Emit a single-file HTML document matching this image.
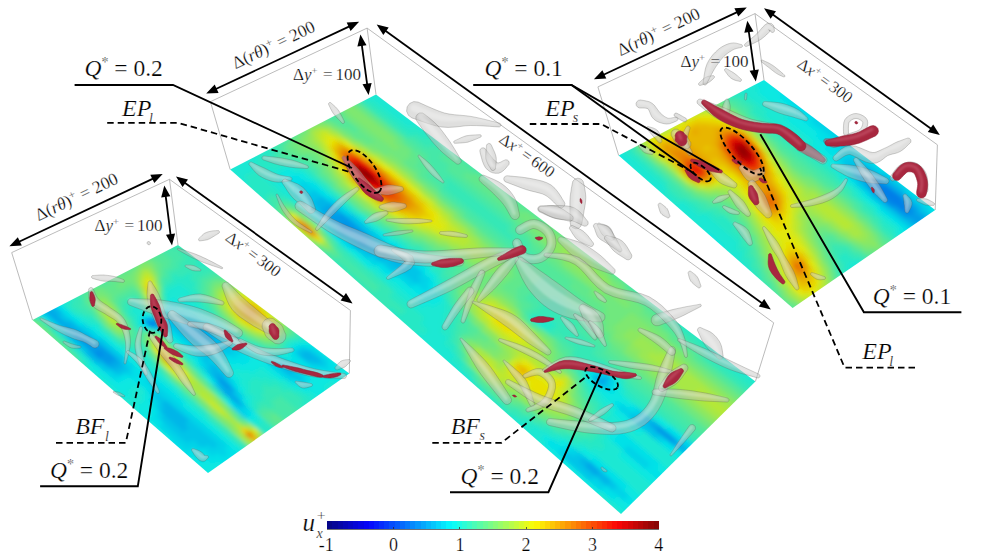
<!DOCTYPE html>
<html lang="en"><head><meta charset="utf-8"><title>Figure</title>
<style>html,body{margin:0;padding:0;background:#fff}svg{display:block}text{font-family:"Liberation Serif","DejaVu Serif",serif;fill:#000;stroke:#fff;stroke-width:0.24px}.it{font-style:italic}</style></head><body>
<svg width="983" height="553" viewBox="0 0 983 553">
<defs><filter id="bl" x="-5%" y="-5%" width="110%" height="110%"><feGaussianBlur stdDeviation="2.2"/></filter><filter id="b1" x="-20%" y="-20%" width="140%" height="140%"><feGaussianBlur stdDeviation="0.8"/></filter><filter id="b2" x="-20%" y="-20%" width="140%" height="140%"><feGaussianBlur stdDeviation="1.6"/></filter><marker id="ah" viewBox="0 0 12 10" refX="11.5" refY="5" markerWidth="12" markerHeight="10" markerUnits="userSpaceOnUse" orient="auto-start-reverse"><path d="M0 0L12 5L0 10z" fill="#000"/></marker></defs>
<rect width="983" height="553" fill="#fff"/>
<!-- plane mid -->
<clipPath id="cp_mid"><polygon points="376,94.5 755.4,381.5 621,514 230.2,169.5"/></clipPath>
<g clip-path="url(#cp_mid)"><g filter="url(#bl)">
<path fill="#1ae8d3" d="M365.4 76.1L440 132L434.4 135.2L359.7 78.9z"/>
<path fill="#28e8c5" d="M438.7 131.1L467.3 152.5L461.7 155.8L433.1 134.3z"/>
<path fill="#36e8b6" d="M465.9 151.5L567.9 228L562.4 231.8L460.3 154.8z"/>
<path fill="#45e8a8" d="M566.4 226.8L604.1 255.1L598.7 259.2L560.9 230.7z"/>
<path fill="#36e8b6" d="M602.5 253.9L641.8 283.4L636.4 287.7L597.1 258z"/>
<path fill="#28e8c5" d="M640.1 282.1L686 316.6L680.7 321.1L634.7 286.4z"/>
<path fill="#1ae8d3" d="M684.3 315.3L792.2 396.2L787.1 401.4L679 319.8z"/>
<path fill="#1ae8d3" d="M360.5 78.6L427.5 129L421.8 132.2L354.8 81.4z"/>
<path fill="#28e8c5" d="M426.2 128.1L442.9 140.6L437.2 143.9L420.5 131.2z"/>
<path fill="#36e8b6" d="M441.5 139.6L458.5 152.4L452.8 155.7L435.9 142.9z"/>
<path fill="#45e8a8" d="M457.1 151.4L494.8 179.7L489.1 183.3L451.5 154.7z"/>
<path fill="#53e89a" d="M493.3 178.7L549.9 221.3L544.4 225.2L487.7 182.2z"/>
<path fill="#61e88c" d="M548.4 220.2L613.4 269.2L607.9 273.3L542.9 224z"/>
<path fill="#53e89a" d="M611.8 267.9L632.3 283.4L626.9 287.7L606.3 272.1z"/>
<path fill="#45e8a8" d="M630.7 282.2L651.7 298L646.3 302.4L625.3 286.5z"/>
<path fill="#36e8b6" d="M650 296.8L681.5 320.5L676.1 325.1L644.6 301.2z"/>
<path fill="#28e8c5" d="M679.7 319.2L717.4 347.6L712.2 352.4L674.4 323.8z"/>
<path fill="#1ae8d3" d="M715.6 346.2L787.8 400.7L782.8 405.9L710.4 351z"/>
<path fill="#1ae8d3" d="M355.6 81L415 126L409.3 129.2L349.8 83.9z"/>
<path fill="#28e8c5" d="M413.7 125.1L430.3 137.6L424.5 140.8L408 128.2z"/>
<path fill="#36e8b6" d="M428.9 136.6L441.9 146.4L436.2 149.7L423.2 139.8z"/>
<path fill="#45e8a8" d="M440.5 145.4L453.6 155.3L447.9 158.6L434.8 148.7z"/>
<path fill="#53e89a" d="M452.3 154.3L477.6 173.5L472 177L446.6 157.6z"/>
<path fill="#61e88c" d="M476.3 172.4L527.8 211.5L522.2 215.2L470.6 175.9z"/>
<path fill="#6fe87e" d="M526.3 210.3L545.1 224.6L539.6 228.5L520.7 214.1z"/>
<path fill="#7ee86f" d="M543.6 223.5L567.3 241.4L561.8 245.4L538.1 227.3z"/>
<path fill="#8ce861" d="M565.8 240.3L594.7 262.2L589.2 266.3L560.2 244.2z"/>
<path fill="#7ee86f" d="M593.1 261L613.4 276.3L607.9 280.6L587.6 265.1z"/>
<path fill="#6fe87e" d="M611.8 275.1L627.7 287.1L622.2 291.5L606.3 279.3z"/>
<path fill="#61e88c" d="M626 285.9L642.2 298.1L636.7 302.6L620.6 290.2z"/>
<path fill="#53e89a" d="M640.5 296.9L661.9 313L656.5 317.6L635.1 301.3z"/>
<path fill="#45e8a8" d="M660.2 311.8L681.9 328.3L676.6 332.9L654.8 316.3z"/>
<path fill="#36e8b6" d="M680.2 327L707.7 347.8L702.4 352.6L674.9 331.6z"/>
<path fill="#28e8c5" d="M705.9 346.4L783.5 405.2L778.4 410.5L700.6 351.2z"/>
<path fill="#1ae8d3" d="M350.6 83.5L373.2 100.7L367.4 103.7L344.8 86.4z"/>
<path fill="#28e8c5" d="M372 99.7L417.7 134.5L411.9 137.8L366.2 102.7z"/>
<path fill="#36e8b6" d="M416.4 133.5L433.1 146.2L427.3 149.6L410.6 136.8z"/>
<path fill="#45e8a8" d="M431.7 145.2L444.8 155.2L439 158.5L426 148.5z"/>
<path fill="#53e89a" d="M443.4 154.1L468.7 173.4L463 176.9L437.7 157.5z"/>
<path fill="#61e88c" d="M467.3 172.3L518.7 211.4L513 215.2L461.6 175.8z"/>
<path fill="#6fe87e" d="M517.2 210.3L536 224.6L530.3 228.5L511.5 214.1z"/>
<path fill="#7ee86f" d="M534.5 223.5L549.2 234.7L543.5 238.6L528.8 227.3z"/>
<path fill="#8ce861" d="M547.6 233.5L567.1 248.3L561.5 252.3L542 237.4z"/>
<path fill="#9ae853" d="M565.5 247.1L599.3 272.8L593.7 277.1L559.9 251.2z"/>
<path fill="#8ce861" d="M597.7 271.6L613.4 283.6L607.9 287.9L592.1 275.8z"/>
<path fill="#7ee86f" d="M611.8 282.4L627.8 294.5L622.3 298.9L606.3 286.7z"/>
<path fill="#6fe87e" d="M626.1 293.3L647.3 309.4L641.8 313.9L620.6 297.7z"/>
<path fill="#61e88c" d="M645.6 308.1L667.2 324.6L661.8 329.2L640.2 312.6z"/>
<path fill="#53e89a" d="M665.5 323.3L687.6 340.1L682.2 344.8L660.1 327.9z"/>
<path fill="#45e8a8" d="M685.8 338.7L708.3 355.9L703 360.8L680.4 343.5z"/>
<path fill="#36e8b6" d="M706.5 354.5L779.1 409.8L773.9 415.1L701.2 359.4z"/>
<path fill="#36e8b6" d="M345.6 86L412.7 137.3L406.9 140.6L339.8 88.9z"/>
<path fill="#45e8a8" d="M411.4 136.3L451.7 167.2L445.9 170.6L405.6 139.6z"/>
<path fill="#53e89a" d="M450.4 166.1L513.8 214.7L508.1 218.5L444.6 169.6z"/>
<path fill="#61e88c" d="M512.3 213.6L531.1 227.9L525.4 231.8L506.6 217.3z"/>
<path fill="#6fe87e" d="M529.6 226.8L544.3 238.1L538.6 242L523.9 230.7z"/>
<path fill="#7ee86f" d="M542.8 236.9L557.7 248.3L552.1 252.4L537.1 240.9z"/>
<path fill="#8ce861" d="M556.2 247.1L608.7 287.3L603.1 291.7L550.5 251.2z"/>
<path fill="#7ee86f" d="M607 286.1L632.8 305.8L627.3 310.3L601.5 290.4z"/>
<path fill="#6fe87e" d="M631.1 304.5L672.7 336.3L667.3 341.1L625.6 309z"/>
<path fill="#61e88c" d="M670.9 335L698.5 356.1L693.1 361L665.5 339.7z"/>
<path fill="#53e89a" d="M696.7 354.7L774.6 414.4L769.4 419.8L691.3 359.6z"/>
<path fill="#53e89a" d="M340.6 88.5L359.6 103.1L353.7 106.1L334.7 91.4z"/>
<path fill="#61e88c" d="M358.3 102.1L407.7 140.1L401.9 143.4L352.5 105.2z"/>
<path fill="#53e89a" d="M406.4 139.1L430.9 158L425.1 161.4L400.6 142.4z"/>
<path fill="#45e8a8" d="M429.6 156.9L517.5 224.6L511.7 228.5L423.7 160.3z"/>
<path fill="#53e89a" d="M516 223.4L535 238.1L529.3 242L510.3 227.3z"/>
<path fill="#61e88c" d="M533.5 236.9L548.4 248.3L542.7 252.4L527.8 240.9z"/>
<path fill="#6fe87e" d="M546.8 247.2L566.5 262.3L560.8 266.5L541.1 251.2z"/>
<path fill="#7ee86f" d="M564.9 261.1L608.7 294.7L603.1 299.2L559.2 265.2z"/>
<path fill="#6fe87e" d="M607 293.5L632.9 313.4L627.4 318L601.4 297.9z"/>
<path fill="#7ee86f" d="M631.2 312.1L688.6 356.3L683.2 361.2L625.7 316.7z"/>
<path fill="#6fe87e" d="M686.9 354.9L770.1 419L764.9 424.5L681.4 359.8z"/>
<path fill="#61e88c" d="M335.5 91L340.3 94.7L334.3 97.6L329.6 93.9z"/>
<path fill="#6fe87e" d="M339 93.7L350.9 102.9L345 105.9L333.1 96.7z"/>
<path fill="#7ee86f" d="M349.7 102L398.9 140L393 143.3L343.8 105z"/>
<path fill="#6fe87e" d="M397.6 139L414.2 151.9L408.3 155.2L391.7 142.3z"/>
<path fill="#61e88c" d="M412.9 150.8L422 157.9L416.1 161.3L407 154.2z"/>
<path fill="#53e89a" d="M420.6 156.8L433.8 167L427.9 170.5L414.8 160.2z"/>
<path fill="#45e8a8" d="M432.4 165.9L449.8 179.4L443.9 182.9L426.5 169.4z"/>
<path fill="#36e8b6" d="M448.4 178.3L512.5 227.9L506.8 231.8L442.5 181.8z"/>
<path fill="#45e8a8" d="M511.1 226.8L534.5 244.9L528.8 249L505.3 230.7z"/>
<path fill="#53e89a" d="M533 243.7L548 255.3L542.2 259.4L527.2 247.8z"/>
<path fill="#61e88c" d="M546.4 254.1L594.3 291.2L588.6 295.5L540.7 258.2z"/>
<path fill="#6fe87e" d="M592.7 289.9L628.1 317.4L622.5 322L587 294.3z"/>
<path fill="#7ee86f" d="M626.5 316L643 328.9L637.5 333.6L620.8 320.6z"/>
<path fill="#8ce861" d="M641.3 327.6L765.6 423.7L760.3 429.2L635.7 332.2z"/>
<path fill="#61e88c" d="M330.4 93.5L335.1 97.2L329.2 100.2L324.4 96.5z"/>
<path fill="#6fe87e" d="M333.9 96.3L342.2 102.7L336.3 105.8L328 99.3z"/>
<path fill="#7ee86f" d="M341 101.8L401.4 148.8L395.5 152.1L335.1 104.8z"/>
<path fill="#6fe87e" d="M400.1 147.7L413 157.8L407.1 161.2L394.2 151.1z"/>
<path fill="#61e88c" d="M411.7 156.7L420.8 163.8L414.9 167.3L405.7 160.1z"/>
<path fill="#53e89a" d="M419.5 162.8L432.7 173.1L426.8 176.6L413.6 166.2z"/>
<path fill="#45e8a8" d="M431.3 172L448.8 185.6L442.9 189.2L425.4 175.5z"/>
<path fill="#36e8b6" d="M447.4 184.5L516.3 238.1L510.5 242.1L441.5 188.1z"/>
<path fill="#45e8a8" d="M514.8 236.9L538.5 255.4L532.7 259.5L509 240.9z"/>
<path fill="#53e89a" d="M537 254.2L575.2 283.9L569.5 288.3L531.2 258.3z"/>
<path fill="#61e88c" d="M573.6 282.7L608.6 309.9L603 314.4L567.9 287z"/>
<path fill="#6fe87e" d="M607 308.6L623.3 321.3L617.7 326L601.3 313.1z"/>
<path fill="#7ee86f" d="M621.6 320L633.2 329L627.6 333.7L616 324.6z"/>
<path fill="#8ce861" d="M631.5 327.7L643.3 336.8L637.7 341.6L625.9 332.4z"/>
<path fill="#9ae853" d="M641.5 335.5L663.6 352.7L658.1 357.6L635.9 340.2z"/>
<path fill="#a8e845" d="M661.9 351.3L761.1 428.4L755.7 434L656.3 356.2z"/>
<path fill="#53e89a" d="M325.3 96.1L337.1 105.4L331.1 108.4L319.3 99.1z"/>
<path fill="#61e88c" d="M335.9 104.4L347.9 113.8L341.9 116.9L329.9 107.4z"/>
<path fill="#6fe87e" d="M346.6 112.8L407.9 160.7L401.9 164.1L340.6 115.9z"/>
<path fill="#61e88c" d="M406.6 159.7L423.6 173L417.7 176.5L400.6 163.1z"/>
<path fill="#53e89a" d="M422.3 171.9L443.7 188.7L437.8 192.3L416.3 175.4z"/>
<path fill="#45e8a8" d="M442.3 187.6L538 262.4L532.2 266.6L436.4 191.2z"/>
<path fill="#53e89a" d="M536.5 261.2L589.3 302.5L583.5 307L530.7 265.4z"/>
<path fill="#61e88c" d="M587.6 301.2L608.6 317.6L602.9 322.2L581.9 305.7z"/>
<path fill="#6fe87e" d="M606.9 316.3L618.5 325.3L612.8 330L601.2 320.9z"/>
<path fill="#7ee86f" d="M616.8 324L628.4 333.1L622.7 337.8L611.1 328.7z"/>
<path fill="#8ce861" d="M626.7 331.7L638.4 340.9L632.8 345.7L621 336.5z"/>
<path fill="#9ae853" d="M636.7 339.6L653.7 352.9L648.1 357.8L631 344.4z"/>
<path fill="#a8e845" d="M651.9 351.5L701 389.9L695.5 395.1L646.3 356.4z"/>
<path fill="#b6e836" d="M699.2 388.4L756.5 433.2L751.1 438.8L693.7 393.6z"/>
<path fill="#36e8b6" d="M320.1 98.7L328.4 105.2L322.3 108.2L314 101.7z"/>
<path fill="#45e8a8" d="M327.2 104.2L339.1 113.6L333 116.7L321.1 107.3z"/>
<path fill="#53e89a" d="M337.9 112.6L361 130.8L355 134.1L331.8 115.8z"/>
<path fill="#61e88c" d="M359.7 129.8L375.9 142.6L369.9 145.9L353.7 133.1z"/>
<path fill="#6fe87e" d="M374.6 141.6L391.2 154.5L385.1 157.9L368.6 144.9z"/>
<path fill="#7ee86f" d="M389.8 153.5L418.5 176L412.5 179.6L383.8 156.9z"/>
<path fill="#6fe87e" d="M417.1 175L442.7 195L436.7 198.7L411.1 178.5z"/>
<path fill="#61e88c" d="M441.3 193.9L467.5 214.6L461.6 218.4L435.3 197.6z"/>
<path fill="#53e89a" d="M466.1 213.4L546.7 276.8L540.9 281.1L460.1 217.2z"/>
<path fill="#45e8a8" d="M545.1 275.6L570 295.1L564.2 299.6L539.3 279.9z"/>
<path fill="#53e89a" d="M568.4 293.9L593.9 313.9L588.2 318.5L562.6 298.3z"/>
<path fill="#61e88c" d="M592.3 312.6L608.6 325.5L602.8 330.1L586.5 317.2z"/>
<path fill="#6fe87e" d="M606.9 324.1L618.5 333.2L612.8 338L601.2 328.8z"/>
<path fill="#7ee86f" d="M616.8 331.9L633.6 345.1L627.8 349.9L611.1 336.6z"/>
<path fill="#8ce861" d="M631.8 343.7L643.7 353.1L638 358L626.1 348.6z"/>
<path fill="#9ae853" d="M642 351.7L680.2 381.7L674.6 386.9L636.3 356.6z"/>
<path fill="#a8e845" d="M678.4 380.3L751.8 438L746.4 443.7L672.8 385.5z"/>
<path fill="#28e8c5" d="M314.9 101.3L319.6 105L313.5 108.1L308.8 104.3z"/>
<path fill="#36e8b6" d="M318.4 104.1L330.3 113.5L324.2 116.6L312.3 107.1z"/>
<path fill="#45e8a8" d="M329.1 112.5L337.5 119.2L331.4 122.3L323 115.6z"/>
<path fill="#53e89a" d="M336.3 118.2L348.4 127.8L342.3 131L330.2 121.3z"/>
<path fill="#61e88c" d="M347.2 126.8L363.2 139.5L357.1 142.8L341.1 130z"/>
<path fill="#6fe87e" d="M362 138.5L370.7 145.4L364.7 148.8L355.9 141.8z"/>
<path fill="#7ee86f" d="M369.5 144.4L378.3 151.4L372.2 154.8L363.4 147.7z"/>
<path fill="#8ce861" d="M377 150.4L382.1 154.4L376.1 157.8L370.9 153.8z"/>
<path fill="#9ae853" d="M380.8 153.4L393.7 163.6L387.6 167L374.8 156.8z"/>
<path fill="#a8e845" d="M392.4 162.5L425.3 188.6L419.3 192.2L386.3 166z"/>
<path fill="#9ae853" d="M423.9 187.5L441.6 201.4L435.6 205.2L417.9 191.1z"/>
<path fill="#8ce861" d="M440.2 200.3L458.2 214.5L452.2 218.4L434.2 204z"/>
<path fill="#7ee86f" d="M456.8 213.4L479.4 231.3L473.4 235.3L450.7 217.2z"/>
<path fill="#6fe87e" d="M477.9 230.1L505.5 252L499.6 256.1L471.9 234.1z"/>
<path fill="#61e88c" d="M504 250.8L523.4 266.1L517.5 270.3L498.1 254.9z"/>
<path fill="#53e89a" d="M521.9 264.9L541.7 280.5L535.8 284.8L515.9 269.1z"/>
<path fill="#45e8a8" d="M540.1 279.3L584.1 314.1L578.3 318.7L534.2 283.6z"/>
<path fill="#53e89a" d="M582.5 312.8L603.6 329.5L597.8 334.2L576.6 317.4z"/>
<path fill="#61e88c" d="M602 328.2L613.6 337.3L607.8 342.1L596.1 332.9z"/>
<path fill="#6fe87e" d="M611.9 336L628.6 349.2L622.9 354.1L606.1 340.8z"/>
<path fill="#7ee86f" d="M626.9 347.9L654.3 369.5L648.6 374.6L621.1 352.8z"/>
<path fill="#8ce861" d="M652.5 368.1L747.1 442.9L741.6 448.6L646.8 373.2z"/>
<path fill="#36e8b6" d="M309.6 103.9L317.9 110.5L311.8 113.6L303.5 106.9z"/>
<path fill="#45e8a8" d="M316.7 109.5L325 116.1L318.9 119.3L310.5 112.6z"/>
<path fill="#53e89a" d="M323.8 115.2L328.6 119L322.5 122.2L317.7 118.3z"/>
<path fill="#61e88c" d="M327.4 118L332.2 121.9L326.1 125.1L321.3 121.2z"/>
<path fill="#6fe87e" d="M331 120.9L339.5 127.6L333.4 130.9L324.9 124.1z"/>
<path fill="#7ee86f" d="M338.3 126.7L350.6 136.4L344.4 139.7L332.1 129.9z"/>
<path fill="#8ce861" d="M349.3 135.4L358 142.3L351.9 145.7L343.1 138.7z"/>
<path fill="#9ae853" d="M356.7 141.3L361.7 145.3L355.6 148.7L350.6 144.6z"/>
<path fill="#a8e845" d="M360.5 144.3L365.5 148.3L359.4 151.7L354.3 147.6z"/>
<path fill="#b6e836" d="M364.2 147.3L373.1 154.3L367 157.7L358.1 150.6z"/>
<path fill="#c5e828" d="M371.8 153.3L376.9 157.4L370.8 160.8L365.7 156.7z"/>
<path fill="#d3e81a" d="M375.6 156.3L384.6 163.5L378.5 166.9L369.5 159.7z"/>
<path fill="#e1e80c" d="M383.3 162.4L392.4 169.6L386.2 173.2L377.2 165.9z"/>
<path fill="#e8e105" d="M391 168.6L412.1 185.3L406 188.9L384.9 172.1z"/>
<path fill="#e1e80c" d="M410.7 184.2L424.2 194.9L418.1 198.6L404.6 187.8z"/>
<path fill="#d3e81a" d="M422.8 193.8L436.4 204.6L430.3 208.4L416.7 197.5z"/>
<path fill="#c5e828" d="M435 203.5L444.7 211.2L438.6 215L428.9 207.3z"/>
<path fill="#b6e836" d="M443.2 210.1L453 217.8L447 221.7L437.2 213.9z"/>
<path fill="#a8e845" d="M451.6 216.7L470 231.3L463.9 235.3L445.5 220.6z"/>
<path fill="#9ae853" d="M468.5 230.1L482.9 241.6L476.9 245.6L462.4 234.1z"/>
<path fill="#8ce861" d="M481.4 240.4L500.4 255.5L494.4 259.7L475.4 244.4z"/>
<path fill="#7ee86f" d="M498.9 254.3L509.3 262.6L503.3 266.8L492.9 258.4z"/>
<path fill="#6fe87e" d="M507.8 261.4L518.3 269.7L512.3 274L501.8 265.6z"/>
<path fill="#61e88c" d="M516.8 268.5L527.4 277L521.4 281.3L510.8 272.7z"/>
<path fill="#53e89a" d="M525.8 275.7L536.6 284.2L530.6 288.6L519.9 280z"/>
<path fill="#45e8a8" d="M535 283L555.2 299.1L549.3 303.6L529 287.4z"/>
<path fill="#36e8b6" d="M553.6 297.8L569.5 310.4L563.6 315L547.7 302.3z"/>
<path fill="#45e8a8" d="M567.8 309.1L593.7 329.7L587.9 334.4L561.9 313.7z"/>
<path fill="#53e89a" d="M592 328.3L613.6 345.4L607.8 350.3L586.2 333z"/>
<path fill="#61e88c" d="M611.9 344.1L639 365.7L633.3 370.7L606 348.9z"/>
<path fill="#6fe87e" d="M637.3 364.3L742.4 447.8L736.8 453.5L631.5 369.3z"/>
<path fill="#36e8b6" d="M304.3 106.5L309.1 110.3L302.9 113.4L298.1 109.6z"/>
<path fill="#45e8a8" d="M307.8 109.3L316.2 116L310 119.1L301.7 112.4z"/>
<path fill="#53e89a" d="M314.9 115L319.7 118.8L313.6 122L308.8 118.1z"/>
<path fill="#6fe87e" d="M318.5 117.9L323.3 121.7L317.2 124.9L312.3 121z"/>
<path fill="#7ee86f" d="M322.1 120.7L327 124.6L320.8 127.8L315.9 123.9z"/>
<path fill="#8ce861" d="M325.7 123.6L330.6 127.5L324.4 130.7L319.5 126.8z"/>
<path fill="#a8e845" d="M329.3 126.5L337.9 133.3L331.7 136.6L323.2 129.7z"/>
<path fill="#b6e836" d="M336.6 132.3L341.6 136.3L335.4 139.6L330.5 135.6z"/>
<path fill="#c5e828" d="M340.3 135.3L345.3 139.2L339.1 142.5L334.1 138.6z"/>
<path fill="#d3e81a" d="M344 138.2L349 142.2L342.8 145.5L337.8 141.5z"/>
<path fill="#e1e80c" d="M347.7 141.2L352.7 145.2L346.5 148.5L341.5 144.5z"/>
<path fill="#e8e105" d="M351.4 144.2L356.5 148.2L350.3 151.6L345.3 147.5z"/>
<path fill="#e8d305" d="M355.2 147.2L360.2 151.2L354.1 154.6L349 150.5z"/>
<path fill="#e8c505" d="M358.9 150.2L364 154.2L357.8 157.6L352.8 153.5z"/>
<path fill="#e8b605" d="M362.7 153.2L367.8 157.3L361.6 160.7L356.5 156.6z"/>
<path fill="#e8a805" d="M366.5 156.2L371.6 160.3L365.5 163.8L360.3 159.6z"/>
<path fill="#e89a05" d="M370.3 159.3L379.3 166.5L373.2 170L364.2 162.7z"/>
<path fill="#e88c05" d="M378 165.4L391 175.8L384.9 179.3L371.8 168.9z"/>
<path fill="#e89a05" d="M389.7 174.7L402.9 185.3L396.7 188.9L383.5 178.3z"/>
<path fill="#e8a805" d="M401.5 184.2L410.8 191.6L404.7 195.3L395.3 187.8z"/>
<path fill="#e8b605" d="M409.5 190.5L418.9 198.1L412.8 201.8L403.3 194.2z"/>
<path fill="#e8c505" d="M417.5 197L427.1 204.6L420.9 208.4L411.4 200.7z"/>
<path fill="#e8d305" d="M425.7 203.5L431.2 207.9L425.1 211.7L419.5 207.2z"/>
<path fill="#e8e105" d="M429.8 206.8L439.4 214.5L433.3 218.3L423.6 210.5z"/>
<path fill="#e1e80c" d="M438 213.4L443.6 217.8L437.5 221.7L431.9 217.2z"/>
<path fill="#d3e81a" d="M442.2 216.7L452 224.5L445.9 228.4L436.1 220.5z"/>
<path fill="#c5e828" d="M450.6 223.4L460.5 231.3L454.4 235.3L444.5 227.3z"/>
<path fill="#b6e836" d="M459 230.1L473.4 241.6L467.3 245.6L452.9 234.1z"/>
<path fill="#a8e845" d="M471.9 240.4L486.4 252L480.4 256.2L465.8 244.4z"/>
<path fill="#9ae853" d="M484.9 250.8L495.2 259.1L489.2 263.3L478.9 254.9z"/>
<path fill="#8ce861" d="M493.7 257.9L504.2 266.2L498.1 270.4L487.7 262z"/>
<path fill="#7ee86f" d="M502.6 265L513.2 273.4L507.1 277.7L496.6 269.2z"/>
<path fill="#6fe87e" d="M511.6 272.2L517.7 277L511.7 281.3L505.6 276.4z"/>
<path fill="#61e88c" d="M516.1 275.8L526.8 284.3L520.8 288.7L510.1 280.1z"/>
<path fill="#53e89a" d="M525.3 283.1L536.1 291.7L530.1 296.1L519.3 287.4z"/>
<path fill="#45e8a8" d="M534.5 290.4L545.4 299.2L539.4 303.7L528.5 294.9z"/>
<path fill="#36e8b6" d="M543.8 297.9L578.9 325.9L573 330.6L537.8 302.4z"/>
<path fill="#45e8a8" d="M577.2 324.6L608.6 349.6L602.7 354.5L571.3 329.3z"/>
<path fill="#53e89a" d="M606.8 348.3L737.6 452.7L732 458.6L601 353.2z"/>
<path fill="#36e8b6" d="M299 109.2L303.7 113L297.5 116.1L292.7 112.3z"/>
<path fill="#45e8a8" d="M302.5 112L307.3 115.8L301 119L296.3 115.1z"/>
<path fill="#53e89a" d="M306.1 114.9L310.8 118.7L304.6 121.9L299.8 118z"/>
<path fill="#61e88c" d="M309.6 117.7L314.4 121.6L308.2 124.8L303.4 120.9z"/>
<path fill="#6fe87e" d="M313.2 120.6L318 124.5L311.8 127.7L307 123.8z"/>
<path fill="#8ce861" d="M316.8 123.5L321.6 127.4L315.4 130.6L310.5 126.7z"/>
<path fill="#a8e845" d="M320.4 126.4L325.3 130.3L319 133.5L314.2 129.6z"/>
<path fill="#c5e828" d="M324 129.3L328.9 133.2L322.7 136.5L317.8 132.5z"/>
<path fill="#d3e81a" d="M327.7 132.2L332.6 136.2L326.3 139.4L321.4 135.5z"/>
<path fill="#e1e80c" d="M331.3 135.1L336.3 139.1L330 142.4L325.1 138.4z"/>
<path fill="#e8e105" d="M335 138.1L339.9 142.1L333.7 145.4L328.8 141.4z"/>
<path fill="#e8c505" d="M338.7 141.1L343.7 145.1L337.4 148.4L332.5 144.4z"/>
<path fill="#e8a805" d="M342.4 144L347.4 148.1L341.2 151.4L336.2 147.4z"/>
<path fill="#e88c05" d="M346.1 147L351.1 151.1L344.9 154.5L339.9 150.4z"/>
<path fill="#e86f05" d="M349.9 150L354.9 154.1L348.7 157.5L343.6 153.4z"/>
<path fill="#e85305" d="M353.6 153.1L358.7 157.2L352.5 160.6L347.4 156.5z"/>
<path fill="#e82805" d="M357.4 156.1L362.5 160.2L356.3 163.7L351.2 159.5z"/>
<path fill="#e81a05" d="M361.2 159.2L366.3 163.3L360.1 166.8L355 162.6z"/>
<path fill="#e80c05" d="M365 162.2L370.2 166.4L364 169.9L358.8 165.7z"/>
<path fill="#e10505" d="M368.8 165.3L374 169.5L367.8 173L362.6 168.8z"/>
<path fill="#e80c05" d="M372.7 168.4L381.8 175.7L375.6 179.3L366.5 171.9z"/>
<path fill="#e82805" d="M380.5 174.6L385.7 178.9L379.5 182.4L374.3 178.2z"/>
<path fill="#e83605" d="M384.4 177.8L389.6 182L383.4 185.6L378.2 181.4z"/>
<path fill="#e84505" d="M388.3 180.9L393.6 185.2L387.4 188.8L382.1 184.5z"/>
<path fill="#e85305" d="M392.2 184.1L397.6 188.4L391.4 192L386 187.7z"/>
<path fill="#e86105" d="M396.2 187.3L401.6 191.6L395.4 195.3L390 190.9z"/>
<path fill="#e86f05" d="M400.2 190.5L405.6 194.8L399.4 198.5L394 194.2z"/>
<path fill="#e87e05" d="M404.2 193.7L409.6 198L403.4 201.8L398 197.4z"/>
<path fill="#e88c05" d="M408.2 196.9L413.6 201.3L407.5 205L402 200.7z"/>
<path fill="#e89a05" d="M412.2 200.2L417.7 204.6L411.5 208.3L406.1 203.9z"/>
<path fill="#e8a805" d="M416.3 203.4L421.8 207.8L415.6 211.6L410.1 207.2z"/>
<path fill="#e8b605" d="M420.4 206.7L425.9 211.1L419.7 215L414.2 210.5z"/>
<path fill="#e8c505" d="M424.5 210L430 214.5L423.9 218.3L418.3 213.8z"/>
<path fill="#e8d305" d="M428.6 213.3L434.2 217.8L428 221.7L422.4 217.2z"/>
<path fill="#e8e105" d="M432.8 216.7L438.3 221.1L432.2 225L426.6 220.5z"/>
<path fill="#e1e80c" d="M436.9 220L446.7 227.9L440.6 231.8L430.8 223.9z"/>
<path fill="#d3e81a" d="M445.3 226.7L451 231.3L444.8 235.3L439.1 230.7z"/>
<path fill="#c5e828" d="M449.5 230.1L459.5 238.1L453.4 242.2L443.4 234.1z"/>
<path fill="#b6e836" d="M458 237L468.1 245.1L462 249.1L451.9 241z"/>
<path fill="#a8e845" d="M466.6 243.9L481.2 255.6L475.1 259.7L460.5 247.9z"/>
<path fill="#9ae853" d="M479.7 254.4L490 262.7L483.9 266.9L473.6 258.5z"/>
<path fill="#8ce861" d="M488.5 261.5L499 269.8L492.9 274.1L482.4 265.7z"/>
<path fill="#7ee86f" d="M497.4 268.6L508 277.1L501.9 281.4L491.3 272.9z"/>
<path fill="#6fe87e" d="M506.4 275.8L512.5 280.7L506.4 285.1L500.3 280.2z"/>
<path fill="#61e88c" d="M511 279.5L521.7 288.1L515.6 292.5L504.9 283.8z"/>
<path fill="#53e89a" d="M520.1 286.8L530.9 295.5L524.9 300L514 291.2z"/>
<path fill="#45e8a8" d="M529.3 294.3L545 306.8L539 311.4L523.3 298.7z"/>
<path fill="#36e8b6" d="M543.4 305.5L598.5 349.8L592.5 354.7L537.3 310.1z"/>
<path fill="#45e8a8" d="M596.8 348.4L732.8 457.7L727.2 463.6L590.8 353.3z"/>
<path fill="#36e8b6" d="M293.6 111.8L301.9 118.5L295.6 121.7L287.3 115z"/>
<path fill="#45e8a8" d="M300.7 117.6L305.5 121.4L299.2 124.6L294.4 120.7z"/>
<path fill="#53e89a" d="M304.2 120.4L309.1 124.3L302.8 127.5L298 123.6z"/>
<path fill="#6fe87e" d="M307.8 123.3L312.6 127.2L306.4 130.5L301.5 126.5z"/>
<path fill="#8ce861" d="M311.4 126.2L316.3 130.1L310 133.4L305.1 129.4z"/>
<path fill="#a8e845" d="M315 129.1L319.9 133.1L313.6 136.3L308.7 132.4z"/>
<path fill="#b6e836" d="M318.6 132.1L323.5 136L317.3 139.3L312.4 135.3z"/>
<path fill="#c5e828" d="M322.3 135L327.2 139L320.9 142.3L316 138.3z"/>
<path fill="#d3e81a" d="M325.9 138L330.9 142L324.6 145.3L319.7 141.3z"/>
<path fill="#e1e80c" d="M329.6 140.9L334.6 145L328.3 148.3L323.4 144.3z"/>
<path fill="#e8d305" d="M333.3 143.9L338.3 148L332 151.3L327 147.3z"/>
<path fill="#e8b605" d="M337 146.9L342 151L335.8 154.4L330.8 150.3z"/>
<path fill="#e89a05" d="M340.8 149.9L345.8 154L339.5 157.4L334.5 153.3z"/>
<path fill="#e86f05" d="M344.5 153L349.6 157.1L343.3 160.5L338.2 156.4z"/>
<path fill="#e83605" d="M348.3 156L353.3 160.1L347.1 163.6L342 159.4z"/>
<path fill="#e80c05" d="M352 159.1L357.2 163.2L350.9 166.7L345.8 162.5z"/>
<path fill="#c50505" d="M355.8 162.1L361 166.3L354.7 169.8L349.6 165.6z"/>
<path fill="#9a0505" d="M359.7 165.2L364.8 169.4L358.6 172.9L353.4 168.7z"/>
<path fill="#8c0505" d="M363.5 168.3L368.7 172.5L362.4 176L357.2 171.8z"/>
<path fill="#7e0505" d="M367.4 171.4L372.6 175.6L366.3 179.2L361.1 175z"/>
<path fill="#8c0505" d="M371.2 174.6L376.5 178.8L370.2 182.4L365 178.1z"/>
<path fill="#a80505" d="M375.1 177.7L380.4 181.9L374.1 185.6L368.9 181.3z"/>
<path fill="#c50505" d="M379 180.9L384.3 185.1L378.1 188.8L372.8 184.5z"/>
<path fill="#e10505" d="M383 184L388.3 188.3L382 192L376.7 187.7z"/>
<path fill="#e81a05" d="M386.9 187.2L392.2 191.5L386 195.2L380.7 190.9z"/>
<path fill="#e83605" d="M390.9 190.4L396.2 194.8L390 198.5L384.6 194.1z"/>
<path fill="#e85305" d="M394.9 193.6L400.2 198L394 201.7L388.6 197.3z"/>
<path fill="#e86105" d="M398.9 196.9L404.3 201.3L398 205L392.6 200.6z"/>
<path fill="#e87e05" d="M402.9 200.1L408.3 204.5L402.1 208.3L396.6 203.9z"/>
<path fill="#e88c05" d="M406.9 203.4L412.4 207.8L406.2 211.6L400.7 207.2z"/>
<path fill="#e8a805" d="M411 206.7L416.5 211.1L410.3 214.9L404.8 210.5z"/>
<path fill="#e8b605" d="M415.1 210L420.6 214.4L414.4 218.3L408.8 213.8z"/>
<path fill="#e8c505" d="M419.2 213.3L424.7 217.8L418.5 221.7L413 217.1z"/>
<path fill="#e8e105" d="M423.3 216.6L428.9 221.1L422.7 225L417.1 220.5z"/>
<path fill="#e1e80c" d="M427.4 220L433 224.5L426.8 228.4L421.2 223.9z"/>
<path fill="#d3e81a" d="M431.6 223.3L441.5 231.3L435.2 235.3L425.4 227.3z"/>
<path fill="#c5e828" d="M440 230.1L445.7 234.7L439.5 238.7L433.8 234.1z"/>
<path fill="#b6e836" d="M444.2 233.5L449.9 238.2L443.7 242.2L438 237.5z"/>
<path fill="#a8e845" d="M448.5 237L458.5 245.1L452.3 249.2L442.3 241z"/>
<path fill="#9ae853" d="M457 243.9L467.2 252.1L461 256.2L450.9 248z"/>
<path fill="#8ce861" d="M465.7 250.9L480.3 262.7L474.2 266.9L459.5 255z"/>
<path fill="#7ee86f" d="M478.8 261.5L493.7 273.5L487.6 277.8L472.7 265.7z"/>
<path fill="#6fe87e" d="M492.2 272.3L507.3 284.5L501.2 288.9L486 276.6z"/>
<path fill="#61e88c" d="M505.7 283.2L521.1 295.6L515 300.1L499.6 287.6z"/>
<path fill="#53e89a" d="M519.5 294.3L535.1 306.9L529 311.5L513.4 298.8z"/>
<path fill="#45e8a8" d="M533.5 305.6L539.8 310.8L533.7 315.4L527.4 310.2z"/>
<path fill="#36e8b6" d="M538.2 309.4L549.3 318.4L543.2 323.1L532.1 314z"/>
<path fill="#28e8c5" d="M547.7 317.1L558.9 326.2L552.9 330.9L541.6 321.8z"/>
<path fill="#36e8b6" d="M557.3 324.9L603.5 362.2L597.5 367.2L551.2 329.6z"/>
<path fill="#28e8c5" d="M601.7 360.8L613.7 370.4L607.7 375.5L595.7 365.8z"/>
<path fill="#1ae8d3" d="M611.9 369L624 378.8L618 384L605.9 374.1z"/>
<path fill="#28e8c5" d="M622.2 377.3L629.2 383L623.2 388.2L616.3 382.5z"/>
<path fill="#36e8b6" d="M627.4 381.5L699.5 439.8L693.7 445.5L621.5 386.7z"/>
<path fill="#28e8c5" d="M697.6 438.2L722.2 458.1L716.5 464L691.8 443.9z"/>
<path fill="#36e8b6" d="M720.2 456.5L727.9 462.8L722.2 468.7L714.5 462.4z"/>
<path fill="#28e8c5" d="M288.2 114.5L292.9 118.4L286.6 121.6L281.9 117.7z"/>
<path fill="#36e8b6" d="M291.7 117.4L300.1 124.2L293.7 127.4L285.4 120.6z"/>
<path fill="#45e8a8" d="M298.8 123.2L303.6 127.1L297.3 130.3L292.5 126.4z"/>
<path fill="#61e88c" d="M302.4 126.1L307.2 130L300.9 133.3L296.1 129.3z"/>
<path fill="#6fe87e" d="M306 129L310.9 132.9L304.5 136.2L299.7 132.2z"/>
<path fill="#8ce861" d="M309.6 131.9L314.5 135.9L308.2 139.2L303.3 135.2z"/>
<path fill="#9ae853" d="M313.2 134.9L318.1 138.9L311.8 142.2L306.9 138.2z"/>
<path fill="#a8e845" d="M316.9 137.8L325.5 144.8L319.2 148.2L310.6 141.2z"/>
<path fill="#b6e836" d="M324.2 143.8L329.2 147.8L322.9 151.2L317.9 147.2z"/>
<path fill="#c5e828" d="M327.9 146.8L332.9 150.9L326.6 154.3L321.6 150.2z"/>
<path fill="#d3e81a" d="M331.6 149.8L336.6 153.9L330.3 157.3L325.3 153.2z"/>
<path fill="#e8e105" d="M335.4 152.9L340.4 156.9L334.1 160.4L329 156.3z"/>
<path fill="#e8c505" d="M339.1 155.9L344.2 160L337.9 163.5L332.8 159.3z"/>
<path fill="#e8a805" d="M342.9 159L348 163.1L341.6 166.6L336.6 162.4z"/>
<path fill="#e87e05" d="M346.7 162L351.8 166.2L345.5 169.7L340.3 165.5z"/>
<path fill="#e86105" d="M350.5 165.1L355.6 169.3L349.3 172.8L344.1 168.6z"/>
<path fill="#e83605" d="M354.3 168.2L359.4 172.4L353.1 176L348 171.7z"/>
<path fill="#e81a05" d="M358.1 171.3L363.3 175.6L357 179.1L351.8 174.9z"/>
<path fill="#e10505" d="M362 174.5L375 185.1L368.7 188.7L355.7 178z"/>
<path fill="#e80c05" d="M373.6 184L378.9 188.3L372.6 191.9L367.3 187.6z"/>
<path fill="#e81a05" d="M377.6 187.2L382.9 191.5L376.6 195.2L371.3 190.8z"/>
<path fill="#e83605" d="M381.5 190.4L386.9 194.7L380.6 198.4L375.2 194z"/>
<path fill="#e85305" d="M385.5 193.6L390.9 197.9L384.6 201.7L379.2 197.3z"/>
<path fill="#e86105" d="M389.5 196.8L394.9 201.2L388.6 205L383.2 200.6z"/>
<path fill="#e87e05" d="M393.5 200.1L398.9 204.5L392.6 208.3L387.2 203.8z"/>
<path fill="#e89a05" d="M397.5 203.4L403 207.8L396.7 211.6L391.2 207.1z"/>
<path fill="#e8a805" d="M401.6 206.6L407 211.1L400.7 214.9L395.3 210.5z"/>
<path fill="#e8c505" d="M405.6 210L411.1 214.4L404.8 218.3L399.3 213.8z"/>
<path fill="#e8d305" d="M409.7 213.3L415.2 217.8L409 221.6L403.4 217.1z"/>
<path fill="#e8e105" d="M413.8 216.6L419.4 221.1L413.1 225L407.5 220.5z"/>
<path fill="#d3e81a" d="M417.9 220L423.5 224.5L417.3 228.4L411.7 223.9z"/>
<path fill="#c5e828" d="M422.1 223.3L427.7 227.9L421.4 231.9L415.8 227.3z"/>
<path fill="#b6e836" d="M426.3 226.7L431.9 231.3L425.6 235.3L420 230.7z"/>
<path fill="#a8e845" d="M430.5 230.1L436.1 234.7L429.9 238.7L424.2 234.1z"/>
<path fill="#9ae853" d="M434.7 233.5L444.6 241.6L438.4 245.7L428.4 237.6z"/>
<path fill="#8ce861" d="M443.1 240.4L448.9 245.1L442.7 249.2L436.9 244.5z"/>
<path fill="#7ee86f" d="M447.4 243.9L461.9 255.7L455.6 259.8L441.2 248z"/>
<path fill="#6fe87e" d="M460.4 254.4L520.5 303.3L514.3 307.8L454.1 258.6z"/>
<path fill="#61e88c" d="M518.9 302L525.1 307.1L519 311.6L512.7 306.5z"/>
<path fill="#53e89a" d="M523.5 305.8L529.8 310.9L523.7 315.5L517.4 310.3z"/>
<path fill="#45e8a8" d="M528.2 309.6L534.6 314.7L528.4 319.4L522.1 314.2z"/>
<path fill="#28e8c5" d="M532.9 313.4L539.3 318.6L533.2 323.3L526.8 318z"/>
<path fill="#1ae8d3" d="M537.7 317.3L548.9 326.4L542.8 331.1L531.5 321.9z"/>
<path fill="#28e8c5" d="M547.2 325L553.7 330.3L547.6 335.1L541.1 329.7z"/>
<path fill="#36e8b6" d="M552 328.9L558.6 334.2L552.5 339L545.9 333.7z"/>
<path fill="#45e8a8" d="M556.9 332.9L578.2 350.2L572.2 355.1L550.8 337.7z"/>
<path fill="#36e8b6" d="M576.5 348.8L593.3 362.4L587.2 367.5L570.4 353.7z"/>
<path fill="#28e8c5" d="M591.5 361L598.3 366.5L592.3 371.6L585.5 366z"/>
<path fill="#0ce8e1" d="M596.6 365.1L603.4 370.7L597.4 375.8L590.5 370.2z"/>
<path fill="#05d3e8" d="M601.7 369.3L608.5 374.8L602.5 380L595.6 374.4z"/>
<path fill="#05b6e8" d="M606.8 373.4L613.7 379L607.7 384.2L600.8 378.5z"/>
<path fill="#05d3e8" d="M611.9 377.6L618.9 383.2L612.9 388.4L605.9 382.8z"/>
<path fill="#0ce8e1" d="M617.1 381.8L624.1 387.5L618.1 392.7L611.1 387z"/>
<path fill="#1ae8d3" d="M622.3 386L629.3 391.7L623.3 397L616.3 391.3z"/>
<path fill="#28e8c5" d="M627.5 390.3L650.6 409L644.6 414.4L621.5 395.5z"/>
<path fill="#1ae8d3" d="M648.7 407.5L661.4 417.8L655.5 423.3L642.8 412.9z"/>
<path fill="#0ce8e1" d="M659.5 416.2L672.3 426.6L666.4 432.2L653.6 421.8z"/>
<path fill="#05e1e8" d="M670.4 425.1L688.9 440.1L683.1 445.9L664.5 430.7z"/>
<path fill="#05d3e8" d="M687 438.6L694.5 444.7L688.7 450.5L681.1 444.3z"/>
<path fill="#05e1e8" d="M692.6 443.1L705.8 453.9L700 459.7L686.8 448.9z"/>
<path fill="#0ce8e1" d="M703.9 452.3L717.3 463.2L711.5 469.1L698.1 458.1z"/>
<path fill="#1ae8d3" d="M715.3 461.6L723 467.9L717.3 473.9L709.5 467.5z"/>
<path fill="#28e8c5" d="M282.8 117.2L291 124L284.7 127.2L276.4 120.4z"/>
<path fill="#36e8b6" d="M289.8 123L294.6 126.9L288.2 130.2L283.5 126.2z"/>
<path fill="#45e8a8" d="M293.4 125.9L298.2 129.9L291.8 133.1L287 129.2z"/>
<path fill="#53e89a" d="M297 128.9L301.8 132.8L295.4 136.1L290.6 132.1z"/>
<path fill="#6fe87e" d="M300.6 131.8L305.4 135.8L299 139.1L294.2 135.1z"/>
<path fill="#7ee86f" d="M304.2 134.7L309 138.7L302.7 142.1L297.8 138z"/>
<path fill="#8ce861" d="M307.8 137.7L327.5 153.8L321.1 157.2L301.4 141z"/>
<path fill="#9ae853" d="M326.2 152.7L331.2 156.8L324.8 160.3L319.8 156.2z"/>
<path fill="#a8e845" d="M329.9 155.8L335 159.9L328.6 163.4L323.6 159.2z"/>
<path fill="#b6e836" d="M333.7 158.9L338.7 163L332.4 166.5L327.3 162.3z"/>
<path fill="#c5e828" d="M337.4 161.9L342.5 166.1L336.2 169.6L331.1 165.4z"/>
<path fill="#e1e80c" d="M341.2 165L346.3 169.2L340 172.7L334.9 168.5z"/>
<path fill="#e8e105" d="M345 168.1L350.2 172.3L343.8 175.9L338.7 171.7z"/>
<path fill="#e8d305" d="M348.8 171.3L354 175.5L347.6 179.1L342.5 174.8z"/>
<path fill="#e8b605" d="M352.7 174.4L357.9 178.6L351.5 182.2L346.3 178z"/>
<path fill="#e8a805" d="M356.5 177.5L365.6 185L359.3 188.6L350.2 181.1z"/>
<path fill="#e89a05" d="M364.3 183.9L377.5 194.6L371.1 198.4L358 187.5z"/>
<path fill="#e8a805" d="M376.1 193.5L385.4 201.2L379.1 204.9L369.8 197.2z"/>
<path fill="#e8b605" d="M384.1 200L389.5 204.4L383.1 208.2L377.7 203.8z"/>
<path fill="#e8c505" d="M388.1 203.3L393.5 207.7L387.2 211.6L381.7 207.1z"/>
<path fill="#e8d305" d="M392.1 206.6L397.5 211.1L391.2 214.9L385.8 210.4z"/>
<path fill="#e8e105" d="M396.2 209.9L401.6 214.4L395.3 218.3L389.8 213.8z"/>
<path fill="#d3e81a" d="M400.2 213.2L405.7 217.7L399.4 221.6L393.9 217.1z"/>
<path fill="#c5e828" d="M404.3 216.6L409.8 221.1L403.5 225L398 220.5z"/>
<path fill="#b6e836" d="M408.4 219.9L414 224.5L407.7 228.4L402.1 223.9z"/>
<path fill="#a8e845" d="M412.6 223.3L418.1 227.9L411.8 231.9L406.2 227.3z"/>
<path fill="#9ae853" d="M416.7 226.7L422.3 231.3L416 235.3L410.4 230.7z"/>
<path fill="#8ce861" d="M420.9 230.1L426.5 234.7L420.2 238.8L414.6 234.1z"/>
<path fill="#7ee86f" d="M425.1 233.6L435 241.6L428.7 245.7L418.8 237.6z"/>
<path fill="#6fe87e" d="M433.5 240.5L443.5 248.6L437.2 252.8L427.2 244.5z"/>
<path fill="#61e88c" d="M442 247.4L452.2 255.7L445.9 259.9L435.8 251.5z"/>
<path fill="#53e89a" d="M450.7 254.5L474.1 273.7L467.9 278L444.4 258.6z"/>
<path fill="#61e88c" d="M472.6 272.4L483.1 281L476.8 285.3L466.4 276.7z"/>
<path fill="#6fe87e" d="M481.5 279.7L492.1 288.4L485.9 292.8L475.3 284.1z"/>
<path fill="#7ee86f" d="M490.6 287.1L501.3 295.8L495 300.3L484.3 291.5z"/>
<path fill="#8ce861" d="M499.7 294.5L519.8 311L513.6 315.6L493.5 299z"/>
<path fill="#7ee86f" d="M518.2 309.7L524.5 314.9L518.4 319.5L512 314.3z"/>
<path fill="#61e88c" d="M522.9 313.5L529.3 318.7L523.1 323.4L516.7 318.2z"/>
<path fill="#53e89a" d="M527.7 317.4L538.8 326.5L532.6 331.3L521.5 322.1z"/>
<path fill="#61e88c" d="M537.2 325.2L543.6 330.4L537.5 335.2L531 329.9z"/>
<path fill="#6fe87e" d="M542 329.1L558.2 342.3L552 347.2L535.8 333.9z"/>
<path fill="#61e88c" d="M556.5 341L563.1 346.4L557 351.3L550.4 345.8z"/>
<path fill="#53e89a" d="M561.4 345L573 354.5L566.9 359.4L555.3 349.9z"/>
<path fill="#45e8a8" d="M571.3 353.1L578 358.5L571.9 363.5L565.2 358z"/>
<path fill="#36e8b6" d="M576.3 357.1L588.1 366.8L582 371.8L570.2 362.1z"/>
<path fill="#1ae8d3" d="M586.3 365.3L593.1 370.9L587 376L580.2 370.4z"/>
<path fill="#05e1e8" d="M591.4 369.5L598.2 375.1L592.2 380.2L585.3 374.6z"/>
<path fill="#05b6e8" d="M596.5 373.6L603.4 379.3L597.3 384.5L590.4 378.8z"/>
<path fill="#05a8e8" d="M601.6 377.8L608.5 383.5L602.5 388.7L595.5 383z"/>
<path fill="#05c5e8" d="M606.7 382L613.7 387.7L607.7 393L600.7 387.2z"/>
<path fill="#05e1e8" d="M611.9 386.3L618.9 392L612.9 397.3L605.9 391.5z"/>
<path fill="#0ce8e1" d="M617.1 390.5L634.7 404.9L628.8 410.3L611.1 395.8z"/>
<path fill="#05e1e8" d="M632.9 403.4L640.1 409.3L634.1 414.7L626.9 408.8z"/>
<path fill="#05d3e8" d="M638.3 407.8L645.5 413.7L639.5 419.2L632.3 413.2z"/>
<path fill="#05c5e8" d="M643.6 412.2L650.8 418.1L644.9 423.6L637.6 417.6z"/>
<path fill="#05b6e8" d="M649 416.6L656.3 422.5L650.3 428.1L643 422.1z"/>
<path fill="#05a8e8" d="M654.4 421L661.7 427L655.8 432.6L648.5 426.5z"/>
<path fill="#059ae8" d="M659.9 425.4L678.3 440.5L672.4 446.2L653.9 431z"/>
<path fill="#05a8e8" d="M676.4 438.9L683.9 445.1L678 450.8L670.5 444.7z"/>
<path fill="#05b6e8" d="M682 443.5L689.5 449.7L683.6 455.5L676.1 449.3z"/>
<path fill="#05c5e8" d="M687.6 448.1L695.1 454.3L689.3 460.1L681.7 453.9z"/>
<path fill="#05e1e8" d="M693.2 452.7L700.8 458.9L695 464.8L687.3 458.5z"/>
<path fill="#0ce8e1" d="M698.9 457.3L712.3 468.3L706.5 474.3L693 463.2z"/>
<path fill="#1ae8d3" d="M710.3 466.7L718.1 473L712.3 479L704.5 472.6z"/>
<path fill="#28e8c5" d="M277.3 120L289.1 129.7L282.7 133L270.8 123.2z"/>
<path fill="#36e8b6" d="M287.9 128.7L292.7 132.7L286.3 136L281.5 132z"/>
<path fill="#45e8a8" d="M291.5 131.7L296.3 135.6L289.9 138.9L285.1 134.9z"/>
<path fill="#61e88c" d="M295.1 134.6L299.9 138.6L293.5 141.9L288.7 137.9z"/>
<path fill="#6fe87e" d="M298.7 137.6L303.6 141.6L297.1 144.9L292.3 140.9z"/>
<path fill="#7ee86f" d="M302.3 140.6L314.6 150.6L308.1 154L295.9 143.9z"/>
<path fill="#6fe87e" d="M313.3 149.6L325.7 159.8L319.3 163.3L306.9 153z"/>
<path fill="#7ee86f" d="M324.4 158.8L333.3 166L326.8 169.5L318 162.2z"/>
<path fill="#8ce861" d="M332 164.9L337 169.1L330.6 172.7L325.5 168.4z"/>
<path fill="#9ae853" d="M335.7 168L340.9 172.2L334.4 175.8L329.3 171.6z"/>
<path fill="#a8e845" d="M339.5 171.2L348.5 178.6L342.1 182.2L333.1 174.7z"/>
<path fill="#b6e836" d="M347.2 177.5L352.4 181.7L346 185.4L340.8 181.1z"/>
<path fill="#c5e828" d="M351.1 180.6L364.1 191.4L357.7 195.1L344.7 184.3z"/>
<path fill="#d3e81a" d="M362.8 190.2L372 197.9L365.6 201.6L356.4 193.9z"/>
<path fill="#c5e828" d="M370.6 196.7L384 207.7L377.6 211.5L364.2 200.5z"/>
<path fill="#b6e836" d="M382.6 206.6L392.1 214.4L385.7 218.2L376.2 210.4z"/>
<path fill="#a8e845" d="M390.7 213.2L396.2 217.7L389.8 221.6L384.3 217.1z"/>
<path fill="#9ae853" d="M394.8 216.6L400.3 221.1L393.9 225L388.4 220.5z"/>
<path fill="#8ce861" d="M398.9 219.9L408.5 227.9L402.2 231.9L392.5 223.8z"/>
<path fill="#7ee86f" d="M407.1 226.7L412.7 231.3L406.3 235.3L400.7 230.7z"/>
<path fill="#6fe87e" d="M411.3 230.1L421.1 238.2L414.7 242.2L404.9 234.1z"/>
<path fill="#61e88c" d="M419.6 237L425.3 241.7L419 245.7L413.3 241z"/>
<path fill="#53e89a" d="M423.9 240.5L438.1 252.2L431.8 256.3L417.5 244.5z"/>
<path fill="#45e8a8" d="M436.6 251L459.9 270.1L453.6 274.4L430.3 255.1z"/>
<path fill="#53e89a" d="M458.4 268.8L468.7 277.4L462.4 281.7L452 273.1z"/>
<path fill="#61e88c" d="M467.2 276.1L473.2 281L466.9 285.4L460.9 280.5z"/>
<path fill="#6fe87e" d="M471.7 279.8L482.2 288.5L475.9 292.9L465.4 284.2z"/>
<path fill="#7ee86f" d="M480.7 287.2L486.8 292.2L480.5 296.7L474.4 291.6z"/>
<path fill="#8ce861" d="M485.2 290.9L491.3 295.9L485 300.4L478.9 295.4z"/>
<path fill="#a8e845" d="M489.8 294.6L495.9 299.7L489.6 304.2L483.5 299.1z"/>
<path fill="#b6e836" d="M494.3 298.4L505.2 307.3L498.9 311.9L488.1 302.9z"/>
<path fill="#c5e828" d="M503.6 306L528.7 326.7L522.5 331.4L497.3 310.6z"/>
<path fill="#b6e836" d="M527.1 325.3L538.3 334.6L532.1 339.4L520.8 330.1z"/>
<path fill="#a8e845" d="M536.7 333.2L543.1 338.5L536.9 343.4L530.4 338z"/>
<path fill="#9ae853" d="M541.5 337.2L548 342.5L541.8 347.4L535.3 342z"/>
<path fill="#8ce861" d="M546.3 341.2L552.9 346.5L546.7 351.5L540.1 346z"/>
<path fill="#7ee86f" d="M551.2 345.2L557.8 350.6L551.6 355.5L545 350.1z"/>
<path fill="#6fe87e" d="M556.1 349.2L562.8 354.7L556.6 359.6L549.9 354.1z"/>
<path fill="#61e88c" d="M561.1 353.3L567.7 358.7L561.6 363.8L554.9 358.2z"/>
<path fill="#53e89a" d="M566 357.3L572.7 362.8L566.6 367.9L559.9 362.3z"/>
<path fill="#45e8a8" d="M571 361.4L582.8 371.1L576.7 376.3L564.9 366.5z"/>
<path fill="#36e8b6" d="M581.1 369.7L587.9 375.3L581.8 380.5L574.9 374.8z"/>
<path fill="#1ae8d3" d="M586.1 373.9L593 379.5L586.9 384.7L580 379z"/>
<path fill="#0ce8e1" d="M591.2 378.1L598.1 383.7L592 389L585.1 383.3z"/>
<path fill="#05e1e8" d="M596.4 382.3L603.3 388L597.2 393.3L590.3 387.5z"/>
<path fill="#0ce8e1" d="M601.5 386.5L619 400.9L612.9 406.3L595.4 391.8z"/>
<path fill="#05e1e8" d="M617.2 399.4L624.3 405.2L618.2 410.6L611.1 404.8z"/>
<path fill="#05d3e8" d="M622.5 403.7L634.9 414L628.9 419.5L616.4 409.1z"/>
<path fill="#05c5e8" d="M633.1 412.5L662.1 436.3L656.1 442L627 418z"/>
<path fill="#05d3e8" d="M660.2 434.8L667.6 440.9L661.7 446.6L654.2 440.5z"/>
<path fill="#05e1e8" d="M665.7 439.3L678.8 450L672.9 455.9L659.8 445z"/>
<path fill="#0ce8e1" d="M676.9 448.5L690.1 459.3L684.2 465.2L670.9 454.3z"/>
<path fill="#1ae8d3" d="M688.2 457.7L713.1 478.2L707.2 484.3L682.2 463.6z"/>
<path fill="#1ae8d3" d="M271.7 122.7L276.5 126.7L270 129.9L265.3 126z"/>
<path fill="#28e8c5" d="M275.3 125.6L283.6 132.5L277.1 135.8L268.8 128.9z"/>
<path fill="#36e8b6" d="M282.4 131.5L287.2 135.5L280.7 138.8L275.9 134.8z"/>
<path fill="#45e8a8" d="M285.9 134.5L290.8 138.5L284.3 141.8L279.5 137.8z"/>
<path fill="#53e89a" d="M289.5 137.5L294.4 141.5L287.9 144.8L283.1 140.8z"/>
<path fill="#6fe87e" d="M293.2 140.4L309 153.6L302.6 157L286.7 143.8z"/>
<path fill="#61e88c" d="M307.8 152.5L327.7 169L321.3 172.6L301.3 156z"/>
<path fill="#6fe87e" d="M326.4 168L335.3 175.3L328.9 178.9L320 171.5z"/>
<path fill="#7ee86f" d="M334 174.2L343 181.7L336.6 185.3L327.6 177.8z"/>
<path fill="#8ce861" d="M341.7 180.6L378.5 211L372.1 214.9L335.2 184.2z"/>
<path fill="#7ee86f" d="M377.1 209.9L386.6 217.7L380.2 221.6L370.7 213.7z"/>
<path fill="#6fe87e" d="M385.2 216.5L394.8 224.5L388.4 228.4L378.8 220.4z"/>
<path fill="#61e88c" d="M393.4 223.3L403.1 231.3L396.6 235.3L387 227.2z"/>
<path fill="#53e89a" d="M401.6 230.1L411.4 238.2L405 242.3L395.2 234.1z"/>
<path fill="#45e8a8" d="M410 237L419.8 245.2L413.4 249.3L403.6 241.1z"/>
<path fill="#36e8b6" d="M418.4 244L450 270.1L443.7 274.5L412 248.1z"/>
<path fill="#45e8a8" d="M448.5 268.9L458.9 277.4L452.5 281.8L442.2 273.2z"/>
<path fill="#53e89a" d="M457.3 276.2L463.3 281.1L457 285.5L451 280.5z"/>
<path fill="#61e88c" d="M461.8 279.9L467.8 284.8L461.4 289.2L455.4 284.2z"/>
<path fill="#6fe87e" d="M466.3 283.6L472.3 288.5L465.9 293L459.9 288z"/>
<path fill="#7ee86f" d="M470.7 287.3L476.8 292.3L470.5 296.8L464.4 291.7z"/>
<path fill="#9ae853" d="M475.3 291L481.4 296L475 300.5L468.9 295.5z"/>
<path fill="#a8e845" d="M479.8 294.7L485.9 299.8L479.6 304.4L473.4 299.2z"/>
<path fill="#b6e836" d="M484.3 298.5L490.5 303.6L484.2 308.2L478 303z"/>
<path fill="#d3e81a" d="M488.9 302.3L495.1 307.4L488.8 312L482.6 306.9z"/>
<path fill="#e1e80c" d="M493.5 306.1L499.8 311.3L493.5 315.9L487.2 310.7z"/>
<path fill="#e8e105" d="M498.2 309.9L523.3 330.8L517.1 335.6L491.9 314.6z"/>
<path fill="#e1e80c" d="M521.7 329.4L528.1 334.7L521.9 339.5L515.4 334.2z"/>
<path fill="#d3e81a" d="M526.5 333.4L533 338.7L526.7 343.6L520.2 338.2z"/>
<path fill="#c5e828" d="M531.3 337.3L537.8 342.7L531.5 347.6L525 342.2z"/>
<path fill="#b6e836" d="M536.1 341.3L542.7 346.7L536.4 351.7L529.9 346.2z"/>
<path fill="#a8e845" d="M541 345.4L547.6 350.8L541.3 355.7L534.7 350.3z"/>
<path fill="#8ce861" d="M545.9 349.4L552.5 354.9L546.3 359.9L539.6 354.3z"/>
<path fill="#7ee86f" d="M550.8 353.5L557.4 358.9L551.2 364L544.6 358.4z"/>
<path fill="#6fe87e" d="M555.7 357.5L577.5 375.5L571.3 380.7L549.5 362.6z"/>
<path fill="#61e88c" d="M575.8 374.1L582.6 379.8L576.4 385L569.6 379.3z"/>
<path fill="#45e8a8" d="M580.9 378.3L587.7 384L581.6 389.2L574.7 383.5z"/>
<path fill="#36e8b6" d="M586 382.5L592.9 388.2L586.7 393.5L579.8 387.8z"/>
<path fill="#28e8c5" d="M591.1 386.8L603.3 396.8L597.1 402.2L584.9 392.1z"/>
<path fill="#1ae8d3" d="M601.5 395.3L619 409.9L612.9 415.4L595.3 400.7z"/>
<path fill="#0ce8e1" d="M617.2 408.4L646 432.1L639.9 437.8L611.1 413.8z"/>
<path fill="#1ae8d3" d="M644.1 430.6L708 483.4L702.1 489.6L638 436.3z"/>
<path fill="#1ae8d3" d="M266.2 125.5L274.5 132.4L267.9 135.7L259.6 128.7z"/>
<path fill="#28e8c5" d="M273.2 131.4L281.6 138.3L275.1 141.7L266.7 134.7z"/>
<path fill="#36e8b6" d="M280.4 137.3L285.2 141.3L278.7 144.7L273.9 140.6z"/>
<path fill="#45e8a8" d="M284 140.3L288.8 144.3L282.3 147.7L277.5 143.7z"/>
<path fill="#61e88c" d="M287.6 143.3L303.5 156.5L297 160L281.1 146.7z"/>
<path fill="#53e89a" d="M302.2 155.5L307.2 159.6L300.7 163.1L295.7 158.9z"/>
<path fill="#45e8a8" d="M305.9 158.5L322.2 172.1L315.7 175.7L299.4 162z"/>
<path fill="#53e89a" d="M320.9 171L337.5 184.8L331 188.5L314.4 174.6z"/>
<path fill="#61e88c" d="M336.1 183.7L368.9 211L362.5 214.8L329.6 187.3z"/>
<path fill="#53e89a" d="M367.6 209.8L381.1 221.1L374.6 225L361.1 213.7z"/>
<path fill="#45e8a8" d="M379.7 219.9L389.3 227.9L382.8 231.9L373.2 223.8z"/>
<path fill="#36e8b6" d="M387.8 226.7L401.7 238.2L395.2 242.3L381.4 230.7z"/>
<path fill="#28e8c5" d="M400.3 237L418.6 252.3L412.1 256.4L393.8 241.1z"/>
<path fill="#1ae8d3" d="M417.1 251L435.8 266.6L429.4 270.9L410.7 255.2z"/>
<path fill="#28e8c5" d="M434.3 265.3L444.5 273.9L438.1 278.2L427.9 269.6z"/>
<path fill="#36e8b6" d="M443 272.6L453.4 281.2L447 285.6L436.6 276.9z"/>
<path fill="#45e8a8" d="M451.9 279.9L457.8 284.9L451.4 289.3L445.4 284.3z"/>
<path fill="#53e89a" d="M456.3 283.6L462.3 288.6L455.9 293.1L449.9 288.1z"/>
<path fill="#6fe87e" d="M460.8 287.4L466.8 292.4L460.4 296.9L454.4 291.8z"/>
<path fill="#7ee86f" d="M465.3 291.1L471.3 296.1L464.9 300.7L458.9 295.6z"/>
<path fill="#8ce861" d="M469.8 294.8L475.9 299.9L469.5 304.5L463.4 299.4z"/>
<path fill="#a8e845" d="M474.3 298.6L480.5 303.7L474.1 308.3L467.9 303.2z"/>
<path fill="#b6e836" d="M478.9 302.4L485.1 307.5L478.7 312.2L472.5 307z"/>
<path fill="#c5e828" d="M483.5 306.2L489.7 311.4L483.3 316L477.1 310.8z"/>
<path fill="#d3e81a" d="M488.1 310.1L494.3 315.3L488 319.9L481.7 314.7z"/>
<path fill="#e1e80c" d="M492.7 313.9L499 319.1L492.6 323.8L486.4 318.6z"/>
<path fill="#e8e105" d="M497.4 317.8L513.2 330.9L506.8 335.7L491 322.5z"/>
<path fill="#e1e80c" d="M511.5 329.6L522.7 338.9L516.4 343.7L505.2 334.4z"/>
<path fill="#d3e81a" d="M521.1 337.5L527.6 342.9L521.2 347.8L514.8 342.4z"/>
<path fill="#c5e828" d="M525.9 341.5L532.4 346.9L526.1 351.9L519.6 346.4z"/>
<path fill="#b6e836" d="M530.7 345.5L542.2 355.1L535.9 360.1L524.4 350.5z"/>
<path fill="#a8e845" d="M540.5 353.7L547.1 359.2L540.8 364.2L534.2 358.6z"/>
<path fill="#9ae853" d="M545.4 357.7L552.1 363.3L545.8 368.4L539.1 362.8z"/>
<path fill="#8ce861" d="M550.4 361.9L562.1 371.6L555.8 376.7L544.1 366.9z"/>
<path fill="#a8e845" d="M560.4 370.2L567.1 375.8L560.9 381L554.1 375.3z"/>
<path fill="#c5e828" d="M565.4 374.3L572.2 380L565.9 385.2L559.1 379.5z"/>
<path fill="#a8e845" d="M570.4 378.6L577.3 384.2L571 389.5L564.2 383.8z"/>
<path fill="#6fe87e" d="M575.5 382.8L582.4 388.5L576.2 393.8L569.3 388z"/>
<path fill="#53e89a" d="M580.7 387L587.6 392.8L581.3 398.1L574.4 392.3z"/>
<path fill="#45e8a8" d="M585.8 391.3L592.8 397.1L586.5 402.5L579.6 396.6z"/>
<path fill="#36e8b6" d="M591 395.6L603.2 405.8L597 411.2L584.8 401z"/>
<path fill="#28e8c5" d="M601.4 404.3L613.8 414.6L607.6 420.1L595.2 409.7z"/>
<path fill="#1ae8d3" d="M612 413.1L702.9 488.7L697 494.9L605.8 418.6z"/>
<path fill="#1ae8d3" d="M260.6 128.3L272.4 138.2L265.8 141.6L254 131.6z"/>
<path fill="#28e8c5" d="M271.2 137.2L276 141.2L269.4 144.6L264.6 140.5z"/>
<path fill="#36e8b6" d="M274.8 140.2L279.6 144.2L273 147.6L268.2 143.5z"/>
<path fill="#45e8a8" d="M278.4 143.2L286.9 150.3L280.3 153.7L271.8 146.6z"/>
<path fill="#53e89a" d="M285.6 149.3L294.2 156.4L287.6 159.9L279 152.7z"/>
<path fill="#45e8a8" d="M292.9 155.4L297.9 159.5L291.3 163L286.3 158.8z"/>
<path fill="#36e8b6" d="M296.6 158.4L305.3 165.7L298.7 169.3L290 161.9z"/>
<path fill="#28e8c5" d="M304 164.7L363.4 214.3L356.8 218.2L297.4 168.2z"/>
<path fill="#1ae8d3" d="M362 213.1L379.6 227.9L373 231.9L355.4 217z"/>
<path fill="#0ce8e1" d="M378.2 226.7L396.1 241.7L389.6 245.8L371.6 230.7z"/>
<path fill="#05e1e8" d="M394.7 240.5L430.3 270.3L423.8 274.6L388.2 244.6z"/>
<path fill="#0ce8e1" d="M428.8 269L439 277.6L432.5 282L422.3 273.3z"/>
<path fill="#1ae8d3" d="M437.5 276.3L443.4 281.3L436.9 285.7L431 280.7z"/>
<path fill="#28e8c5" d="M441.9 280L447.9 285L441.4 289.4L435.4 284.4z"/>
<path fill="#36e8b6" d="M446.3 283.7L452.3 288.7L445.8 293.2L439.9 288.1z"/>
<path fill="#45e8a8" d="M450.8 287.4L456.8 292.5L450.3 297L444.3 291.9z"/>
<path fill="#53e89a" d="M455.3 291.2L461.3 296.2L454.8 300.8L448.8 295.7z"/>
<path fill="#61e88c" d="M459.8 294.9L465.8 300L459.4 304.6L453.3 299.5z"/>
<path fill="#6fe87e" d="M464.3 298.7L470.4 303.8L463.9 308.4L457.8 303.3z"/>
<path fill="#8ce861" d="M468.8 302.5L475 307.7L468.5 312.3L462.4 307.1z"/>
<path fill="#9ae853" d="M473.4 306.4L479.6 311.5L473.1 316.2L466.9 311z"/>
<path fill="#a8e845" d="M478 310.2L484.2 315.4L477.8 320.1L471.5 314.8z"/>
<path fill="#b6e836" d="M482.6 314.1L493.5 323.2L487.1 327.9L476.2 318.7z"/>
<path fill="#c5e828" d="M491.9 321.8L517.3 343.1L510.9 348L485.5 326.6z"/>
<path fill="#b6e836" d="M515.6 341.7L556.7 376L550.4 381.2L509.2 346.6z"/>
<path fill="#d3e81a" d="M555 374.6L561.7 380.3L555.4 385.5L548.6 379.8z"/>
<path fill="#e8e105" d="M560 378.8L566.8 384.5L560.5 389.8L553.7 384z"/>
<path fill="#c5e828" d="M565.1 383L571.9 388.8L565.6 394.1L558.7 388.3z"/>
<path fill="#8ce861" d="M570.2 387.3L577 393.1L570.8 398.4L563.9 392.6z"/>
<path fill="#6fe87e" d="M575.3 391.6L582.2 397.4L575.9 402.8L569 396.9z"/>
<path fill="#61e88c" d="M580.4 395.9L587.4 401.7L581.1 407.1L574.1 401.3z"/>
<path fill="#53e89a" d="M585.6 400.2L592.6 406.1L586.4 411.5L579.3 405.6z"/>
<path fill="#45e8a8" d="M590.8 404.6L597.9 410.5L591.6 416L584.6 410z"/>
<path fill="#36e8b6" d="M596.1 409L603.2 414.9L596.9 420.4L589.8 414.5z"/>
<path fill="#28e8c5" d="M601.3 413.4L608.5 419.3L602.2 424.9L595.1 418.9z"/>
<path fill="#1ae8d3" d="M606.6 417.8L619.2 428.3L613 434L600.4 423.4z"/>
<path fill="#0ce8e1" d="M617.3 426.8L624.6 432.8L618.4 438.5L611.1 432.4z"/>
<path fill="#05e1e8" d="M622.7 431.3L663.3 465.2L657.2 471.2L616.5 437z"/>
<path fill="#0ce8e1" d="M661.4 463.6L686.2 484.3L680.1 490.5L655.2 469.6z"/>
<path fill="#1ae8d3" d="M684.2 482.7L697.8 494.1L691.8 500.3L678.1 488.8z"/>
<path fill="#1ae8d3" d="M254.9 131.1L270.3 144.1L263.7 147.5L248.3 134.4z"/>
<path fill="#28e8c5" d="M269.1 143.1L273.9 147.1L267.3 150.5L262.5 146.4z"/>
<path fill="#36e8b6" d="M272.7 146.1L281.2 153.2L274.6 156.7L266.1 149.5z"/>
<path fill="#45e8a8" d="M280 152.2L288.5 159.4L281.9 162.9L273.3 155.6z"/>
<path fill="#36e8b6" d="M287.3 158.3L292.2 162.5L285.6 166L280.6 161.8z"/>
<path fill="#28e8c5" d="M290.9 161.4L295.9 165.6L289.3 169.2L284.3 164.9z"/>
<path fill="#1ae8d3" d="M294.6 164.6L303.4 171.9L296.8 175.5L288 168.1z"/>
<path fill="#0ce8e1" d="M302.1 170.8L314.7 181.4L308.1 185.1L295.5 174.4z"/>
<path fill="#05e1e8" d="M313.4 180.4L334 197.7L327.4 201.4L306.8 184z"/>
<path fill="#05d3e8" d="M332.6 196.5L353.7 214.3L347.1 218.2L326 200.3z"/>
<path fill="#05c5e8" d="M352.3 213.1L424.7 274L418.1 278.3L345.7 217z"/>
<path fill="#05d3e8" d="M423.2 272.7L433.4 281.4L426.9 285.8L416.6 277.1z"/>
<path fill="#05e1e8" d="M431.9 280.1L437.8 285.1L431.3 289.5L425.4 284.5z"/>
<path fill="#0ce8e1" d="M436.3 283.8L442.3 288.8L435.8 293.3L429.8 288.2z"/>
<path fill="#1ae8d3" d="M440.8 287.5L446.7 292.6L440.2 297.1L434.2 292z"/>
<path fill="#28e8c5" d="M445.2 291.3L451.2 296.3L444.7 300.9L438.7 295.8z"/>
<path fill="#36e8b6" d="M449.7 295L455.7 300.1L449.2 304.7L443.2 299.6z"/>
<path fill="#45e8a8" d="M454.2 298.8L464.8 307.8L458.3 312.4L447.7 303.4z"/>
<path fill="#53e89a" d="M463.3 306.5L469.4 311.6L462.9 316.3L456.8 311.1z"/>
<path fill="#61e88c" d="M467.8 310.3L474 315.5L467.5 320.2L461.3 315z"/>
<path fill="#6fe87e" d="M472.4 314.2L478.7 319.4L472.2 324.1L465.9 318.9z"/>
<path fill="#7ee86f" d="M477.1 318.1L488 327.3L481.5 332.1L470.6 322.8z"/>
<path fill="#8ce861" d="M486.4 325.9L502.2 339.2L495.7 344.1L479.9 330.7z"/>
<path fill="#9ae853" d="M500.6 337.8L516.6 351.4L510.2 356.4L494.1 342.7z"/>
<path fill="#a8e845" d="M515 350L521.5 355.5L515.1 360.5L508.5 354.9z"/>
<path fill="#c5e828" d="M519.8 354.1L526.4 359.6L520 364.6L513.4 359.1z"/>
<path fill="#e1e80c" d="M524.7 358.2L531.3 363.7L524.9 368.8L518.3 363.2z"/>
<path fill="#e8e105" d="M529.6 362.3L536.2 367.9L529.8 373L523.2 367.4z"/>
<path fill="#e1e80c" d="M534.5 366.4L541.2 372.1L534.8 377.2L528.1 371.6z"/>
<path fill="#d3e81a" d="M539.5 370.6L546.2 376.3L539.8 381.5L533.1 375.8z"/>
<path fill="#e1e80c" d="M544.5 374.8L561.4 389L555 394.3L538.1 380z"/>
<path fill="#d3e81a" d="M559.6 387.6L566.5 393.3L560.1 398.7L553.3 392.9z"/>
<path fill="#b6e836" d="M564.7 391.9L571.6 397.7L565.3 403.1L558.4 397.2z"/>
<path fill="#9ae853" d="M569.9 396.2L576.8 402L570.5 407.4L563.5 401.6z"/>
<path fill="#7ee86f" d="M575 400.5L582 406.4L575.7 411.9L568.7 405.9z"/>
<path fill="#6fe87e" d="M580.2 404.9L587.2 410.8L580.9 416.3L573.9 410.3z"/>
<path fill="#53e89a" d="M585.4 409.3L592.5 415.2L586.2 420.8L579.1 414.8z"/>
<path fill="#45e8a8" d="M590.7 413.7L597.8 419.7L591.5 425.3L584.4 419.2z"/>
<path fill="#36e8b6" d="M596 418.1L603.1 424.1L596.8 429.8L589.7 423.7z"/>
<path fill="#28e8c5" d="M601.3 422.6L608.5 428.7L602.2 434.3L595 428.2z"/>
<path fill="#1ae8d3" d="M606.6 427.1L613.8 433.2L607.6 438.9L600.3 432.8z"/>
<path fill="#0ce8e1" d="M612 431.6L619.2 437.7L613 443.5L605.7 437.3z"/>
<path fill="#05e1e8" d="M617.4 436.2L630.2 446.9L623.9 452.8L611.1 441.9z"/>
<path fill="#05d3e8" d="M628.3 445.3L652.4 465.6L646.2 471.6L622 451.2z"/>
<path fill="#05e1e8" d="M650.5 464L669.4 480L663.3 486.1L644.3 470z"/>
<path fill="#0ce8e1" d="M667.5 478.3L686.7 494.5L680.6 500.8L661.3 484.4z"/>
<path fill="#1ae8d3" d="M684.8 492.9L692.6 499.5L686.5 505.8L678.6 499.1z"/>
<path fill="#1ae8d3" d="M249.2 133.9L268.2 150.1L261.6 153.5L242.5 137.3z"/>
<path fill="#28e8c5" d="M267 149L275.5 156.2L268.8 159.7L260.3 152.4z"/>
<path fill="#36e8b6" d="M274.3 155.2L279.2 159.3L272.5 162.8L267.6 158.6z"/>
<path fill="#28e8c5" d="M277.9 158.2L286.5 165.5L279.8 169.1L271.2 161.7z"/>
<path fill="#1ae8d3" d="M285.2 164.5L290.2 168.7L283.6 172.2L278.6 168z"/>
<path fill="#0ce8e1" d="M288.9 167.6L297.7 175L291 178.6L282.3 171.1z"/>
<path fill="#05e1e8" d="M296.4 173.9L305.2 181.4L298.6 185L289.7 177.5z"/>
<path fill="#05d3e8" d="M303.9 180.3L316.7 191.1L310 194.8L297.3 183.9z"/>
<path fill="#05c5e8" d="M315.4 190L324.4 197.6L317.7 201.4L308.7 193.7z"/>
<path fill="#05b6e8" d="M323.1 196.5L332.2 204.2L325.5 208L316.4 200.2z"/>
<path fill="#05a8e8" d="M330.9 203.1L344 214.2L337.4 218.1L324.2 206.9z"/>
<path fill="#059ae8" d="M342.7 213.1L372.4 238.2L365.8 242.3L336 217z"/>
<path fill="#05a8e8" d="M371 237.1L393.3 255.9L386.6 260.1L364.3 241.1z"/>
<path fill="#05b6e8" d="M391.8 254.7L410.4 270.4L403.8 274.7L385.2 258.9z"/>
<path fill="#05c5e8" d="M408.9 269.1L423.4 281.4L416.8 285.9L402.3 273.5z"/>
<path fill="#05d3e8" d="M421.9 280.2L432.2 288.9L425.6 293.4L415.3 284.6z"/>
<path fill="#05e1e8" d="M430.7 287.6L436.7 292.7L430.1 297.2L424.1 292.1z"/>
<path fill="#0ce8e1" d="M435.1 291.4L445.6 300.2L439 304.8L428.6 295.9z"/>
<path fill="#1ae8d3" d="M444.1 298.9L450.1 304.1L443.6 308.7L437.5 303.5z"/>
<path fill="#28e8c5" d="M448.6 302.8L459.2 311.8L452.7 316.4L442 307.3z"/>
<path fill="#36e8b6" d="M457.7 310.4L463.8 315.7L457.3 320.4L451.1 315.1z"/>
<path fill="#45e8a8" d="M462.2 314.3L473.1 323.5L466.5 328.2L455.7 319z"/>
<path fill="#53e89a" d="M471.5 322.1L482.4 331.4L475.9 336.2L464.9 326.9z"/>
<path fill="#61e88c" d="M480.8 330L491.9 339.4L485.3 344.3L474.3 334.9z"/>
<path fill="#6fe87e" d="M490.2 338L501.4 347.5L494.9 352.5L483.7 342.9z"/>
<path fill="#7ee86f" d="M499.8 346.1L506.2 351.6L499.7 356.6L493.3 351z"/>
<path fill="#8ce861" d="M504.6 350.2L511.1 355.7L504.6 360.7L498.1 355.2z"/>
<path fill="#9ae853" d="M509.4 354.3L515.9 359.8L509.5 364.9L502.9 359.3z"/>
<path fill="#d3e81a" d="M514.3 358.4L520.8 363.9L514.4 369L507.8 363.4z"/>
<path fill="#e8c505" d="M519.2 362.5L525.8 368.1L519.3 373.2L512.7 367.6z"/>
<path fill="#e8b605" d="M524.1 366.7L530.7 372.3L524.3 377.5L517.6 371.8z"/>
<path fill="#e8d305" d="M529 370.9L535.7 376.5L529.2 381.7L522.6 376z"/>
<path fill="#e8e105" d="M534 375.1L555.9 393.6L549.5 399L527.5 380.3z"/>
<path fill="#e1e80c" d="M554.1 392.1L561 397.9L554.6 403.3L547.7 397.5z"/>
<path fill="#c5e828" d="M559.3 396.5L566.2 402.3L559.8 407.7L552.8 401.8z"/>
<path fill="#b6e836" d="M564.4 400.8L571.3 406.7L564.9 412.2L558 406.2z"/>
<path fill="#9ae853" d="M569.6 405.2L576.5 411.1L570.2 416.6L563.2 410.6z"/>
<path fill="#7ee86f" d="M574.8 409.6L581.8 415.5L575.4 421.1L568.4 415.1z"/>
<path fill="#61e88c" d="M580 414L587.1 420L580.7 425.6L573.6 419.6z"/>
<path fill="#53e89a" d="M585.2 418.5L592.4 424.5L586 430.1L578.9 424z"/>
<path fill="#45e8a8" d="M590.5 422.9L597.7 429L591.3 434.7L584.2 428.6z"/>
<path fill="#36e8b6" d="M595.9 427.4L603 433.5L596.7 439.2L589.5 433.1z"/>
<path fill="#28e8c5" d="M601.2 432L608.4 438.1L602.1 443.9L594.9 437.7z"/>
<path fill="#1ae8d3" d="M606.6 436.5L624.8 451.9L618.5 457.8L600.3 442.3z"/>
<path fill="#0ce8e1" d="M622.9 450.4L664.1 485.2L657.9 491.4L616.6 456.2z"/>
<path fill="#1ae8d3" d="M662.2 483.6L687.3 504.9L681.2 511.3L655.9 489.8z"/>
<path fill="#1ae8d3" d="M243.5 136.8L262.5 153L255.8 156.5L236.7 140.1z"/>
<path fill="#28e8c5" d="M261.3 152L280.8 168.6L274.1 172.1L254.6 155.4z"/>
<path fill="#1ae8d3" d="M279.5 167.5L284.5 171.7L277.8 175.3L272.8 171.1z"/>
<path fill="#0ce8e1" d="M283.2 170.7L291.9 178.1L285.2 181.7L276.5 174.2z"/>
<path fill="#05e1e8" d="M290.7 177L303.3 187.8L296.6 191.5L283.9 180.6z"/>
<path fill="#05d3e8" d="M302 186.6L310.9 194.3L304.2 198L295.3 190.3z"/>
<path fill="#05c5e8" d="M309.6 193.2L318.7 200.9L312 204.7L302.9 196.9z"/>
<path fill="#05b6e8" d="M317.3 199.7L326.5 207.5L319.8 211.4L310.6 203.5z"/>
<path fill="#05a8e8" d="M325.1 206.4L334.4 214.2L327.6 218.1L318.4 210.2z"/>
<path fill="#059ae8" d="M333 213.1L346.3 224.4L339.6 228.4L326.3 217z"/>
<path fill="#058ce8" d="M344.9 223.2L354.4 231.3L347.7 235.3L338.2 227.2z"/>
<path fill="#059ae8" d="M353 230.1L370.8 245.3L364.1 249.4L346.3 234.1z"/>
<path fill="#05a8e8" d="M369.4 244.1L379.2 252.4L372.5 256.6L362.7 248.2z"/>
<path fill="#05b6e8" d="M377.7 251.2L387.6 259.6L380.9 263.8L371 255.3z"/>
<path fill="#05c5e8" d="M386.1 258.3L400.4 270.4L393.7 274.8L379.4 262.6z"/>
<path fill="#05d3e8" d="M398.9 269.2L417.7 285.2L411.1 289.7L392.2 273.5z"/>
<path fill="#05e1e8" d="M416.2 284L431 296.5L424.4 301.1L409.6 288.4z"/>
<path fill="#0ce8e1" d="M429.5 295.2L440 304.2L433.3 308.8L422.8 299.8z"/>
<path fill="#1ae8d3" d="M438.4 302.9L449 311.9L442.4 316.6L431.8 307.5z"/>
<path fill="#28e8c5" d="M447.5 310.6L458.2 319.7L451.6 324.4L440.8 315.2z"/>
<path fill="#36e8b6" d="M456.6 318.4L462.8 323.6L456.2 328.4L450 323.1z"/>
<path fill="#45e8a8" d="M461.2 322.3L472.1 331.6L465.5 336.4L454.6 327z"/>
<path fill="#53e89a" d="M470.5 330.2L476.8 335.6L470.2 340.4L463.9 335z"/>
<path fill="#61e88c" d="M475.2 334.2L481.5 339.6L474.9 344.5L468.6 339z"/>
<path fill="#6fe87e" d="M479.9 338.2L491 347.7L484.5 352.7L473.3 343.1z"/>
<path fill="#7ee86f" d="M489.4 346.3L500.6 355.9L494.1 360.9L482.8 351.2z"/>
<path fill="#8ce861" d="M499 354.5L505.5 360L498.9 365.1L492.4 359.5z"/>
<path fill="#9ae853" d="M503.8 358.6L510.4 364.2L503.8 369.3L497.3 363.6z"/>
<path fill="#c5e828" d="M508.7 362.7L515.3 368.3L508.7 373.5L502.1 367.8z"/>
<path fill="#e8e105" d="M513.6 366.9L520.2 372.5L513.7 377.7L507 372z"/>
<path fill="#e8d305" d="M518.5 371.1L525.2 376.7L518.6 382L512 376.3z"/>
<path fill="#e8e105" d="M523.5 375.3L530.1 381L523.6 386.3L516.9 380.5z"/>
<path fill="#e1e80c" d="M528.4 379.5L535.2 385.3L528.6 390.6L521.9 384.8z"/>
<path fill="#e8e105" d="M533.4 383.8L545.3 393.9L538.8 399.3L526.9 389.1z"/>
<path fill="#e1e80c" d="M543.5 392.4L550.4 398.2L543.9 403.6L537 397.8z"/>
<path fill="#d3e81a" d="M548.6 396.7L555.5 402.6L549 408L542.1 402.1z"/>
<path fill="#c5e828" d="M553.7 401.1L560.6 407L554.2 412.5L547.3 406.5z"/>
<path fill="#a8e845" d="M558.9 405.5L565.8 411.4L559.4 416.9L552.4 411z"/>
<path fill="#9ae853" d="M564.1 409.9L571.1 415.8L564.6 421.4L557.6 415.4z"/>
<path fill="#7ee86f" d="M569.3 414.3L576.3 420.3L569.9 425.9L562.8 419.9z"/>
<path fill="#61e88c" d="M574.5 418.8L581.6 424.8L575.1 430.5L568.1 424.4z"/>
<path fill="#53e89a" d="M579.8 423.3L586.9 429.3L580.5 435L573.3 428.9z"/>
<path fill="#45e8a8" d="M585.1 427.8L592.2 433.9L585.8 439.6L578.6 433.5z"/>
<path fill="#36e8b6" d="M590.4 432.3L597.6 438.5L591.2 444.2L584 438z"/>
<path fill="#28e8c5" d="M595.7 436.9L608.4 447.7L602 453.5L589.3 442.6z"/>
<path fill="#1ae8d3" d="M606.6 446.1L682.1 510.4L675.8 516.8L600.2 451.9z"/>
<path fill="#1ae8d3" d="M237.7 139.7L260.3 159.1L253.6 162.6L230.9 143z"/>
<path fill="#28e8c5" d="M259.1 158L271.3 168.5L264.5 172.1L252.3 161.5z"/>
<path fill="#1ae8d3" d="M270 167.4L282.4 178L275.7 181.7L263.3 171z"/>
<path fill="#0ce8e1" d="M281.1 176.9L297.5 190.9L290.7 194.7L274.4 180.6z"/>
<path fill="#05e1e8" d="M296.2 189.8L309 200.8L302.3 204.6L289.4 193.6z"/>
<path fill="#05d3e8" d="M307.7 199.7L316.8 207.5L310 211.3L300.9 203.5z"/>
<path fill="#05c5e8" d="M315.4 206.3L324.6 214.2L317.9 218.1L308.7 210.2z"/>
<path fill="#05b6e8" d="M323.3 213L340.6 227.8L333.8 231.9L316.5 216.9z"/>
<path fill="#05a8e8" d="M339.2 226.7L348.6 234.8L341.9 238.8L332.4 230.7z"/>
<path fill="#05b6e8" d="M347.2 233.6L365.1 248.8L358.3 253L340.5 237.6z"/>
<path fill="#05c5e8" d="M363.6 247.6L373.4 256L366.7 260.2L356.9 251.8z"/>
<path fill="#05d3e8" d="M372 254.8L381.8 263.2L375.1 267.5L365.2 259z"/>
<path fill="#05e1e8" d="M380.4 262L398.9 277.9L392.2 282.3L373.6 266.3z"/>
<path fill="#0ce8e1" d="M397.5 276.6L429.8 304.3L423.1 308.9L390.7 281z"/>
<path fill="#1ae8d3" d="M428.2 303L447.9 319.8L441.2 324.6L421.5 307.6z"/>
<path fill="#28e8c5" d="M446.3 318.5L457.1 327.7L450.4 332.6L439.7 323.2z"/>
<path fill="#36e8b6" d="M455.5 326.4L461.8 331.7L455.1 336.6L448.9 331.2z"/>
<path fill="#45e8a8" d="M460.2 330.4L466.4 335.7L459.8 340.6L453.5 335.2z"/>
<path fill="#61e88c" d="M464.8 334.4L471.1 339.8L464.5 344.7L458.2 339.2z"/>
<path fill="#7ee86f" d="M469.5 338.4L475.8 343.8L469.2 348.7L462.9 343.3z"/>
<path fill="#8ce861" d="M474.2 342.4L480.6 347.9L474 352.9L467.6 347.3z"/>
<path fill="#a8e845" d="M479 346.5L490.2 356.1L483.5 361.1L472.3 351.4z"/>
<path fill="#b6e836" d="M488.5 354.7L499.9 364.4L493.2 369.5L481.9 359.7z"/>
<path fill="#a8e845" d="M498.2 362.9L504.7 368.6L498.1 373.7L491.6 368.1z"/>
<path fill="#b6e836" d="M503.1 367.1L509.6 372.8L503 378L496.5 372.3z"/>
<path fill="#c5e828" d="M508 371.3L519.5 381.2L513 386.5L501.4 376.5z"/>
<path fill="#b6e836" d="M517.8 379.8L529.6 389.8L523 395.2L511.3 385z"/>
<path fill="#c5e828" d="M527.8 388.3L539.7 398.5L533.1 403.9L521.3 393.7z"/>
<path fill="#b6e836" d="M537.9 397L544.8 402.9L538.2 408.3L531.4 402.4z"/>
<path fill="#a8e845" d="M543 401.4L549.9 407.3L543.4 412.8L536.5 406.8z"/>
<path fill="#9ae853" d="M548.2 405.8L555.1 411.7L548.6 417.2L541.6 411.3z"/>
<path fill="#8ce861" d="M553.3 410.2L560.3 416.2L553.8 421.7L546.8 415.7z"/>
<path fill="#7ee86f" d="M558.5 414.6L565.5 420.6L559 426.3L552 420.2z"/>
<path fill="#61e88c" d="M563.7 419.1L570.8 425.1L564.3 430.8L557.2 424.7z"/>
<path fill="#53e89a" d="M569 423.6L576 429.7L569.6 435.4L562.5 429.2z"/>
<path fill="#45e8a8" d="M574.2 428.1L581.4 434.2L574.9 440L567.7 433.8z"/>
<path fill="#36e8b6" d="M579.5 432.7L586.7 438.8L580.2 444.6L573.1 438.4z"/>
<path fill="#28e8c5" d="M584.9 437.2L597.5 448.1L591 453.9L578.4 443z"/>
<path fill="#1ae8d3" d="M595.6 446.5L676.7 515.9L670.4 522.5L589.2 452.3z"/>
<path fill="#1ae8d3" d="M231.9 142.6L261.8 168.4L255 172L225 146z"/>
<path fill="#28e8c5" d="M260.5 167.3L265.5 171.6L258.7 175.2L253.7 170.9z"/>
<path fill="#1ae8d3" d="M264.2 170.5L311 210.8L304.1 214.7L257.4 174.1z"/>
<path fill="#0ce8e1" d="M309.6 209.6L330.7 227.8L323.9 231.9L302.8 213.5z"/>
<path fill="#05e1e8" d="M329.4 226.7L355.1 248.9L348.3 253.1L322.5 230.7z"/>
<path fill="#0ce8e1" d="M353.7 247.7L376 266.9L369.2 271.2L346.9 251.8z"/>
<path fill="#1ae8d3" d="M374.6 265.7L446.8 327.9L440 332.7L367.8 270z"/>
<path fill="#28e8c5" d="M445.2 326.5L456 335.9L449.3 340.8L438.4 331.3z"/>
<path fill="#36e8b6" d="M454.4 334.5L460.7 339.9L454 344.9L447.7 339.4z"/>
<path fill="#45e8a8" d="M459.1 338.5L465.4 344L458.7 348.9L452.4 343.5z"/>
<path fill="#61e88c" d="M463.8 342.6L470.1 348.1L463.4 353.1L457.1 347.5z"/>
<path fill="#7ee86f" d="M468.5 346.7L474.9 352.2L468.2 357.2L461.8 351.6z"/>
<path fill="#a8e845" d="M473.2 350.7L479.7 356.3L473 361.3L466.6 355.8z"/>
<path fill="#c5e828" d="M478 354.9L484.5 360.4L477.8 365.5L471.3 359.9z"/>
<path fill="#d3e81a" d="M482.8 359L499 373L492.4 378.2L476.1 364.1z"/>
<path fill="#c5e828" d="M497.4 371.6L504 377.2L497.3 382.5L490.7 376.7z"/>
<path fill="#b6e836" d="M502.3 375.8L508.9 381.5L502.3 386.8L495.6 381z"/>
<path fill="#a8e845" d="M507.2 380L513.9 385.8L507.2 391.1L500.6 385.3z"/>
<path fill="#9ae853" d="M512.2 384.3L518.9 390.1L512.2 395.5L505.5 389.6z"/>
<path fill="#8ce861" d="M517.2 388.6L534 403.2L527.4 408.6L510.5 394z"/>
<path fill="#7ee86f" d="M532.3 401.7L544.3 412L537.7 417.6L525.7 407.1z"/>
<path fill="#6fe87e" d="M542.5 410.5L549.5 416.5L542.9 422.1L535.9 416z"/>
<path fill="#61e88c" d="M547.7 414.9L554.7 421L548.1 426.6L541.1 420.5z"/>
<path fill="#53e89a" d="M552.9 419.4L559.9 425.5L553.3 431.1L546.3 425z"/>
<path fill="#45e8a8" d="M558.1 423.9L565.2 430L558.6 435.7L551.5 429.6z"/>
<path fill="#36e8b6" d="M563.4 428.5L570.5 434.6L563.9 440.3L556.8 434.2z"/>
<path fill="#28e8c5" d="M568.6 433L581.1 443.8L574.6 449.6L562.1 438.8z"/>
<path fill="#1ae8d3" d="M579.3 442.2L586.5 448.4L580 454.3L572.8 448z"/>
<path fill="#0ce8e1" d="M584.7 446.8L597.4 457.8L590.9 463.8L578.2 452.7z"/>
<path fill="#05e1e8" d="M595.5 456.2L630.8 486.6L624.4 492.8L589 462.1z"/>
<path fill="#0ce8e1" d="M628.8 484.9L659.6 511.4L653.2 517.9L622.4 491.2z"/>
<path fill="#1ae8d3" d="M657.6 509.7L671.3 521.5L665 528.1L651.2 516.1z"/>
<path fill="#1ae8d3" d="M226 145.5L255.9 171.5L249.1 175.1L219.1 148.9z"/>
<path fill="#28e8c5" d="M254.7 170.4L285.8 197.4L278.9 201.2L247.8 174z"/>
<path fill="#36e8b6" d="M284.5 196.3L289.6 200.7L282.8 204.5L277.6 200.1z"/>
<path fill="#45e8a8" d="M288.3 199.6L293.5 204.1L286.6 207.9L281.4 203.4z"/>
<path fill="#53e89a" d="M292.1 202.9L297.3 207.4L290.4 211.3L285.3 206.7z"/>
<path fill="#61e88c" d="M296 206.3L301.2 210.8L294.3 214.7L289.1 210.1z"/>
<path fill="#6fe87e" d="M299.9 209.6L305.1 214.1L298.2 218.1L293 213.5z"/>
<path fill="#7ee86f" d="M303.8 213L309 217.5L302.1 221.5L296.9 216.9z"/>
<path fill="#8ce861" d="M307.7 216.4L312.9 221L306.1 224.9L300.8 220.3z"/>
<path fill="#9ae853" d="M311.6 219.8L320.9 227.8L314 231.9L304.7 223.7z"/>
<path fill="#8ce861" d="M319.5 226.7L324.9 231.3L318 235.4L312.6 230.7z"/>
<path fill="#6fe87e" d="M323.5 230.1L328.9 234.8L322 238.9L316.6 234.2z"/>
<path fill="#61e88c" d="M327.5 233.6L332.9 238.3L326.1 242.4L320.6 237.7z"/>
<path fill="#53e89a" d="M331.5 237.1L337 241.8L330.1 245.9L324.7 241.2z"/>
<path fill="#45e8a8" d="M335.6 240.6L341 245.3L334.2 249.5L328.7 244.7z"/>
<path fill="#36e8b6" d="M339.6 244.1L396 293.1L389.2 297.6L332.8 248.3z"/>
<path fill="#28e8c5" d="M394.5 291.8L427.2 320.1L420.4 324.9L387.7 296.3z"/>
<path fill="#1ae8d3" d="M425.7 318.8L450.2 340.1L443.5 345L418.9 323.5z"/>
<path fill="#28e8c5" d="M448.6 338.7L459.6 348.3L452.9 353.3L441.9 343.6z"/>
<path fill="#36e8b6" d="M458 346.8L464.4 352.4L457.6 357.4L451.2 351.8z"/>
<path fill="#45e8a8" d="M462.7 350.9L469.1 356.5L462.4 361.6L456 356z"/>
<path fill="#61e88c" d="M467.5 355.1L473.9 360.6L467.2 365.7L460.7 360.1z"/>
<path fill="#7ee86f" d="M472.3 359.2L478.7 364.8L472 370L465.5 364.3z"/>
<path fill="#8ce861" d="M477.1 363.4L483.6 369L476.8 374.2L470.3 368.5z"/>
<path fill="#9ae853" d="M481.9 367.6L488.4 373.2L481.7 378.5L475.2 372.7z"/>
<path fill="#a8e845" d="M486.7 371.8L498.2 381.8L491.5 387L480 377z"/>
<path fill="#9ae853" d="M496.5 380.3L503.2 386L496.5 391.4L489.8 385.6z"/>
<path fill="#8ce861" d="M501.5 384.6L508.2 390.4L501.5 395.7L494.8 389.9z"/>
<path fill="#7ee86f" d="M506.4 388.9L513.2 394.7L506.5 400.1L499.7 394.2z"/>
<path fill="#6fe87e" d="M511.4 393.2L518.2 399.1L511.5 404.5L504.7 398.6z"/>
<path fill="#61e88c" d="M516.5 397.6L523.3 403.5L516.6 408.9L509.8 403z"/>
<path fill="#53e89a" d="M521.5 402L533.5 412.3L526.8 417.9L514.8 407.4z"/>
<path fill="#45e8a8" d="M531.7 410.8L543.8 421.3L537.2 426.9L525 416.3z"/>
<path fill="#36e8b6" d="M542 419.7L549 425.8L542.4 431.5L535.4 425.4z"/>
<path fill="#28e8c5" d="M547.2 424.3L559.5 434.9L552.9 440.7L540.6 429.9z"/>
<path fill="#1ae8d3" d="M557.7 433.4L564.8 439.5L558.2 445.3L551.1 439.1z"/>
<path fill="#0ce8e1" d="M563 438L570.2 444.2L563.6 450L556.4 443.7z"/>
<path fill="#05e1e8" d="M568.3 442.6L575.5 448.8L568.9 454.7L561.7 448.4z"/>
<path fill="#05d3e8" d="M573.7 447.2L580.9 453.5L574.3 459.4L567.1 453.1z"/>
<path fill="#05c5e8" d="M579.1 451.9L586.3 458.2L579.8 464.2L572.5 457.8z"/>
<path fill="#05b6e8" d="M584.5 456.6L591.8 462.9L585.2 469L577.9 462.6z"/>
<path fill="#05a8e8" d="M589.9 461.3L602.8 472.5L596.3 478.6L583.4 467.3z"/>
<path fill="#05b6e8" d="M600.9 470.9L614 482.2L607.5 488.4L594.4 477z"/>
<path fill="#05c5e8" d="M612 480.5L619.6 487.1L613.1 493.3L605.5 486.7z"/>
<path fill="#05d3e8" d="M617.7 485.4L630.9 496.9L624.5 503.3L611.2 491.6z"/>
<path fill="#05e1e8" d="M629 495.2L636.7 501.9L630.2 508.3L622.5 501.5z"/>
<path fill="#0ce8e1" d="M634.7 500.2L654.1 517L647.6 523.5L628.2 506.6z"/>
<path fill="#1ae8d3" d="M652.1 515.2L665.9 527.2L659.5 533.8L645.6 521.8z"/>
<path fill="#1ae8d3" d="M220.1 148.4L250 174.6L243.1 178.2L213.1 151.9z"/>
<path fill="#28e8c5" d="M248.8 173.5L272.3 194.1L265.4 197.8L241.8 177.1z"/>
<path fill="#36e8b6" d="M271 192.9L276.1 197.4L269.2 201.2L264.1 196.7z"/>
<path fill="#45e8a8" d="M274.8 196.2L283.7 204L276.8 207.9L267.9 200z"/>
<path fill="#61e88c" d="M282.4 202.9L287.5 207.4L280.6 211.2L275.5 206.7z"/>
<path fill="#7ee86f" d="M286.2 206.2L291.4 210.7L284.5 214.6L279.3 210.1z"/>
<path fill="#a8e845" d="M290.1 209.6L295.3 214.1L288.4 218L283.2 213.5z"/>
<path fill="#e1e80c" d="M293.9 213L299.2 217.5L292.3 221.5L287 216.9z"/>
<path fill="#e8c505" d="M297.8 216.4L303.1 220.9L296.2 224.9L290.9 220.3z"/>
<path fill="#e89a05" d="M301.7 219.8L307 224.4L300.1 228.4L294.8 223.7z"/>
<path fill="#e87e05" d="M305.7 223.2L311 227.8L304.1 231.9L298.8 227.2z"/>
<path fill="#e88c05" d="M309.6 226.6L315 231.3L308 235.4L302.7 230.7z"/>
<path fill="#e89a05" d="M313.6 230.1L319 234.8L312 238.9L306.7 234.2z"/>
<path fill="#e8d305" d="M317.6 233.6L323 238.3L316.1 242.4L310.7 237.7z"/>
<path fill="#d3e81a" d="M321.6 237.1L327 241.8L320.1 246L314.7 241.2z"/>
<path fill="#9ae853" d="M325.6 240.6L331.1 245.4L324.1 249.5L318.7 244.7z"/>
<path fill="#7ee86f" d="M329.7 244.2L335.1 248.9L328.2 253.1L322.8 248.3z"/>
<path fill="#61e88c" d="M333.7 247.7L339.2 252.5L332.3 256.7L326.8 251.9z"/>
<path fill="#53e89a" d="M337.8 251.3L343.4 256.1L336.5 260.4L330.9 255.5z"/>
<path fill="#45e8a8" d="M341.9 254.9L381.4 289.4L374.5 293.9L335 259.1z"/>
<path fill="#36e8b6" d="M380 288.1L407.8 312.4L401 317.1L373.1 292.6z"/>
<path fill="#28e8c5" d="M406.3 311.1L430.5 332.2L423.7 337.1L399.4 315.8z"/>
<path fill="#1ae8d3" d="M428.9 330.8L458.5 356.7L451.7 361.8L422.1 335.7z"/>
<path fill="#28e8c5" d="M456.9 355.3L468.1 365L461.3 370.2L450.1 360.3z"/>
<path fill="#36e8b6" d="M466.5 363.6L477.8 373.5L471 378.7L459.6 368.7z"/>
<path fill="#45e8a8" d="M476.1 372L482.6 377.7L475.8 383L469.3 377.2z"/>
<path fill="#53e89a" d="M481 376.3L507.4 399.4L500.6 404.8L474.2 381.5z"/>
<path fill="#45e8a8" d="M505.7 397.9L517.5 408.2L510.8 413.7L498.9 403.3z"/>
<path fill="#36e8b6" d="M515.8 406.7L527.7 417.1L521 422.7L509 412.2z"/>
<path fill="#28e8c5" d="M526 415.6L538.1 426.1L531.4 431.8L519.2 421.2z"/>
<path fill="#1ae8d3" d="M536.3 424.6L548.5 435.3L541.9 441.1L529.6 430.3z"/>
<path fill="#0ce8e1" d="M546.7 433.7L553.8 439.9L547.1 445.7L540 439.5z"/>
<path fill="#05e1e8" d="M552 438.3L564.5 449.2L557.8 455.1L545.3 444.1z"/>
<path fill="#05d3e8" d="M562.6 447.6L569.8 453.9L563.2 459.8L556 453.5z"/>
<path fill="#05c5e8" d="M568 452.3L597.2 477.8L590.6 483.9L561.3 458.2z"/>
<path fill="#05d3e8" d="M595.3 476.1L608.4 487.5L601.8 493.8L588.7 482.3z"/>
<path fill="#05e1e8" d="M606.4 485.8L619.7 497.4L613.1 503.8L599.9 492.1z"/>
<path fill="#0ce8e1" d="M617.7 495.7L636.9 512.4L630.4 518.9L611.2 502z"/>
<path fill="#1ae8d3" d="M634.9 510.7L660.3 532.9L653.9 539.6L628.4 517.2z"/>
<path fill="#1ae8d3" d="M214.1 151.4L251.4 184.2L244.4 187.9L207.1 154.9z"/>
<path fill="#28e8c5" d="M250.1 183.1L270.1 200.6L263.1 204.5L243.2 186.8z"/>
<path fill="#36e8b6" d="M268.8 199.5L277.7 207.3L270.8 211.2L261.8 203.3z"/>
<path fill="#45e8a8" d="M276.4 206.2L281.6 210.7L274.6 214.6L269.4 210.1z"/>
<path fill="#53e89a" d="M280.3 209.5L285.4 214.1L278.5 218L273.3 213.4z"/>
<path fill="#61e88c" d="M284.1 212.9L289.3 217.5L282.3 221.5L277.1 216.9z"/>
<path fill="#7ee86f" d="M288 216.3L293.2 220.9L286.2 224.9L281 220.3z"/>
<path fill="#9ae853" d="M291.9 219.7L297.1 224.4L290.1 228.4L284.9 223.7z"/>
<path fill="#a8e845" d="M295.8 223.2L301.1 227.8L294.1 231.9L288.8 227.2z"/>
<path fill="#b6e836" d="M299.7 226.6L309 234.8L302 238.9L292.7 230.7z"/>
<path fill="#a8e845" d="M307.6 233.6L313 238.3L306 242.4L300.7 237.7z"/>
<path fill="#9ae853" d="M311.6 237.1L317 241.8L310 246L304.6 241.2z"/>
<path fill="#7ee86f" d="M315.6 240.6L321.1 245.4L314.1 249.6L308.7 244.8z"/>
<path fill="#61e88c" d="M319.7 244.2L325.1 249L318.1 253.2L312.7 248.3z"/>
<path fill="#53e89a" d="M323.7 247.7L329.2 252.5L322.2 256.8L316.7 251.9z"/>
<path fill="#45e8a8" d="M327.8 251.3L337.4 259.8L330.4 264.1L320.8 255.5z"/>
<path fill="#36e8b6" d="M336 258.5L393 308.6L386.1 313.3L329 262.8z"/>
<path fill="#28e8c5" d="M391.5 307.3L420 332.4L413.1 337.3L384.6 312z"/>
<path fill="#1ae8d3" d="M418.5 331L476.8 382.3L469.9 387.6L411.5 335.9z"/>
<path fill="#28e8c5" d="M475.1 380.8L516.8 417.4L510 423.1L468.3 386.1z"/>
<path fill="#1ae8d3" d="M515.1 415.9L548.1 444.9L541.3 450.8L508.3 421.5z"/>
<path fill="#0ce8e1" d="M546.3 443.3L602.7 492.9L596.1 499.2L539.5 449.2z"/>
<path fill="#1ae8d3" d="M600.8 491.2L654.8 538.7L648.3 545.5L594.1 497.5z"/>
<path fill="#1ae8d3" d="M208.1 154.4L267.9 207.3L260.9 211.2L201.1 157.9z"/>
<path fill="#28e8c5" d="M266.6 206.1L295.1 231.3L288 235.4L259.6 210z"/>
<path fill="#36e8b6" d="M293.7 230.1L303 238.3L296 242.4L286.7 234.2z"/>
<path fill="#28e8c5" d="M301.6 237.1L387.1 312.7L380.1 317.4L294.6 241.2z"/>
<path fill="#1ae8d3" d="M385.5 311.3L649.2 544.5L642.6 551.4L378.5 316.1z"/>
</g></g>
<!-- plane left -->
<clipPath id="cp_left"><polygon points="178,245 349.3,373.5 208,473 32.5,320"/></clipPath>
<g clip-path="url(#cp_left)"><g filter="url(#bl)">
<path fill="#28e8c5" d="M176.6 233.7L185.1 240L179.8 242.7L171.3 236.4z"/>
<path fill="#36e8b6" d="M184.5 239.5L197 248.8L191.7 251.6L179.2 242.2z"/>
<path fill="#28e8c5" d="M196.4 248.3L221.4 266.9L216.1 269.8L191.1 251.1z"/>
<path fill="#36e8b6" d="M220.7 266.4L229.6 273.1L224.3 276L215.4 269.3z"/>
<path fill="#45e8a8" d="M229 272.6L233.8 276.2L228.5 279.1L223.7 275.5z"/>
<path fill="#53e89a" d="M233.1 275.7L238 279.3L232.7 282.3L227.9 278.7z"/>
<path fill="#61e88c" d="M237.3 278.8L242.2 282.4L236.9 285.4L232 281.8z"/>
<path fill="#6fe87e" d="M241.5 281.9L250.7 288.7L245.4 291.8L236.2 284.9z"/>
<path fill="#7ee86f" d="M250 288.2L254.9 291.9L249.7 295L244.7 291.3z"/>
<path fill="#8ce861" d="M254.3 291.4L276.6 308L271.4 311.2L249 294.5z"/>
<path fill="#7ee86f" d="M275.9 307.5L281 311.3L275.8 314.5L270.7 310.7z"/>
<path fill="#6fe87e" d="M280.3 310.8L285.4 314.6L280.2 317.8L275.1 314z"/>
<path fill="#61e88c" d="M284.7 314.1L289.9 317.9L284.6 321.1L279.5 317.3z"/>
<path fill="#53e89a" d="M289.2 317.4L294.3 321.2L289.1 324.5L283.9 320.6z"/>
<path fill="#45e8a8" d="M293.6 320.7L298.8 324.5L293.6 327.8L288.4 323.9z"/>
<path fill="#36e8b6" d="M298.1 324L307.8 331.3L302.7 334.6L292.9 327.3z"/>
<path fill="#28e8c5" d="M307.1 330.7L312.4 334.6L307.2 338L301.9 334.1z"/>
<path fill="#1ae8d3" d="M311.7 334.1L330.9 348.4L325.7 351.8L306.5 337.5z"/>
<path fill="#0ce8e1" d="M330.1 347.8L345 358.9L339.8 362.4L325 351.3z"/>
<path fill="#1ae8d3" d="M344.2 358.3L368.9 376.7L363.8 380.4L339.1 361.8z"/>
<path fill="#28e8c5" d="M172.1 236L176.6 239.4L171.3 242.1L166.7 238.7z"/>
<path fill="#36e8b6" d="M176 238.9L200.5 257.2L195.2 260.1L170.6 241.6z"/>
<path fill="#28e8c5" d="M199.9 256.7L212.7 266.3L207.4 269.2L194.5 259.6z"/>
<path fill="#36e8b6" d="M212.1 265.9L221 272.5L215.6 275.4L206.7 268.8z"/>
<path fill="#45e8a8" d="M220.3 272L225.1 275.6L219.8 278.6L215 275z"/>
<path fill="#53e89a" d="M224.5 275.1L229.3 278.7L224 281.7L219.1 278.1z"/>
<path fill="#61e88c" d="M228.6 278.2L233.5 281.8L228.2 284.9L223.3 281.2z"/>
<path fill="#7ee86f" d="M232.8 281.3L237.7 285L232.4 288L227.5 284.4z"/>
<path fill="#8ce861" d="M237 284.5L241.9 288.1L236.6 291.2L231.7 287.5z"/>
<path fill="#9ae853" d="M241.3 287.7L246.2 291.3L240.9 294.4L235.9 290.7z"/>
<path fill="#b6e836" d="M245.5 290.8L250.4 294.5L245.1 297.6L240.2 293.9z"/>
<path fill="#c5e828" d="M249.8 294L259.1 301L253.8 304.1L244.5 297.1z"/>
<path fill="#d3e81a" d="M258.4 300.4L267.7 307.5L262.5 310.6L253.1 303.6z"/>
<path fill="#c5e828" d="M267.1 306.9L272.1 310.7L266.9 313.9L261.8 310.1z"/>
<path fill="#b6e836" d="M271.4 310.2L276.5 314L271.3 317.2L266.2 313.4z"/>
<path fill="#a8e845" d="M275.8 313.5L281 317.3L275.7 320.6L270.6 316.7z"/>
<path fill="#8ce861" d="M280.3 316.8L285.4 320.6L280.2 323.9L275 320.1z"/>
<path fill="#7ee86f" d="M284.7 320.1L289.9 324L284.6 327.3L279.4 323.4z"/>
<path fill="#61e88c" d="M289.2 323.5L294.4 327.3L289.1 330.7L283.9 326.8z"/>
<path fill="#53e89a" d="M293.7 326.8L298.9 330.7L293.6 334.1L288.4 330.1z"/>
<path fill="#36e8b6" d="M298.2 330.2L303.4 334.1L298.2 337.5L292.9 333.5z"/>
<path fill="#28e8c5" d="M302.7 333.6L308 337.5L302.8 340.9L297.5 336.9z"/>
<path fill="#1ae8d3" d="M307.3 337L312.6 340.9L307.3 344.4L302 340.4z"/>
<path fill="#0ce8e1" d="M311.8 340.4L354.9 372.6L349.8 376.2L306.6 343.8z"/>
<path fill="#1ae8d3" d="M354.2 372L364.6 379.8L359.5 383.5L349 375.7z"/>
<path fill="#28e8c5" d="M167.5 238.3L172 241.7L166.6 244.5L162.1 241z"/>
<path fill="#36e8b6" d="M171.4 241.2L179.9 247.6L174.5 250.4L166 244z"/>
<path fill="#45e8a8" d="M179.3 247.2L183.9 250.6L178.5 253.4L173.9 249.9z"/>
<path fill="#36e8b6" d="M183.3 250.1L200 262.7L194.6 265.6L177.9 252.9z"/>
<path fill="#28e8c5" d="M199.4 262.2L204.1 265.7L198.7 268.7L194 265.1z"/>
<path fill="#36e8b6" d="M203.4 265.3L212.3 271.9L206.9 274.9L198.1 268.2z"/>
<path fill="#45e8a8" d="M211.6 271.4L216.4 275L211.1 278L206.3 274.4z"/>
<path fill="#53e89a" d="M215.8 274.5L220.6 278.1L215.2 281.1L210.4 277.5z"/>
<path fill="#61e88c" d="M219.9 277.6L224.7 281.3L219.4 284.3L214.6 280.6z"/>
<path fill="#7ee86f" d="M224.1 280.8L228.9 284.4L223.6 287.4L218.7 283.8z"/>
<path fill="#8ce861" d="M228.3 283.9L233.2 287.6L227.8 290.6L222.9 286.9z"/>
<path fill="#a8e845" d="M232.5 287.1L237.4 290.8L232 293.8L227.1 290.1z"/>
<path fill="#c5e828" d="M236.7 290.3L241.6 294L236.3 297.1L231.4 293.3z"/>
<path fill="#e1e80c" d="M241 293.4L245.9 297.2L240.6 300.3L235.6 296.5z"/>
<path fill="#e8e105" d="M245.3 296.7L250.2 300.4L244.9 303.5L239.9 299.8z"/>
<path fill="#e8d305" d="M249.5 299.9L254.5 303.6L249.2 306.8L244.2 303z"/>
<path fill="#e8c505" d="M253.9 303.1L263.2 310.2L257.9 313.4L248.5 306.3z"/>
<path fill="#e8d305" d="M262.6 309.7L267.6 313.5L262.3 316.7L257.2 312.9z"/>
<path fill="#e8e105" d="M266.9 312.9L272 316.8L266.7 320L261.6 316.2z"/>
<path fill="#e1e80c" d="M271.3 316.3L276.5 320.1L271.2 323.4L266 319.5z"/>
<path fill="#c5e828" d="M275.8 319.6L280.9 323.4L275.6 326.7L270.5 322.8z"/>
<path fill="#a8e845" d="M280.2 322.9L285.4 326.8L280.1 330.1L274.9 326.2z"/>
<path fill="#7ee86f" d="M284.7 326.3L289.9 330.2L284.6 333.5L279.4 329.6z"/>
<path fill="#61e88c" d="M289.2 329.6L294.4 333.6L289.1 336.9L283.9 333z"/>
<path fill="#45e8a8" d="M293.7 333L299 337L293.7 340.4L288.4 336.4z"/>
<path fill="#28e8c5" d="M298.2 336.4L303.5 340.4L298.3 343.8L293 339.8z"/>
<path fill="#0ce8e1" d="M302.8 339.9L308.1 343.9L302.9 347.3L297.5 343.3z"/>
<path fill="#05e1e8" d="M307.4 343.3L312.7 347.3L307.5 350.8L302.1 346.8z"/>
<path fill="#05d3e8" d="M312 346.8L331.4 361.4L326.2 364.9L306.8 350.2z"/>
<path fill="#05e1e8" d="M330.7 360.8L340.9 368.5L335.7 372.1L325.5 364.4z"/>
<path fill="#0ce8e1" d="M340.2 367.9L355.4 379.3L350.2 383L335 371.5z"/>
<path fill="#1ae8d3" d="M354.6 378.8L360.2 383L355 386.7L349.4 382.4z"/>
<path fill="#36e8b6" d="M162.9 240.6L171.4 247L165.9 249.8L157.4 243.4z"/>
<path fill="#45e8a8" d="M170.8 246.6L187.3 259.1L181.9 261.9L165.3 249.3z"/>
<path fill="#36e8b6" d="M186.7 258.6L207.7 274.4L202.3 277.4L181.3 261.4z"/>
<path fill="#45e8a8" d="M207.1 273.9L211.8 277.5L206.4 280.5L201.6 276.9z"/>
<path fill="#53e89a" d="M211.2 277.1L216 280.7L210.6 283.7L205.8 280.1z"/>
<path fill="#6fe87e" d="M215.3 280.2L220.2 283.8L214.8 286.9L209.9 283.2z"/>
<path fill="#7ee86f" d="M219.5 283.3L224.4 287L219 290.1L214.1 286.4z"/>
<path fill="#9ae853" d="M223.7 286.5L228.6 290.2L223.2 293.3L218.3 289.6z"/>
<path fill="#b6e836" d="M227.9 289.7L232.8 293.4L227.4 296.5L222.5 292.8z"/>
<path fill="#d3e81a" d="M232.2 292.9L237.1 296.6L231.7 299.7L226.8 296z"/>
<path fill="#e8d305" d="M236.4 296.1L241.4 299.8L236 303L231 299.2z"/>
<path fill="#e8c505" d="M240.7 299.3L245.7 303.1L240.3 306.2L235.3 302.5z"/>
<path fill="#e8a805" d="M245 302.6L250 306.3L244.6 309.5L239.6 305.7z"/>
<path fill="#e89a05" d="M249.3 305.8L258.7 312.9L253.4 316.1L244 309z"/>
<path fill="#e8a805" d="M258 312.4L263.1 316.2L257.8 319.5L252.7 315.6z"/>
<path fill="#e8b605" d="M262.4 315.7L267.5 319.5L262.2 322.8L257.1 318.9z"/>
<path fill="#e8d305" d="M266.8 319L272 322.9L266.6 326.2L261.5 322.3z"/>
<path fill="#e1e80c" d="M271.3 322.4L276.4 326.3L271.1 329.6L265.9 325.7z"/>
<path fill="#b6e836" d="M275.7 325.7L280.9 329.6L275.6 333L270.4 329z"/>
<path fill="#8ce861" d="M280.2 329.1L285.4 333L280.1 336.4L274.9 332.4z"/>
<path fill="#61e88c" d="M284.7 332.5L289.9 336.4L284.6 339.8L279.4 335.9z"/>
<path fill="#36e8b6" d="M289.2 335.9L294.5 339.9L289.2 343.3L283.9 339.3z"/>
<path fill="#1ae8d3" d="M293.7 339.3L299 343.3L293.7 346.8L288.4 342.8z"/>
<path fill="#05e1e8" d="M298.3 342.8L303.6 346.8L298.3 350.3L293 346.2z"/>
<path fill="#05c5e8" d="M302.9 346.2L308.3 350.3L303 353.8L297.6 349.7z"/>
<path fill="#05b6e8" d="M307.5 349.7L322.3 360.8L317 364.4L302.2 353.2z"/>
<path fill="#05c5e8" d="M321.5 360.3L327 364.4L321.7 368L316.3 363.8z"/>
<path fill="#05d3e8" d="M326.2 363.8L331.7 368L326.5 371.6L321 367.4z"/>
<path fill="#05e1e8" d="M331 367.4L336.5 371.6L331.2 375.2L325.7 371z"/>
<path fill="#0ce8e1" d="M335.7 371L350.9 382.5L345.7 386.2L330.5 374.6z"/>
<path fill="#1ae8d3" d="M350.2 381.9L355.8 386.1L350.6 389.9L345 385.6z"/>
<path fill="#36e8b6" d="M158.2 243L162.8 246.4L157.3 249.2L152.8 245.8z"/>
<path fill="#45e8a8" d="M162.2 245.9L182.7 261.5L177.2 264.4L156.7 248.7z"/>
<path fill="#36e8b6" d="M182.1 261L203.1 277L197.6 280L176.6 263.9z"/>
<path fill="#45e8a8" d="M202.4 276.5L207.2 280.1L201.8 283.1L197 279.5z"/>
<path fill="#53e89a" d="M206.6 279.6L211.4 283.3L206 286.3L201.1 282.6z"/>
<path fill="#61e88c" d="M210.7 282.8L215.6 286.4L210.1 289.5L205.3 285.8z"/>
<path fill="#7ee86f" d="M214.9 285.9L219.8 289.6L214.3 292.7L209.5 289z"/>
<path fill="#9ae853" d="M219.1 289.1L224 292.8L218.6 295.9L213.7 292.2z"/>
<path fill="#b6e836" d="M223.3 292.3L228.2 296L222.8 299.2L217.9 295.4z"/>
<path fill="#d3e81a" d="M227.6 295.5L232.5 299.3L227.1 302.4L222.1 298.6z"/>
<path fill="#e8e105" d="M231.8 298.8L236.8 302.5L231.4 305.7L226.4 301.9z"/>
<path fill="#e8c505" d="M236.1 302L241.1 305.8L235.7 309L230.7 305.2z"/>
<path fill="#e8b605" d="M240.4 305.3L245.4 309.1L240 312.3L235 308.4z"/>
<path fill="#e8a805" d="M244.7 308.5L249.8 312.4L244.4 315.6L239.3 311.7z"/>
<path fill="#e89a05" d="M249.1 311.8L254.1 315.7L248.8 318.9L243.7 315.1z"/>
<path fill="#e8a805" d="M253.5 315.1L258.5 319L253.2 322.3L248.1 318.4z"/>
<path fill="#e8b605" d="M257.8 318.5L263 322.3L257.6 325.6L252.5 321.7z"/>
<path fill="#e8c505" d="M262.3 321.8L267.4 325.7L262 329L256.9 325.1z"/>
<path fill="#e1e80c" d="M266.7 325.2L271.9 329.1L266.5 332.4L261.3 328.5z"/>
<path fill="#c5e828" d="M271.2 328.6L276.3 332.5L271 335.9L265.8 331.9z"/>
<path fill="#9ae853" d="M275.6 332L280.9 335.9L275.5 339.3L270.3 335.3z"/>
<path fill="#61e88c" d="M280.1 335.4L285.4 339.3L280 342.8L274.8 338.8z"/>
<path fill="#36e8b6" d="M284.7 338.8L289.9 342.8L284.6 346.2L279.3 342.2z"/>
<path fill="#1ae8d3" d="M289.2 342.3L294.5 346.3L289.2 349.7L283.9 345.7z"/>
<path fill="#05e1e8" d="M293.8 345.7L299.1 349.8L293.8 353.2L288.5 349.2z"/>
<path fill="#05c5e8" d="M298.4 349.2L303.7 353.3L298.4 356.8L293.1 352.7z"/>
<path fill="#05b6e8" d="M303 352.7L313.1 360.3L307.8 363.9L297.7 356.2z"/>
<path fill="#05c5e8" d="M312.3 359.8L317.8 363.9L312.5 367.5L307 363.3z"/>
<path fill="#05d3e8" d="M317 363.3L322.5 367.5L317.2 371.1L311.7 366.9z"/>
<path fill="#05e1e8" d="M321.7 366.9L332 374.7L326.7 378.4L316.4 370.5z"/>
<path fill="#0ce8e1" d="M331.3 374.1L346.5 385.7L341.2 389.4L326 377.8z"/>
<path fill="#1ae8d3" d="M345.7 385.1L351.4 389.3L346.1 393.1L340.5 388.8z"/>
<path fill="#36e8b6" d="M153.6 245.3L158.1 248.8L152.6 251.6L148 248.1z"/>
<path fill="#45e8a8" d="M157.5 248.3L162.1 251.8L156.5 254.7L152 251.2z"/>
<path fill="#53e89a" d="M161.4 251.3L174 260.9L168.5 263.8L155.9 254.2z"/>
<path fill="#45e8a8" d="M173.4 260.4L182.1 267.1L176.6 270L167.9 263.3z"/>
<path fill="#36e8b6" d="M181.4 266.6L190.2 273.3L184.7 276.2L175.9 269.5z"/>
<path fill="#28e8c5" d="M189.6 272.8L194.3 276.4L188.8 279.4L184.1 275.7z"/>
<path fill="#36e8b6" d="M193.7 275.9L202.6 282.7L197.1 285.7L188.2 278.9z"/>
<path fill="#45e8a8" d="M201.9 282.2L206.8 285.9L201.3 288.9L196.5 285.2z"/>
<path fill="#53e89a" d="M206.1 285.4L210.9 289L205.5 292.1L200.6 288.4z"/>
<path fill="#61e88c" d="M210.3 288.5L215.1 292.2L209.7 295.3L204.8 291.6z"/>
<path fill="#7ee86f" d="M214.5 291.7L219.4 295.5L213.9 298.6L209 294.8z"/>
<path fill="#9ae853" d="M218.7 295L223.6 298.7L218.2 301.8L213.2 298.1z"/>
<path fill="#b6e836" d="M222.9 298.2L227.9 301.9L222.4 305.1L217.5 301.3z"/>
<path fill="#c5e828" d="M227.2 301.4L232.2 305.2L226.7 308.4L221.8 304.6z"/>
<path fill="#e1e80c" d="M231.5 304.7L236.5 308.5L231 311.7L226 307.9z"/>
<path fill="#e8d305" d="M235.8 308L240.8 311.8L235.4 315L230.4 311.2z"/>
<path fill="#e8c505" d="M240.1 311.3L253.9 321.8L248.5 325.1L234.7 314.5z"/>
<path fill="#e8d305" d="M253.3 321.3L258.4 325.2L252.9 328.5L247.8 324.6z"/>
<path fill="#e8e105" d="M257.7 324.6L262.8 328.5L257.4 331.9L252.2 328z"/>
<path fill="#d3e81a" d="M262.1 328L267.3 331.9L261.9 335.3L256.7 331.4z"/>
<path fill="#b6e836" d="M266.6 331.4L271.8 335.4L266.4 338.8L261.2 334.8z"/>
<path fill="#8ce861" d="M271.1 334.8L276.3 338.8L270.9 342.2L265.7 338.2z"/>
<path fill="#6fe87e" d="M275.6 338.3L280.8 342.3L275.4 345.7L270.2 341.7z"/>
<path fill="#45e8a8" d="M280.1 341.7L285.4 345.7L280 349.2L274.7 345.2z"/>
<path fill="#28e8c5" d="M284.7 345.2L290 349.2L284.6 352.7L279.3 348.7z"/>
<path fill="#0ce8e1" d="M289.2 348.7L294.6 352.7L289.2 356.3L283.9 352.2z"/>
<path fill="#05e1e8" d="M293.8 352.2L318 370.6L312.6 374.2L288.5 355.7z"/>
<path fill="#0ce8e1" d="M317.2 370L332.3 381.5L327 385.2L311.9 373.6z"/>
<path fill="#1ae8d3" d="M331.6 380.9L346.9 392.6L341.6 396.4L326.2 384.6z"/>
<path fill="#36e8b6" d="M148.9 247.7L153.4 251.2L147.8 254.1L143.3 250.6z"/>
<path fill="#45e8a8" d="M152.8 250.7L157.3 254.2L151.8 257.1L147.2 253.6z"/>
<path fill="#53e89a" d="M156.7 253.8L173.3 266.5L167.8 269.4L151.2 256.6z"/>
<path fill="#45e8a8" d="M172.7 266L177.4 269.6L171.8 272.5L167.2 268.9z"/>
<path fill="#36e8b6" d="M176.7 269.1L185.5 275.8L180 278.8L171.2 272z"/>
<path fill="#28e8c5" d="M184.9 275.3L197.9 285.3L192.4 288.3L179.4 278.3z"/>
<path fill="#36e8b6" d="M197.3 284.8L202.1 288.5L196.6 291.5L191.7 287.8z"/>
<path fill="#45e8a8" d="M201.4 288L206.3 291.7L200.7 294.8L195.9 291z"/>
<path fill="#53e89a" d="M205.6 291.2L210.5 294.9L205 298L200.1 294.3z"/>
<path fill="#61e88c" d="M209.8 294.4L214.7 298.1L209.2 301.3L204.3 297.5z"/>
<path fill="#6fe87e" d="M214 297.6L219 301.4L213.5 304.5L208.5 300.8z"/>
<path fill="#7ee86f" d="M218.3 300.9L223.2 304.6L217.7 307.8L212.8 304z"/>
<path fill="#9ae853" d="M222.6 304.1L227.5 307.9L222 311.1L217.1 307.3z"/>
<path fill="#a8e845" d="M226.8 307.4L231.8 311.2L226.3 314.5L221.3 310.6z"/>
<path fill="#b6e836" d="M231.2 310.7L236.2 314.6L230.7 317.8L225.7 313.9z"/>
<path fill="#c5e828" d="M235.5 314L240.5 317.9L235.1 321.2L230 317.3z"/>
<path fill="#d3e81a" d="M239.8 317.4L249.3 324.6L243.8 327.9L234.4 320.6z"/>
<path fill="#c5e828" d="M248.6 324.1L253.7 328L248.3 331.4L243.2 327.4z"/>
<path fill="#b6e836" d="M253 327.5L258.2 331.4L252.7 334.8L247.6 330.8z"/>
<path fill="#a8e845" d="M257.5 330.9L262.7 334.8L257.2 338.2L252 334.2z"/>
<path fill="#8ce861" d="M262 334.3L267.2 338.3L261.7 341.7L256.5 337.7z"/>
<path fill="#7ee86f" d="M266.5 337.7L271.7 341.7L266.2 345.2L261 341.1z"/>
<path fill="#61e88c" d="M271 341.2L276.2 345.2L270.8 348.7L265.5 344.6z"/>
<path fill="#45e8a8" d="M275.5 344.7L280.8 348.7L275.4 352.2L270.1 348.1z"/>
<path fill="#28e8c5" d="M280.1 348.1L285.4 352.2L280 355.7L274.6 351.6z"/>
<path fill="#1ae8d3" d="M284.6 351.7L290 355.7L284.6 359.3L279.2 355.2z"/>
<path fill="#0ce8e1" d="M289.3 355.2L294.6 359.3L289.2 362.9L283.8 358.7z"/>
<path fill="#05e1e8" d="M293.9 358.7L308.7 370L303.3 373.7L288.5 362.3z"/>
<path fill="#0ce8e1" d="M307.9 369.5L327.8 384.7L322.4 388.4L302.5 373.1z"/>
<path fill="#1ae8d3" d="M327 384.1L342.4 395.8L337 399.7L321.7 387.8z"/>
<path fill="#45e8a8" d="M144.1 250.1L148.7 253.6L143.1 256.5L138.5 253z"/>
<path fill="#53e89a" d="M148 253.2L152.6 256.7L147 259.6L142.4 256z"/>
<path fill="#61e88c" d="M152 256.2L164.6 265.9L159 268.8L146.4 259.1z"/>
<path fill="#53e89a" d="M163.9 265.4L168.6 269L163 271.9L158.4 268.3z"/>
<path fill="#45e8a8" d="M168 268.5L172.7 272.1L167.1 275.1L162.4 271.4z"/>
<path fill="#36e8b6" d="M172 271.6L176.7 275.2L171.1 278.2L166.4 274.6z"/>
<path fill="#28e8c5" d="M176.1 274.7L201.6 294.3L196 297.4L170.5 277.7z"/>
<path fill="#36e8b6" d="M200.9 293.8L205.8 297.6L200.2 300.7L195.3 296.9z"/>
<path fill="#45e8a8" d="M205.1 297L214.3 304.1L208.7 307.3L199.6 300.2z"/>
<path fill="#53e89a" d="M213.6 303.6L218.5 307.4L213 310.6L208 306.8z"/>
<path fill="#61e88c" d="M217.9 306.9L222.8 310.7L217.3 313.9L212.3 310.1z"/>
<path fill="#6fe87e" d="M222.2 310.2L227.2 314L221.6 317.3L216.6 313.4z"/>
<path fill="#7ee86f" d="M226.5 313.5L235.9 320.7L230.3 324L220.9 316.7z"/>
<path fill="#8ce861" d="M235.2 320.2L244.7 327.5L239.1 330.8L229.6 323.5z"/>
<path fill="#7ee86f" d="M244 326.9L253.5 334.3L248 337.7L238.4 330.3z"/>
<path fill="#6fe87e" d="M252.8 333.7L258 337.7L252.5 341.1L247.3 337.1z"/>
<path fill="#61e88c" d="M257.3 337.2L262.5 341.2L257 344.6L251.8 340.6z"/>
<path fill="#53e89a" d="M261.8 340.6L267 344.7L261.6 348.1L256.3 344.1z"/>
<path fill="#45e8a8" d="M266.3 344.1L271.6 348.2L266.1 351.7L260.8 347.6z"/>
<path fill="#28e8c5" d="M270.9 347.6L276.2 351.7L270.7 355.2L265.4 351.1z"/>
<path fill="#1ae8d3" d="M275.4 351.1L280.7 355.2L275.3 358.8L270 354.6z"/>
<path fill="#05e1e8" d="M280 354.7L285.4 358.8L279.9 362.3L274.6 358.2z"/>
<path fill="#05d3e8" d="M284.6 358.2L294.7 365.9L289.2 369.5L279.2 361.8z"/>
<path fill="#05c5e8" d="M293.9 365.4L299.4 369.5L293.9 373.2L288.5 369z"/>
<path fill="#05d3e8" d="M298.6 369L308.8 376.8L303.4 380.5L293.2 372.6z"/>
<path fill="#05e1e8" d="M308.1 376.2L313.6 380.5L308.2 384.2L302.7 379.9z"/>
<path fill="#0ce8e1" d="M312.8 379.9L328 391.6L322.7 395.4L307.4 383.6z"/>
<path fill="#1ae8d3" d="M327.3 391L337.8 399.1L332.4 403L321.9 394.8z"/>
<path fill="#45e8a8" d="M139.3 252.6L143.9 256.1L138.2 259L133.7 255.4z"/>
<path fill="#61e88c" d="M143.3 255.6L147.8 259.1L142.2 262L137.6 258.5z"/>
<path fill="#6fe87e" d="M147.2 258.6L151.8 262.2L146.2 265.1L141.6 261.5z"/>
<path fill="#7ee86f" d="M151.2 261.7L155.8 265.3L150.2 268.2L145.5 264.6z"/>
<path fill="#6fe87e" d="M155.2 264.8L159.8 268.4L154.2 271.3L149.5 267.7z"/>
<path fill="#61e88c" d="M159.2 267.9L163.8 271.5L158.2 274.5L153.5 270.9z"/>
<path fill="#53e89a" d="M163.2 271L167.9 274.6L162.3 277.6L157.6 274z"/>
<path fill="#45e8a8" d="M167.3 274.1L172 277.8L166.3 280.8L161.6 277.1z"/>
<path fill="#36e8b6" d="M171.3 277.3L176.1 280.9L170.4 284L165.7 280.3z"/>
<path fill="#28e8c5" d="M175.4 280.4L180.2 284.1L174.6 287.2L169.8 283.5z"/>
<path fill="#1ae8d3" d="M179.5 283.6L192.6 293.7L187 296.9L173.9 286.7z"/>
<path fill="#28e8c5" d="M192 293.2L205.3 303.5L199.7 306.7L186.4 296.4z"/>
<path fill="#36e8b6" d="M204.6 303L218.1 313.4L212.5 316.7L199 306.2z"/>
<path fill="#45e8a8" d="M217.4 312.9L231.1 323.5L225.6 326.8L211.9 316.2z"/>
<path fill="#53e89a" d="M230.5 323L240 330.3L234.4 333.7L224.9 326.3z"/>
<path fill="#45e8a8" d="M239.3 329.8L253.3 340.6L247.8 344.1L233.7 333.1z"/>
<path fill="#36e8b6" d="M252.6 340.1L257.8 344.1L252.3 347.6L247.1 343.5z"/>
<path fill="#28e8c5" d="M257.1 343.6L262.4 347.6L256.8 351.1L251.6 347.1z"/>
<path fill="#1ae8d3" d="M261.6 347.1L266.9 351.1L261.4 354.7L256.1 350.6z"/>
<path fill="#0ce8e1" d="M266.2 350.6L271.5 354.7L266 358.2L260.7 354.1z"/>
<path fill="#05e1e8" d="M270.8 354.1L276.1 358.2L270.6 361.8L265.3 357.7z"/>
<path fill="#05d3e8" d="M275.4 357.7L280.7 361.8L275.2 365.4L269.9 361.2z"/>
<path fill="#05c5e8" d="M280 361.2L285.4 365.4L279.9 369L274.5 364.8z"/>
<path fill="#05b6e8" d="M284.6 364.8L294.7 372.6L289.3 376.3L279.1 368.5z"/>
<path fill="#05c5e8" d="M294 372.1L304.2 380L298.7 383.7L288.5 375.7z"/>
<path fill="#05d3e8" d="M303.5 379.4L309 383.6L303.5 387.4L298 383.1z"/>
<path fill="#05e1e8" d="M308.2 383.1L313.8 387.4L308.3 391.1L302.8 386.8z"/>
<path fill="#0ce8e1" d="M313 386.8L323.4 394.8L318 398.7L307.6 390.6z"/>
<path fill="#1ae8d3" d="M322.7 394.2L333.2 402.4L327.8 406.3L317.2 398.1z"/>
<path fill="#45e8a8" d="M134.5 255L139.1 258.5L133.4 261.4L128.8 257.9z"/>
<path fill="#61e88c" d="M138.4 258L143 261.6L137.3 264.5L132.8 260.9z"/>
<path fill="#7ee86f" d="M142.4 261.1L147 264.7L141.3 267.6L136.7 264z"/>
<path fill="#8ce861" d="M146.4 264.2L151 267.8L145.3 270.8L140.7 267.1z"/>
<path fill="#9ae853" d="M150.4 267.3L155 270.9L149.3 273.9L144.7 270.3z"/>
<path fill="#8ce861" d="M154.4 270.4L159 274L153.4 277L148.7 273.4z"/>
<path fill="#6fe87e" d="M158.4 273.5L163.1 277.2L157.4 280.2L152.7 276.5z"/>
<path fill="#45e8a8" d="M162.5 276.7L167.2 280.4L161.5 283.4L156.8 279.7z"/>
<path fill="#36e8b6" d="M166.5 279.9L171.3 283.5L165.6 286.6L160.9 282.9z"/>
<path fill="#28e8c5" d="M170.6 283L175.4 286.7L169.7 289.8L165 286.1z"/>
<path fill="#1ae8d3" d="M174.7 286.2L253.1 347.1L247.5 350.6L169.1 289.3z"/>
<path fill="#0ce8e1" d="M252.4 346.5L266.8 357.7L261.2 361.3L246.8 350z"/>
<path fill="#05e1e8" d="M266.1 357.1L271.4 361.3L265.8 364.9L260.5 360.7z"/>
<path fill="#05d3e8" d="M270.7 360.7L294.8 379.5L289.3 383.2L265.1 364.3z"/>
<path fill="#05e1e8" d="M294 378.9L299.5 383.1L294 386.9L288.5 382.6z"/>
<path fill="#0ce8e1" d="M298.8 382.6L309.1 390.6L303.6 394.4L293.3 386.3z"/>
<path fill="#1ae8d3" d="M308.4 390L328.6 405.7L323.1 409.6L302.9 393.8z"/>
<path fill="#45e8a8" d="M129.7 257.4L134.2 261L128.5 263.9L123.9 260.3z"/>
<path fill="#53e89a" d="M133.6 260.5L138.2 264.1L132.5 267L127.9 263.4z"/>
<path fill="#6fe87e" d="M137.6 263.6L142.2 267.2L136.4 270.2L131.8 266.5z"/>
<path fill="#8ce861" d="M141.5 266.7L146.2 270.3L140.4 273.3L135.8 269.7z"/>
<path fill="#b6e836" d="M145.5 269.8L150.2 273.5L144.5 276.5L139.8 272.8z"/>
<path fill="#c5e828" d="M149.5 273L154.2 276.6L148.5 279.6L143.8 276z"/>
<path fill="#b6e836" d="M153.6 276.1L158.3 279.8L152.6 282.8L147.9 279.1z"/>
<path fill="#7ee86f" d="M157.6 279.3L162.3 282.9L156.6 286L151.9 282.3z"/>
<path fill="#53e89a" d="M161.7 282.4L166.4 286.1L160.7 289.2L156 285.5z"/>
<path fill="#28e8c5" d="M165.8 285.6L170.6 289.4L164.9 292.5L160.1 288.7z"/>
<path fill="#1ae8d3" d="M169.9 288.9L187.2 302.4L181.6 305.6L164.2 292z"/>
<path fill="#0ce8e1" d="M186.6 301.9L208.6 319L202.9 322.3L180.9 305.1z"/>
<path fill="#05e1e8" d="M207.9 318.5L252.9 353.6L247.3 357.2L202.2 321.8z"/>
<path fill="#0ce8e1" d="M252.2 353.1L285.3 378.9L279.8 382.7L246.6 356.6z"/>
<path fill="#1ae8d3" d="M284.6 378.4L299.6 390.1L294.1 393.9L279 382.1z"/>
<path fill="#28e8c5" d="M298.9 389.5L314.1 401.4L308.6 405.3L293.3 393.3z"/>
<path fill="#1ae8d3" d="M313.4 400.8L323.9 409.1L318.4 413L307.9 404.7z"/>
<path fill="#45e8a8" d="M124.8 259.9L129.3 263.5L123.6 266.4L119 262.8z"/>
<path fill="#53e89a" d="M128.7 263L133.3 266.6L127.5 269.6L123 265.9z"/>
<path fill="#61e88c" d="M132.7 266.1L137.3 269.7L131.5 272.7L126.9 269.1z"/>
<path fill="#7ee86f" d="M136.7 269.2L141.3 272.9L135.5 275.9L130.9 272.2z"/>
<path fill="#9ae853" d="M140.6 272.4L145.3 276L139.5 279L134.9 275.4z"/>
<path fill="#c5e828" d="M144.7 275.5L149.3 279.2L143.6 282.2L138.9 278.5z"/>
<path fill="#e8e105" d="M148.7 278.7L153.4 282.4L147.7 285.4L143 281.7z"/>
<path fill="#e1e80c" d="M152.8 281.9L157.5 285.6L151.7 288.7L147 284.9z"/>
<path fill="#a8e845" d="M156.8 285.1L161.6 288.8L155.8 291.9L151.1 288.1z"/>
<path fill="#61e88c" d="M160.9 288.3L165.7 292L160 295.1L155.2 291.4z"/>
<path fill="#28e8c5" d="M165 291.5L169.8 295.3L164.1 298.4L159.3 294.6z"/>
<path fill="#1ae8d3" d="M169.2 294.7L174 298.5L168.3 301.7L163.5 297.9z"/>
<path fill="#0ce8e1" d="M173.3 298L186.6 308.4L180.9 311.7L167.6 301.2z"/>
<path fill="#05e1e8" d="M186 307.9L195.1 315.1L189.4 318.4L180.2 311.1z"/>
<path fill="#05d3e8" d="M194.5 314.6L203.7 321.8L198 325.2L188.7 317.9z"/>
<path fill="#05c5e8" d="M203.1 321.3L234.6 346L228.9 349.5L197.4 324.6z"/>
<path fill="#05d3e8" d="M233.9 345.5L243.6 353.1L237.9 356.6L228.2 349z"/>
<path fill="#05e1e8" d="M242.9 352.5L252.7 360.2L247 363.8L237.2 356.1z"/>
<path fill="#0ce8e1" d="M252 359.7L261.9 367.5L256.3 371.1L246.3 363.3z"/>
<path fill="#1ae8d3" d="M261.2 366.9L275.9 378.4L270.3 382.2L255.5 370.5z"/>
<path fill="#28e8c5" d="M275.1 377.9L290.1 389.6L284.5 393.4L269.5 381.6z"/>
<path fill="#36e8b6" d="M289.4 389L304.6 400.9L299 404.8L283.8 392.8z"/>
<path fill="#28e8c5" d="M303.8 400.3L319.2 412.4L313.7 416.4L298.2 404.2z"/>
<path fill="#45e8a8" d="M119.9 262.4L124.4 266L118.6 269L114.1 265.4z"/>
<path fill="#53e89a" d="M123.8 265.5L128.4 269.1L122.6 272.1L118 268.5z"/>
<path fill="#61e88c" d="M127.8 268.6L132.4 272.3L126.6 275.3L122 271.6z"/>
<path fill="#6fe87e" d="M131.7 271.8L136.4 275.4L130.6 278.4L125.9 274.8z"/>
<path fill="#7ee86f" d="M135.7 274.9L140.4 278.6L134.6 281.6L129.9 277.9z"/>
<path fill="#9ae853" d="M139.8 278.1L144.4 281.8L138.6 284.8L134 281.1z"/>
<path fill="#c5e828" d="M143.8 281.3L148.5 285L142.7 288.1L138 284.3z"/>
<path fill="#e8d305" d="M147.9 284.5L152.6 288.2L146.8 291.3L142.1 287.6z"/>
<path fill="#e8c505" d="M151.9 287.7L156.7 291.4L150.9 294.6L146.2 290.8z"/>
<path fill="#c5e828" d="M156 290.9L160.8 294.7L155 297.8L150.3 294.1z"/>
<path fill="#6fe87e" d="M160.2 294.2L164.9 298L159.2 301.1L154.4 297.3z"/>
<path fill="#36e8b6" d="M164.3 297.4L169.1 301.2L163.3 304.4L158.5 300.6z"/>
<path fill="#0ce8e1" d="M168.5 300.7L173.3 304.5L167.5 307.8L162.7 303.9z"/>
<path fill="#05e1e8" d="M172.6 304L181.7 311.2L176 314.5L166.9 307.2z"/>
<path fill="#05d3e8" d="M181.1 310.7L190.3 317.9L184.5 321.2L175.3 313.9z"/>
<path fill="#05c5e8" d="M189.6 317.4L194.6 321.3L188.8 324.6L183.8 320.7z"/>
<path fill="#05b6e8" d="M193.9 320.8L203.2 328.1L197.5 331.5L188.1 324.1z"/>
<path fill="#05a8e8" d="M202.5 327.6L216.4 338.5L210.6 341.9L196.8 331z"/>
<path fill="#05b6e8" d="M215.7 337.9L225.2 345.5L219.5 349L209.9 341.4z"/>
<path fill="#05c5e8" d="M224.5 344.9L234.2 352.6L228.5 356.1L218.8 348.4z"/>
<path fill="#05d3e8" d="M233.5 352L238.7 356.1L233 359.7L227.8 355.6z"/>
<path fill="#05e1e8" d="M238 355.6L247.9 363.3L242.2 366.9L232.3 359.1z"/>
<path fill="#0ce8e1" d="M247.1 362.7L257.1 370.6L251.4 374.3L241.5 366.4z"/>
<path fill="#1ae8d3" d="M256.4 370L266.4 377.9L260.7 381.7L250.7 373.7z"/>
<path fill="#28e8c5" d="M265.7 377.3L275.8 385.3L270.2 389.1L260 381.1z"/>
<path fill="#36e8b6" d="M275.1 384.8L309.6 412L304 416L269.4 388.5z"/>
<path fill="#28e8c5" d="M308.8 411.4L314.5 415.8L308.9 419.9L303.2 415.3z"/>
<path fill="#45e8a8" d="M114.9 264.9L119.5 268.5L113.6 271.5L109.1 267.9z"/>
<path fill="#53e89a" d="M118.9 268L123.4 271.7L117.6 274.7L113 271z"/>
<path fill="#61e88c" d="M122.8 271.2L127.4 274.8L121.6 277.9L117 274.2z"/>
<path fill="#6fe87e" d="M126.8 274.3L139.5 284.4L133.7 287.5L121 277.4z"/>
<path fill="#7ee86f" d="M138.9 283.9L143.6 287.6L137.7 290.7L133 287z"/>
<path fill="#9ae853" d="M142.9 287.1L147.6 290.9L141.8 294L137.1 290.2z"/>
<path fill="#d3e81a" d="M147 290.3L151.7 294.1L145.9 297.3L141.2 293.5z"/>
<path fill="#e8e105" d="M151.1 293.6L155.9 297.4L150.1 300.6L145.3 296.7z"/>
<path fill="#c5e828" d="M155.2 296.9L160 300.7L154.2 303.9L149.4 300z"/>
<path fill="#6fe87e" d="M159.4 300.1L164.2 304L158.4 307.2L153.6 303.3z"/>
<path fill="#28e8c5" d="M163.5 303.4L168.4 307.3L162.6 310.5L157.7 306.7z"/>
<path fill="#05e1e8" d="M167.7 306.8L172.6 310.6L166.8 313.9L161.9 310z"/>
<path fill="#05d3e8" d="M171.9 310.1L176.8 314L171 317.3L166.1 313.4z"/>
<path fill="#05c5e8" d="M176.2 313.4L185.4 320.7L179.6 324.1L170.4 316.7z"/>
<path fill="#05b6e8" d="M184.7 320.2L189.7 324.1L183.9 327.5L178.9 323.5z"/>
<path fill="#05a8e8" d="M189 323.6L211.5 341.4L205.7 344.9L183.2 327z"/>
<path fill="#05b6e8" d="M210.8 340.9L220.4 348.5L214.6 352L205 344.4z"/>
<path fill="#05c5e8" d="M219.7 347.9L224.9 352L219.1 355.6L213.9 351.4z"/>
<path fill="#05d3e8" d="M224.1 351.5L229.4 355.6L223.6 359.2L218.4 355z"/>
<path fill="#05e1e8" d="M228.6 355L238.4 362.8L232.7 366.4L222.9 358.6z"/>
<path fill="#0ce8e1" d="M237.7 362.2L247.6 370.1L241.9 373.7L232 365.9z"/>
<path fill="#1ae8d3" d="M246.9 369.5L256.9 377.4L251.2 381.2L241.2 373.2z"/>
<path fill="#28e8c5" d="M256.2 376.8L266.3 384.8L260.6 388.6L250.4 380.6z"/>
<path fill="#36e8b6" d="M265.5 384.2L280.5 396.1L274.8 400L259.8 388z"/>
<path fill="#45e8a8" d="M279.8 395.5L299.9 411.5L294.2 415.5L274.1 399.4z"/>
<path fill="#36e8b6" d="M299.1 410.9L309.7 419.3L304.1 423.3L293.5 414.9z"/>
<path fill="#45e8a8" d="M109.9 267.4L114.5 271.1L108.6 274.1L104 270.4z"/>
<path fill="#53e89a" d="M113.9 270.6L118.5 274.2L112.6 277.3L108 273.6z"/>
<path fill="#61e88c" d="M117.8 273.7L122.4 277.4L116.6 280.5L111.9 276.8z"/>
<path fill="#6fe87e" d="M121.8 276.9L130.5 283.8L124.6 286.9L115.9 280z"/>
<path fill="#61e88c" d="M129.8 283.3L134.5 287L128.6 290.1L124 286.4z"/>
<path fill="#53e89a" d="M133.9 286.5L142.7 293.5L136.8 296.7L128 289.6z"/>
<path fill="#61e88c" d="M142 293L146.8 296.8L140.9 300L136.2 296.2z"/>
<path fill="#8ce861" d="M146.1 296.3L150.9 300.1L145 303.3L140.3 299.5z"/>
<path fill="#b6e836" d="M150.3 299.6L155.1 303.4L149.2 306.6L144.4 302.8z"/>
<path fill="#9ae853" d="M154.4 302.9L159.2 306.7L153.4 310L148.5 306.1z"/>
<path fill="#61e88c" d="M158.6 306.2L163.4 310.1L157.6 313.3L152.7 309.4z"/>
<path fill="#1ae8d3" d="M162.8 309.5L167.6 313.4L161.8 316.7L156.9 312.8z"/>
<path fill="#05d3e8" d="M167 312.9L171.9 316.8L166 320.1L161.1 316.2z"/>
<path fill="#05c5e8" d="M171.2 316.2L176.1 320.2L170.3 323.5L165.4 319.6z"/>
<path fill="#05b6e8" d="M175.5 319.6L184.7 327L178.9 330.4L169.6 323z"/>
<path fill="#05a8e8" d="M184 326.5L202.1 340.9L196.3 344.4L178.2 329.8z"/>
<path fill="#05b6e8" d="M201.5 340.3L211 347.9L205.2 351.5L195.6 343.8z"/>
<path fill="#05c5e8" d="M210.3 347.4L215.5 351.5L209.7 355L204.5 350.9z"/>
<path fill="#05d3e8" d="M214.8 350.9L224.5 358.7L218.7 362.3L208.9 354.5z"/>
<path fill="#05e1e8" d="M223.7 358.1L229 362.3L223.2 365.9L217.9 361.7z"/>
<path fill="#0ce8e1" d="M228.3 361.7L238.1 369.5L232.3 373.2L222.5 365.3z"/>
<path fill="#1ae8d3" d="M237.4 369L252 380.6L246.3 384.4L231.6 372.7z"/>
<path fill="#28e8c5" d="M251.3 380L266.1 391.8L260.4 395.7L245.5 383.8z"/>
<path fill="#36e8b6" d="M265.4 391.3L275.7 399.4L269.9 403.4L259.6 395.1z"/>
<path fill="#45e8a8" d="M274.9 398.8L295.1 414.9L289.4 418.9L269.2 402.8z"/>
<path fill="#36e8b6" d="M294.3 414.3L304.9 422.7L299.2 426.8L288.6 418.3z"/>
<path fill="#36e8b6" d="M104.9 270L109.5 273.6L103.5 276.7L99 273z"/>
<path fill="#53e89a" d="M108.8 273.1L113.4 276.8L107.5 279.9L102.9 276.2z"/>
<path fill="#61e88c" d="M112.8 276.3L121.4 283.2L115.5 286.3L106.9 279.4z"/>
<path fill="#6fe87e" d="M120.8 282.7L125.5 286.4L119.5 289.6L114.9 285.8z"/>
<path fill="#61e88c" d="M124.8 285.9L129.5 289.7L123.6 292.8L118.9 289.1z"/>
<path fill="#53e89a" d="M128.9 289.2L133.6 292.9L127.7 296.1L122.9 292.3z"/>
<path fill="#45e8a8" d="M132.9 292.4L137.7 296.2L131.8 299.4L127 295.6z"/>
<path fill="#36e8b6" d="M137 295.7L145.9 302.8L140 306L131.1 298.9z"/>
<path fill="#53e89a" d="M145.3 302.3L150.1 306.1L144.2 309.4L139.3 305.5z"/>
<path fill="#61e88c" d="M149.4 305.6L154.2 309.5L148.3 312.8L143.5 308.9z"/>
<path fill="#53e89a" d="M153.6 309L158.4 312.8L152.5 316.1L147.7 312.2z"/>
<path fill="#1ae8d3" d="M157.8 312.3L162.6 316.2L156.8 319.5L151.9 315.6z"/>
<path fill="#05c5e8" d="M162 315.7L215 358.1L209.1 361.7L156.1 319z"/>
<path fill="#05d3e8" d="M214.3 357.6L224 365.4L218.2 369L208.4 361.2z"/>
<path fill="#05e1e8" d="M223.3 364.8L233.2 372.7L227.4 376.4L217.5 368.5z"/>
<path fill="#0ce8e1" d="M232.5 372.1L242.4 380.1L236.6 383.9L226.6 375.8z"/>
<path fill="#1ae8d3" d="M241.7 379.5L251.8 387.6L246 391.4L235.9 383.3z"/>
<path fill="#28e8c5" d="M251 387L266 398.9L260.2 402.9L245.2 390.8z"/>
<path fill="#36e8b6" d="M265.2 398.3L275.6 406.6L269.8 410.6L259.5 402.3z"/>
<path fill="#45e8a8" d="M274.8 406L290.2 418.3L284.5 422.4L269.1 410z"/>
<path fill="#36e8b6" d="M289.4 417.7L300.1 426.2L294.3 430.4L283.7 421.8z"/>
<path fill="#36e8b6" d="M99.8 272.6L104.4 276.2L98.4 279.3L93.9 275.6z"/>
<path fill="#45e8a8" d="M103.8 275.7L108.4 279.4L102.4 282.5L97.8 278.8z"/>
<path fill="#53e89a" d="M107.8 278.9L112.4 282.6L106.4 285.7L101.8 282z"/>
<path fill="#61e88c" d="M111.7 282.1L124.5 292.4L118.5 295.5L105.8 285.2z"/>
<path fill="#53e89a" d="M123.8 291.9L128.5 295.6L122.6 298.8L117.9 295z"/>
<path fill="#45e8a8" d="M127.9 295.1L132.6 298.9L126.7 302.1L121.9 298.3z"/>
<path fill="#28e8c5" d="M132 298.4L136.7 302.2L130.8 305.5L126 301.6z"/>
<path fill="#1ae8d3" d="M136.1 301.7L149.2 312.3L143.3 315.6L130.1 304.9z"/>
<path fill="#0ce8e1" d="M148.5 311.7L153.4 315.7L147.5 319L142.6 315z"/>
<path fill="#05b6e8" d="M152.7 315.1L157.6 319L151.7 322.4L146.8 318.4z"/>
<path fill="#058ce8" d="M157 318.5L161.9 322.5L155.9 325.8L151 321.9z"/>
<path fill="#05a8e8" d="M161.2 321.9L166.1 325.9L160.2 329.3L155.3 325.3z"/>
<path fill="#05d3e8" d="M165.5 325.4L170.4 329.3L164.5 332.8L159.5 328.7z"/>
<path fill="#05e1e8" d="M169.7 328.8L196.6 350.4L190.7 354L163.8 332.2z"/>
<path fill="#05d3e8" d="M195.9 349.9L205.5 357.6L199.6 361.2L190 353.4z"/>
<path fill="#05c5e8" d="M204.8 357L214.5 364.8L208.6 368.5L198.9 360.6z"/>
<path fill="#05b6e8" d="M213.8 364.3L228.2 375.9L222.4 379.6L207.9 367.9z"/>
<path fill="#05c5e8" d="M227.5 375.3L232.8 379.6L227 383.4L221.6 379z"/>
<path fill="#05d3e8" d="M232.1 379L237.5 383.3L231.6 387.1L226.2 382.8z"/>
<path fill="#05e1e8" d="M236.7 382.7L242.1 387.1L236.3 390.9L230.9 386.5z"/>
<path fill="#0ce8e1" d="M241.4 386.5L246.8 390.8L241 394.7L235.6 390.3z"/>
<path fill="#1ae8d3" d="M246.1 390.2L256.3 398.4L250.5 402.4L240.2 394.1z"/>
<path fill="#28e8c5" d="M255.5 397.8L261.1 402.3L255.2 406.2L249.7 401.8z"/>
<path fill="#36e8b6" d="M260.3 401.7L265.9 406.1L260 410.1L254.5 405.6z"/>
<path fill="#45e8a8" d="M265.1 405.5L270.7 410L264.9 414L259.3 409.5z"/>
<path fill="#53e89a" d="M269.9 409.4L275.5 413.9L269.7 418L264.1 413.4z"/>
<path fill="#61e88c" d="M274.8 413.3L285.3 421.8L279.5 425.9L269 417.3z"/>
<path fill="#53e89a" d="M284.5 421.2L290.2 425.8L284.4 429.9L278.7 425.3z"/>
<path fill="#45e8a8" d="M289.5 425.1L295.2 429.7L289.4 433.9L283.7 429.3z"/>
<path fill="#36e8b6" d="M94.7 275.1L99.3 278.8L93.3 281.9L88.7 278.2z"/>
<path fill="#45e8a8" d="M98.7 278.3L103.3 282L97.3 285.1L92.7 281.4z"/>
<path fill="#53e89a" d="M102.7 281.5L107.3 285.3L101.3 288.4L96.6 284.6z"/>
<path fill="#61e88c" d="M106.6 284.8L119.4 295.1L113.4 298.2L100.6 287.9z"/>
<path fill="#53e89a" d="M118.7 294.5L123.4 298.4L117.4 301.6L112.7 297.7z"/>
<path fill="#45e8a8" d="M122.8 297.8L127.5 301.7L121.5 304.9L116.8 301z"/>
<path fill="#36e8b6" d="M126.9 301.1L131.7 305L125.7 308.2L120.9 304.4z"/>
<path fill="#28e8c5" d="M131 304.5L135.8 308.3L129.8 311.6L125 307.7z"/>
<path fill="#1ae8d3" d="M135.1 307.8L144.1 315.1L138.1 318.4L129.1 311.1z"/>
<path fill="#05e1e8" d="M143.5 314.6L148.3 318.5L142.3 321.8L137.5 317.9z"/>
<path fill="#059ae8" d="M147.7 317.9L152.6 321.9L146.6 325.3L141.7 321.3z"/>
<path fill="#057ee8" d="M151.9 321.4L156.8 325.3L150.8 328.7L145.9 324.7z"/>
<path fill="#05b6e8" d="M156.1 324.8L161.1 328.8L155.1 332.2L150.1 328.2z"/>
<path fill="#1ae8d3" d="M160.4 328.2L165.4 332.3L159.4 335.7L154.4 331.7z"/>
<path fill="#28e8c5" d="M164.7 331.7L174 339.2L168 342.7L158.7 335.1z"/>
<path fill="#1ae8d3" d="M173.3 338.7L191.6 353.5L185.6 357L167.3 342.2z"/>
<path fill="#0ce8e1" d="M190.9 352.9L200.5 360.7L194.5 364.3L184.9 356.5z"/>
<path fill="#05e1e8" d="M199.8 360.1L205 364.3L199 368L193.8 363.7z"/>
<path fill="#05d3e8" d="M204.3 363.7L209.5 368L203.6 371.7L198.3 367.4z"/>
<path fill="#05c5e8" d="M208.8 367.4L214.1 371.6L208.1 375.4L202.9 371.1z"/>
<path fill="#05b6e8" d="M213.3 371.1L218.6 375.3L212.7 379.1L207.4 374.8z"/>
<path fill="#05a8e8" d="M217.9 374.8L223.2 379.1L217.3 382.8L212 378.5z"/>
<path fill="#059ae8" d="M222.5 378.5L232.5 386.6L226.6 390.4L216.6 382.3z"/>
<path fill="#05a8e8" d="M231.8 386L237.2 390.3L231.3 394.2L225.8 389.8z"/>
<path fill="#05c5e8" d="M236.4 389.7L241.8 394.1L236 398L230.5 393.6z"/>
<path fill="#05d3e8" d="M241.1 393.5L246.6 398L240.7 401.9L235.2 397.4z"/>
<path fill="#0ce8e1" d="M245.8 397.3L251.3 401.8L245.4 405.7L239.9 401.3z"/>
<path fill="#1ae8d3" d="M250.6 401.2L256.1 405.7L250.2 409.6L244.7 405.1z"/>
<path fill="#28e8c5" d="M255.3 405L260.9 409.5L255 413.5L249.5 409z"/>
<path fill="#45e8a8" d="M260.1 408.9L265.7 413.4L259.9 417.5L254.3 412.9z"/>
<path fill="#53e89a" d="M265 412.8L280.4 425.3L274.5 429.4L259.1 416.9z"/>
<path fill="#45e8a8" d="M279.6 424.7L285.3 429.3L279.5 433.4L273.7 428.8z"/>
<path fill="#36e8b6" d="M284.5 428.6L290.3 433.3L284.4 437.5L278.7 432.8z"/>
<path fill="#36e8b6" d="M89.6 277.7L94.2 281.5L88.1 284.5L83.5 280.8z"/>
<path fill="#45e8a8" d="M93.6 280.9L98.1 284.7L92.1 287.8L87.5 284z"/>
<path fill="#61e88c" d="M97.5 284.2L102.1 287.9L96.1 291.1L91.5 287.3z"/>
<path fill="#6fe87e" d="M101.5 287.4L114.2 297.8L108.2 301L95.5 290.6z"/>
<path fill="#61e88c" d="M113.6 297.3L118.3 301.1L112.3 304.3L107.6 300.5z"/>
<path fill="#53e89a" d="M117.7 300.6L122.4 304.4L116.4 307.7L111.6 303.8z"/>
<path fill="#45e8a8" d="M121.8 303.9L126.5 307.8L120.5 311L115.7 307.1z"/>
<path fill="#36e8b6" d="M125.9 307.2L130.7 311.1L124.6 314.4L119.8 310.5z"/>
<path fill="#28e8c5" d="M130 310.6L139 317.9L133 321.3L124 313.9z"/>
<path fill="#1ae8d3" d="M138.4 317.4L143.2 321.3L137.2 324.7L132.3 320.7z"/>
<path fill="#05e1e8" d="M142.6 320.8L151.7 328.2L145.7 331.6L136.5 324.2z"/>
<path fill="#36e8b6" d="M151 327.7L156 331.7L149.9 335.1L145 331.1z"/>
<path fill="#6fe87e" d="M155.3 331.2L160.3 335.2L154.2 338.7L149.3 334.6z"/>
<path fill="#8ce861" d="M159.6 334.6L168.9 342.2L162.9 345.7L153.6 338.1z"/>
<path fill="#7ee86f" d="M168.2 341.7L173.3 345.8L167.3 349.3L162.2 345.2z"/>
<path fill="#6fe87e" d="M172.6 345.2L177.6 349.3L171.6 352.9L166.6 348.8z"/>
<path fill="#61e88c" d="M177 348.8L182.1 352.9L176.1 356.5L171 352.3z"/>
<path fill="#45e8a8" d="M181.4 352.4L186.5 356.5L180.5 360.1L175.4 355.9z"/>
<path fill="#36e8b6" d="M185.8 356L195.4 363.8L189.4 367.5L179.8 359.6z"/>
<path fill="#28e8c5" d="M194.7 363.2L204.4 371.1L198.5 374.9L188.7 366.9z"/>
<path fill="#1ae8d3" d="M203.7 370.5L209 374.8L203 378.6L197.8 374.3z"/>
<path fill="#0ce8e1" d="M208.3 374.2L213.6 378.5L207.6 382.3L202.3 378z"/>
<path fill="#05e1e8" d="M212.8 378L218.2 382.3L212.2 386.1L206.9 381.7z"/>
<path fill="#05c5e8" d="M217.4 381.7L222.8 386L216.8 389.9L211.5 385.5z"/>
<path fill="#05b6e8" d="M222.1 385.5L227.4 389.8L221.5 393.7L216.1 389.3z"/>
<path fill="#05a8e8" d="M226.7 389.2L241.5 401.3L235.6 405.2L220.8 393.1z"/>
<path fill="#05b6e8" d="M240.8 400.7L246.3 405.2L240.4 409.1L234.9 404.6z"/>
<path fill="#05d3e8" d="M245.6 404.6L251.1 409L245.2 413.1L239.6 408.5z"/>
<path fill="#05e1e8" d="M250.3 408.4L255.9 413L250 417L244.4 412.4z"/>
<path fill="#0ce8e1" d="M255.1 412.3L260.7 416.9L254.8 421L249.2 416.4z"/>
<path fill="#1ae8d3" d="M260 416.3L265.6 420.8L259.7 424.9L254 420.3z"/>
<path fill="#28e8c5" d="M264.8 420.2L280.3 432.8L274.4 437L258.9 424.3z"/>
<path fill="#1ae8d3" d="M279.5 432.2L285.3 436.9L279.4 441.1L273.7 436.4z"/>
<path fill="#36e8b6" d="M84.4 280.4L89 284.1L82.9 287.2L78.3 283.4z"/>
<path fill="#45e8a8" d="M88.4 283.6L93 287.3L86.9 290.5L82.3 286.7z"/>
<path fill="#61e88c" d="M92.4 286.8L97 290.6L90.9 293.8L86.2 290z"/>
<path fill="#6fe87e" d="M96.3 290.1L101 293.9L94.9 297.1L90.2 293.3z"/>
<path fill="#7ee86f" d="M100.4 293.4L105 297.2L98.9 300.4L94.3 296.6z"/>
<path fill="#8ce861" d="M104.4 296.7L117.3 307.2L111.2 310.5L98.3 299.9z"/>
<path fill="#7ee86f" d="M116.6 306.7L121.4 310.6L115.3 313.9L110.5 309.9z"/>
<path fill="#61e88c" d="M120.7 310L125.5 313.9L119.4 317.3L114.6 313.3z"/>
<path fill="#53e89a" d="M124.9 313.4L129.7 317.4L123.6 320.7L118.8 316.7z"/>
<path fill="#45e8a8" d="M129 316.8L133.9 320.8L127.8 324.1L122.9 320.2z"/>
<path fill="#36e8b6" d="M133.2 320.2L138.1 324.2L132 327.6L127.1 323.6z"/>
<path fill="#28e8c5" d="M137.4 323.7L142.3 327.7L136.2 331.1L131.3 327.1z"/>
<path fill="#36e8b6" d="M141.6 327.1L146.6 331.1L140.5 334.6L135.6 330.5z"/>
<path fill="#61e88c" d="M145.9 330.6L150.8 334.6L144.8 338.1L139.8 334z"/>
<path fill="#8ce861" d="M150.2 334.1L155.1 338.1L149.1 341.6L144.1 337.6z"/>
<path fill="#c5e828" d="M154.4 337.6L159.4 341.7L153.4 345.2L148.4 341.1z"/>
<path fill="#e8e105" d="M158.8 341.1L163.8 345.2L157.7 348.8L152.7 344.6z"/>
<path fill="#e8c505" d="M163.1 344.7L172.5 352.4L166.5 356L157 348.2z"/>
<path fill="#e8e105" d="M171.8 351.8L176.9 356L170.9 359.6L165.8 355.4z"/>
<path fill="#d3e81a" d="M176.2 355.4L181.4 359.6L175.3 363.3L170.2 359z"/>
<path fill="#a8e845" d="M180.7 359L185.8 363.3L179.8 366.9L174.6 362.7z"/>
<path fill="#8ce861" d="M185.1 362.7L190.3 366.9L184.3 370.6L179.1 366.4z"/>
<path fill="#7ee86f" d="M189.6 366.3L194.8 370.6L188.8 374.3L183.6 370z"/>
<path fill="#6fe87e" d="M194.1 370L199.3 374.3L193.3 378.1L188.1 373.7z"/>
<path fill="#61e88c" d="M198.6 373.7L208.5 381.8L202.5 385.6L192.6 377.5z"/>
<path fill="#53e89a" d="M207.8 381.2L213.1 385.5L207.1 389.4L201.7 385z"/>
<path fill="#45e8a8" d="M212.4 384.9L217.7 389.3L211.7 393.2L206.3 388.8z"/>
<path fill="#36e8b6" d="M217 388.7L222.4 393.1L216.4 397L211 392.6z"/>
<path fill="#28e8c5" d="M221.6 392.5L227 397L221.1 400.9L215.6 396.4z"/>
<path fill="#1ae8d3" d="M226.3 396.3L231.8 400.8L225.8 404.8L220.3 400.3z"/>
<path fill="#05e1e8" d="M231 400.2L236.5 404.7L230.5 408.7L225 404.1z"/>
<path fill="#05d3e8" d="M235.7 404.1L250.8 416.4L244.9 420.5L229.8 408z"/>
<path fill="#0ce8e1" d="M250.1 415.8L255.7 420.4L249.7 424.5L244.1 419.9z"/>
<path fill="#1ae8d3" d="M254.9 419.7L260.5 424.3L254.6 428.5L249 423.8z"/>
<path fill="#28e8c5" d="M259.8 423.7L270.4 432.4L264.4 436.6L253.8 427.8z"/>
<path fill="#1ae8d3" d="M269.6 431.7L280.3 440.5L274.4 444.7L263.6 435.9z"/>
<path fill="#28e8c5" d="M79.2 283L83.8 286.8L77.6 289.9L73.1 286.1z"/>
<path fill="#36e8b6" d="M83.2 286.2L87.8 290L81.6 293.2L77 289.4z"/>
<path fill="#53e89a" d="M87.1 289.5L91.8 293.3L85.6 296.5L81 292.7z"/>
<path fill="#61e88c" d="M91.1 292.8L95.8 296.6L89.6 299.8L85 296z"/>
<path fill="#7ee86f" d="M95.2 296.1L99.8 299.9L93.7 303.2L89 299.3z"/>
<path fill="#8ce861" d="M99.2 299.4L103.9 303.3L97.7 306.5L93 302.6z"/>
<path fill="#a8e845" d="M103.2 302.7L108 306.6L101.8 309.9L97.1 306z"/>
<path fill="#b6e836" d="M107.3 306.1L120.3 316.8L114.2 320.1L101.2 309.4z"/>
<path fill="#9ae853" d="M119.7 316.2L124.5 320.2L118.4 323.6L113.5 319.6z"/>
<path fill="#7ee86f" d="M123.8 319.7L128.7 323.6L122.6 327L117.7 323z"/>
<path fill="#61e88c" d="M128 323.1L132.9 327.1L126.8 330.5L121.9 326.5z"/>
<path fill="#53e89a" d="M132.2 326.6L137.1 330.6L131 334L126.1 330z"/>
<path fill="#45e8a8" d="M136.5 330L145.6 337.6L139.5 341.1L130.3 333.5z"/>
<path fill="#61e88c" d="M145 337L149.9 341.1L143.8 344.6L138.9 340.5z"/>
<path fill="#7ee86f" d="M149.3 340.6L154.3 344.7L148.2 348.2L143.2 344.1z"/>
<path fill="#b6e836" d="M153.6 344.1L158.6 348.3L152.5 351.8L147.5 347.7z"/>
<path fill="#e1e80c" d="M157.9 347.7L163 351.8L156.9 355.4L151.8 351.3z"/>
<path fill="#e8b605" d="M162.3 351.3L167.4 355.4L161.3 359.1L156.2 354.9z"/>
<path fill="#e89a05" d="M166.7 354.9L176.2 362.7L170.1 366.4L160.6 358.5z"/>
<path fill="#e8b605" d="M175.5 362.1L180.7 366.4L174.6 370.1L169.4 365.8z"/>
<path fill="#e8d305" d="M180 365.8L185.2 370.1L179.1 373.8L173.9 369.5z"/>
<path fill="#e1e80c" d="M184.5 369.5L189.7 373.8L183.6 377.5L178.4 373.2z"/>
<path fill="#c5e828" d="M189 373.2L194.2 377.5L188.1 381.3L182.9 377z"/>
<path fill="#b6e836" d="M193.5 376.9L198.8 381.3L192.7 385.1L187.4 380.7z"/>
<path fill="#a8e845" d="M198 380.7L217.2 396.5L211.2 400.4L192 384.5z"/>
<path fill="#9ae853" d="M216.5 395.8L221.9 400.3L215.9 404.3L210.5 399.8z"/>
<path fill="#8ce861" d="M221.2 399.7L226.6 404.2L220.6 408.2L215.1 403.6z"/>
<path fill="#7ee86f" d="M225.9 403.6L231.4 408.1L225.3 412.1L219.9 407.5z"/>
<path fill="#6fe87e" d="M230.6 407.5L236.1 412L230.1 416L224.6 411.5z"/>
<path fill="#61e88c" d="M235.4 411.4L240.9 415.9L234.9 420L229.4 415.4z"/>
<path fill="#53e89a" d="M240.2 415.3L245.7 419.9L239.7 424L234.2 419.4z"/>
<path fill="#6fe87e" d="M245 419.3L250.6 423.9L244.6 428L239 423.4z"/>
<path fill="#a8e845" d="M249.8 423.2L255.5 427.9L249.5 432L243.8 427.4z"/>
<path fill="#d3e81a" d="M254.7 427.2L260.4 431.9L254.4 436.1L248.7 431.4z"/>
<path fill="#a8e845" d="M259.6 431.3L265.3 435.9L259.3 440.2L253.6 435.5z"/>
<path fill="#53e89a" d="M264.5 435.3L270.2 440L264.3 444.3L258.5 439.5z"/>
<path fill="#28e8c5" d="M269.5 439.4L275.2 444.1L269.3 448.4L263.5 443.6z"/>
<path fill="#28e8c5" d="M74 285.7L78.5 289.4L72.3 292.6L67.8 288.8z"/>
<path fill="#36e8b6" d="M77.9 288.9L82.5 292.7L76.3 295.9L71.7 292.1z"/>
<path fill="#45e8a8" d="M81.9 292.2L86.5 296L80.3 299.2L75.7 295.4z"/>
<path fill="#53e89a" d="M85.9 295.5L90.5 299.3L84.3 302.6L79.7 298.7z"/>
<path fill="#61e88c" d="M89.9 298.8L94.6 302.7L88.4 305.9L83.7 302.1z"/>
<path fill="#6fe87e" d="M93.9 302.2L98.6 306L92.5 309.3L87.8 305.4z"/>
<path fill="#7ee86f" d="M98 305.5L102.7 309.4L96.5 312.7L91.8 308.8z"/>
<path fill="#9ae853" d="M102.1 308.9L106.8 312.8L100.6 316.1L95.9 312.2z"/>
<path fill="#a8e845" d="M106.2 312.3L110.9 316.2L104.8 319.6L100 315.6z"/>
<path fill="#b6e836" d="M110.3 315.7L119.3 323.1L113.1 326.5L104.1 319z"/>
<path fill="#a8e845" d="M118.6 322.5L123.5 326.5L117.3 330L112.4 325.9z"/>
<path fill="#9ae853" d="M122.8 326L127.7 330L121.5 333.5L116.6 329.4z"/>
<path fill="#6fe87e" d="M127 329.5L131.9 333.5L125.7 337L120.8 332.9z"/>
<path fill="#53e89a" d="M131.2 333L136.1 337L130 340.5L125.1 336.4z"/>
<path fill="#45e8a8" d="M135.5 336.5L140.4 340.6L134.3 344.1L129.3 340z"/>
<path fill="#36e8b6" d="M139.8 340L149.1 347.7L142.9 351.3L133.6 343.5z"/>
<path fill="#45e8a8" d="M148.4 347.1L153.4 351.3L147.2 354.9L142.2 350.7z"/>
<path fill="#61e88c" d="M152.7 350.7L157.8 354.9L151.6 358.5L146.6 354.3z"/>
<path fill="#7ee86f" d="M157.1 354.3L162.2 358.5L156 362.2L150.9 358z"/>
<path fill="#a8e845" d="M161.5 358L166.6 362.2L160.4 365.9L155.3 361.6z"/>
<path fill="#c5e828" d="M165.9 361.6L171 365.9L164.9 369.6L159.7 365.3z"/>
<path fill="#d3e81a" d="M170.3 365.3L184.5 377L178.4 380.8L164.2 369z"/>
<path fill="#c5e828" d="M183.8 376.4L189 380.7L182.9 384.6L177.6 380.2z"/>
<path fill="#b6e836" d="M188.3 380.1L193.6 384.5L187.5 388.4L182.2 384z"/>
<path fill="#a8e845" d="M192.9 383.9L202.8 392.1L196.7 396L186.7 387.8z"/>
<path fill="#b6e836" d="M202.1 391.5L212.1 399.8L206 403.8L195.9 395.4z"/>
<path fill="#c5e828" d="M211.4 399.2L226.2 411.5L220.2 415.5L205.3 403.2z"/>
<path fill="#b6e836" d="M225.5 410.9L231 415.4L224.9 419.5L219.4 414.9z"/>
<path fill="#a8e845" d="M230.3 414.8L240.6 423.4L234.6 427.5L224.2 418.9z"/>
<path fill="#b6e836" d="M239.9 422.8L245.5 427.4L239.4 431.6L233.8 426.9z"/>
<path fill="#e8d305" d="M244.7 426.8L250.3 431.4L244.3 435.6L238.6 430.9z"/>
<path fill="#e88c05" d="M249.6 430.8L255.2 435.5L249.2 439.7L243.5 435z"/>
<path fill="#e8b605" d="M254.5 434.8L260.2 439.6L254.1 443.8L248.4 439.1z"/>
<path fill="#a8e845" d="M259.4 438.9L265.1 443.6L259.1 447.9L253.4 443.2z"/>
<path fill="#53e89a" d="M264.4 443L270.1 447.8L264.1 452.1L258.3 447.3z"/>
<path fill="#28e8c5" d="M68.7 288.3L77.2 295.4L71 298.7L62.4 291.5z"/>
<path fill="#36e8b6" d="M76.6 294.9L85.3 302.1L79 305.4L70.4 298.1z"/>
<path fill="#45e8a8" d="M84.6 301.6L97.4 312.2L91.2 315.6L78.4 304.8z"/>
<path fill="#53e89a" d="M96.8 311.7L101.5 315.6L95.3 319L90.6 315z"/>
<path fill="#61e88c" d="M100.9 315.1L105.7 319.1L99.4 322.4L94.7 318.5z"/>
<path fill="#6fe87e" d="M105 318.5L109.8 322.5L103.6 325.9L98.8 321.9z"/>
<path fill="#7ee86f" d="M109.2 322L122.4 333L116.2 336.4L102.9 325.4z"/>
<path fill="#6fe87e" d="M121.7 332.4L126.6 336.5L120.4 340L115.5 335.9z"/>
<path fill="#53e89a" d="M126 335.9L130.9 340L124.7 343.6L119.7 339.4z"/>
<path fill="#45e8a8" d="M130.2 339.5L135.2 343.6L129 347.1L124 343z"/>
<path fill="#36e8b6" d="M134.5 343L139.5 347.2L133.3 350.7L128.3 346.6z"/>
<path fill="#28e8c5" d="M138.8 346.6L156.9 361.7L150.7 365.3L132.6 350.2z"/>
<path fill="#36e8b6" d="M156.2 361.1L165.8 369L159.6 372.8L150 364.8z"/>
<path fill="#45e8a8" d="M165.1 368.4L170.2 372.7L164.1 376.5L158.9 372.2z"/>
<path fill="#53e89a" d="M169.5 372.2L174.7 376.5L168.6 380.3L163.4 375.9z"/>
<path fill="#61e88c" d="M174 375.9L202.2 399.3L196.1 403.3L167.9 379.7z"/>
<path fill="#6fe87e" d="M201.5 398.7L211.6 407.1L205.4 411.1L195.3 402.7z"/>
<path fill="#7ee86f" d="M210.8 406.5L235.4 426.9L229.3 431.1L204.7 410.5z"/>
<path fill="#8ce861" d="M234.7 426.3L240.3 430.9L234.2 435.2L228.6 430.5z"/>
<path fill="#9ae853" d="M239.5 430.3L245.2 435L239.1 439.2L233.4 434.5z"/>
<path fill="#a8e845" d="M244.4 434.4L255 443.2L248.9 447.5L238.3 438.6z"/>
<path fill="#7ee86f" d="M254.3 442.5L260 447.3L253.9 451.7L248.2 446.8z"/>
<path fill="#53e89a" d="M259.2 446.7L265 451.5L258.9 455.8L253.1 451z"/>
<path fill="#1ae8d3" d="M63.3 291L67.9 294.9L61.6 298.1L57.1 294.2z"/>
<path fill="#28e8c5" d="M67.3 294.3L75.9 301.5L69.6 304.8L61 297.5z"/>
<path fill="#36e8b6" d="M75.3 301L92.1 315.1L85.8 318.4L69 304.3z"/>
<path fill="#28e8c5" d="M91.5 314.5L104.5 325.4L98.2 328.8L85.2 317.9z"/>
<path fill="#36e8b6" d="M103.9 324.9L125.6 343L119.3 346.6L97.6 328.3z"/>
<path fill="#28e8c5" d="M124.9 342.5L134.2 350.2L127.9 353.8L118.7 346z"/>
<path fill="#1ae8d3" d="M133.5 349.6L183.1 391.1L176.9 395L127.2 353.2z"/>
<path fill="#28e8c5" d="M182.4 390.5L211.1 414.5L204.9 418.5L176.2 394.4z"/>
<path fill="#36e8b6" d="M210.3 413.8L259.8 455.2L253.7 459.6L204.1 417.9z"/>
<path fill="#1ae8d3" d="M58 293.7L70.5 304.3L64.2 307.6L51.6 297z"/>
<path fill="#28e8c5" d="M69.9 303.8L82.7 314.5L76.3 317.9L63.6 307.1z"/>
<path fill="#1ae8d3" d="M82 314L95 324.9L88.7 328.3L75.7 317.3z"/>
<path fill="#0ce8e1" d="M94.4 324.3L146.3 368L140 371.7L88 327.7z"/>
<path fill="#05e1e8" d="M145.6 367.4L187 402.2L180.8 406.2L139.3 371.1z"/>
<path fill="#0ce8e1" d="M186.3 401.6L244.6 450.6L238.4 454.9L180 405.6z"/>
<path fill="#1ae8d3" d="M243.8 449.9L254.6 459L248.4 463.4L237.6 454.3z"/>
<path fill="#05e1e8" d="M52.6 296.5L85.5 324.3L79.1 327.7L46.2 299.7z"/>
<path fill="#05d3e8" d="M84.8 323.7L102.1 338.4L95.8 341.9L78.5 327.2z"/>
<path fill="#05c5e8" d="M101.5 337.8L127.8 360L121.4 363.7L95.1 341.3z"/>
<path fill="#05d3e8" d="M127.1 359.5L136.5 367.4L130.2 371.2L120.8 363.2z"/>
<path fill="#05e1e8" d="M135.8 366.8L149.8 378.7L143.5 382.5L129.5 370.6z"/>
<path fill="#05d3e8" d="M149.1 378.1L229.4 445.9L223.2 450.3L142.8 381.9z"/>
<path fill="#05e1e8" d="M228.7 445.3L239.3 454.3L233.1 458.7L222.4 449.6z"/>
<path fill="#0ce8e1" d="M238.5 453.6L249.3 462.7L243.1 467.2L232.3 458z"/>
<path fill="#05b6e8" d="M47.1 299.2L63.7 313.3L57.3 316.7L40.7 302.5z"/>
<path fill="#05c5e8" d="M63.1 312.8L71.8 320.2L65.4 323.7L56.7 316.2z"/>
<path fill="#05b6e8" d="M71.2 319.7L88.3 334.3L81.9 337.8L64.8 323.1z"/>
<path fill="#05a8e8" d="M87.7 333.7L100.9 345L94.5 348.5L81.2 337.2z"/>
<path fill="#059ae8" d="M100.3 344.4L118 359.5L111.6 363.2L93.8 348z"/>
<path fill="#05a8e8" d="M117.4 358.9L122.4 363.2L116 366.9L110.9 362.6z"/>
<path fill="#05b6e8" d="M121.7 362.6L126.7 366.9L120.3 370.6L115.3 366.3z"/>
<path fill="#05c5e8" d="M126 366.3L131.1 370.6L124.7 374.4L119.6 370.1z"/>
<path fill="#05d3e8" d="M130.4 370L135.5 374.4L129.1 378.2L124 373.8z"/>
<path fill="#05e1e8" d="M134.8 373.8L153.4 389.6L147 393.5L128.4 377.6z"/>
<path fill="#05d3e8" d="M152.7 389L157.9 393.4L151.6 397.4L146.3 392.9z"/>
<path fill="#05c5e8" d="M157.2 392.8L167.1 401.2L160.7 405.2L150.8 396.7z"/>
<path fill="#05b6e8" d="M166.3 400.6L190.4 421L184 425.1L160 404.6z"/>
<path fill="#05c5e8" d="M189.6 420.3L219.2 445.5L212.9 449.8L183.3 424.5z"/>
<path fill="#05d3e8" d="M218.4 444.8L229 453.8L222.7 458.3L212.1 449.2z"/>
<path fill="#05e1e8" d="M228.3 453.2L239 462.3L232.7 466.8L222 457.6z"/>
<path fill="#0ce8e1" d="M238.2 461.6L244 466.6L237.7 471.1L231.9 466.1z"/>
<path fill="#05a8e8" d="M41.6 302L78.7 333.7L72.2 337.2L35.1 305.3z"/>
<path fill="#059ae8" d="M78 333.1L99.7 351.7L93.2 355.3L71.6 336.6z"/>
<path fill="#058ce8" d="M99 351.1L104 355.3L97.5 359L92.6 354.7z"/>
<path fill="#059ae8" d="M103.3 354.7L112.6 362.7L106.1 366.4L96.8 358.4z"/>
<path fill="#05a8e8" d="M111.9 362.1L116.9 366.4L110.5 370.1L105.4 365.8z"/>
<path fill="#05b6e8" d="M116.2 365.8L121.3 370.1L114.8 373.9L109.8 369.5z"/>
<path fill="#05c5e8" d="M120.6 369.5L125.7 373.8L119.2 377.6L114.1 373.3z"/>
<path fill="#05e1e8" d="M125 373.3L130.1 377.6L123.6 381.4L118.5 377.1z"/>
<path fill="#0ce8e1" d="M129.4 377L139 385.2L132.5 389.1L122.9 380.8z"/>
<path fill="#1ae8d3" d="M138.3 384.6L148 392.9L141.5 396.9L131.8 388.5z"/>
<path fill="#0ce8e1" d="M147.2 392.3L152.5 396.8L146.1 400.8L140.8 396.2z"/>
<path fill="#05e1e8" d="M151.8 396.2L157 400.7L150.6 404.7L145.3 400.1z"/>
<path fill="#05d3e8" d="M156.3 400.1L161.6 404.6L155.2 408.6L149.9 404.1z"/>
<path fill="#05c5e8" d="M160.9 404L166.2 408.5L159.8 412.6L154.5 408z"/>
<path fill="#05b6e8" d="M165.5 407.9L189.7 428.6L183.3 432.8L159.1 412z"/>
<path fill="#05c5e8" d="M188.9 427.9L208.9 445L202.6 449.4L182.5 432.2z"/>
<path fill="#05d3e8" d="M208.2 444.4L218.7 453.4L212.4 457.8L201.8 448.7z"/>
<path fill="#05e1e8" d="M217.9 452.7L228.6 461.9L222.3 466.3L211.6 457.1z"/>
<path fill="#0ce8e1" d="M227.8 461.2L238.6 470.4L232.3 475L221.5 465.7z"/>
<path fill="#05c5e8" d="M36.1 304.8L40.7 308.8L34.2 312.1L29.6 308.1z"/>
<path fill="#05d3e8" d="M40.1 308.2L69 333.1L62.5 336.6L33.5 311.6z"/>
<path fill="#05c5e8" d="M68.4 332.6L89.9 351.1L83.4 354.7L61.9 336.1z"/>
<path fill="#05b6e8" d="M89.3 350.5L102.7 362.1L96.2 365.8L82.7 354.2z"/>
<path fill="#05c5e8" d="M102.1 361.5L111.4 369.6L104.9 373.3L95.6 365.3z"/>
<path fill="#05d3e8" d="M110.7 369L120.2 377.1L113.7 380.9L104.2 372.7z"/>
<path fill="#05e1e8" d="M119.5 376.5L124.6 380.9L118.1 384.7L113 380.3z"/>
<path fill="#0ce8e1" d="M123.9 380.3L133.5 388.5L127 392.5L117.4 384.1z"/>
<path fill="#1ae8d3" d="M132.8 387.9L147 400.2L140.5 404.2L126.3 391.8z"/>
<path fill="#0ce8e1" d="M146.3 399.6L156.2 408L149.7 412.1L139.8 403.6z"/>
<path fill="#05e1e8" d="M155.4 407.4L160.8 412L154.3 416.1L149 411.5z"/>
<path fill="#05d3e8" d="M160 411.4L165.4 416L158.9 420.1L153.6 415.5z"/>
<path fill="#05c5e8" d="M164.7 415.4L193.8 440.4L187.4 444.7L158.2 419.5z"/>
<path fill="#05d3e8" d="M193.1 439.8L203.5 448.7L197.1 453.1L186.6 444.1z"/>
<path fill="#05e1e8" d="M202.7 448.1L218.2 461.4L211.8 465.9L196.3 452.5z"/>
<path fill="#0ce8e1" d="M217.5 460.7L233.2 474.3L226.8 478.9L211 465.2z"/>
<path fill="#36e8b6" d="M30.5 307.6L43.1 318.5L36.5 321.9L23.9 311z"/>
<path fill="#45e8a8" d="M42.5 318L55.3 329L48.7 332.5L35.9 321.4z"/>
<path fill="#36e8b6" d="M54.6 328.5L75.9 346.9L69.4 350.5L48 332z"/>
<path fill="#28e8c5" d="M75.3 346.3L84.4 354.2L77.8 357.9L68.7 350z"/>
<path fill="#1ae8d3" d="M83.7 353.6L92.9 361.6L86.3 365.3L77.1 357.3z"/>
<path fill="#0ce8e1" d="M92.2 361L132.4 395.8L125.9 399.7L85.7 364.7z"/>
<path fill="#1ae8d3" d="M131.7 395.1L141.5 403.6L134.9 407.6L125.2 399.1z"/>
<path fill="#0ce8e1" d="M140.8 403L155.2 415.5L148.7 419.6L134.2 407z"/>
<path fill="#05e1e8" d="M154.5 414.9L164.6 423.6L158 427.8L148 419z"/>
<path fill="#05d3e8" d="M163.8 422.9L193.2 448.3L186.7 452.7L157.3 427.1z"/>
<path fill="#05e1e8" d="M192.4 447.6L207.8 461L201.3 465.5L185.9 452z"/>
<path fill="#0ce8e1" d="M207 460.3L227.8 478.2L221.3 482.9L200.6 464.8z"/>
<path fill="#61e88c" d="M24.9 310.5L37.5 321.4L30.9 324.9L18.3 313.9z"/>
<path fill="#6fe87e" d="M36.9 320.9L53.7 335.6L47.1 339.1L30.2 324.3z"/>
<path fill="#61e88c" d="M53.1 335L70.3 350L63.7 353.6L46.5 338.5z"/>
<path fill="#53e89a" d="M69.7 349.4L78.8 357.3L72.1 361L63 353.1z"/>
<path fill="#45e8a8" d="M78.1 356.8L83 361L76.4 364.8L71.5 360.5z"/>
<path fill="#36e8b6" d="M82.3 360.5L87.3 364.8L80.7 368.5L75.7 364.2z"/>
<path fill="#28e8c5" d="M86.6 364.2L91.6 368.5L85 372.3L80 367.9z"/>
<path fill="#1ae8d3" d="M90.9 367.9L140.5 411L133.9 415.1L84.3 371.7z"/>
<path fill="#0ce8e1" d="M139.7 410.4L173.2 439.5L166.6 443.8L133.2 414.5z"/>
<path fill="#05e1e8" d="M172.4 438.8L192.5 456.3L185.9 460.7L165.9 443.1z"/>
<path fill="#0ce8e1" d="M191.7 455.6L222.3 482.2L215.8 486.9L185.2 460.1z"/>
<path fill="#45e8a8" d="M19.2 313.4L60.5 349.5L53.8 353.1L12.6 316.7z"/>
<path fill="#36e8b6" d="M59.8 348.9L73.1 360.5L66.4 364.2L53.2 352.5z"/>
<path fill="#28e8c5" d="M72.4 359.9L85.9 371.7L79.3 375.5L65.8 363.6z"/>
<path fill="#1ae8d3" d="M85.3 371.1L158.1 434.9L151.5 439.2L78.6 374.9z"/>
<path fill="#0ce8e1" d="M157.4 434.2L216.7 486.2L210.2 490.9L150.7 438.5z"/>
</g></g>
<!-- plane right -->
<clipPath id="cp_right"><polygon points="764,80 935.2,210 792.6,308 618.7,155.5"/></clipPath>
<g clip-path="url(#cp_right)"><g filter="url(#bl)">
<path fill="#0ce8e1" d="M762.7 68.5L771.2 74.9L766.1 77.5L757.6 71.1z"/>
<path fill="#05e1e8" d="M770.6 74.4L791.2 89.9L786.1 92.7L765.5 77z"/>
<path fill="#05d3e8" d="M790.6 89.5L807.5 102.2L802.4 105L785.5 92.2z"/>
<path fill="#05c5e8" d="M806.9 101.8L849.8 134L844.7 137L801.8 104.6z"/>
<path fill="#05d3e8" d="M849.1 133.5L867.2 147.2L862.2 150.3L844 136.5z"/>
<path fill="#05e1e8" d="M866.5 146.7L894 167.4L889 170.6L861.5 149.7z"/>
<path fill="#0ce8e1" d="M893.3 166.9L955 213.3L950 216.8L888.3 170.1z"/>
<path fill="#0ce8e1" d="M758.4 70.7L774.8 83.1L769.7 85.8L753.2 73.3z"/>
<path fill="#05e1e8" d="M774.2 82.6L795 98.4L789.9 101.2L769 85.3z"/>
<path fill="#05d3e8" d="M794.4 97.9L863 149.8L857.9 152.9L789.2 100.7z"/>
<path fill="#05e1e8" d="M862.3 149.3L931.6 201.7L926.6 205.1L857.2 152.3z"/>
<path fill="#0ce8e1" d="M930.9 201.1L950.8 216.2L945.8 219.7L925.8 204.5z"/>
<path fill="#0ce8e1" d="M754 72.9L782.5 94.6L777.4 97.3L748.8 75.6z"/>
<path fill="#05e1e8" d="M781.9 94.1L815.6 119.7L810.4 122.6L776.7 96.9z"/>
<path fill="#05d3e8" d="M814.9 119.2L885.5 172.8L880.5 176L809.8 122.1z"/>
<path fill="#05c5e8" d="M884.8 172.3L908.5 190.3L903.5 193.6L879.7 175.5z"/>
<path fill="#05d3e8" d="M907.8 189.7L932.1 208.2L927.1 211.6L902.8 193.1z"/>
<path fill="#05e1e8" d="M931.4 207.6L946.6 219.2L941.6 222.7L926.3 211.1z"/>
<path fill="#0ce8e1" d="M749.6 75.1L798.7 112.6L793.5 115.4L744.4 77.8z"/>
<path fill="#05e1e8" d="M798 112.1L841.2 145L836 148L792.9 114.9z"/>
<path fill="#05d3e8" d="M840.5 144.5L858.8 158.4L853.6 161.5L835.4 147.5z"/>
<path fill="#05c5e8" d="M858.1 157.9L867.7 165.2L862.6 168.4L852.9 161z"/>
<path fill="#05b6e8" d="M867 164.7L881.2 175.5L876.1 178.8L861.9 167.8z"/>
<path fill="#05a8e8" d="M880.5 175L913.6 200.3L908.6 203.7L875.4 178.2z"/>
<path fill="#05b6e8" d="M912.9 199.7L923.1 207.5L918 210.9L907.8 203.1z"/>
<path fill="#05c5e8" d="M922.4 206.9L932.7 214.8L927.6 218.3L917.3 210.3z"/>
<path fill="#05d3e8" d="M931.9 214.2L942.3 222.1L937.3 225.7L926.9 217.7z"/>
<path fill="#0ce8e1" d="M745.2 77.4L753.7 83.9L748.5 86.6L740 80.1z"/>
<path fill="#1ae8d3" d="M753.1 83.4L761.7 90L756.5 92.8L747.9 86.1z"/>
<path fill="#0ce8e1" d="M761.1 89.5L819.6 134.4L814.4 137.4L755.8 92.3z"/>
<path fill="#05e1e8" d="M818.9 133.8L841.2 150.9L836 154L813.7 136.8z"/>
<path fill="#05d3e8" d="M840.5 150.4L850 157.7L844.8 160.8L835.3 153.5z"/>
<path fill="#05c5e8" d="M849.3 157.1L858.9 164.5L853.7 167.6L844.1 160.3z"/>
<path fill="#05b6e8" d="M858.2 163.9L863.4 167.9L858.2 171.1L853 167.1z"/>
<path fill="#05a8e8" d="M862.7 167.4L872.4 174.8L867.2 178L857.5 170.6z"/>
<path fill="#059ae8" d="M871.7 174.3L876.9 178.3L871.8 181.5L866.5 177.5z"/>
<path fill="#058ce8" d="M876.2 177.7L886.1 185.3L880.9 188.6L871.1 181z"/>
<path fill="#057ee8" d="M885.3 184.7L904.6 199.5L899.5 202.9L880.2 188z"/>
<path fill="#058ce8" d="M903.9 199L914.1 206.7L909 210.2L898.8 202.4z"/>
<path fill="#059ae8" d="M913.3 206.2L918.8 210.4L913.7 213.9L908.2 209.6z"/>
<path fill="#05a8e8" d="M918.1 209.8L928.4 217.7L923.3 221.2L913 213.3z"/>
<path fill="#05b6e8" d="M927.6 217.1L933.2 221.4L928.1 225L922.5 220.6z"/>
<path fill="#05c5e8" d="M932.5 220.8L938.1 225.1L933 228.7L927.4 224.4z"/>
<path fill="#1ae8d3" d="M740.8 79.7L789.9 117.4L784.7 120.3L735.5 82.4z"/>
<path fill="#0ce8e1" d="M789.2 116.9L828.1 146.8L822.9 149.9L784 119.8z"/>
<path fill="#05e1e8" d="M827.4 146.3L841.2 156.9L836 160.1L822.2 149.4z"/>
<path fill="#05d3e8" d="M840.5 156.4L845.6 160.3L840.4 163.5L835.3 159.5z"/>
<path fill="#05c5e8" d="M844.9 159.8L854.5 167.2L849.3 170.4L839.7 162.9z"/>
<path fill="#05b6e8" d="M853.8 166.6L859 170.6L853.8 173.8L848.6 169.8z"/>
<path fill="#05a8e8" d="M858.3 170.1L868 177.5L862.8 180.8L853.1 173.3z"/>
<path fill="#059ae8" d="M867.3 177L872.6 181L867.4 184.3L862.1 180.3z"/>
<path fill="#058ce8" d="M871.8 180.5L877.1 184.6L872 187.9L866.7 183.8z"/>
<path fill="#057ee8" d="M876.4 184L909.8 209.7L904.6 213.1L871.2 187.3z"/>
<path fill="#058ce8" d="M909 209.1L914.5 213.3L909.4 216.8L903.9 212.5z"/>
<path fill="#059ae8" d="M913.8 212.7L924.1 220.7L919 224.2L908.6 216.2z"/>
<path fill="#05a8e8" d="M923.3 220.1L928.9 224.4L923.8 228L918.2 223.6z"/>
<path fill="#05b6e8" d="M928.2 223.8L933.8 228.1L928.7 231.7L923 227.4z"/>
<path fill="#1ae8d3" d="M736.4 81.9L815.1 142.8L809.8 145.8L731.1 84.6z"/>
<path fill="#0ce8e1" d="M814.4 142.2L836.8 159.6L831.6 162.7L809.1 145.3z"/>
<path fill="#05e1e8" d="M836.1 159L845.7 166.4L840.4 169.6L830.9 162.2z"/>
<path fill="#05d3e8" d="M845 165.9L854.6 173.3L849.4 176.6L839.7 169.1z"/>
<path fill="#05c5e8" d="M853.9 172.8L859.1 176.8L853.9 180.1L848.7 176z"/>
<path fill="#05b6e8" d="M858.4 176.3L868.2 183.8L863 187.1L853.2 179.5z"/>
<path fill="#05a8e8" d="M867.5 183.3L872.8 187.4L867.5 190.7L862.3 186.6z"/>
<path fill="#059ae8" d="M872 186.8L886.6 198.1L881.4 201.5L866.8 190.1z"/>
<path fill="#058ce8" d="M885.9 197.5L896 205.3L890.8 208.7L880.7 200.9z"/>
<path fill="#059ae8" d="M895.2 204.7L910.2 216.3L905 219.8L890 208.2z"/>
<path fill="#05a8e8" d="M909.4 215.7L919.8 223.7L914.6 227.2L904.2 219.2z"/>
<path fill="#05b6e8" d="M919 223.1L924.6 227.4L919.4 231L913.8 226.6z"/>
<path fill="#05c5e8" d="M923.8 226.8L929.4 231.2L924.3 234.8L918.7 230.4z"/>
<path fill="#1ae8d3" d="M731.9 84.2L736.4 87.8L731.1 90.5L726.5 87z"/>
<path fill="#28e8c5" d="M735.8 87.3L768.6 112.8L763.3 115.6L730.5 90z"/>
<path fill="#1ae8d3" d="M768 112.3L832.4 162.2L827.1 165.4L762.7 115.1z"/>
<path fill="#0ce8e1" d="M831.7 161.7L850.2 176.1L844.9 179.3L826.4 164.9z"/>
<path fill="#05e1e8" d="M849.5 175.5L859.2 183.1L854 186.4L844.2 178.8z"/>
<path fill="#05d3e8" d="M858.5 182.5L872.9 193.7L867.7 197.1L853.3 185.8z"/>
<path fill="#05c5e8" d="M872.2 193.2L915.4 226.7L910.2 230.3L867 196.5z"/>
<path fill="#05d3e8" d="M914.6 226.1L925.1 234.2L919.9 237.8L909.4 229.7z"/>
<path fill="#28e8c5" d="M727.4 86.5L739.9 96.3L734.5 99.1L722 89.3z"/>
<path fill="#36e8b6" d="M739.2 95.8L756 108.8L750.6 111.7L733.9 98.6z"/>
<path fill="#28e8c5" d="M755.3 108.3L841.3 175.3L836 178.6L750 111.2z"/>
<path fill="#1ae8d3" d="M840.6 174.8L863.9 193L858.6 196.4L835.3 178z"/>
<path fill="#0ce8e1" d="M863.2 192.4L882.5 207.5L877.2 210.9L857.9 195.8z"/>
<path fill="#05e1e8" d="M881.7 206.9L920.7 237.3L915.5 240.9L876.5 210.4z"/>
<path fill="#28e8c5" d="M722.8 88.9L727.4 92.4L722 95.2L717.4 91.6z"/>
<path fill="#36e8b6" d="M726.8 91.9L735.3 98.6L729.9 101.5L721.4 94.7z"/>
<path fill="#45e8a8" d="M734.7 98.2L751.4 111.3L746 114.1L729.3 101z"/>
<path fill="#36e8b6" d="M750.8 110.8L854.9 192.3L849.6 195.6L745.4 113.6z"/>
<path fill="#28e8c5" d="M854.2 191.7L878 210.4L872.7 213.9L848.8 195.1z"/>
<path fill="#1ae8d3" d="M877.3 209.8L901.8 229L896.5 232.6L872 213.3z"/>
<path fill="#0ce8e1" d="M901 228.4L916.3 240.4L911 244.1L895.7 232z"/>
<path fill="#36e8b6" d="M718.3 91.2L722.8 94.8L717.4 97.6L712.8 94z"/>
<path fill="#45e8a8" d="M722.2 94.3L726.8 97.9L721.4 100.7L716.8 97.1z"/>
<path fill="#53e89a" d="M726.2 97.4L763.3 126.6L757.9 129.6L720.7 100.2z"/>
<path fill="#45e8a8" d="M762.7 126.1L864.2 206L858.9 209.5L757.2 129.1z"/>
<path fill="#36e8b6" d="M863.5 205.4L883 220.8L877.7 224.3L858.1 208.9z"/>
<path fill="#28e8c5" d="M882.2 220.2L897.3 232L892 235.7L876.9 223.7z"/>
<path fill="#1ae8d3" d="M896.5 231.4L911.9 243.5L906.6 247.2L891.2 235.1z"/>
<path fill="#45e8a8" d="M713.7 93.5L718.2 97.1L712.8 100L708.2 96.3z"/>
<path fill="#53e89a" d="M717.6 96.6L722.2 100.3L716.7 103.1L712.2 99.5z"/>
<path fill="#61e88c" d="M721.6 99.8L726.2 103.4L720.7 106.3L716.1 102.6z"/>
<path fill="#6fe87e" d="M725.6 102.9L734.2 109.8L728.7 112.6L720.1 105.8z"/>
<path fill="#7ee86f" d="M733.6 109.3L742.3 116.2L736.8 119.1L728.1 112.1z"/>
<path fill="#6fe87e" d="M741.7 115.6L767.1 135.7L761.6 138.8L736.2 118.6z"/>
<path fill="#61e88c" d="M766.4 135.2L779.7 145.7L774.3 148.8L761 138.2z"/>
<path fill="#53e89a" d="M779 145.2L832.2 187.2L826.8 190.6L773.6 148.3z"/>
<path fill="#61e88c" d="M831.5 186.7L855.1 205.3L849.7 208.7L826.1 190z"/>
<path fill="#53e89a" d="M854.3 204.7L873.7 220L868.4 223.6L849 208.1z"/>
<path fill="#45e8a8" d="M873 219.4L883.2 227.5L877.9 231.1L867.6 223z"/>
<path fill="#36e8b6" d="M882.5 226.9L897.7 238.9L892.3 242.6L877.1 230.5z"/>
<path fill="#28e8c5" d="M896.9 238.3L907.4 246.6L902.1 250.3L891.6 242z"/>
<path fill="#53e89a" d="M709.1 95.9L713.6 99.5L708.1 102.3L703.6 98.7z"/>
<path fill="#61e88c" d="M713 99L717.6 102.7L712.1 105.5L707.5 101.9z"/>
<path fill="#7ee86f" d="M717 102.2L721.6 105.8L716.1 108.7L711.5 105z"/>
<path fill="#8ce861" d="M720.9 105.3L725.6 109L720.1 111.9L715.4 108.2z"/>
<path fill="#9ae853" d="M724.9 108.5L733.6 115.4L728.1 118.3L719.4 111.4z"/>
<path fill="#a8e845" d="M733 114.9L745.9 125.1L740.4 128.1L727.5 117.8z"/>
<path fill="#b6e836" d="M745.2 124.6L758.3 135L752.8 138L739.7 127.6z"/>
<path fill="#a8e845" d="M757.6 134.5L762.5 138.3L757 141.3L752.2 137.5z"/>
<path fill="#9ae853" d="M761.8 137.8L766.7 141.6L761.2 144.7L756.3 140.8z"/>
<path fill="#8ce861" d="M766 141.1L770.9 145L765.4 148.1L760.5 144.2z"/>
<path fill="#7ee86f" d="M770.2 144.4L779.4 151.7L773.9 154.9L764.7 147.5z"/>
<path fill="#6fe87e" d="M778.7 151.2L792.3 162L786.8 165.2L773.2 154.3z"/>
<path fill="#61e88c" d="M791.6 161.4L809.8 175.9L804.4 179.2L786.2 164.6z"/>
<path fill="#6fe87e" d="M809.1 175.3L832.2 193.6L826.8 197L803.7 178.6z"/>
<path fill="#7ee86f" d="M831.5 193.1L859.8 215.6L854.4 219.1L826.1 196.5z"/>
<path fill="#6fe87e" d="M859.1 215L874 226.8L868.6 230.4L853.7 218.5z"/>
<path fill="#61e88c" d="M873.2 226.2L883.5 234.4L878.1 238L867.8 229.8z"/>
<path fill="#53e89a" d="M882.7 233.8L893.1 242L887.8 245.7L877.4 237.4z"/>
<path fill="#45e8a8" d="M892.4 241.4L898 245.9L892.6 249.6L887 245.1z"/>
<path fill="#36e8b6" d="M897.2 245.3L902.9 249.8L897.5 253.5L891.9 249z"/>
<path fill="#61e88c" d="M704.4 98.3L709 101.9L703.4 104.8L698.9 101.1z"/>
<path fill="#7ee86f" d="M708.4 101.4L712.9 105.1L707.4 107.9L702.8 104.3z"/>
<path fill="#9ae853" d="M712.3 104.6L716.9 108.2L711.4 111.1L706.8 107.4z"/>
<path fill="#a8e845" d="M716.3 107.7L720.9 111.4L715.4 114.3L710.8 110.6z"/>
<path fill="#b6e836" d="M720.3 110.9L725 114.6L719.4 117.6L714.8 113.8z"/>
<path fill="#c5e828" d="M724.3 114.1L729 117.9L723.5 120.8L718.8 117.1z"/>
<path fill="#d3e81a" d="M728.4 117.4L733.1 121.1L727.5 124.1L722.8 120.3z"/>
<path fill="#e1e80c" d="M732.4 120.6L737.1 124.4L731.6 127.3L726.9 123.6z"/>
<path fill="#e8e105" d="M736.5 123.9L741.2 127.6L735.7 130.6L731 126.8z"/>
<path fill="#e8c505" d="M740.6 127.1L745.4 130.9L739.8 133.9L735.1 130.1z"/>
<path fill="#e8b605" d="M744.7 130.4L753.7 137.5L748.1 140.6L739.2 133.4z"/>
<path fill="#e8c505" d="M753 137L757.8 140.9L752.3 143.9L747.5 140.1z"/>
<path fill="#e8d305" d="M757.2 140.3L762 144.2L756.5 147.3L751.7 143.4z"/>
<path fill="#e1e80c" d="M761.4 143.7L766.3 147.6L760.8 150.7L755.9 146.8z"/>
<path fill="#c5e828" d="M765.6 147.1L770.5 151L765 154.1L760.1 150.2z"/>
<path fill="#b6e836" d="M769.8 150.4L774.8 154.4L769.3 157.5L764.3 153.6z"/>
<path fill="#9ae853" d="M774.1 153.8L783.4 161.2L777.9 164.4L768.6 157z"/>
<path fill="#8ce861" d="M782.7 160.7L792 168.1L786.5 171.4L777.2 163.9z"/>
<path fill="#7ee86f" d="M791.3 167.6L814.1 185.7L808.6 189.1L785.9 170.8z"/>
<path fill="#8ce861" d="M813.4 185.2L827.6 196.5L822.1 199.9L807.9 188.5z"/>
<path fill="#9ae853" d="M826.9 195.9L864.7 226.1L859.2 229.7L821.4 199.4z"/>
<path fill="#8ce861" d="M863.9 225.5L874.2 233.6L868.7 237.3L858.5 229.1z"/>
<path fill="#7ee86f" d="M873.4 233L879 237.5L873.5 241.1L868 236.7z"/>
<path fill="#6fe87e" d="M878.2 236.9L883.8 241.3L878.4 245L872.8 240.5z"/>
<path fill="#61e88c" d="M883 240.7L893.5 249L888.1 252.8L877.6 244.4z"/>
<path fill="#53e89a" d="M892.7 248.4L898.4 252.9L893 256.7L887.3 252.2z"/>
<path fill="#6fe87e" d="M699.7 100.7L704.3 104.3L698.7 107.2L694.2 103.5z"/>
<path fill="#8ce861" d="M703.7 103.8L708.3 107.5L702.7 110.4L698.1 106.7z"/>
<path fill="#a8e845" d="M707.6 107L712.3 110.7L706.7 113.6L702.1 109.9z"/>
<path fill="#c5e828" d="M711.6 110.2L716.3 113.9L710.7 116.8L706.1 113.1z"/>
<path fill="#d3e81a" d="M715.6 113.4L720.3 117.1L714.7 120.1L710.1 116.3z"/>
<path fill="#e1e80c" d="M719.6 116.6L724.3 120.4L718.8 123.3L714.1 119.5z"/>
<path fill="#e8e105" d="M723.7 119.8L728.4 123.6L722.8 126.6L718.1 122.8z"/>
<path fill="#e8c505" d="M727.7 123.1L732.5 126.9L726.9 129.9L722.2 126.1z"/>
<path fill="#e8a805" d="M731.8 126.4L736.6 130.2L731 133.2L726.3 129.4z"/>
<path fill="#e87e05" d="M735.9 129.7L740.7 133.5L735.1 136.5L730.4 132.7z"/>
<path fill="#e85305" d="M740 133L744.8 136.8L739.3 139.8L734.5 136z"/>
<path fill="#e83605" d="M744.2 136.3L753.2 143.5L747.6 146.6L738.6 139.3z"/>
<path fill="#e85305" d="M752.5 142.9L757.4 146.8L751.8 150L747 146z"/>
<path fill="#e86f05" d="M756.7 146.3L761.6 150.2L756.1 153.4L751.2 149.4z"/>
<path fill="#e89a05" d="M760.9 149.7L765.8 153.6L760.3 156.8L755.4 152.8z"/>
<path fill="#e8c505" d="M765.2 153.1L770.1 157L764.6 160.2L759.6 156.2z"/>
<path fill="#e1e80c" d="M769.4 156.5L774.4 160.5L768.9 163.7L763.9 159.7z"/>
<path fill="#c5e828" d="M773.7 159.9L778.7 163.9L773.2 167.1L768.2 163.1z"/>
<path fill="#b6e836" d="M778 163.4L783 167.4L777.5 170.6L772.5 166.6z"/>
<path fill="#a8e845" d="M782.4 166.8L791.8 174.4L786.2 177.7L776.8 170.1z"/>
<path fill="#9ae853" d="M791.1 173.8L814 192.2L808.4 195.6L785.5 177.1z"/>
<path fill="#a8e845" d="M813.2 191.6L827.5 203L822 206.5L807.7 195z"/>
<path fill="#b6e836" d="M826.8 202.5L855.3 225.3L849.9 228.9L821.3 205.9z"/>
<path fill="#a8e845" d="M854.6 224.7L864.8 232.9L859.3 236.6L849.1 228.3z"/>
<path fill="#9ae853" d="M864.1 232.3L869.6 236.7L864.1 240.4L858.6 236z"/>
<path fill="#8ce861" d="M868.8 236.1L879.2 244.4L873.7 248.2L863.4 239.8z"/>
<path fill="#7ee86f" d="M878.4 243.8L884 248.3L878.6 252.1L873 247.5z"/>
<path fill="#6fe87e" d="M883.3 247.7L888.9 252.2L883.5 256L877.8 251.4z"/>
<path fill="#61e88c" d="M888.1 251.6L893.8 256.1L888.4 259.9L882.7 255.4z"/>
<path fill="#7ee86f" d="M695 103.1L699.6 106.7L694 109.6L689.4 105.9z"/>
<path fill="#9ae853" d="M699 106.2L703.6 109.9L698 112.8L693.4 109.1z"/>
<path fill="#b6e836" d="M702.9 109.4L707.6 113.1L702 116.1L697.4 112.3z"/>
<path fill="#e1e80c" d="M706.9 112.6L711.6 116.4L706 119.3L701.3 115.6z"/>
<path fill="#e8e105" d="M710.9 115.9L715.6 119.6L710 122.6L705.3 118.8z"/>
<path fill="#e8d305" d="M715 119.1L719.6 122.9L714 125.8L709.4 122z"/>
<path fill="#e8c505" d="M719 122.3L723.7 126.1L718.1 129.1L713.4 125.3z"/>
<path fill="#e8a805" d="M723.1 125.6L727.8 129.4L722.2 132.4L717.5 128.6z"/>
<path fill="#e88c05" d="M727.1 128.9L731.9 132.7L726.3 135.8L721.5 131.9z"/>
<path fill="#e85305" d="M731.2 132.2L736 136L730.4 139.1L725.6 135.2z"/>
<path fill="#e81a05" d="M735.4 135.5L740.1 139.4L734.6 142.4L729.8 138.6z"/>
<path fill="#d30505" d="M739.5 138.8L744.3 142.7L738.7 145.8L733.9 141.9z"/>
<path fill="#b60505" d="M743.7 142.2L752.7 149.5L747.1 152.6L738.1 145.3z"/>
<path fill="#d30505" d="M752 148.9L756.9 152.9L751.3 156L746.5 152.1z"/>
<path fill="#e82805" d="M756.3 152.3L761.2 156.3L755.6 159.5L750.7 155.5z"/>
<path fill="#e86105" d="M760.5 155.8L765.4 159.7L759.9 162.9L754.9 158.9z"/>
<path fill="#e89a05" d="M764.8 159.2L769.7 163.2L764.2 166.4L759.2 162.4z"/>
<path fill="#e8c505" d="M769 162.6L774 166.6L768.5 169.9L763.5 165.8z"/>
<path fill="#e8e105" d="M773.4 166.1L778.4 170.1L772.8 173.4L767.8 169.3z"/>
<path fill="#d3e81a" d="M777.7 169.6L787.1 177.2L781.5 180.5L772.1 172.8z"/>
<path fill="#c5e828" d="M786.4 176.6L791.5 180.7L785.9 184L780.8 179.9z"/>
<path fill="#b6e836" d="M790.8 180.1L804.8 191.4L799.3 194.8L785.2 183.5z"/>
<path fill="#a8e845" d="M804.1 190.9L818.3 202.3L812.8 205.8L798.6 194.2z"/>
<path fill="#b6e836" d="M817.6 201.7L850.7 228.4L845.2 232L812.1 205.2z"/>
<path fill="#a8e845" d="M850 227.8L860.2 236L854.7 239.7L844.5 231.4z"/>
<path fill="#9ae853" d="M859.4 235.4L865 239.8L859.5 243.5L853.9 239.1z"/>
<path fill="#8ce861" d="M864.2 239.2L869.8 243.7L864.3 247.4L858.7 242.9z"/>
<path fill="#7ee86f" d="M869 243.1L874.6 247.6L869.1 251.3L863.5 246.8z"/>
<path fill="#6fe87e" d="M873.8 247L879.4 251.5L874 255.3L868.3 250.7z"/>
<path fill="#61e88c" d="M878.7 250.9L889.2 259.3L883.7 263.2L873.2 254.6z"/>
<path fill="#8ce861" d="M690.3 105.5L694.9 109.2L689.2 112.1L684.7 108.4z"/>
<path fill="#a8e845" d="M694.2 108.7L698.8 112.4L693.2 115.3L688.6 111.6z"/>
<path fill="#d3e81a" d="M698.2 111.9L702.8 115.6L697.2 118.5L692.6 114.8z"/>
<path fill="#e8e105" d="M702.2 115.1L706.8 118.8L701.2 121.8L696.6 118z"/>
<path fill="#e8d305" d="M706.2 118.3L710.9 122.1L705.2 125.1L700.6 121.3z"/>
<path fill="#e8c505" d="M710.2 121.6L714.9 125.4L709.3 128.4L704.6 124.6z"/>
<path fill="#e8b605" d="M714.3 124.9L719 128.7L713.3 131.7L708.6 127.9z"/>
<path fill="#e8a805" d="M718.3 128.1L723.1 132L717.4 135L712.7 131.2z"/>
<path fill="#e88c05" d="M722.4 131.4L727.2 135.3L721.5 138.3L716.8 134.5z"/>
<path fill="#e86105" d="M726.5 134.8L731.3 138.6L725.7 141.7L720.9 137.8z"/>
<path fill="#e81a05" d="M730.6 138.1L735.4 142L729.8 145.1L725 141.2z"/>
<path fill="#c50505" d="M734.8 141.4L739.6 145.3L734 148.5L729.2 144.5z"/>
<path fill="#9a0505" d="M738.9 144.8L743.8 148.7L738.2 151.9L733.3 147.9z"/>
<path fill="#8c0505" d="M743.1 148.2L748 152.1L742.4 155.3L737.5 151.3z"/>
<path fill="#9a0505" d="M747.3 151.6L752.2 155.5L746.6 158.7L741.7 154.7z"/>
<path fill="#b60505" d="M751.5 155L756.5 159L750.8 162.2L745.9 158.2z"/>
<path fill="#e81a05" d="M755.8 158.4L760.7 162.4L755.1 165.6L750.2 161.6z"/>
<path fill="#e85305" d="M760.1 161.9L765 165.9L759.4 169.1L754.4 165.1z"/>
<path fill="#e88c05" d="M764.3 165.4L769.3 169.4L763.7 172.6L758.7 168.6z"/>
<path fill="#e8a805" d="M768.6 168.8L773.7 172.9L768.1 176.2L763 172.1z"/>
<path fill="#e8c505" d="M773 172.3L778 176.4L772.4 179.7L767.4 175.6z"/>
<path fill="#e8e105" d="M777.3 175.9L782.4 180L776.8 183.3L771.7 179.2z"/>
<path fill="#e1e80c" d="M781.7 179.4L786.8 183.5L781.2 186.9L776.1 182.7z"/>
<path fill="#d3e81a" d="M786.1 182.9L795.7 190.7L790.1 194.1L780.5 186.3z"/>
<path fill="#c5e828" d="M795 190.1L800.1 194.3L794.5 197.7L789.4 193.5z"/>
<path fill="#b6e836" d="M799.4 193.7L809.1 201.6L803.5 205L793.8 197.1z"/>
<path fill="#a8e845" d="M808.4 201L832 220.1L826.5 223.7L802.8 204.4z"/>
<path fill="#9ae853" d="M831.3 219.5L846.1 231.4L840.5 235.1L825.7 223.1z"/>
<path fill="#8ce861" d="M845.3 230.8L855.5 239.1L850 242.8L839.8 234.5z"/>
<path fill="#7ee86f" d="M854.8 238.5L860.3 243L854.8 246.7L849.3 242.2z"/>
<path fill="#6fe87e" d="M859.6 242.4L869.9 250.8L864.4 254.5L854 246.1z"/>
<path fill="#61e88c" d="M869.2 250.1L874.8 254.7L869.3 258.5L863.7 253.9z"/>
<path fill="#53e89a" d="M874 254.1L879.7 258.6L874.2 262.5L868.5 257.9z"/>
<path fill="#45e8a8" d="M878.9 258L884.6 262.6L879.1 266.4L873.4 261.8z"/>
<path fill="#8ce861" d="M685.5 107.9L690.1 111.6L684.4 114.5L679.9 110.8z"/>
<path fill="#b6e836" d="M689.5 111.1L694.1 114.9L688.4 117.8L683.8 114z"/>
<path fill="#d3e81a" d="M693.5 114.3L698.1 118.1L692.4 121.1L687.8 117.3z"/>
<path fill="#e8d305" d="M697.4 117.6L702.1 121.3L696.4 124.3L691.8 120.5z"/>
<path fill="#e8c505" d="M701.4 120.8L706.1 124.6L700.4 127.6L695.8 123.8z"/>
<path fill="#e8b605" d="M705.5 124.1L718.3 134.5L712.6 137.6L699.8 127.1z"/>
<path fill="#e8a805" d="M717.7 134L722.4 137.9L716.8 140.9L712 137.1z"/>
<path fill="#e88c05" d="M721.8 137.3L726.5 141.2L720.9 144.3L716.1 140.4z"/>
<path fill="#e85305" d="M725.9 140.7L730.7 144.6L725 147.7L720.2 143.8z"/>
<path fill="#e82805" d="M730 144.1L734.8 148L729.2 151.1L724.4 147.2z"/>
<path fill="#d30505" d="M734.2 147.4L739 151.4L733.4 154.5L728.5 150.6z"/>
<path fill="#b60505" d="M738.4 150.8L743.2 154.8L737.6 158L732.7 154z"/>
<path fill="#a80505" d="M742.6 154.3L747.5 158.2L741.8 161.4L736.9 157.4z"/>
<path fill="#c50505" d="M746.8 157.7L751.7 161.7L746.1 164.9L741.2 160.9z"/>
<path fill="#e10505" d="M751 161.1L756 165.2L750.3 168.4L745.4 164.4z"/>
<path fill="#e83605" d="M755.3 164.6L760.3 168.6L754.6 171.9L749.7 167.8z"/>
<path fill="#e86105" d="M759.6 168.1L764.6 172.1L759 175.4L754 171.3z"/>
<path fill="#e88c05" d="M763.9 171.6L768.9 175.7L763.3 179L758.3 174.9z"/>
<path fill="#e8a805" d="M768.2 175.1L773.3 179.2L767.7 182.5L762.6 178.4z"/>
<path fill="#e8b605" d="M772.6 178.6L777.7 182.8L772 186.1L767 182z"/>
<path fill="#e8c505" d="M777 182.2L782.1 186.3L776.4 189.7L771.3 185.5z"/>
<path fill="#e8d305" d="M781.4 185.8L786.5 189.9L780.9 193.3L775.7 189.1z"/>
<path fill="#e8e105" d="M785.8 189.4L790.9 193.5L785.3 197L780.2 192.8z"/>
<path fill="#d3e81a" d="M790.2 193L795.4 197.2L789.8 200.6L784.6 196.4z"/>
<path fill="#c5e828" d="M794.7 196.6L799.9 200.8L794.3 204.3L789.1 200z"/>
<path fill="#b6e836" d="M799.2 200.3L804.4 204.5L798.8 208L793.6 203.7z"/>
<path fill="#a8e845" d="M803.7 203.9L808.9 208.2L803.3 211.7L798.1 207.4z"/>
<path fill="#9ae853" d="M808.2 207.6L818.1 215.6L812.5 219.2L802.6 211.1z"/>
<path fill="#8ce861" d="M817.4 215L827.3 223.1L821.7 226.7L811.8 218.6z"/>
<path fill="#7ee86f" d="M826.6 222.5L836.7 230.7L831.1 234.4L821 226.1z"/>
<path fill="#6fe87e" d="M835.9 230.1L846.1 238.4L840.5 242.1L830.3 233.8z"/>
<path fill="#61e88c" d="M845.4 237.8L850.9 242.2L845.3 246L839.8 241.5z"/>
<path fill="#53e89a" d="M850.1 241.6L860.4 250L854.9 253.8L844.5 245.3z"/>
<path fill="#45e8a8" d="M859.7 249.4L870.1 257.9L864.6 261.7L854.1 253.2z"/>
<path fill="#36e8b6" d="M869.4 257.3L879.9 265.8L874.4 269.7L863.8 261.1z"/>
<path fill="#8ce861" d="M680.8 110.4L685.3 114.1L679.6 117L675.1 113.3z"/>
<path fill="#b6e836" d="M684.7 113.6L689.3 117.3L683.6 120.3L679 116.5z"/>
<path fill="#e1e80c" d="M688.7 116.8L693.3 120.6L687.6 123.6L683 119.8z"/>
<path fill="#e8d305" d="M692.7 120.1L697.3 123.9L691.6 126.9L687 123.1z"/>
<path fill="#e8b605" d="M696.7 123.3L717.6 140.5L711.9 143.6L691 126.3z"/>
<path fill="#e8a805" d="M717 139.9L721.8 143.8L716.1 146.9L711.3 143z"/>
<path fill="#e88c05" d="M721.1 143.3L725.9 147.2L720.2 150.4L715.4 146.4z"/>
<path fill="#e86f05" d="M725.2 146.7L730.1 150.6L724.4 153.8L719.6 149.8z"/>
<path fill="#e85305" d="M729.4 150.1L734.3 154L728.6 157.2L723.7 153.2z"/>
<path fill="#e83605" d="M733.6 153.5L738.5 157.5L732.8 160.7L727.9 156.7z"/>
<path fill="#e82805" d="M737.8 156.9L746.9 164.4L741.3 167.6L732.1 160.1z"/>
<path fill="#e83605" d="M746.3 163.9L751.2 167.9L745.5 171.1L740.6 167.1z"/>
<path fill="#e85305" d="M750.5 167.3L755.5 171.4L749.8 174.7L744.9 170.6z"/>
<path fill="#e86f05" d="M754.8 170.8L759.8 174.9L754.2 178.2L749.2 174.1z"/>
<path fill="#e87e05" d="M759.1 174.4L764.2 178.5L758.5 181.8L753.5 177.7z"/>
<path fill="#e89a05" d="M763.5 177.9L777.3 189.2L771.6 192.6L757.8 181.2z"/>
<path fill="#e8a805" d="M776.6 188.6L781.7 192.8L776.1 196.2L771 192z"/>
<path fill="#e8b605" d="M781 192.2L786.2 196.4L780.5 199.9L775.4 195.6z"/>
<path fill="#e8d305" d="M785.5 195.9L790.7 200.1L785 203.5L779.8 199.3z"/>
<path fill="#e1e80c" d="M790 199.5L795.1 203.8L789.5 207.2L784.3 203z"/>
<path fill="#c5e828" d="M794.4 203.2L799.7 207.4L794 210.9L788.8 206.7z"/>
<path fill="#b6e836" d="M799 206.9L804.2 211.1L798.6 214.7L793.3 210.4z"/>
<path fill="#9ae853" d="M803.5 210.6L808.8 214.9L803.1 218.4L797.8 214.1z"/>
<path fill="#8ce861" d="M808.1 214.3L813.4 218.6L807.7 222.2L802.4 217.8z"/>
<path fill="#7ee86f" d="M812.6 218L822.6 226.2L817 229.8L807 221.6z"/>
<path fill="#6fe87e" d="M821.9 225.6L827.3 230L821.6 233.6L816.2 229.2z"/>
<path fill="#61e88c" d="M826.5 229.4L832 233.8L826.3 237.5L820.9 233z"/>
<path fill="#53e89a" d="M831.2 233.2L841.4 241.5L835.8 245.2L825.6 236.9z"/>
<path fill="#45e8a8" d="M840.6 240.9L846.2 245.4L840.5 249.1L835 244.6z"/>
<path fill="#36e8b6" d="M845.4 244.8L860.6 257.2L855 261L839.8 248.5z"/>
<path fill="#28e8c5" d="M859.8 256.5L870.3 265.1L864.7 269L854.2 260.4z"/>
<path fill="#1ae8d3" d="M869.6 264.5L875.2 269.1L869.7 273L864 268.4z"/>
<path fill="#8ce861" d="M675.9 112.8L680.5 116.6L674.8 119.5L670.2 115.8z"/>
<path fill="#b6e836" d="M679.9 116.1L684.5 119.8L678.7 122.8L674.1 119z"/>
<path fill="#d3e81a" d="M683.8 119.3L688.5 123.1L682.7 126.1L678.1 122.3z"/>
<path fill="#e8d305" d="M687.8 122.6L692.5 126.4L686.7 129.4L682.1 125.6z"/>
<path fill="#e8b605" d="M691.8 125.9L696.5 129.7L690.8 132.7L686.1 128.9z"/>
<path fill="#e8a805" d="M695.9 129.2L700.5 133L694.8 136.1L690.1 132.2z"/>
<path fill="#e8b605" d="M699.9 132.5L721.1 149.9L715.4 153L694.2 135.5z"/>
<path fill="#e8a805" d="M720.4 149.3L725.3 153.3L719.5 156.5L714.7 152.5z"/>
<path fill="#e89a05" d="M724.6 152.8L729.4 156.7L723.7 159.9L718.9 155.9z"/>
<path fill="#e88c05" d="M728.8 156.2L733.7 160.2L727.9 163.4L723.1 159.4z"/>
<path fill="#e87e05" d="M733 159.6L750.7 174.2L745 177.5L727.3 162.8z"/>
<path fill="#e88c05" d="M750 173.6L755 177.7L749.3 181L744.3 176.9z"/>
<path fill="#e89a05" d="M754.4 177.2L768.1 188.4L762.4 191.8L748.6 180.5z"/>
<path fill="#e88c05" d="M767.4 187.9L772.5 192.1L766.8 195.5L761.7 191.3z"/>
<path fill="#e87e05" d="M771.8 191.5L776.9 195.7L771.3 199.1L766.1 194.9z"/>
<path fill="#e88c05" d="M776.3 195.1L781.4 199.3L775.7 202.8L770.6 198.5z"/>
<path fill="#e8a805" d="M780.7 198.8L785.9 203L780.2 206.5L775 202.2z"/>
<path fill="#e8d305" d="M785.2 202.4L790.4 206.7L784.7 210.2L779.5 205.9z"/>
<path fill="#e1e80c" d="M789.7 206.1L794.9 210.4L789.2 213.9L784 209.6z"/>
<path fill="#c5e828" d="M794.2 209.8L799.4 214.1L793.8 217.7L788.5 213.3z"/>
<path fill="#a8e845" d="M798.7 213.5L804 217.9L798.3 221.5L793 217.1z"/>
<path fill="#9ae853" d="M803.3 217.3L808.6 221.6L802.9 225.2L797.6 220.9z"/>
<path fill="#8ce861" d="M807.9 221L813.2 225.4L807.5 229.1L802.2 224.6z"/>
<path fill="#7ee86f" d="M812.5 224.8L817.8 229.2L812.2 232.9L806.8 228.5z"/>
<path fill="#6fe87e" d="M817.1 228.6L822.5 233.1L816.8 236.7L811.4 232.3z"/>
<path fill="#61e88c" d="M821.8 232.5L827.2 236.9L821.5 240.6L816.1 236.1z"/>
<path fill="#53e89a" d="M826.5 236.3L831.9 240.8L826.3 244.5L820.8 240z"/>
<path fill="#45e8a8" d="M831.2 240.2L836.6 244.7L831 248.4L825.5 243.9z"/>
<path fill="#36e8b6" d="M835.9 244L846.2 252.5L840.5 256.3L830.2 247.8z"/>
<path fill="#28e8c5" d="M845.4 251.9L855.8 260.4L850.2 264.3L839.8 255.7z"/>
<path fill="#1ae8d3" d="M855.1 259.8L870.5 272.4L864.9 276.4L849.4 263.6z"/>
<path fill="#8ce861" d="M671.1 115.3L675.7 119.1L669.9 122.1L665.3 118.3z"/>
<path fill="#a8e845" d="M675 118.6L679.6 122.4L673.9 125.3L669.3 121.5z"/>
<path fill="#d3e81a" d="M679 121.8L683.6 125.6L677.8 128.7L673.2 124.8z"/>
<path fill="#e8e105" d="M683 125.1L687.6 128.9L681.9 132L677.2 128.1z"/>
<path fill="#e8c505" d="M687 128.4L691.7 132.3L685.9 135.3L681.2 131.5z"/>
<path fill="#e8b605" d="M691 131.7L708 145.7L702.2 148.8L685.3 134.8z"/>
<path fill="#e8c505" d="M707.3 145.2L712.1 149.1L706.3 152.3L701.6 148.3z"/>
<path fill="#e8b605" d="M711.5 148.6L758.9 187.7L753.2 191.1L705.7 151.7z"/>
<path fill="#e8a805" d="M758.2 187.1L763.3 191.3L757.6 194.7L752.5 190.5z"/>
<path fill="#e88c05" d="M762.6 190.7L767.7 194.9L762 198.4L756.9 194.1z"/>
<path fill="#e86f05" d="M767 194.4L772.1 198.6L766.4 202.1L761.3 197.8z"/>
<path fill="#e86105" d="M771.4 198L776.6 202.3L770.9 205.7L765.7 201.5z"/>
<path fill="#e87e05" d="M775.9 201.7L781.1 206L775.3 209.5L770.2 205.2z"/>
<path fill="#e8a805" d="M780.4 205.4L785.6 209.7L779.8 213.2L774.6 208.9z"/>
<path fill="#e8d305" d="M784.9 209.1L790.1 213.4L784.4 216.9L779.1 212.6z"/>
<path fill="#e1e80c" d="M789.4 212.8L794.6 217.1L788.9 220.7L783.6 216.4z"/>
<path fill="#c5e828" d="M793.9 216.5L799.2 220.9L793.5 224.5L788.2 220.1z"/>
<path fill="#b6e836" d="M798.5 220.3L803.8 224.7L798.1 228.3L792.8 223.9z"/>
<path fill="#9ae853" d="M803.1 224.1L808.4 228.5L802.7 232.1L797.4 227.7z"/>
<path fill="#8ce861" d="M807.7 227.9L813.1 232.3L807.3 236L802 231.5z"/>
<path fill="#7ee86f" d="M812.3 231.7L817.7 236.2L812 239.9L806.6 235.4z"/>
<path fill="#6fe87e" d="M817 235.6L822.4 240L816.7 243.8L811.3 239.3z"/>
<path fill="#61e88c" d="M821.7 239.4L827.1 243.9L821.4 247.7L816 243.1z"/>
<path fill="#53e89a" d="M826.4 243.3L831.9 247.8L826.2 251.6L820.7 247.1z"/>
<path fill="#45e8a8" d="M831.1 247.2L836.6 251.8L830.9 255.6L825.4 251z"/>
<path fill="#36e8b6" d="M835.9 251.1L841.4 255.7L835.7 259.5L830.2 254.9z"/>
<path fill="#28e8c5" d="M840.7 255.1L851.1 263.7L845.4 267.5L835 258.9z"/>
<path fill="#1ae8d3" d="M850.3 263L865.8 275.8L860.1 279.7L844.6 266.9z"/>
<path fill="#7ee86f" d="M666.2 117.8L670.8 121.6L665 124.6L660.4 120.8z"/>
<path fill="#9ae853" d="M670.2 121.1L674.7 124.9L668.9 127.9L664.3 124.1z"/>
<path fill="#c5e828" d="M674.1 124.4L678.7 128.2L672.9 131.2L668.3 127.4z"/>
<path fill="#e8e105" d="M678.1 127.7L682.7 131.5L676.9 134.6L672.3 130.7z"/>
<path fill="#e8c505" d="M682.1 131L686.8 134.8L681 137.9L676.3 134z"/>
<path fill="#e8b605" d="M686.1 134.3L715.6 158.7L709.8 161.9L680.3 137.4z"/>
<path fill="#e8c505" d="M714.9 158.1L724 165.6L718.2 168.9L709.1 161.3z"/>
<path fill="#e8d305" d="M723.3 165.1L732.4 172.7L726.7 176L717.5 168.3z"/>
<path fill="#e8e105" d="M731.8 172.1L745.3 183.3L739.6 186.7L726 175.4z"/>
<path fill="#e8d305" d="M744.7 182.8L754.1 190.6L748.3 194L738.9 186.1z"/>
<path fill="#e8c505" d="M753.4 190L758.4 194.2L752.7 197.6L747.6 193.4z"/>
<path fill="#e8b605" d="M757.8 193.6L762.9 197.8L757.1 201.3L752 197.1z"/>
<path fill="#e89a05" d="M762.2 197.3L767.3 201.5L761.5 205L756.4 200.7z"/>
<path fill="#e87e05" d="M766.6 200.9L776.2 208.9L770.4 212.4L760.8 204.4z"/>
<path fill="#e89a05" d="M775.5 208.3L780.7 212.6L775 216.2L769.7 211.9z"/>
<path fill="#e8c505" d="M780 212.1L785.2 216.4L779.5 220L774.2 215.6z"/>
<path fill="#e8e105" d="M784.5 215.8L789.8 220.2L784 223.8L778.8 219.4z"/>
<path fill="#e1e80c" d="M789.1 219.6L794.4 223.9L788.6 227.6L783.3 223.2z"/>
<path fill="#c5e828" d="M793.6 223.3L799 227.8L793.2 231.4L787.9 227z"/>
<path fill="#b6e836" d="M798.2 227.2L803.6 231.6L797.8 235.3L792.5 230.8z"/>
<path fill="#a8e845" d="M802.9 231L808.2 235.4L802.5 239.1L797.1 234.6z"/>
<path fill="#9ae853" d="M807.5 234.8L812.9 239.3L807.2 243L801.7 238.5z"/>
<path fill="#8ce861" d="M812.2 238.7L817.6 243.2L811.9 246.9L806.4 242.4z"/>
<path fill="#7ee86f" d="M816.9 242.6L822.3 247.1L816.6 250.9L811.1 246.3z"/>
<path fill="#6fe87e" d="M821.6 246.5L827.1 251L821.3 254.8L815.8 250.2z"/>
<path fill="#61e88c" d="M826.3 250.4L831.8 255L826.1 258.8L820.6 254.2z"/>
<path fill="#53e89a" d="M831.1 254.3L836.6 258.9L830.9 262.8L825.3 258.2z"/>
<path fill="#45e8a8" d="M835.9 258.3L841.4 262.9L835.7 266.8L830.1 262.2z"/>
<path fill="#36e8b6" d="M840.7 262.3L846.3 266.9L840.6 270.9L835 266.2z"/>
<path fill="#28e8c5" d="M845.5 266.3L851.2 271L845.4 274.9L839.8 270.2z"/>
<path fill="#1ae8d3" d="M850.4 270.3L861 279.1L855.3 283.1L844.7 274.3z"/>
<path fill="#6fe87e" d="M661.3 120.3L665.9 124.1L660 127.1L655.5 123.3z"/>
<path fill="#9ae853" d="M665.2 123.6L669.8 127.4L664 130.5L659.4 126.6z"/>
<path fill="#b6e836" d="M669.2 126.9L673.8 130.7L668 133.8L663.4 129.9z"/>
<path fill="#e1e80c" d="M673.2 130.2L677.8 134.1L672 137.2L667.4 133.3z"/>
<path fill="#e8d305" d="M677.2 133.6L681.9 137.4L676 140.5L671.4 136.6z"/>
<path fill="#e8b605" d="M681.2 136.9L690 144.2L684.2 147.3L675.4 140z"/>
<path fill="#e8a805" d="M689.4 143.7L714.8 164.9L709 168.1L683.5 146.8z"/>
<path fill="#e8b605" d="M714.2 164.3L719.1 168.4L713.2 171.7L708.4 167.6z"/>
<path fill="#e8d305" d="M718.4 167.8L723.3 171.9L717.5 175.2L712.6 171.1z"/>
<path fill="#e8e105" d="M722.6 171.4L727.6 175.5L721.7 178.8L716.8 174.7z"/>
<path fill="#e1e80c" d="M726.9 174.9L731.8 179L726 182.4L721.1 178.2z"/>
<path fill="#d3e81a" d="M731.2 178.5L744.8 189.8L739 193.2L725.3 181.8z"/>
<path fill="#e1e80c" d="M744.1 189.2L753.6 197.1L747.7 200.6L738.3 192.7z"/>
<path fill="#e8e105" d="M752.9 196.5L758 200.8L752.2 204.3L747 200z"/>
<path fill="#e8d305" d="M757.3 200.2L762.4 204.5L756.6 208L751.5 203.7z"/>
<path fill="#e8b605" d="M761.7 203.9L775.8 215.6L770 219.2L755.9 207.4z"/>
<path fill="#e8c505" d="M775.1 215.1L780.4 219.4L774.6 223L769.3 218.6z"/>
<path fill="#e8d305" d="M779.7 218.8L784.9 223.2L779.1 226.8L773.9 222.4z"/>
<path fill="#e8e105" d="M784.2 222.6L789.5 227L783.7 230.7L778.4 226.2z"/>
<path fill="#e1e80c" d="M788.8 226.4L794.1 230.8L788.3 234.5L783 230.1z"/>
<path fill="#d3e81a" d="M793.4 230.2L803.4 238.6L797.6 242.3L787.6 233.9z"/>
<path fill="#c5e828" d="M802.6 237.9L808 242.4L802.3 246.2L796.9 241.7z"/>
<path fill="#b6e836" d="M807.3 241.8L812.7 246.4L807 250.1L801.5 245.6z"/>
<path fill="#a8e845" d="M812 245.7L817.5 250.3L811.7 254.1L806.2 249.5z"/>
<path fill="#9ae853" d="M816.7 249.7L822.2 254.2L816.4 258.1L810.9 253.5z"/>
<path fill="#7ee86f" d="M821.5 253.6L827 258.2L821.2 262.1L815.7 257.4z"/>
<path fill="#6fe87e" d="M826.2 257.6L831.8 262.2L826 266.1L820.5 261.4z"/>
<path fill="#61e88c" d="M831 261.6L836.6 266.2L830.8 270.1L825.3 265.4z"/>
<path fill="#45e8a8" d="M835.8 265.6L841.5 270.3L835.7 274.2L830.1 269.5z"/>
<path fill="#36e8b6" d="M840.7 269.6L846.3 274.3L840.6 278.3L834.9 273.5z"/>
<path fill="#28e8c5" d="M845.6 273.7L851.2 278.4L845.5 282.4L839.8 277.6z"/>
<path fill="#1ae8d3" d="M850.5 277.7L856.2 282.5L850.4 286.5L844.7 281.7z"/>
<path fill="#6fe87e" d="M656.4 122.8L660.9 126.7L655 129.7L650.5 125.8z"/>
<path fill="#9ae853" d="M660.3 126.1L664.9 130L659 133L654.4 129.2z"/>
<path fill="#b6e836" d="M664.3 129.5L668.9 133.3L663 136.4L658.4 132.5z"/>
<path fill="#e1e80c" d="M668.3 132.8L672.9 136.7L667 139.8L662.4 135.9z"/>
<path fill="#e8d305" d="M672.3 136.2L676.9 140.1L671.1 143.2L666.4 139.2z"/>
<path fill="#e8b605" d="M676.3 139.5L681 143.4L675.1 146.6L670.4 142.6z"/>
<path fill="#e8a805" d="M680.3 142.9L685.1 146.8L679.2 150L674.5 146z"/>
<path fill="#e89a05" d="M684.4 146.3L693.3 153.7L687.4 156.9L678.5 149.5z"/>
<path fill="#e88c05" d="M692.6 153.2L697.4 157.2L691.5 160.4L686.7 156.4z"/>
<path fill="#e86f05" d="M696.7 156.6L709.9 167.6L704 170.9L690.9 159.8z"/>
<path fill="#e88c05" d="M709.3 167.1L714.1 171.2L708.3 174.5L703.4 170.4z"/>
<path fill="#e8b605" d="M713.5 170.6L718.4 174.7L712.5 178L707.6 173.9z"/>
<path fill="#e8e105" d="M717.7 174.1L722.6 178.3L716.8 181.6L711.8 177.5z"/>
<path fill="#d3e81a" d="M722 177.7L726.9 181.8L721 185.2L716.1 181z"/>
<path fill="#c5e828" d="M726.2 181.3L731.2 185.4L725.3 188.8L720.4 184.6z"/>
<path fill="#b6e836" d="M730.5 184.9L748.6 200L742.8 203.5L724.7 188.3z"/>
<path fill="#c5e828" d="M747.9 199.4L753.1 203.7L747.2 207.2L742.1 202.9z"/>
<path fill="#d3e81a" d="M752.4 203.1L757.5 207.4L751.6 211L746.5 206.6z"/>
<path fill="#e1e80c" d="M756.8 206.8L761.9 211.2L756.1 214.7L750.9 210.4z"/>
<path fill="#e8e105" d="M761.2 210.6L784.6 230.1L778.8 233.8L755.4 214.1z"/>
<path fill="#e1e80c" d="M783.9 229.5L807.9 249.5L802 253.4L778 233.2z"/>
<path fill="#d3e81a" d="M807.1 248.9L812.6 253.5L806.8 257.3L801.3 252.7z"/>
<path fill="#c5e828" d="M811.8 252.9L817.3 257.5L811.5 261.3L806 256.7z"/>
<path fill="#b6e836" d="M816.6 256.8L822.1 261.5L816.3 265.3L810.8 260.7z"/>
<path fill="#9ae853" d="M821.4 260.8L826.9 265.5L821.1 269.4L815.5 264.7z"/>
<path fill="#8ce861" d="M826.2 264.8L831.7 269.5L825.9 273.5L820.3 268.8z"/>
<path fill="#6fe87e" d="M831 268.9L836.6 273.6L830.8 277.5L825.2 272.8z"/>
<path fill="#53e89a" d="M835.8 272.9L841.5 277.7L835.7 281.7L830 276.9z"/>
<path fill="#36e8b6" d="M840.7 277L846.4 281.8L840.6 285.8L834.9 281z"/>
<path fill="#28e8c5" d="M845.6 281.1L851.3 285.9L845.5 289.9L839.8 285.1z"/>
<path fill="#7ee86f" d="M651.4 125.4L656 129.2L650 132.3L645.5 128.4z"/>
<path fill="#a8e845" d="M655.3 128.7L659.9 132.6L654 135.6L649.4 131.8z"/>
<path fill="#c5e828" d="M659.3 132L663.9 135.9L658 139L653.4 135.1z"/>
<path fill="#e8e105" d="M663.3 135.4L667.9 139.3L662 142.4L657.4 138.5z"/>
<path fill="#e8b605" d="M667.3 138.8L672 142.7L666 145.8L661.4 141.9z"/>
<path fill="#e8a805" d="M671.3 142.1L676 146.1L670.1 149.2L665.4 145.3z"/>
<path fill="#e89a05" d="M675.4 145.6L680.1 149.5L674.2 152.7L669.5 148.7z"/>
<path fill="#e88c05" d="M679.4 149L684.2 152.9L678.3 156.1L673.5 152.1z"/>
<path fill="#e87e05" d="M683.5 152.4L688.3 156.4L682.4 159.6L677.6 155.6z"/>
<path fill="#e86f05" d="M687.6 155.9L692.4 159.9L686.5 163.1L681.7 159.1z"/>
<path fill="#e84505" d="M691.8 159.3L696.6 163.4L690.7 166.6L685.9 162.6z"/>
<path fill="#e82805" d="M695.9 162.8L700.8 166.9L694.8 170.2L690 166.1z"/>
<path fill="#e81a05" d="M700.1 166.3L705 170.4L699 173.7L694.2 169.6z"/>
<path fill="#e84505" d="M704.3 169.9L709.2 174L703.3 177.3L698.4 173.1z"/>
<path fill="#e88c05" d="M708.5 173.4L713.4 177.5L707.5 180.9L702.6 176.7z"/>
<path fill="#e8c505" d="M712.7 177L717.7 181.1L711.8 184.5L706.8 180.3z"/>
<path fill="#d3e81a" d="M717 180.5L721.9 184.7L716 188.1L711.1 183.9z"/>
<path fill="#b6e836" d="M721.3 184.1L726.3 188.3L720.4 191.7L715.4 187.5z"/>
<path fill="#9ae853" d="M725.6 187.7L734.9 195.6L729 199.1L719.7 191.1z"/>
<path fill="#8ce861" d="M734.2 195L739.3 199.3L733.4 202.8L728.3 198.5z"/>
<path fill="#9ae853" d="M738.6 198.7L748.1 206.7L742.2 210.2L732.7 202.2z"/>
<path fill="#a8e845" d="M747.4 206.1L757 214.2L751.1 217.7L741.5 209.6z"/>
<path fill="#b6e836" d="M756.3 213.6L761.5 217.9L755.6 221.5L750.4 217.1z"/>
<path fill="#c5e828" d="M760.8 217.3L766 221.7L760.1 225.3L754.9 220.9z"/>
<path fill="#d3e81a" d="M765.3 221.1L775.1 229.4L769.2 233L759.4 224.7z"/>
<path fill="#e1e80c" d="M774.4 228.8L788.9 241L783 244.7L768.5 232.4z"/>
<path fill="#e8e105" d="M788.2 240.4L793.6 244.9L787.7 248.7L782.3 244.1z"/>
<path fill="#e8d305" d="M792.8 244.3L802.9 252.8L797.1 256.6L787 248z"/>
<path fill="#e8c505" d="M802.2 252.1L807.7 256.7L801.8 260.6L796.3 256z"/>
<path fill="#e8d305" d="M806.9 256.1L812.4 260.7L806.6 264.6L801.1 260z"/>
<path fill="#e1e80c" d="M811.7 260.1L817.2 264.7L811.3 268.7L805.8 264z"/>
<path fill="#d3e81a" d="M816.4 264.1L822 268.8L816.2 272.7L810.6 268z"/>
<path fill="#b6e836" d="M821.2 268.2L826.8 272.8L821 276.8L815.4 272.1z"/>
<path fill="#9ae853" d="M826.1 272.2L831.7 276.9L825.9 280.9L820.2 276.2z"/>
<path fill="#7ee86f" d="M830.9 276.3L836.6 281L830.7 285.1L825.1 280.3z"/>
<path fill="#53e89a" d="M835.8 280.4L841.5 285.2L835.7 289.2L830 284.4z"/>
<path fill="#36e8b6" d="M840.7 284.5L846.4 289.3L840.6 293.4L834.9 288.6z"/>
<path fill="#8ce861" d="M646.4 127.9L651 131.8L645 134.9L640.4 131z"/>
<path fill="#b6e836" d="M650.3 131.3L654.9 135.2L649 138.2L644.4 134.3z"/>
<path fill="#e1e80c" d="M654.3 134.6L658.9 138.5L653 141.6L648.3 137.7z"/>
<path fill="#e8d305" d="M658.3 138L662.9 141.9L657 145.1L652.3 141.1z"/>
<path fill="#e8b605" d="M662.3 141.4L667 145.3L661 148.5L656.3 144.5z"/>
<path fill="#e89a05" d="M666.3 144.8L675.1 152.2L669.1 155.4L660.4 147.9z"/>
<path fill="#e88c05" d="M674.4 151.6L683.3 159.1L677.3 162.4L668.5 154.8z"/>
<path fill="#e87e05" d="M682.6 158.6L687.4 162.6L681.5 165.9L676.7 161.8z"/>
<path fill="#e85305" d="M686.8 162.1L691.6 166.1L685.6 169.4L680.8 165.3z"/>
<path fill="#e82805" d="M690.9 165.6L695.8 169.7L689.8 173L685 168.8z"/>
<path fill="#e81a05" d="M695.1 169.1L700 173.2L694 176.5L689.2 172.4z"/>
<path fill="#e83605" d="M699.3 172.6L704.2 176.8L698.2 180.1L693.3 176z"/>
<path fill="#e87e05" d="M703.5 176.2L708.4 180.3L702.5 183.7L697.6 179.5z"/>
<path fill="#e8c505" d="M707.7 179.8L712.7 183.9L706.7 187.3L701.8 183.1z"/>
<path fill="#c5e828" d="M712 183.4L717 187.6L711 191L706.1 186.8z"/>
<path fill="#9ae853" d="M716.3 187L721.3 191.2L715.3 194.6L710.3 190.4z"/>
<path fill="#8ce861" d="M720.6 190.6L725.6 194.9L719.7 198.3L714.6 194.1z"/>
<path fill="#7ee86f" d="M724.9 194.3L729.9 198.5L724 202L719 197.7z"/>
<path fill="#6fe87e" d="M729.3 197.9L743.1 209.7L737.2 213.2L723.3 201.4z"/>
<path fill="#7ee86f" d="M742.4 209.1L752 217.2L746.1 220.8L736.5 212.6z"/>
<path fill="#8ce861" d="M751.3 216.6L756.5 221L750.6 224.6L745.4 220.2z"/>
<path fill="#9ae853" d="M755.8 220.4L761 224.8L755.1 228.4L749.9 224z"/>
<path fill="#a8e845" d="M760.3 224.2L765.6 228.6L759.6 232.3L754.4 227.8z"/>
<path fill="#b6e836" d="M764.8 228L770.1 232.5L764.2 236.2L758.9 231.7z"/>
<path fill="#c5e828" d="M769.4 231.9L779.3 240.2L773.4 244L763.5 235.6z"/>
<path fill="#d3e81a" d="M778.6 239.6L783.9 244.1L778 247.9L772.7 243.4z"/>
<path fill="#e1e80c" d="M783.2 243.5L788.6 248.1L782.7 251.9L777.3 247.3z"/>
<path fill="#e8d305" d="M787.9 247.5L793.3 252L787.4 255.9L782 251.3z"/>
<path fill="#e8b605" d="M792.5 251.4L798 256L792.1 259.9L786.6 255.2z"/>
<path fill="#e89a05" d="M797.2 255.4L802.7 260L796.8 263.9L791.3 259.2z"/>
<path fill="#e88c05" d="M802 259.4L807.5 264L801.6 267.9L796.1 263.2z"/>
<path fill="#e8a805" d="M806.7 263.4L812.3 268.1L806.4 272L800.8 267.3z"/>
<path fill="#e8d305" d="M811.5 267.4L817.1 272.1L811.2 276.1L805.6 271.4z"/>
<path fill="#e1e80c" d="M816.3 271.5L821.9 276.2L816 280.2L810.4 275.4z"/>
<path fill="#c5e828" d="M821.1 275.6L826.8 280.3L820.9 284.3L815.3 279.5z"/>
<path fill="#a8e845" d="M826 279.7L831.6 284.4L825.8 288.5L820.1 283.7z"/>
<path fill="#7ee86f" d="M830.9 283.8L836.6 288.6L830.7 292.7L825 287.8z"/>
<path fill="#53e89a" d="M835.8 287.9L841.5 292.8L835.6 296.9L829.9 292z"/>
<path fill="#8ce861" d="M641.3 130.5L645.9 134.4L639.9 137.5L635.4 133.6z"/>
<path fill="#b6e836" d="M645.3 133.9L649.9 137.8L643.9 140.9L639.3 137z"/>
<path fill="#d3e81a" d="M649.3 137.2L653.9 141.2L647.9 144.3L643.3 140.3z"/>
<path fill="#e8e105" d="M653.3 140.6L657.9 144.6L651.9 147.7L647.3 143.8z"/>
<path fill="#e8c505" d="M657.3 144L666 151.4L660 154.6L651.3 147.2z"/>
<path fill="#e8b605" d="M665.3 150.9L670.1 154.9L664.1 158.1L659.4 154.1z"/>
<path fill="#e8c505" d="M669.4 154.3L682.4 165.4L676.4 168.6L663.4 157.6z"/>
<path fill="#e8b605" d="M681.7 164.8L686.6 168.9L680.6 172.2L675.8 168.1z"/>
<path fill="#e89a05" d="M685.9 168.3L690.7 172.4L684.7 175.8L679.9 171.6z"/>
<path fill="#e88c05" d="M690.1 171.9L694.9 176L688.9 179.3L684.1 175.2z"/>
<path fill="#e89a05" d="M694.3 175.4L699.1 179.6L693.2 183L688.3 178.8z"/>
<path fill="#e8c505" d="M698.5 179L703.4 183.2L697.4 186.6L692.5 182.4z"/>
<path fill="#d3e81a" d="M702.7 182.6L707.7 186.8L701.7 190.2L696.7 186z"/>
<path fill="#a8e845" d="M707 186.2L711.9 190.4L706 193.9L701 189.6z"/>
<path fill="#8ce861" d="M711.3 189.9L716.2 194.1L710.3 197.6L705.3 193.3z"/>
<path fill="#6fe87e" d="M715.6 193.5L720.6 197.8L714.6 201.3L709.6 197z"/>
<path fill="#61e88c" d="M719.9 197.2L729.3 205.2L723.3 208.7L713.9 200.7z"/>
<path fill="#53e89a" d="M728.6 204.6L742.6 216.4L736.6 220L722.6 208.1z"/>
<path fill="#61e88c" d="M741.9 215.8L751.5 224L745.5 227.7L735.9 219.4z"/>
<path fill="#6fe87e" d="M750.8 223.4L756 227.9L750.1 231.5L744.8 227.1z"/>
<path fill="#7ee86f" d="M755.3 227.3L760.6 231.7L754.6 235.4L749.3 230.9z"/>
<path fill="#8ce861" d="M759.8 231.1L765.1 235.6L759.2 239.3L753.9 234.8z"/>
<path fill="#9ae853" d="M764.4 235L769.7 239.5L763.7 243.2L758.4 238.7z"/>
<path fill="#a8e845" d="M769 238.9L774.3 243.4L768.4 247.2L763 242.6z"/>
<path fill="#c5e828" d="M773.6 242.8L778.9 247.3L773 251.1L767.6 246.6z"/>
<path fill="#d3e81a" d="M778.2 246.7L783.6 251.3L777.7 255.1L772.3 250.5z"/>
<path fill="#e1e80c" d="M782.9 250.7L788.3 255.3L782.3 259.1L776.9 254.5z"/>
<path fill="#e8c505" d="M787.5 254.6L793 259.3L787.1 263.1L781.6 258.5z"/>
<path fill="#e89a05" d="M792.3 258.6L797.7 263.3L791.8 267.2L786.3 262.5z"/>
<path fill="#e86f05" d="M797 262.6L802.5 267.3L796.6 271.3L791 266.6z"/>
<path fill="#e87e05" d="M801.7 266.7L807.3 271.4L801.3 275.3L795.8 270.6z"/>
<path fill="#e8a805" d="M806.5 270.7L812.1 275.5L806.2 279.5L800.6 274.7z"/>
<path fill="#e8c505" d="M811.3 274.8L816.9 279.6L811 283.6L805.4 278.8z"/>
<path fill="#e8e105" d="M816.2 278.9L821.8 283.7L815.9 287.8L810.2 282.9z"/>
<path fill="#c5e828" d="M821 283.1L826.7 287.9L820.8 291.9L815.1 287.1z"/>
<path fill="#9ae853" d="M825.9 287.2L831.6 292L825.7 296.1L820 291.3z"/>
<path fill="#6fe87e" d="M830.8 291.4L836.5 296.2L830.6 300.4L824.9 295.5z"/>
<path fill="#7ee86f" d="M636.3 133.1L640.9 137L634.8 140.1L630.3 136.2z"/>
<path fill="#8ce861" d="M640.2 136.5L644.8 140.4L638.8 143.5L634.2 139.6z"/>
<path fill="#a8e845" d="M644.2 139.9L648.8 143.8L642.8 147L638.2 143z"/>
<path fill="#b6e836" d="M648.2 143.3L652.8 147.2L646.8 150.4L642.2 146.4z"/>
<path fill="#c5e828" d="M652.2 146.7L656.9 150.7L650.8 153.9L646.2 149.9z"/>
<path fill="#d3e81a" d="M656.2 150.1L660.9 154.1L654.9 157.3L650.2 153.3z"/>
<path fill="#c5e828" d="M660.3 153.6L669.1 161.1L663.1 164.4L654.3 156.8z"/>
<path fill="#b6e836" d="M668.4 160.5L681.5 171.7L675.5 175L662.4 163.8z"/>
<path fill="#c5e828" d="M680.8 171.1L694.1 182.4L688.1 185.8L674.8 174.4z"/>
<path fill="#a8e845" d="M693.4 181.9L698.3 186.1L692.3 189.5L687.4 185.2z"/>
<path fill="#9ae853" d="M697.7 185.5L702.6 189.7L696.6 193.1L691.6 188.9z"/>
<path fill="#7ee86f" d="M701.9 189.1L706.9 193.3L700.9 196.8L695.9 192.5z"/>
<path fill="#6fe87e" d="M706.2 192.8L711.2 197L705.2 200.5L700.2 196.2z"/>
<path fill="#61e88c" d="M710.5 196.4L715.5 200.7L709.5 204.2L704.5 199.9z"/>
<path fill="#53e89a" d="M714.8 200.1L719.9 204.4L713.9 208L708.8 203.6z"/>
<path fill="#45e8a8" d="M719.2 203.8L746.5 227.1L740.5 230.8L713.2 207.4z"/>
<path fill="#53e89a" d="M745.8 226.5L751 231L745 234.7L739.8 230.2z"/>
<path fill="#61e88c" d="M750.3 230.4L760.1 238.7L754.1 242.5L744.3 234.1z"/>
<path fill="#7ee86f" d="M759.4 238.1L764.7 242.7L758.7 246.4L753.4 241.9z"/>
<path fill="#8ce861" d="M763.9 242L769.3 246.6L763.3 250.4L757.9 245.8z"/>
<path fill="#9ae853" d="M768.6 246L773.9 250.5L767.9 254.4L762.6 249.8z"/>
<path fill="#b6e836" d="M773.2 249.9L778.6 254.5L772.6 258.4L767.2 253.7z"/>
<path fill="#c5e828" d="M777.8 253.9L783.3 258.5L777.3 262.4L771.9 257.7z"/>
<path fill="#e1e80c" d="M782.5 257.9L788 262.5L782 266.5L776.5 261.8z"/>
<path fill="#e8d305" d="M787.2 261.9L792.7 266.6L786.7 270.5L781.3 265.8z"/>
<path fill="#e8a805" d="M792 265.9L797.5 270.6L791.5 274.6L786 269.9z"/>
<path fill="#e89a05" d="M796.7 270L802.3 274.7L796.3 278.7L790.7 274z"/>
<path fill="#e8a805" d="M801.5 274.1L807.1 278.8L801.1 282.9L795.5 278.1z"/>
<path fill="#e8b605" d="M806.3 278.2L811.9 283L806 287L800.4 282.2z"/>
<path fill="#e8d305" d="M811.2 282.3L816.8 287.1L810.8 291.2L805.2 286.4z"/>
<path fill="#e1e80c" d="M816 286.5L821.7 291.3L815.7 295.4L810.1 290.5z"/>
<path fill="#b6e836" d="M820.9 290.6L826.6 295.5L820.7 299.6L815 294.7z"/>
<path fill="#7ee86f" d="M825.8 294.8L831.6 299.7L825.6 303.9L819.9 299z"/>
<path fill="#53e89a" d="M631.2 135.7L635.8 139.6L629.7 142.8L625.1 138.8z"/>
<path fill="#61e88c" d="M635.1 139.1L639.7 143L633.7 146.2L629.1 142.2z"/>
<path fill="#6fe87e" d="M639.1 142.5L647.7 149.9L641.7 153.1L633 145.7z"/>
<path fill="#7ee86f" d="M647.1 149.4L664 163.8L657.9 167.1L641 152.6z"/>
<path fill="#6fe87e" d="M663.3 163.3L693.2 188.9L687.2 192.4L657.3 166.6z"/>
<path fill="#61e88c" d="M692.6 188.4L701.8 196.3L695.7 199.7L686.5 191.8z"/>
<path fill="#53e89a" d="M701.1 195.7L706.1 200L700 203.5L695.1 199.2z"/>
<path fill="#45e8a8" d="M705.4 199.4L714.8 207.4L708.7 211L699.4 202.9z"/>
<path fill="#36e8b6" d="M714.1 206.8L723.6 214.9L717.5 218.5L708 210.4z"/>
<path fill="#28e8c5" d="M722.9 214.3L736.9 226.4L730.8 230.1L716.8 217.9z"/>
<path fill="#36e8b6" d="M736.2 225.8L745.9 234.1L739.9 237.8L730.1 229.4z"/>
<path fill="#45e8a8" d="M745.2 233.5L755 241.9L749 245.7L739.1 237.2z"/>
<path fill="#53e89a" d="M754.3 241.3L759.6 245.8L753.6 249.7L748.3 245.1z"/>
<path fill="#61e88c" d="M758.9 245.2L764.2 249.8L758.2 253.6L752.8 249z"/>
<path fill="#7ee86f" d="M763.5 249.2L768.9 253.8L762.8 257.6L757.5 253z"/>
<path fill="#8ce861" d="M768.1 253.2L773.5 257.8L767.5 261.7L762.1 257z"/>
<path fill="#9ae853" d="M772.8 257.2L778.2 261.8L772.2 265.7L766.8 261z"/>
<path fill="#b6e836" d="M777.5 261.2L782.9 265.8L776.9 269.8L771.4 265.1z"/>
<path fill="#d3e81a" d="M782.2 265.2L787.7 269.9L781.6 273.9L776.2 269.1z"/>
<path fill="#e1e80c" d="M786.9 269.3L792.4 274L786.4 278L780.9 273.2z"/>
<path fill="#e8d305" d="M791.7 273.4L797.2 278.1L791.2 282.1L785.7 277.3z"/>
<path fill="#e8c505" d="M796.5 277.5L806.9 286.4L800.9 290.5L790.4 281.5z"/>
<path fill="#e8d305" d="M806.1 285.7L811.7 290.6L805.7 294.7L800.1 289.8z"/>
<path fill="#e1e80c" d="M811 289.9L816.6 294.8L810.6 298.9L805 294z"/>
<path fill="#b6e836" d="M815.9 294.1L821.6 299L815.6 303.2L809.9 298.2z"/>
<path fill="#8ce861" d="M820.8 298.3L826.5 303.2L820.5 307.4L814.8 302.5z"/>
<path fill="#36e8b6" d="M626.1 138.3L638.6 149.1L632.5 152.3L619.9 141.5z"/>
<path fill="#45e8a8" d="M638 148.6L696.7 199.2L690.6 202.7L631.9 151.8z"/>
<path fill="#36e8b6" d="M696 198.6L709.7 210.4L703.6 214L689.9 202.1z"/>
<path fill="#28e8c5" d="M709 209.8L745.3 241.2L739.3 244.9L702.9 213.4z"/>
<path fill="#36e8b6" d="M744.6 240.6L754.5 249.1L748.4 252.9L738.5 244.3z"/>
<path fill="#45e8a8" d="M753.8 248.4L759.1 253L753 256.9L747.7 252.3z"/>
<path fill="#53e89a" d="M758.4 252.4L763.8 257L757.7 260.9L752.3 256.3z"/>
<path fill="#61e88c" d="M763 256.4L768.4 261.1L762.3 265L756.9 260.3z"/>
<path fill="#7ee86f" d="M767.7 260.4L773.1 265.1L767 269L761.6 264.3z"/>
<path fill="#8ce861" d="M772.4 264.5L777.8 269.2L771.8 273.1L766.3 268.4z"/>
<path fill="#9ae853" d="M777.1 268.5L782.6 273.3L776.5 277.3L771 272.5z"/>
<path fill="#b6e836" d="M781.8 272.6L787.3 277.4L781.3 281.4L775.8 276.6z"/>
<path fill="#c5e828" d="M786.6 276.7L792.1 281.5L786.1 285.6L780.5 280.7z"/>
<path fill="#d3e81a" d="M791.4 280.9L797 285.7L790.9 289.7L785.3 284.9z"/>
<path fill="#e1e80c" d="M796.2 285L806.7 294L800.6 298.2L790.1 289.1z"/>
<path fill="#c5e828" d="M805.9 293.4L811.6 298.3L805.5 302.4L799.9 297.5z"/>
<path fill="#a8e845" d="M810.8 297.6L816.5 302.5L810.5 306.7L804.8 301.8z"/>
<path fill="#7ee86f" d="M815.7 301.9L821.5 306.8L815.4 311L809.7 306z"/>
<path fill="#1ae8d3" d="M620.9 141L629.4 148.4L623.3 151.6L614.7 144.1z"/>
<path fill="#28e8c5" d="M628.8 147.8L670.3 183.8L664.1 187.2L622.7 151z"/>
<path fill="#36e8b6" d="M669.6 183.2L687.2 198.5L681.1 202L663.5 186.6z"/>
<path fill="#28e8c5" d="M686.5 197.9L704.5 213.4L698.4 217L680.4 201.4z"/>
<path fill="#1ae8d3" d="M703.8 212.8L740.2 244.4L734.1 248.2L697.7 216.4z"/>
<path fill="#28e8c5" d="M739.5 243.7L749.4 252.3L743.2 256.2L733.4 247.5z"/>
<path fill="#36e8b6" d="M748.6 251.7L758.6 260.3L752.5 264.2L742.5 255.5z"/>
<path fill="#45e8a8" d="M757.9 259.7L763.3 264.4L757.2 268.3L751.8 263.6z"/>
<path fill="#53e89a" d="M762.6 263.7L768 268.4L761.9 272.4L756.4 267.7z"/>
<path fill="#61e88c" d="M767.2 267.8L772.7 272.5L766.6 276.5L761.1 271.8z"/>
<path fill="#6fe87e" d="M772 271.9L777.4 276.6L771.3 280.7L765.8 275.9z"/>
<path fill="#7ee86f" d="M776.7 276L782.2 280.8L776.1 284.8L770.6 280z"/>
<path fill="#9ae853" d="M781.5 280.1L791.8 289.1L785.7 293.2L775.4 284.2z"/>
<path fill="#a8e845" d="M791.1 288.5L806.5 301.8L800.4 306L785 292.6z"/>
<path fill="#8ce861" d="M805.7 301.1L811.4 306.1L805.3 310.3L799.6 305.3z"/>
<path fill="#6fe87e" d="M810.6 305.4L816.4 310.4L810.3 314.6L804.5 309.6z"/>
<path fill="#1ae8d3" d="M615.7 143.6L669.3 190.3L663.1 193.8L609.5 146.8z"/>
<path fill="#28e8c5" d="M668.6 189.7L682 201.4L675.8 204.9L662.4 193.2z"/>
<path fill="#1ae8d3" d="M681.4 200.8L744.2 255.6L738 259.4L675.2 204.4z"/>
<path fill="#28e8c5" d="M743.5 254.9L753.4 263.6L747.3 267.6L737.3 258.8z"/>
<path fill="#36e8b6" d="M752.7 263L762.8 271.8L756.7 275.8L746.6 266.9z"/>
<path fill="#45e8a8" d="M762.1 271.1L767.5 275.9L761.4 279.9L755.9 275.1z"/>
<path fill="#53e89a" d="M766.8 275.3L777.1 284.2L770.9 288.3L760.6 279.3z"/>
<path fill="#61e88c" d="M776.3 283.5L781.9 288.4L775.7 292.5L770.2 287.6z"/>
<path fill="#6fe87e" d="M781.1 287.7L786.7 292.6L780.5 296.7L775 291.8z"/>
<path fill="#7ee86f" d="M785.9 291.9L796.4 301.1L790.3 305.3L779.8 296.1z"/>
<path fill="#6fe87e" d="M795.7 300.4L806.3 309.6L800.1 313.9L789.5 304.6z"/>
<path fill="#53e89a" d="M805.5 309L811.2 314L805.1 318.2L799.4 313.2z"/>
<path fill="#0ce8e1" d="M610.5 146.3L631 164.3L624.8 167.6L604.2 149.5z"/>
<path fill="#1ae8d3" d="M630.4 163.8L707.3 231.1L701.1 234.8L624.2 167.1z"/>
<path fill="#0ce8e1" d="M706.6 230.5L725.3 246.8L719 250.7L700.4 234.2z"/>
<path fill="#1ae8d3" d="M724.5 246.2L752.9 271.1L746.7 275L718.3 250z"/>
<path fill="#28e8c5" d="M752.2 270.4L762.3 279.3L756.1 283.4L746 274.4z"/>
<path fill="#36e8b6" d="M761.6 278.7L771.9 287.6L765.7 291.8L755.4 282.7z"/>
<path fill="#45e8a8" d="M771.1 287L781.5 296.1L775.3 300.2L764.9 291.1z"/>
<path fill="#53e89a" d="M780.7 295.4L796.1 308.9L790 313.2L774.6 299.6z"/>
<path fill="#45e8a8" d="M795.4 308.2L801.1 313.2L794.9 317.5L789.2 312.5z"/>
<path fill="#36e8b6" d="M800.3 312.6L806.1 317.6L799.9 321.9L794.1 316.8z"/>
<path fill="#0ce8e1" d="M605.2 149L654.6 192.5L648.3 196L598.9 152.2z"/>
<path fill="#1ae8d3" d="M653.9 191.9L680.1 215L673.9 218.6L647.7 195.4z"/>
<path fill="#0ce8e1" d="M679.5 214.4L733.7 262.1L727.5 266.1L673.2 218z"/>
<path fill="#1ae8d3" d="M733 261.5L757.1 282.7L750.9 286.8L726.7 265.4z"/>
<path fill="#28e8c5" d="M756.4 282.1L776.3 299.6L770 303.8L750.1 286.1z"/>
<path fill="#36e8b6" d="M775.5 298.9L790.9 312.5L784.7 316.8L769.3 303.1z"/>
<path fill="#28e8c5" d="M790.2 311.8L800.8 321.2L794.6 325.6L783.9 316.1z"/>
</g></g>
<g fill="none" stroke="#a9a9a9" stroke-width="0.8">
<path d="M210.4 101.7L367.1 28.1L773.7 322.8M210.4 101.7L230.2 169.5M367.1 28.1L376 94.5M773.7 322.8L755.4 381.5"/>
<path d="M11.7 252.6L169.5 179.3L350.4 310.4M11.7 252.6L32.5 320M169.5 179.3L178 245M350.4 310.4L349.3 373.5"/>
<path d="M597.9 86.9L755 13.6L937.4 144.8M597.9 86.9L618.7 155.5M755 13.6L764 80M937.4 144.8L935.2 210"/>
</g>
<g id="structs">
<g fill="#bcbcb9" fill-opacity="0.48" stroke="#50504a" stroke-opacity="0.32" stroke-width="0.8" stroke-linejoin="round">
<path d="M639.6 108L641.1 108L643.1 108L645.1 108.1L646.9 108.4L648 108.8L648.7 109.8L649.5 111.6L650.5 114.1L651.8 116.8L653.9 119.2L656.3 121L658.8 122.2L661.5 123.1L664 123.7L666.6 124L669.3 123.8L671.7 123L673.8 122.2L675.5 121.4L676.6 120.9L677.5 120.3L678 119.4L677.9 118.4L677.3 117.5L676.4 117L675.4 117.1L674.1 117.4L672.4 117.8L670.5 118.2L668.7 118.3L667.4 118L666 117.4L664.4 116.4L662.8 115.2L661.3 113.9L660.1 112.8L659.1 111.6L657.8 109.9L656.2 107.7L654.4 105.3L652 103.2L649.2 101.7L646.3 101L643.8 100.5L641.7 100.2L640.4 100L638.4 100.4L636.8 101.7L636 103.6L636.4 105.6L637.7 107.2z"/>
<path d="M675 116.7L676.4 117.5L678.4 118.6L680.6 119.9L682.7 121L684 121.7L685 122L686 121.7L686.7 121L687 120L686.7 119L686 118.3L684.6 117.5L682.6 116.4L680.4 115.1L678.3 114L677 113.3L676 113L675 113.3L674.3 114L674 115L674.3 116z"/>
<path d="M725 100.8L724.7 101.5L724.2 102.4L723.7 103.4L723.2 104.5L722.8 105.5L722.5 106.6L722.2 107.8L722.1 109L721.9 110.1L721.8 111.2L721.8 112.2L721.9 113.4L722 114.6L722.1 115.6L722.1 116.4L722 117.4L722.5 118.3L723.4 118.9L724.4 119L725.3 118.5L725.9 117.6L726.4 117L727 116.2L727.8 115.2L728.6 114.1L729.2 112.8L729.6 111.6L729.9 110.3L730.1 109L730.2 107.7L730.2 106.5L730.1 105.2L729.8 104L729.5 102.8L729.2 101.9L729 101.2L728.8 100.2L728.2 99.4L727.2 99L726.2 99.2L725.4 99.8z"/>
<path d="M745 93.9L744.9 94.7L744.8 95.8L744.7 97L744.6 98.1L744.5 98.9L744.6 99.4L744.9 99.8L745.4 100L745.9 99.9L746.3 99.6L746.5 99.1L746.6 98.3L746.7 97.2L746.8 96L746.9 94.9L747 94.1L746.9 93.6L746.6 93.2L746.1 93L745.6 93.1L745.2 93.4z"/>
<path d="M700.8 85.3L701.8 85L703.4 84.5L705.2 83.9L707 83.3L708.4 82.6L709.7 81.8L710.9 80.9L712 79.9L713 79L713.7 78.3L714.2 77.8L714.5 77.1L714.3 76.3L713.8 75.8L713.1 75.5L712.3 75.7L711.4 75.8L710.1 76L708.6 76.3L707.1 76.7L705.6 77.4L704.1 78.3L702.7 79.5L701.3 80.8L700.1 81.9L699.2 82.7L698.7 83.3L698.5 84L698.7 84.8L699.3 85.3L700 85.5z"/>
<path d="M706.9 83.6L708 81.3L709.6 78.1L711.4 74.5L713.3 71L715 68.1L716.7 65.5L718.5 63L720.3 60.5L722.2 58.3L724 56.3L725.8 54.7L727.7 53.2L729.5 51.9L731.4 50.8L733 49.8L734.6 49.1L736.3 48.5L738.1 48.1L739.7 47.8L741 47.5L741.7 47.3L742.3 46.8L742.5 46L742.3 45.3L741.8 44.7L741 44.5L739.9 44.2L738.2 43.7L736.1 43.2L733.6 42.9L731 43.2L728.4 43.8L725.8 44.8L723.2 46.1L720.5 47.7L718 49.7L715.5 52L713.1 54.5L710.8 57.4L708.8 60.5L707 63.9L705.6 67.9L704.7 72.2L704 76.4L703.5 79.9L703.1 82.4L703 83.4L703.5 84.3L704.4 84.9L705.4 85L706.3 84.5z"/>
<path d="M725 71.1L725.8 72.2L726.9 73.7L728.2 75.4L729.7 77.1L731.3 78.4L733 79.4L734.9 80.2L736.7 80.7L738.2 81L739.3 81.3L740 81.5L740.8 81.3L741.3 80.7L741.5 80L741.3 79.2L740.7 78.7L739.9 77.9L738.7 76.9L737.4 75.7L736 74.6L734.7 73.6L733.3 72.6L731.5 71.5L729.7 70.5L728.1 69.5L727 68.9L726.3 68.5L725.5 68.6L724.9 69L724.5 69.7L724.6 70.5z"/>
<path d="M746.8 46.3L748.8 45.4L751.6 44.2L754.9 42.7L758.2 41L761.2 39.2L763.9 37.1L766.4 34.9L768.5 32.7L770.1 31.2L770.6 30.7L769.1 30.5L768.5 29.7L769.2 30L770 30.8L770.7 31.5L771.5 32.2L772.4 32.5L773.5 32.3L774.2 31.5L774.5 30.6L774.3 29.5L774.2 28.8L774.1 27.5L773.6 25.5L771.3 23.4L767.4 23.3L764.8 25L762.7 27.1L760.7 29.4L758.7 31.8L756.8 33.8L754.6 35.8L751.9 38.1L749.2 40.4L746.9 42.3L745.2 43.7L744.7 44.3L744.5 45.1L744.7 45.8L745.3 46.3L746.1 46.5z"/>
<path d="M761.5 61.9L762.5 62.6L763.9 63.8L765.6 65.1L767.3 66.4L768.9 67.6L770.4 68.8L772 70.1L773.7 71.4L775.3 72.6L776.8 73.6L778.4 74.5L779.9 75.3L781.4 75.9L782.6 76.5L783.5 76.8L783.9 77L784.5 76.9L784.8 76.5L785 76.1L784.9 75.5L784.5 75.2L783.8 74.5L782.9 73.6L781.7 72.6L780.5 71.5L779.2 70.4L777.8 69.3L776.2 68L774.6 66.7L772.9 65.5L771.1 64.4L769.3 63.3L767.3 62.3L765.3 61.4L763.7 60.7L762.5 60.1L762 60L761.5 60.1L761.1 60.5L761 61L761.1 61.5z"/>
<path d="M647.2 129.3L648 130.2L649.2 131.5L650.4 132.9L651.5 134.3L652.4 135.4L653.4 136.5L654.8 138L656.1 139.5L657.4 141L658.3 142L659 142.7L660 143L661 142.7L661.7 142L662 141L661.7 140L661.3 138.8L660.8 136.9L660 134.8L659 132.6L657.6 130.6L655.7 129.2L653.6 128.2L651.6 127.5L650 127.1L648.8 126.7L648.1 126.5L647.3 126.7L646.7 127.2L646.5 127.9L646.7 128.7z"/>
<path d="M764.4 106.4L766.3 107.3L769.1 108.6L772.2 110.1L775.5 111.6L778.6 112.8L781.6 113.8L784.7 114.8L787.7 115.6L790.6 116.4L793.2 117.1L795.8 117.9L798.5 118.7L801.1 119.5L803.4 120.2L805 120.7L806 121L807 120.7L807.7 120L808 119L807.7 118L807 117.3L805.8 116.1L804.1 114.5L801.9 112.5L799.5 110.6L796.8 108.9L793.9 107.4L790.9 106.2L787.7 105L784.6 104L781.4 103.2L778 102.6L774.3 102.2L770.8 101.9L767.8 101.7L765.6 101.6L764.3 101.6L763.2 102.2L762.6 103.4L762.6 104.7L763.2 105.8z"/>
<path d="M797.5 150.3L799.2 151.2L801.6 152.5L804.3 153.9L807.1 155.5L809.7 156.8L812.1 158.2L814.7 159.7L817.2 161.2L819.3 162.5L820.8 163.4L822.8 164L824.8 163.6L826.4 162.2L827 160.2L826.6 158.2L825.2 156.6L823.7 155.6L821.7 154.2L819.3 152.5L816.8 150.8L814.3 149.2L811.8 147.5L809.1 145.8L806.4 144.1L804.1 142.7L802.5 141.7L800 141L797.5 141.7L795.7 143.5L795 146L795.7 148.5z"/>
<path d="M832.4 167.9L834.6 169.2L837.5 171L841.1 173L844.8 175.1L848.3 176.8L851.8 178.2L855.4 179.4L859 180.5L862.6 181.5L866.3 182.3L870.3 182.9L874.7 183.3L878.9 183.5L882.6 183.7L885.2 183.9L886.7 183.9L888.1 183.1L888.9 181.8L888.9 180.3L888.1 178.9L886.8 178.1L884.5 176.9L881.3 175.2L877.5 173.2L873.5 171.3L869.7 169.7L866.2 168.5L862.5 167.5L858.9 166.6L855.3 165.8L851.7 165.2L847.8 164.8L843.6 164.5L839.5 164.3L836 164.2L833.6 164.1L832.5 164.1L831.6 164.5L831.1 165.4L831.1 166.5L831.5 167.4z"/>
<path d="M854 161.5L855.1 163.5L856.6 166.5L858.5 169.9L860.4 173.4L862.3 176.6L864.2 179.5L866.2 182.4L868.2 185.3L870.3 188.1L872.4 190.7L874.6 193.2L877.1 195.8L879.5 198.1L881.6 200.1L883 201.5L884 202.3L885.3 202.5L886.5 202L887.3 201L887.5 199.7L887 198.5L886 196.7L884.7 194.2L883.1 191.3L881.4 188.2L879.6 185.3L877.8 182.6L875.9 179.8L873.9 177L871.8 174.1L869.7 171.4L867.3 168.5L864.6 165.5L861.9 162.7L859.6 160.3L858 158.5L857 157.7L855.8 157.5L854.5 158L853.7 159L853.5 160.2z"/>
<path d="M792.2 207.5L794.7 207.3L798.2 207.2L802.3 206.9L806.6 206.5L810.7 205.9L814.6 205.1L818.5 204.1L822.4 203L826.1 201.6L829.5 200.2L832.5 198.5L835.2 196.7L837.7 194.8L839.8 192.8L841.8 190.8L843.5 188.5L844.8 186.1L845.9 183.9L846.7 182L847.3 180.8L847.5 180L847.3 179.3L846.8 178.7L846 178.5L845.3 178.7L844.7 179.2L843.9 180.4L842.7 182.1L841.4 183.9L839.9 185.7L838.2 187.2L836.3 188.6L834.2 190L831.8 191.3L829.3 192.6L826.5 193.8L823.5 195.1L820.1 196.4L816.5 197.7L812.8 199L809.3 200.1L805.6 201.1L801.6 202.2L797.6 203.1L794.2 203.9L791.8 204.5L791.1 204.8L790.6 205.4L790.5 206.2L790.8 206.9L791.4 207.4z"/>
<path d="M848.5 133L848.5 131.2L848.4 128.7L848.5 126L848.7 123.7L849.2 122.2L850 121.2L851.4 120.1L853 119.2L854.6 118.7L856 118.5L857.4 118.7L859.2 119.3L860.9 120.3L862.2 121.3L862.7 122L862.8 122.8L862.6 124.4L862.1 126.2L861.2 127.9L860.3 129.2L858.8 130.2L856.4 131.3L853.6 132.2L851 133L849.2 133.6L848.1 134.3L847.5 135.5L847.6 136.8L848.3 137.9L849.5 138.5L850.8 138.4L852.5 137.8L855.1 137L858.2 135.9L861.2 134.6L863.7 132.8L865.5 130.6L866.7 128L867.5 125.4L867.8 122.7L867.3 120L865.8 117.8L863.6 116.1L861.2 114.8L858.6 113.9L856 113.5L853.5 113.8L851 114.7L848.7 115.9L846.5 117.6L844.8 119.8L843.8 122.6L843.5 125.7L843.4 128.7L843.5 131.3L843.5 133L843.8 134.2L844.7 135.2L846 135.5L847.2 135.2L848.2 134.3z"/>
<path d="M837.8 160.4L839.8 159.2L842.4 157.4L845.2 155.7L847.9 154.7L849.9 154.5L852.6 155.4L856.5 157.3L861.2 159.9L866.2 162.2L871.5 163.5L876.5 162.9L880.4 161L883.3 158.9L885.6 157L887.7 155.6L890.1 154.7L892.6 154L895.2 153.4L897.8 152.6L900.2 151.5L902.6 149.9L904.9 148.1L906.8 146.2L908.4 144.6L909.6 143.5L910.7 142.4L911 140.9L910.5 139.4L909.4 138.3L907.9 138L906.4 138.5L904.9 139L902.8 139.8L900.4 140.7L897.9 141.6L895.8 142.5L893.8 143.5L891.7 144.7L889.4 145.9L887 147.2L884.3 148.4L881.3 149.8L878.5 151.1L876.1 152.1L874.2 152.5L872.5 152.5L869.8 151.9L865.6 150.2L860.7 148.1L855.5 146.2L850.1 145.5L845.1 146.7L841.1 149.2L838 151.8L835.8 154.2L834.2 155.6L833.2 156.8L833 158.4L833.6 159.8L834.8 160.8L836.4 161z"/>
<path d="M895.4 179.9L896.6 178.4L898.3 176.3L900.3 174.1L902.2 172.2L903.9 171L905.6 170.2L907.6 169.5L909.6 169.1L911.5 169.1L912.9 169.3L914.3 170L915.8 171.2L917.4 172.7L918.7 174.6L919.8 176.4L920.5 178.6L921.1 181.7L921.5 185L921.8 188.1L922 190.2L922.5 191.7L923.7 192.7L925.2 193L926.7 192.5L927.7 191.3L928 189.8L927.9 187.7L927.9 184.6L927.7 180.9L927.2 177.1L926.2 173.6L924.7 170.7L922.7 168.1L920.5 165.9L917.9 164L915.1 162.7L912 162.1L908.9 162.1L905.8 162.7L902.9 163.6L900.1 165L897.5 167.1L895.2 169.7L893.3 172.4L891.7 174.6L890.6 176.1L890 177.6L890.2 179.1L891.1 180.4L892.6 181L894.1 180.8z"/>
<path d="M917.6 201.5L918.7 202L920.2 202.7L921.9 203.6L923.6 204.3L925.2 204.9L926.8 205.2L928.5 205.3L930.2 205.4L931.6 205.4L932.6 205.4L933.4 205.5L934 205.1L934.4 204.4L934.5 203.6L934.1 203L933.4 202.6L932.6 202L931.3 201.3L929.9 200.5L928.3 199.7L926.8 199.1L925 198.8L923.1 198.6L921.2 198.6L919.5 198.6L918.4 198.5L917.6 198.6L916.9 199L916.5 199.6L916.6 200.4L917 201.1z"/>
<path d="M903.2 196.9L903.4 198L903.6 199.6L903.9 201.2L904 202.6L904 203.5L904.2 204.5L904.5 206L904.7 207.8L904.9 209.4L905 210.6L905.1 211.7L905.7 212.5L906.6 213L907.7 212.9L908.5 212.3L909 211.4L909.5 210.3L910.3 208.9L911.2 207L911.9 204.8L912 202.5L911.2 200.2L910 198.4L908.7 196.9L907.5 195.9L906.8 195.1L906.1 194.3L905.1 194L904.1 194.2L903.3 194.9L903 195.9z"/>
<path d="M707.3 167.8L708.8 169.8L710.9 172.7L713.4 176.1L716.1 179.3L719 182L722 183.9L725.3 185.3L728.3 186.4L730.8 187.1L732.6 187.6L734.1 188L735.6 187.6L736.6 186.4L737 184.9L736.6 183.4L735.4 182.4L733.9 181.2L731.9 179.5L729.6 177.6L727.3 175.7L725 174L722.4 172.1L719.1 169.9L715.8 167.6L712.8 165.6L710.7 164.2L709.6 163.6L708.3 163.6L707.2 164.3L706.6 165.4L706.6 166.7z"/>
<path d="M740 170.2L741 171.8L742.4 174.3L744.4 177.1L746.9 179.9L750.8 181.9L755.3 181.6L758.5 180L760.7 178L762.2 176.4L763.1 175.4L764.5 173.9L765 171.9L764.4 169.9L762.9 168.5L760.9 168L758.9 168.6L757.4 169.1L755.5 169.8L753.7 170.2L752.7 170.2L753.2 170.1L752.9 170.2L750.8 169.4L748.2 168.1L745.8 166.8L744 165.8L742.7 165.1L741.1 165.1L739.8 166L739.1 167.3L739.1 168.9z"/>
<path d="M728.5 193.3L729.5 195.2L731 198L732.8 201.1L734.7 204.2L736.5 206.8L738.5 209L740.7 211.1L742.8 212.9L744.7 214.4L746 215.6L747.1 216.3L748.4 216.5L749.6 216L750.3 214.9L750.5 213.6L750 212.4L749.2 210.9L748.1 208.7L746.8 206.2L745.2 203.6L743.5 201.2L741.2 198.8L738.5 196.4L735.7 194.1L733.2 192.1L731.5 190.7L730.7 190.1L729.7 190L728.7 190.5L728.1 191.3L728 192.3z"/>
<path d="M748.4 185.6L748.8 187.9L749.4 191.1L750.2 194.8L751.3 198.7L752.8 202.3L755 205.6L757.7 208.9L760.5 211.9L762.9 214.3L764.6 216.1L766.1 217.5L768.1 218L770.1 217.4L771.5 215.9L772 213.9L771.4 211.9L770.6 209.6L769.4 206.3L768.1 202.6L766.6 198.9L765.2 195.7L763.4 192.8L761.2 189.7L759 186.8L757 184.2L755.6 182.4L754.3 180.8L752.4 180L750.4 180.4L748.8 181.7L748 183.6z"/>
<path d="M762.7 228.8L763.8 231.2L765.3 234.7L767 238.6L768.9 242.6L770.6 246.1L772.2 249L773.9 251.6L775.6 254.2L777.3 256.8L778.9 259.6L780.4 262.8L781.7 266.1L783 269.5L784.4 272.9L786 276L787.8 279L790 282L792.1 284.8L793.9 287.2L795.2 288.9L795.9 289.7L796.9 290L797.9 289.8L798.7 289.1L799 288.1L798.8 287.1L798.2 285.1L797.4 282.2L796.5 278.8L795.3 275.3L794 272L792.5 268.9L790.7 265.8L788.8 262.6L786.9 259.4L785.1 256.4L783.5 253.4L782.1 250.5L780.8 247.7L779.2 244.8L777.4 241.9L775.1 238.8L772.3 235.3L769.5 232L767 229.2L765.3 227.2L764.7 226.7L763.9 226.5L763.2 226.7L762.7 227.3L762.5 228.1z"/>
<path d="M727.5 194.6L726.3 194.8L724.6 195L722.6 195.3L720.6 195.7L718.8 196.2L717.3 197.1L716 198.1L714.9 199.1L714 200L713.3 200.7L712.7 201.2L712.5 201.9L712.7 202.7L713.2 203.3L713.9 203.5L714.7 203.3L715.6 203.1L716.9 202.9L718.3 202.6L719.8 202.2L721.2 201.8L722.6 201L724.3 200L726 199L727.5 198.1L728.5 197.4L729.1 197L729.5 196.3L729.4 195.5L729 194.9L728.3 194.5z"/>
<path d="M639.2 147.2L639.8 148L640.8 149.1L641.9 150.4L643.2 151.6L644.5 152.6L646 153.2L647.6 153.7L649.1 154L650.4 154.2L651.4 154.4L652.1 154.5L652.8 154.2L653.4 153.6L653.5 152.9L653.2 152.2L652.6 151.6L651.9 151L651 150.1L649.8 149.1L648.6 148.2L647.5 147.4L646.2 146.8L644.7 146.2L643.2 145.6L641.8 145.1L640.8 144.8L640.1 144.5L639.4 144.6L638.8 145.2L638.5 145.9L638.6 146.6z"/>
<path d="M686.1 127.3L685.2 128.9L683.8 131.3L682.2 134.3L680.9 137.6L680.5 141.3L681.4 144.8L683.1 148L685 150.7L686.8 152.8L687.9 154.3L688.8 155.2L690 155.5L691.3 155.1L692.2 154.2L692.5 153L692.1 151.7L691.3 150L690.1 147.6L688.8 144.9L687.9 142.5L687.5 140.7L687.5 138.9L687.9 136.2L688.6 133.3L689.4 130.6L689.9 128.7L690 127.7L689.6 126.8L688.7 126.1L687.7 126L686.8 126.4z"/>
<path d="M672.5 137.5L673 138.4L673.7 139.6L674.5 141L675.4 142.4L676.4 143.6L677.6 144.6L679 145.5L680.4 146.3L681.6 147L682.5 147.5L684.7 148.8L687.3 148.8L689.5 147.5L690.8 145.3L690.8 142.7L689.5 140.5L689 139.6L688.3 138.4L687.5 137L686.6 135.6L685.6 134.4L684.4 133.4L683 132.5L681.6 131.7L680.4 131L679.5 130.5L677.3 129.2L674.7 129.2L672.5 130.5L671.2 132.7L671.2 135.3z"/>
<path d="M723.2 208.3L724.1 209L725.3 210.1L726.8 211.3L728.4 212.4L730 213.3L731.8 213.8L733.6 214.2L735.2 214.3L736.7 214.4L737.6 214.5L738.4 214.4L739.1 214L739.5 213.4L739.4 212.6L739 211.9L738.4 211.5L737.4 211.1L736.2 210.6L734.7 209.9L733.3 209.3L732 208.7L730.6 208.1L729 207.5L727.3 206.8L725.8 206.2L724.8 205.7L724 205.5L723.3 205.7L722.7 206.2L722.5 207L722.7 207.7z"/>
<path d="M733.7 225.5L734.8 226.9L736.2 228.8L737.8 231L739.3 233.1L740.5 234.8L741.8 236.5L743.4 238.6L745.1 240.7L746.7 242.7L747.8 244.1L748.6 245.1L749.8 245.5L751.1 245.2L752.1 244.4L752.5 243.2L752.2 241.9L751.8 240.2L751.2 237.8L750.4 234.9L749.2 231.9L747.5 229.2L745.2 227.1L742.6 225.4L740 224.1L737.8 223.2L736.3 222.5L735.3 222L734.3 222.1L733.5 222.7L733 223.7L733.1 224.7z"/>
<path d="M811.3 275.3L812 275.9L813 276.8L814.3 277.8L815.7 278.7L817.2 279.4L818.8 279.7L820.4 279.8L821.8 279.7L823 279.6L823.8 279.5L824.6 279.4L825.2 278.9L825.5 278.2L825.4 277.4L824.9 276.8L824.2 276.5L823.4 276.2L822.3 275.9L821 275.4L819.8 275L818.8 274.6L817.7 274.3L816.3 273.8L814.9 273.4L813.6 273L812.7 272.7L812 272.5L811.2 272.7L810.7 273.3L810.5 274L810.7 274.8z"/>
<path d="M698.5 104.6L701.1 106.7L704.8 109.8L709.2 113.3L714.1 116.8L719.2 119.9L724.4 122.5L730 125L736 127.3L742.2 129.3L748.6 130.8L755.6 131.7L762.8 131.9L769.8 131.8L775.7 131.6L779.8 131.5L781.5 131.1L782.9 130L783.5 128.2L783.1 126.5L782 125.1L780.2 124.5L776.1 123.9L770.3 123L763.7 121.9L757.2 120.6L751.4 119.2L746.1 117.3L740.7 115.1L735.3 112.7L730 110.3L724.8 108.1L719.6 106.1L714.2 104.1L709.1 102.2L704.7 100.6L701.5 99.4L700 99L698.5 99.4L697.4 100.5L697 102L697.4 103.5z"/>
<path d="M88.6 290.6L88.7 292.3L88.7 294.8L88.9 297.9L89.7 301.4L91.5 304.8L94.1 307.5L97.1 309.5L100.1 311.1L103 312.6L105.8 314.3L108.7 316.2L111.8 318L114.7 319.8L117.1 321.7L119.1 323.9L120.8 326.8L122.4 330.3L123.8 334.2L124.8 338.2L125.5 342.1L125.7 346.3L125.5 351L124.9 355.8L124.4 359.9L124 362.8L124.1 363.3L124.3 363.8L124.8 364L125.3 363.9L125.8 363.7L126 363.2L126.7 360.4L127.9 356.4L129.1 351.6L130.1 346.6L130.5 341.9L130.2 337.4L129.5 332.8L128.4 328.3L126.9 324L124.9 320.1L122.3 316.6L119.2 313.9L116 311.6L113 309.6L110.2 307.7L107.4 305.6L104.5 303.7L101.9 302L99.9 300.4L98.5 299.2L97.4 297.8L96.2 295.7L95.1 293.4L94.1 291.1L93.4 289.4L92.8 288.3L91.7 287.6L90.4 287.6L89.3 288.2L88.6 289.3z"/>
<path d="M148 283.4L147.8 285.3L147.5 287.9L147.2 290.9L147 294.3L147.2 297.6L147.7 300.7L148.5 304L149.5 307.4L150.7 310.9L151.9 314.3L153.3 317.8L154.8 321.2L156.4 324.6L158 327.6L159.5 330.4L161.1 333L162.9 335.5L164.7 337.8L166.2 339.7L167.2 341.1L168.2 342.4L169.6 343L171.1 342.8L172.4 341.8L173 340.4L172.8 338.9L172.5 337.1L172.2 334.7L171.8 331.8L171.3 328.7L170.5 325.6L169.4 322.5L168.1 319.2L166.7 316L165.3 312.8L164.1 309.7L163 306.6L162 303.5L161 300.3L159.9 297.3L158.8 294.4L157.4 291.7L155.9 289L154.3 286.4L152.9 284.2L152 282.6L151.5 281.7L150.6 281.1L149.6 281L148.7 281.5L148.1 282.4z"/>
<path d="M130.3 305.4L134.1 306.9L139.4 308.9L145.5 311.2L152 313.6L158.2 315.8L164.4 317.8L170.8 319.7L177.2 321.6L183.5 323.4L189.3 325.1L194.8 326.7L200.1 328.3L205.3 329.8L210.3 331.2L215.2 332.5L220 333.7L224.9 334.8L229.5 335.7L233.5 336.6L236.3 337.2L238.6 337.5L240.8 336.6L242.2 334.7L242.5 332.4L241.6 330.2L239.7 328.8L237.3 327.3L233.9 325.1L229.8 322.6L225.4 319.9L220.8 317.5L216.2 315.3L211.3 313.1L206.1 310.9L200.6 308.8L194.7 306.9L188.4 305.2L181.8 303.7L175 302.3L168.2 301.1L161.8 300.2L155.1 299.5L148 299.1L141.4 298.9L135.7 298.7L131.7 298.6L129.9 298.7L128.4 299.7L127.6 301.3L127.7 303.1L128.7 304.6z"/>
<path d="M148.5 336.3L150 338.6L152 341.8L154.5 345.5L157 349.3L159.5 352.8L162 356.2L164.8 359.5L167.6 362.9L170.3 366.2L172.7 369.3L175 372.4L177.1 375.4L179.1 378.4L181.1 381.2L183.1 383.9L185.2 386.5L187.5 389.1L189.6 391.4L191.4 393.4L192.8 394.8L193.3 395.3L194.1 395.5L194.8 395.2L195.3 394.7L195.5 393.9L195.2 393.2L194.4 391.4L193.3 389L192 386.1L190.5 383L188.9 380.1L187.3 377.2L185.5 374.2L183.5 371.1L181.5 368L179.3 364.7L176.9 361.2L174.5 357.6L171.9 354L169.2 350.5L166.5 347.2L163.4 343.9L159.9 340.8L156.5 337.9L153.6 335.4L151.5 333.7L150.6 333.1L149.6 333L148.7 333.5L148.1 334.4L148 335.4z"/>
<path d="M40.5 319.9L42.7 321.4L45.8 323.6L49.4 326.1L53.2 328.6L56.8 330.7L60.1 332.5L63.4 334.2L66.6 335.7L69.6 337L72.4 338.2L75.1 339.2L77.7 340L80.1 340.7L82.4 341.3L84.5 342.2L86.5 343.2L88.5 344.4L90.3 345.6L91.9 346.7L93 347.5L95 348L97 347.5L98.5 346L99 344L98.5 342L97 340.5L95.8 339.9L94.1 339.1L92 338.1L89.8 337L87.5 335.8L85.3 334.7L83.1 333.4L80.8 332.2L78.3 330.9L75.6 329.8L72.6 328.8L69.3 327.9L65.9 327.1L62.6 326.3L59.2 325.3L55.6 323.9L51.5 322.3L47.4 320.6L43.9 319.2L41.5 318.1L41 318L40.5 318.1L40.1 318.5L40 319L40.1 319.5z"/>
<path d="M92.8 278.5L94.2 278.9L96 279.4L98.2 280L100.5 280.6L102.7 281L104.9 281.2L107.2 281.3L109.5 281.3L111.6 281.4L113.6 281.5L115.6 281.6L117.7 281.9L119.7 282.1L121.4 282.3L122.6 282.5L123.4 282.4L124.1 282L124.5 281.4L124.4 280.6L124 279.9L123.4 279.5L122.2 279.1L120.6 278.5L118.6 277.8L116.5 277.1L114.4 276.5L112.2 276.1L109.9 275.7L107.6 275.4L105.4 275.2L103.3 275L101.1 275L98.7 275.1L96.4 275.3L94.5 275.4L93.2 275.5L92.4 275.6L91.8 276.1L91.5 276.8L91.6 277.6L92.1 278.2z"/>
<path d="M147.7 244.3L147.8 244.3L147.9 244.4L148 244.5L148.2 244.5L148.2 244.6L149 244.8L149.7 244.6L150.3 244.1L150.5 243.3L150.3 242.6L149.8 242L149.7 242L149.6 241.9L149.5 241.8L149.3 241.8L149.3 241.7L148.5 241.5L147.8 241.7L147.2 242.2L147 243L147.2 243.7z"/>
<path d="M177.7 249.7L179.8 250.9L182.8 252.6L186.3 254.5L189.9 256.4L193.1 258.1L196 259.4L198.8 260.6L201.6 261.7L204.4 262.8L207.2 263.8L210.3 264.9L213.7 266.1L216.9 267.1L219.7 268L221.7 268.7L222.1 268.7L222.4 268.6L222.7 268.3L222.7 267.9L222.6 267.6L222.3 267.3L220.5 266.3L217.9 264.9L214.9 263.3L211.7 261.6L208.8 260.2L206.1 258.8L203.4 257.6L200.7 256.3L197.8 255.1L194.9 253.9L191.5 252.7L187.7 251.4L183.9 250.1L180.6 249.1L178.3 248.3L177.9 248.3L177.6 248.4L177.3 248.7L177.3 249.1L177.4 249.4z"/>
<path d="M200.7 240.8L201.6 240.7L203 240.5L204.6 240.3L206.1 240L207.5 239.7L208.6 239.2L209.8 238.7L210.9 238.1L212 237.4L213 236.8L214.2 236.1L215.4 235.3L216.7 234.6L217.7 233.9L218.5 233.4L219.1 233L219.5 232.3L219.4 231.5L219 230.9L218.3 230.5L217.5 230.6L216.7 230.6L215.4 230.7L213.9 230.8L212.4 230.9L211 231.2L209.6 231.5L208.3 231.8L207 232.2L205.8 232.7L204.5 233.3L203.3 234.2L202.1 235.3L200.9 236.5L200 237.5L199.3 238.2L198.7 238.7L198.5 239.4L198.7 240.2L199.2 240.8L199.9 241z"/>
<path d="M185.7 267L186.6 267.5L187.8 268.2L189.3 269.1L190.8 269.8L192.3 270.4L193.9 270.7L195.6 270.9L197.3 270.9L198.7 270.9L199.7 271L200.2 271L200.7 270.7L201 270.3L201 269.8L200.7 269.3L200.3 269L199.4 268.5L198.2 267.8L196.7 266.9L195.2 266.2L193.7 265.6L192.1 265.3L190.4 265.1L188.7 265.1L187.3 265.1L186.3 265L185.8 265L185.3 265.3L185 265.7L185 266.2L185.3 266.7z"/>
<path d="M222.6 288.1L223.6 290.9L225 295L226.8 299.8L229.1 304.8L232 309.3L235.5 313.1L239.3 316.4L243.3 319.2L247 321.7L250.6 324.1L254.2 326.4L258.1 328.5L261.6 330.4L264.6 331.9L266.7 333L269.7 334L272.7 333.3L275 331.3L276 328.3L275.3 325.3L273.3 323L271.3 321.5L268.7 319.4L265.7 317L262.5 314.5L259.4 311.9L256.3 309.3L253 306.5L249.7 303.8L246.7 301.1L244 298.7L241.1 296L237.7 292.7L234.4 289.2L231.5 286.1L229.4 283.9L227.9 282.5L225.9 282L223.9 282.6L222.5 284.1L222 286.1z"/>
<path d="M204.9 330.4L208.4 332.8L213.4 336.3L219.3 340.3L225.5 344.3L231.4 347.9L237.1 350.8L242.8 353.5L248.6 356L254.4 358.4L260.1 360.6L265.9 362.8L271.7 364.9L277.5 366.8L283.1 368.6L288.6 370.3L293.8 371.9L298.8 373.4L303.7 374.8L308.8 376L314.3 376.9L320.5 377.6L327.4 378L334 378.2L339.8 378.4L343.8 378.5L345.1 378.3L346.1 377.4L346.5 376.2L346.3 374.9L345.4 373.9L344.2 373.5L340.2 372.9L334.5 372.2L328 371.2L321.5 370.2L315.7 369.1L310.7 367.8L306 366.5L301.3 365.1L296.5 363.5L291.4 361.7L286 359.9L280.5 357.9L275 355.8L269.4 353.7L263.9 351.4L258.4 348.9L252.9 346.3L247.5 343.6L242 340.9L236.6 338.1L230.7 335.1L224.4 331.8L218.2 328.5L212.9 325.6L209.1 323.6L207.1 323L205.1 323.5L203.6 324.9L203 326.9L203.5 328.9z"/>
<path d="M263.8 331L264.1 331.8L264.6 333L265.1 334.4L265.8 335.8L266.6 336.9L267.5 337.9L268.7 338.9L269.9 339.8L271 340.5L271.8 341L275.1 343.5L279.2 343.9L283 342.2L285.5 338.9L285.9 334.8L284.2 331L283.9 330.2L283.4 329L282.9 327.6L282.2 326.2L281.4 325.1L280.5 324.1L279.3 323.1L278.1 322.2L277 321.5L276.2 321L272.9 318.5L268.8 318.1L265 319.8L262.5 323.1L262.1 327.2z"/>
<path d="M169 318.3L171.6 321.5L175.4 326L179.8 331.2L184.4 336.4L188.8 341L193 344.9L197.3 348.3L201.3 351.3L205.1 354.1L208.5 357.1L212 360.6L215.9 364.8L219.7 369L222.9 372.8L225.3 375.5L227 377L229.3 377.5L231.5 376.7L233 375L233.5 372.7L232.7 370.5L231.2 367.4L229 362.8L226.3 357.5L223.1 352L219.5 346.9L215.7 342.6L211.6 338.8L207.5 335.4L203.4 332.2L199.2 329L194.4 325.3L188.8 321.3L183.3 317.4L178.4 314.1L175 311.7L173 310.6L170.6 310.7L168.7 312L167.6 314L167.7 316.4z"/>
<path d="M175.3 348.4L177.9 349.6L181.7 351.3L186.2 353.2L190.9 354.9L195.5 356L199.8 356.3L203.9 356.2L207.9 355.7L211.6 354.9L215.2 353.8L219 352.3L222.8 350.4L226.2 348.3L229 346.5L230.9 345.3L232 344.5L232.5 343.3L232.3 342.1L231.5 341L230.3 340.5L229.1 340.7L226.7 341.2L223.5 342L219.9 342.8L216.1 343.6L212.8 344.2L209.5 344.7L206.2 345.2L202.9 345.6L199.7 345.9L196.5 346L192.7 345.8L188.2 345.3L183.6 344.7L179.6 344L176.7 343.6L175.4 343.6L174.3 344.2L173.6 345.3L173.6 346.6L174.2 347.7z"/>
<path d="M189.6 326.5L192.3 327.2L196.1 328.1L200.5 329.3L204.9 330.6L208.8 331.8L212.3 333.2L215.9 334.7L219.4 336.2L222.8 337.9L226 339.5L229.2 341.2L232.5 343.1L235.7 345.1L238.5 346.8L240.5 348L241.7 348.5L243 348.3L244 347.5L244.5 346.3L244.3 345L243.5 344L241.8 342.4L239.5 340.2L236.6 337.6L233.4 334.9L230 332.5L226.6 330.6L223 328.7L219.2 327L215.2 325.5L211.2 324.2L206.7 323.2L201.8 322.5L197.2 322.1L193.2 321.8L190.4 321.5L189.1 321.7L188.1 322.4L187.5 323.6L187.7 324.9L188.4 325.9z"/>
<path d="M139.5 327.7L138.8 329.8L137.7 332.8L136.5 336.4L135.5 340.2L135 344L135.1 347.6L135.5 351.1L136.3 354.5L137.2 357.7L138.1 360.8L139.3 364L140.8 367.2L142.3 370.2L143.7 372.8L144.6 374.5L145.1 375.2L145.8 375.5L146.5 375.4L147.2 374.9L147.5 374.2L147.4 373.5L146.9 371.5L146.2 368.8L145.4 365.6L144.6 362.3L143.9 359.2L143.2 356.1L142.5 353L141.8 349.9L141.3 346.9L141 344L141 340.9L141.3 337.3L141.7 333.7L142.2 330.6L142.5 328.3L142.4 327.6L142 326.9L141.3 326.5L140.6 326.6L139.9 327z"/>
<path d="M295.6 382.9L296.3 383.6L297.4 384.8L298.8 386L300.5 387.2L302.4 387.9L304.5 388.1L306.5 387.8L308.4 387.3L310 386.8L311.1 386.5L311.8 386.3L312.3 385.7L312.5 384.9L312.3 384.2L311.7 383.7L310.9 383.5L309.8 383.3L308.2 383L306.5 382.6L304.8 382.3L303.6 382.1L302.4 381.9L300.8 381.7L299.1 381.5L297.5 381.3L296.4 381.1L295.9 381L295.4 381.2L295.1 381.6L295 382.1L295.2 382.6z"/>
<path d="M192.1 451.2L192.6 452L193.2 453.1L194 454.4L194.9 455.6L195.8 456.7L196.6 457.6L197.5 458.6L198.7 459.6L200.1 460.6L202 461.3L204.1 461.3L205.6 460.5L206.6 459.6L207.2 458.9L207.6 458.4L208.2 457.9L208.5 457.2L208.4 456.4L207.9 455.8L207.2 455.5L206.4 455.6L205.7 455.6L204.8 455.5L204.1 455.3L203.8 454.9L204 454.7L204 454.4L203.5 453.9L202.6 453.1L201.5 452.2L200.2 451.3L198.9 450.6L197.5 450.1L196 449.6L194.8 449.1L193.9 448.8L193.2 448.5L192.5 448.6L191.8 449.1L191.5 449.8L191.6 450.5z"/>
<path d="M113.7 392.7L114.4 393.1L115.2 393.6L116.3 394.3L117.4 394.9L118.4 395.4L119.5 395.8L120.8 396.1L122 396.3L123 396.5L123.7 396.7L124.1 396.7L124.5 396.6L124.7 396.3L124.7 395.9L124.6 395.5L124.3 395.3L123.6 394.9L122.8 394.4L121.7 393.7L120.6 393.1L119.6 392.6L118.5 392.2L117.2 391.9L116 391.7L115 391.5L114.3 391.3L113.9 391.3L113.5 391.4L113.3 391.7L113.3 392.1L113.4 392.5z"/>
<path d="M338.1 369.6L339.1 369.3L340.5 368.8L342 368.3L343.5 367.7L344.8 367L345.8 366.2L347 365.1L348 364L349 363L349.6 362.4L350.2 361.8L350.5 361.1L350.4 360.4L349.8 359.8L349.1 359.5L348.4 359.6L347.4 359.7L346 359.8L344.4 360L342.8 360.4L341.2 361L339.9 361.9L338.6 363.2L337.5 364.4L336.5 365.6L335.9 366.4L335.2 367.1L335 368.2L335.4 369.1L336.1 369.8L337.2 370z"/>
<path d="M239.2 341.3L241.5 343L244.8 345.6L248.6 348.5L252.8 351.2L256.8 353.3L260.7 354.5L264.4 355.3L268 355.6L271.5 355.6L275.1 355.5L278.9 355.1L283 354.3L286.8 353.4L290 352.5L292.3 352L293.2 351.6L293.9 350.7L294 349.7L293.6 348.8L292.7 348.1L291.7 348L289.4 348.1L286 348.3L282.2 348.5L278.4 348.6L274.9 348.5L271.7 348.4L268.5 348.2L265.4 347.9L262.3 347.4L259.2 346.7L255.6 345.5L251.4 343.7L247.1 341.7L243.4 340L240.8 338.7L240 338.5L239.3 338.7L238.7 339.2L238.5 340L238.7 340.7z"/>
<path d="M180.3 302L183 301.9L186.9 301.8L191.3 301.8L195.7 301.8L199.7 302L204 302.4L208.9 303L214 303.8L218.4 304.5L221.5 304.9L222.5 304.9L223.4 304.4L223.9 303.5L223.9 302.5L223.4 301.6L222.5 301.1L219.6 300L215.4 298.3L210.5 296.4L205.3 294.9L200.3 294L195.4 294.2L190.5 295L186 296.2L182.3 297.3L179.7 298L178.8 298.4L178.1 299.3L178 300.3L178.4 301.2L179.3 301.9z"/>
<path d="M127.1 353.2L128.6 354.7L130.8 356.6L133.2 359L135.6 361.5L137.7 364L139.6 366.6L141.5 369.7L143.5 373L145.5 376.4L147.4 379.5L149.5 382.5L151.6 385.6L153.7 388.5L155.4 391L156.7 392.7L157.2 393.3L158 393.5L158.7 393.3L159.3 392.8L159.5 392L159.3 391.3L158.5 389.3L157.3 386.5L155.8 383.2L154.3 379.8L152.6 376.5L150.9 373.3L149 369.9L146.9 366.4L144.7 363.1L142.3 360L139.4 357.4L136.3 355.2L133.3 353.3L130.7 351.9L128.9 350.8L128.2 350.5L127.4 350.6L126.8 351.1L126.5 351.8L126.6 352.6z"/>
<path d="M63.5 342.9L64.5 343.6L65.9 344.7L67.6 345.9L69.5 347.1L71.4 347.9L73.4 348.3L75.4 348.3L77.3 348.2L78.8 348.1L79.9 348L80.4 347.9L80.8 347.6L81 347.1L80.9 346.6L80.6 346.2L80.1 346L79 345.7L77.5 345.4L75.8 345L74.1 344.5L72.6 344.1L71 343.6L69.2 342.9L67.3 342.2L65.7 341.6L64.5 341.1L64 341L63.5 341.1L63.1 341.5L63 342L63.1 342.5z"/>
<path d="M411.9 117.9L415.7 119.2L421.2 121.2L427.8 123.5L434.8 125.6L441.6 127L448.1 127.4L454.2 127.1L459.9 126.5L465.3 125.8L470.6 125.5L476.6 125.6L483.1 125.9L489.4 126.3L494.8 126.7L498.7 126.9L499.7 126.8L500.5 126.2L500.9 125.3L500.8 124.3L500.2 123.5L499.3 123.1L495.6 122.1L490.3 120.8L484 119.2L477.5 117.7L471.4 116.5L465.5 115.7L459.7 115.2L454.2 114.7L449.1 114L444.4 113L439.1 111.2L433.2 108.8L427.2 106.2L421.9 103.8L418.1 102.1L413.8 101.6L409.7 103.4L407.1 106.9L406.6 111.2L408.4 115.3z"/>
<path d="M417.2 121.5L418.4 123.3L420.2 125.8L422.2 128.7L424.4 131.8L426.6 134.7L428.9 137.5L431.4 140.7L434.2 143.9L437.1 147.1L440 150.2L443.3 153.2L446.9 156.2L450.4 159.1L453.4 161.4L455.6 163.1L456.9 164.1L458.6 164.2L460.1 163.4L461.1 162.1L461.2 160.4L460.4 158.9L459 156.5L457.1 153.2L454.8 149.4L452.3 145.4L450 141.8L447.7 138.5L445.2 135.1L442.7 131.7L440.1 128.4L437.4 125.3L434.6 122.6L431.7 120L428.9 117.7L426.5 115.8L424.8 114.5L422.5 113L419.8 112.9L417.5 114.2L416 116.5L415.9 119.2z"/>
<path d="M455.3 143.3L457 143.2L459.4 143.1L462.2 142.9L465.1 142.6L467.8 142.2L470.4 141.3L473.3 140.2L476.2 139.1L478.6 138L480.3 137.3L480.9 137L481.2 136.4L481.3 135.7L481 135.1L480.4 134.8L479.7 134.7L477.9 134.8L475.2 134.9L472.2 135.1L469 135.4L466.2 135.8L463.6 136.7L460.9 137.8L458.4 139L456.2 140L454.7 140.7L454.1 141.1L453.7 141.6L453.7 142.3L454.1 142.9L454.6 143.3z"/>
<path d="M480.1 152.4L480.6 154.5L481.4 157.5L482.4 161.1L483.8 164.7L485.5 167.7L487.7 170L490.1 171.7L492.7 172.8L495.5 173.3L498.7 173.2L501.7 171.9L504 170.1L505.8 168.2L507.1 166.6L508 165.6L509 164.3L509.2 162.6L508.6 161L507.3 160L505.6 159.8L504 160.4L502.7 161L501 162L499.1 162.7L497.8 163.1L497.3 162.8L497.2 162.5L496.8 162.1L496.2 161.7L495.4 161L494.5 160.3L493.1 158.9L491.2 156.5L489.1 153.8L487.2 151.3L485.9 149.6L484.8 148.3L483.2 147.8L481.6 148.1L480.3 149.2L479.8 150.8z"/>
<path d="M486.4 146.4L486.3 148.2L486 150.6L485.8 153.5L485.7 156.4L485.9 158.9L486.6 161.2L487.6 163.5L488.7 165.6L489.8 167.3L490.5 168.5L491.1 169.7L492.2 170.5L493.5 170.5L494.7 169.9L495.5 168.8L495.5 167.5L495.7 166.1L496 164.1L496.2 161.8L496.3 159.3L496.1 157.1L495.5 154.7L494.5 152L493.3 149.4L492.3 147.2L491.6 145.6L491 144.4L489.9 143.6L488.6 143.4L487.4 144L486.6 145.1z"/>
<path d="M480.9 182.3L482.8 184L485.5 186.3L488.5 189L491.5 191.7L493.9 194L496 196.2L498.1 198.3L500.1 200.4L501.9 202.5L503.5 204.5L505.1 206.7L506.7 209.3L508.3 212.2L509.7 214.7L510.7 216.6L512.1 218.5L514.3 219.5L516.6 219.3L518.5 217.9L519.5 215.7L519.3 213.4L518.8 211.4L518.2 208.5L517.4 204.9L516.2 201.1L514.5 197.5L512.5 194.4L510.3 191.5L507.8 188.8L505.1 186.3L502.1 184L498.6 181.8L494.6 179.8L490.7 178.1L487.4 176.7L485.1 175.7L483.2 175.1L481.2 175.5L479.7 176.9L479.1 178.8L479.5 180.8z"/>
<path d="M506.3 182.2L509.1 183.2L513 184.7L517.5 186.4L522.2 188.2L526.6 189.7L530.8 190.9L535 191.9L538.9 192.9L542.2 193.8L544.9 195L547.5 196.6L550.5 199.1L553.5 201.9L556.1 204.6L558 206.5L559.6 207.6L561.6 207.9L563.5 207L564.6 205.4L564.9 203.4L564 201.5L562.6 199.4L560.7 196.1L558.1 192.3L555 188.4L551.1 185L546.7 182.7L542.2 181.1L537.8 180L533.5 179.1L529.4 178.3L524.8 177.6L519.8 176.9L514.9 176.5L510.7 176.1L507.7 175.8L506.1 175.9L504.6 176.8L503.8 178.3L503.9 179.9L504.8 181.4z"/>
<path d="M572.2 184.1L571.9 185.8L571.4 188.3L571 191.2L570.5 194.1L570.2 196.7L570 199.1L569.9 201.6L569.9 204.1L569.9 206.8L569.9 209.4L569.9 212.3L570 215.3L570 218.3L570.1 220.8L570.2 222.6L570.7 225.5L572.7 227.8L575.6 228.8L578.5 228.3L580.8 226.3L581.8 223.4L582.2 221.7L582.6 219.2L583.1 216.3L583.7 213.3L584.1 210.6L584.6 208L585 205.5L585.4 202.8L585.7 200.1L585.8 197.3L585.6 194.3L585.2 191.2L584.7 188.2L584.2 185.7L583.8 183.9L583 181L580.9 178.9L577.9 178.2L575 179L572.9 181.1z"/>
<path d="M540.3 212.2L542.2 213.1L544.9 214.4L548.2 215.9L551.6 217.3L555.1 218.4L558.6 219.1L562.1 219.4L565.1 219.6L567.6 219.8L569.7 220.1L572 220.7L575 221.8L578.1 223.2L580.9 224.6L583 225.6L584.6 226.2L586.2 226L587.6 225L588.2 223.4L588 221.8L587 220.4L585.6 218.7L583.7 216.2L581.1 213.2L578 210.3L574.3 207.9L570.3 206.5L566.4 205.9L562.9 205.7L559.7 205.6L556.9 205.6L553.8 205.5L550.3 205.6L546.8 205.7L543.8 205.8L541.7 205.8L540 205.9L538.6 206.8L537.8 208.3L537.9 210L538.8 211.4z"/>
<path d="M570.3 229.9L571.2 231.3L572.4 233.4L574 235.7L575.7 238L577.7 240L580 241.6L582.7 243L585.4 244.3L587.7 245.3L589.4 246L590.6 246.6L592 246.4L593 245.6L593.6 244.4L593.4 243L592.6 242L591.5 240.5L590 238.5L588.2 236.1L586.2 233.9L584.3 232L582.3 230.5L579.8 229.1L577.4 227.9L575.2 226.8L573.7 226.1L572.5 225.5L571.2 225.5L570.1 226.3L569.5 227.5L569.5 228.8z"/>
<path d="M597.8 226.5L598.4 227.7L599.3 229.5L600.2 231.4L601.3 233.3L602.3 234.7L603.6 235.8L605.4 236.9L607.2 238L608.8 239L610 239.7L611.1 240.4L612.4 240.6L613.7 240L614.4 238.9L614.6 237.6L614 236.3L613.6 235.1L613 233.3L612.2 231.2L611.1 229.1L609.7 227.3L607.8 226L605.6 225.1L603.4 224.4L601.5 223.9L600.2 223.5L599.3 223.1L598.3 223.2L597.5 223.8L597.1 224.7L597.2 225.7z"/>
<path d="M540.5 211.6L542.3 212.4L544.8 213.7L547.7 215.2L550.6 216.5L553.3 217.6L556.2 218.4L559.7 219.2L563.3 219.9L566.5 220.5L568.7 221L570.4 221.2L572 220.6L573 219.3L573.2 217.6L572.6 216L571.3 215L569.4 213.7L566.7 211.9L563.6 209.7L560.1 207.8L556.7 206.4L553.2 205.8L549.6 205.7L546.3 206L543.5 206.3L541.5 206.4L540.1 206.5L539 207.3L538.4 208.5L538.5 209.9L539.3 211z"/>
<path d="M594.3 228L594.8 229.3L595.4 231.3L596.2 233.4L597.1 235.5L598.1 237.2L599.5 238.6L601.2 239.9L603.1 241L605.2 242.3L607.2 243.6L609.5 245.1L612.1 246.9L614.7 248.7L617 250.2L618.5 251.3L619.4 251.9L620.4 251.9L621.3 251.5L621.9 250.6L621.9 249.6L621.5 248.7L620.6 247L619.3 244.6L617.8 241.8L616.3 238.9L614.8 236.4L613.5 234.2L612.2 232.1L610.9 230L609.5 228.3L607.9 226.8L605.8 225.6L603.4 224.9L601.1 224.5L599.1 224.2L597.7 224L596.4 223.4L595.1 223.6L594 224.3L593.4 225.6L593.6 226.9z"/>
<path d="M605.5 240.1L606.7 241.7L608.3 244L610.1 246.5L612 249L613.8 250.9L615.8 252.6L618.4 254.4L621.1 256.1L623.5 257.6L625.2 258.7L626.9 259.7L628.9 259.8L630.7 258.8L631.7 257.1L631.8 255.1L630.8 253.3L629.8 251.6L628.4 249.1L626.7 246.3L624.6 243.4L622.2 241.1L619.4 239.3L616.2 238L613 237.1L610.4 236.4L608.5 235.9L607.2 235.4L605.9 235.6L604.9 236.5L604.4 237.8L604.6 239.1z"/>
<path d="M688.4 274.1L688.6 275.1L688.9 276.4L689.4 278.1L690 279.7L690.8 281.2L692 282.6L693.5 284L695.1 285.3L696.5 286.4L697.4 287.1L698.2 287.8L699.2 287.9L700.1 287.6L700.8 286.8L700.9 285.8L700.6 284.9L700.2 283.7L699.6 282L698.9 280.1L698.1 278.3L697.2 276.8L696.2 275.6L694.9 274.4L693.6 273.4L692.4 272.5L691.6 271.9L690.9 271.3L689.9 271.1L688.9 271.4L688.3 272.1L688.1 273.1z"/>
<path d="M559.4 242.8L561.3 244.8L564 247.5L567.2 250.7L570.6 253.9L574 256.7L577.4 259L581 261.3L584.8 263.4L588.5 265.3L592.2 267.1L596.1 268.8L600.3 270.3L604.4 271.7L607.8 272.9L610.3 273.8L611.9 274.2L613.5 273.9L614.8 272.7L615.2 271.1L614.9 269.5L613.7 268.2L611.9 266.4L609.3 263.8L606.3 260.8L603 257.7L599.8 254.9L596.5 252.4L593 249.9L589.4 247.5L585.7 245.3L582 243.3L577.9 241.6L573.4 240.2L569 238.9L565.3 237.9L562.6 237.2L561 236.8L559.4 237.2L558.2 238.4L557.8 240L558.2 241.6z"/>
<path d="M658.8 325.6L661.6 324.5L665.6 323L670.2 321.2L675 319.2L679.5 317.3L684 315.2L688.8 312.7L693.5 310.3L697.6 308.2L700.4 306.7L701 306.4L701.3 305.8L701.2 305.1L700.9 304.5L700.3 304.2L699.6 304.3L696.4 304.9L691.9 305.7L686.7 306.6L681.4 307.7L676.5 308.7L671.8 309.8L666.9 311.2L662.1 312.5L658 313.6L655.2 314.4L652.6 316.1L651.3 318.8L651.4 321.8L653.1 324.4L655.8 325.7z"/>
<path d="M698.2 331.9L698.9 333.4L699.8 335.5L700.9 337.9L702.1 340.3L703.2 342.3L704.3 344.1L705.6 345.9L706.9 347.5L708.2 349.1L709.6 350.6L711 352L712.8 353.6L714.5 355.1L716 356.5L717.1 357.5L718.3 358.8L719.9 359.2L721.5 358.9L722.8 357.7L723.2 356.1L722.9 354.5L722.7 353L722.4 351L722 348.5L721.4 345.9L720.4 343.4L719.3 341.2L717.9 339.2L716.4 337.2L714.7 335.4L712.8 333.7L710.6 332.1L708 330.8L705.5 329.7L703.3 328.8L701.8 328.1L700.6 327.5L699.3 327.5L698.1 328.2L697.5 329.4L697.5 330.7z"/>
<path d="M658.4 206.1L658.6 207.1L659 208.5L659.5 210.2L660.1 211.9L660.8 213.3L661.9 214.4L663.2 215.4L664.5 216.2L665.7 216.8L666.5 217.2L667.3 217.8L668.3 217.9L669.2 217.5L669.8 216.7L669.9 215.7L669.5 214.8L669.2 213.9L668.8 212.6L668.4 211.2L667.8 209.9L667.2 208.7L666.2 207.7L665 206.6L663.6 205.5L662.5 204.6L661.6 203.9L660.9 203.3L659.9 203.1L658.9 203.4L658.3 204.1L658.1 205.1z"/>
<path d="M328.8 104.9L329.4 106.1L330.2 107.8L331.2 109.8L332.3 111.9L333.6 113.8L335.1 115.7L337 117.8L338.9 119.8L340.6 121.6L341.8 122.9L342.4 123.4L343.1 123.5L343.9 123.2L344.4 122.6L344.5 121.9L344.2 121.1L343.5 119.6L342.4 117.4L341.1 114.9L339.8 112.4L338.4 110.2L336.9 108.4L335.3 106.7L333.6 105.2L332.2 104L331.2 103.1L330.6 102.6L329.8 102.5L329.1 102.8L328.6 103.4L328.5 104.2z"/>
<path d="M263.6 160L265.4 160.6L268 161.5L271 162.5L274.2 163.6L277.3 164.4L280.2 165.2L283.3 165.8L286.3 166.4L289.3 167L292.3 167.4L295.4 167.8L298.8 168L302 168.2L304.7 168.4L306.7 168.5L307.5 168.4L308.1 168L308.5 167.3L308.4 166.5L308 165.9L307.3 165.5L305.5 164.8L302.9 163.8L299.9 162.7L296.8 161.5L293.7 160.6L290.8 159.8L287.7 159.2L284.7 158.6L281.7 158L278.7 157.6L275.6 157.2L272.3 156.8L269.1 156.5L266.4 156.2L264.4 156L263.4 156.1L262.5 156.7L262 157.6L262.1 158.6L262.7 159.5z"/>
<path d="M249.8 165.6L251 167L252.6 169.1L254.7 171.4L257.1 173.9L259.7 175.9L262.5 177.5L265.4 178.9L268.6 180.2L271.8 181.2L275.1 181.9L278.6 182.2L282.1 182L285.3 181.6L288.1 181.2L289.9 181L290.9 180.8L291.7 180.1L292 179.1L291.8 178.1L291.1 177.3L290.1 177L288.1 176.6L285.5 176.2L282.5 175.6L279.5 174.9L276.9 174.1L274.5 173.1L271.9 171.9L269.3 170.6L266.7 169.3L264.3 168.1L261.7 166.9L259 165.7L256.3 164.4L253.9 163.2L252.2 162.4L251.3 162L250.2 162.1L249.4 162.8L249 163.7L249.1 164.8z"/>
<path d="M283.1 184.3L284.3 186.1L285.9 188.5L287.7 191.3L289.6 194L291.4 196.2L293.1 198.1L294.9 199.8L296.7 201.3L298.4 202.8L300 204.1L301.5 205.5L303.1 207.2L304.7 208.8L306.2 210.3L307.2 211.4L308.9 213L311.2 213.5L313.4 212.8L315 211.1L315.5 208.8L314.8 206.6L314.3 205.3L313.6 203.3L312.7 200.9L311.5 198.3L310 195.9L308.4 193.6L306.7 191.5L304.9 189.4L302.9 187.5L300.6 185.8L297.9 184.1L294.7 182.7L291.5 181.4L288.8 180.4L286.9 179.7L285.5 179L283.9 179.2L282.7 180.1L282 181.5L282.2 183.1z"/>
<path d="M297.3 210.2L301.5 213.2L307.6 217.4L314.6 222.3L322 227.3L328.8 231.7L335.1 235.4L341.3 238.9L347.5 242.2L353.6 245.3L359.7 248.3L365.9 251.2L372.1 254L378.6 256.7L385.1 259.1L391.8 261.2L398.3 262.8L404.8 263.9L411.2 264.8L417.7 265.5L424.3 266L431.9 266.3L440.1 266.3L448.1 266.2L455 266.1L459.8 266L461.8 265.5L463.4 264.1L464 262.2L463.5 260.2L462.1 258.6L460.2 258L455.3 257.5L448.5 256.9L440.7 256.1L432.7 255.1L425.7 254L419.4 252.9L413.4 251.6L407.6 250.2L401.9 248.7L396.2 246.8L390.5 244.7L384.6 242.1L378.7 239.4L372.5 236.5L366.3 233.7L360.1 231.1L353.8 228.5L347.6 226L341.4 223.3L335.2 220.3L328.3 216.7L320.8 212.5L313.5 208.2L307.2 204.4L302.7 201.8L300.2 201L297.7 201.6L295.8 203.3L295 205.8L295.6 208.3z"/>
<path d="M318.2 229.9L320.2 227.9L323 225L326.3 221.7L329.6 218.3L332.6 215.3L335.3 212.7L337.8 210.1L340.3 207.6L342.8 205.1L345.3 202.6L348 200L351 197.2L353.9 194.6L356.4 192.2L358.2 190.6L358.8 189.8L359 188.7L358.6 187.8L357.8 187.2L356.7 187L355.8 187.4L353.7 188.7L350.8 190.5L347.4 192.6L343.9 195L340.7 197.4L337.9 199.8L335.1 202.3L332.5 204.9L329.9 207.7L327.4 210.7L324.7 214.2L322 218.2L319.5 222.2L317.4 225.7L315.8 228.1L315.5 228.8L315.6 229.6L316.1 230.2L316.8 230.5L317.6 230.4z"/>
<path d="M276.1 195.4L276.8 197.4L277.9 200.2L279.1 203.5L280.6 206.9L282.3 210.1L284.2 212.9L286.2 215.7L288.5 218.5L290.9 221.1L293.7 223.5L297.1 225.9L301 228.1L304.8 230.1L308.2 231.7L310.5 232.9L311 233L311.5 232.9L311.9 232.5L312 232L311.9 231.5L311.5 231.1L309.3 229.7L306.2 227.7L302.7 225.3L299.2 222.8L296.3 220.5L293.9 218.1L291.6 215.7L289.5 213.1L287.6 210.5L285.7 207.9L283.8 205.1L282 202.1L280.4 199.1L278.9 196.4L277.9 194.6L277.6 194.2L277.1 194L276.6 194.1L276.2 194.4L276 194.9z"/>
<path d="M342.4 159.2L343.5 161.2L345 164L346.7 167.3L348.6 170.7L350.4 173.7L352.1 176.4L353.8 179.1L355.7 181.8L357.9 184.6L360.3 187.4L363.4 190.3L366.8 193.3L370.3 196L373.3 198.3L375.3 200L377.2 200.9L379.2 200.8L381 199.7L381.9 197.8L381.8 195.8L380.7 194L378.8 192.1L376.1 189.5L373.1 186.4L370.2 183.3L367.7 180.6L365.6 178.2L363.7 175.8L361.8 173.3L359.8 170.8L357.6 168.3L355.1 165.7L352.3 163L349.6 160.5L347.2 158.3L345.6 156.8L344.8 156.2L343.7 156L342.8 156.4L342.2 157.2L342 158.3z"/>
<path d="M375.2 193L377 193.4L379.5 193.9L382.5 194.5L385.6 194.9L388.4 195L391.2 194.6L394.2 193.8L397 192.9L399.5 192.1L401.2 191.5L402.4 191.1L403.3 190.1L403.5 188.8L403.1 187.6L402.1 186.7L400.8 186.5L399 186.2L396.5 185.8L393.5 185.3L390.4 185L387.6 185L384.8 185.5L381.9 186.4L379 187.4L376.6 188.4L374.8 189L373.9 189.3L373.2 190.1L373 191.2L373.3 192.1L374.1 192.8z"/>
<path d="M381 209L382.4 209.5L384.5 210.3L387 211.1L389.6 211.8L392.2 212L394.9 211.6L397.7 210.9L400.3 209.9L402.6 209.1L404.2 208.5L405.4 208L406.3 207L406.5 205.8L406 204.6L405 203.7L403.8 203.5L402.1 203.2L399.7 202.8L396.9 202.4L394.2 202L391.8 202L389.5 202.4L387 203L384.6 203.8L382.5 204.5L381 205L380 205.3L379.3 206L379 207L379.3 208L380 208.7z"/>
<path d="M366.7 223.3L368.2 223L370.4 222.6L373 222L375.5 221.4L377.6 220.6L379.6 219.6L381.7 218.3L383.8 216.9L385.5 215.7L386.7 214.9L387.6 214.3L388 213.3L387.9 212.3L387.3 211.4L386.3 211L385.3 211.1L383.8 211.3L381.7 211.6L379.2 211.9L376.7 212.5L374.4 213.4L372.2 214.6L370.1 216.3L368.1 218.1L366.5 219.6L365.3 220.7L364.7 221.2L364.5 221.9L364.7 222.7L365.2 223.3L365.9 223.5z"/>
<path d="M386.9 221L388.9 221.4L391.8 221.9L395.1 222.6L398.6 223.1L401.9 223.5L405 223.7L408.1 223.8L411.1 223.7L414.1 223.6L417 223.5L420.1 223.3L423.3 222.9L426.5 222.6L429.1 222.2L431 222L431.5 221.9L431.9 221.5L432 221L431.9 220.5L431.5 220.1L431 220L429.1 219.8L426.5 219.4L423.3 219.1L420.1 218.7L417 218.5L414 218.4L411 218.4L408 218.4L405 218.4L402.1 218.5L398.9 218.6L395.4 218.7L392 218.8L389.1 218.9L387.1 219L386.6 219.1L386.2 219.4L386 219.9L386.1 220.4L386.4 220.8z"/>
<path d="M384.1 236L386.1 235.9L388.8 235.8L392 235.6L395.2 235.3L398.3 235L401.3 234.5L404.5 233.8L407.6 233.1L410.3 232.4L412.1 232L412.6 231.8L412.9 231.4L413 230.9L412.8 230.4L412.4 230.1L411.9 230L409.9 230.1L407.2 230.2L404 230.4L400.8 230.7L397.7 231L394.7 231.5L391.5 232.2L388.4 232.9L385.7 233.6L383.9 234L383.4 234.2L383.1 234.6L383 235.1L383.2 235.6L383.6 235.9z"/>
<path d="M418.3 156.7L419.1 158.1L420.4 160.1L421.9 162.4L423.4 164.7L424.9 166.8L426.4 168.7L428 170.6L429.6 172.4L431.3 174.2L433 175.9L435 177.5L437.1 179.1L439.2 180.6L441 181.8L442.3 182.7L442.7 183L443.3 183L443.7 182.7L444 182.3L444 181.7L443.7 181.3L442.8 180L441.5 178.2L440.1 176.2L438.5 174.1L437 172.1L435.5 170.3L434 168.5L432.4 166.7L430.8 164.9L429.1 163.2L427.1 161.4L425 159.6L422.9 157.9L421 156.4L419.7 155.3L419.3 155.1L418.8 155L418.3 155.3L418.1 155.7L418 156.2z"/>
<path d="M392.3 251.3L395 253.4L399.1 256.4L403.1 259.6L405.2 262.2L405.1 261.1L404.5 261.8L400.7 265.6L395.5 270L390.5 274L387.2 276.7L386.7 277.3L386.5 278L386.7 278.8L387.3 279.3L388 279.5L388.8 279.3L392.7 277.6L398.6 275.1L405.2 272.1L411 268.6L414.9 262.9L412.4 256.1L407.3 253L401.8 251.1L396.9 249.7L393.7 248.7L393 248.5L392.2 248.7L391.7 249.3L391.5 250L391.7 250.8z"/>
<path d="M522.2 233.9L524.1 232.9L526.8 231.3L529.6 229.8L532.1 228.7L533.8 228.5L535.6 228.9L538.1 229.9L540.7 231.4L542.9 233.1L544.4 234.8L545.5 236.5L546.4 238.6L546.9 240.9L547 243L546.7 244.7L545.9 246.5L544.3 248.8L542.3 251L540.2 252.8L538.3 253.8L536.2 254.4L533.5 254.7L530.6 254.5L528.1 254L526.6 253.3L525.6 252.2L524.3 249.8L523.1 246.7L522 243.6L521.2 241.4L519.8 239.5L517.7 238.6L515.4 238.8L513.5 240.2L512.6 242.3L512.8 244.6L513.6 246.6L514.6 249.8L516.1 253.6L518.2 257.4L521.4 260.7L525.3 262.5L529.4 263.4L533.6 263.7L537.8 263.3L541.7 262.2L545.3 260.2L548.5 257.5L551.4 254.4L553.7 251L555.3 247.3L556 243.5L555.8 239.7L555 235.9L553.5 232.4L551.6 229.2L548.9 226.4L545.7 224L542.1 221.9L538.3 220.3L534.2 219.5L529.8 220.1L525.8 221.6L522.4 223.4L519.7 225.1L517.8 226.1L516.2 227.7L515.5 229.9L516.1 232.2L517.7 233.8L519.9 234.5z"/>
<path d="M513.3 247.8L510.1 249L505.7 250.6L500.2 252.6L494.1 255.1L487.5 258.1L480.3 261.8L472.3 266.2L463.9 271L455.5 275.7L447.5 280.1L439.2 284.6L430.3 289.3L421.8 293.8L414.5 297.6L409.3 300.4L407.7 301.7L407 303.7L407.4 305.7L408.7 307.3L410.7 308L412.7 307.6L418.1 305.3L425.7 302L434.6 298.2L443.9 294L452.5 289.9L460.9 285.5L469.4 280.8L477.8 276.1L485.6 271.7L492.5 267.9L498.6 264.8L504.3 262L509.4 259.6L513.6 257.6L516.7 256.2L518.6 254.7L519.5 252.6L519.2 250.3L517.7 248.4L515.6 247.5z"/>
<path d="M479.3 271.7L478 273.9L476.2 277.1L474.1 280.9L472 284.8L470.3 288.4L469 291.8L467.9 295.2L466.9 298.5L466.1 301.8L465.2 305L464.2 308.4L463.3 312L462.4 315.4L461.6 318.3L461.1 320.4L461 321.4L461.5 322.3L462.4 322.9L463.4 323L464.3 322.5L464.9 321.6L465.7 319.6L466.8 316.9L468.1 313.6L469.5 310.2L470.8 307L472.1 304L473.5 300.9L474.9 297.8L476.3 294.7L477.7 291.6L479.2 288L480.8 284L482.4 280.1L483.7 276.7L484.7 274.3L485 272.8L484.5 271.3L483.3 270.3L481.8 270L480.3 270.5z"/>
<path d="M379 256.9L385 257.9L393.4 259.4L403.4 261L414.2 262.4L424.9 263L435.6 262.7L446.9 261.7L458.1 260.4L468.8 259.1L478.4 258L487.3 257.1L495.9 256.1L503.8 255.3L510.4 254.5L515.2 254L516.6 253.5L517.7 252.4L518 250.8L517.5 249.4L516.4 248.3L514.8 248L510.1 248L503.4 247.9L495.5 247.8L486.7 247.8L477.6 248L467.8 248.6L457 249.4L445.9 250.3L435.1 250.9L425.1 251L415.3 250.3L405.1 249L395.4 247.5L387 246L381 245.1L377.9 245.4L375.4 247.2L374.1 250L374.4 253.1L376.2 255.6z"/>
<path d="M440.9 234.5L442.5 234.8L444.7 235.2L447.4 235.7L450.1 236.1L452.7 236.5L455.4 236.8L458.4 237L461.4 237.2L463.9 237.4L465.8 237.5L466.5 237.4L467.2 236.9L467.5 236.2L467.4 235.5L466.9 234.8L466.2 234.5L464.5 234.1L462 233.4L459.1 232.7L456.1 232L453.3 231.5L450.6 231.3L447.7 231.3L445 231.4L442.7 231.5L441.1 231.5L440.3 231.6L439.8 232.2L439.5 232.9L439.6 233.7L440.2 234.2z"/>
<path d="M516.1 265.1L517.5 268.3L519.5 272.8L521.9 278.1L524.9 283.6L528.1 288.7L531.7 293.1L535.4 297.4L539.5 301.5L543.9 305.3L548.6 308.7L553.5 311.6L558.6 314.1L563.8 316.1L569 317.8L574.1 319.2L579.7 320.4L585.5 321L590.9 321.4L595.4 321.6L598.6 321.8L601.2 321.9L603.5 320.6L604.8 318.4L604.9 315.8L603.6 313.5L601.4 312.2L598.6 310.6L594.6 308.5L590.2 305.9L585.8 303.3L581.9 300.8L578.2 298.2L574.4 295.5L570.7 292.7L567 290L563.4 287.3L559.7 284.6L555.8 281.8L551.8 279L547.8 276.1L543.9 273.3L539.7 270.4L535.2 267.1L530.6 263.8L526.7 260.9L523.9 258.9L521.8 257.3L519.2 257.1L516.9 258.1L515.3 260.2L515.1 262.8z"/>
<path d="M580 310.7L580.6 312.1L581.4 314.2L582.3 316.5L583.2 318.7L584.1 320.6L585.1 322.3L586.2 323.9L587.4 325.5L588.7 327L589.9 328.3L591.1 329.8L592.6 331.4L594.1 333L595.4 334.5L596.3 335.5L597.6 337.2L599.5 338L601.5 337.7L603.2 336.4L604 334.5L603.7 332.5L603.6 331.1L603.5 329.1L603.3 326.7L602.9 324.1L602.1 321.7L601.2 319.4L600.1 317.2L598.9 315.1L597.5 313.2L595.9 311.4L593.9 309.7L591.6 308.2L589.3 307L587.3 306L586 305.3L584.2 304.2L582.2 304.1L580.3 305L579.2 306.8L579.1 308.8z"/>
<path d="M514.3 256.2L512.2 257.6L509.2 259.5L505.7 261.8L502.1 264.5L498.9 267.3L496.1 270.5L493.4 273.9L491 277.4L488.7 280.9L486.5 284.1L484.4 287.4L482.3 290.8L480.3 294L478.7 296.7L477.5 298.7L477 299.6L477.1 300.7L477.7 301.5L478.6 302L479.7 301.9L480.5 301.3L482.3 299.8L484.7 297.8L487.6 295.3L490.6 292.6L493.5 289.9L496.3 287L499.1 283.9L502 280.7L504.6 277.6L507.1 274.7L509.5 271.5L512 268.1L514.3 264.8L516.3 261.9L517.7 259.8L518.4 258.7L518.4 257.4L517.8 256.3L516.7 255.6L515.4 255.6z"/>
<path d="M545.8 257L550 257.8L556 258.6L562.7 259.9L569.3 261.8L575 264.5L580.1 268.6L585.4 274.3L591.1 280.9L597.4 287.4L604.8 292.9L613.1 296.6L621.9 299L630.6 300.8L638.4 302.7L644.9 305.3L650.5 308.7L655.7 312.9L660.5 317.4L664.8 321.9L668.6 325.9L671.6 329.3L674 332.3L675.9 335.1L677.6 338.1L679.2 341.1L680.7 344.3L682 347.8L683 351.2L683.9 354.2L684.5 356.3L684.9 357L685.5 357.4L686.3 357.5L687 357.1L687.4 356.5L687.5 355.7L687.2 353.5L686.9 350.4L686.5 346.7L685.8 342.7L684.8 338.9L683.7 335.4L682.4 331.9L680.8 328.1L678.5 324.2L675.4 320.1L671.6 315.6L667.1 310.8L661.9 305.7L655.9 301L649.1 296.7L641.2 293.7L632.6 291.7L624.1 290L616.1 287.9L609.2 285.1L603.3 280.7L597.5 274.9L591.8 268.5L585.7 262.3L579 257.5L571.5 254.8L563.7 253.6L556.5 253.2L550.4 253.2L546.2 253L545.2 253.2L544.4 253.8L544 254.8L544.2 255.8L544.8 256.6z"/>
<path d="M594.3 292.7L594.8 293.6L595.5 294.8L596.3 296.2L597.3 297.7L598.3 298.9L599.5 299.8L600.9 300.6L602.2 301.3L603.3 301.8L604.1 302.2L604.8 302.5L605.6 302.4L606.2 301.9L606.5 301.2L606.4 300.4L605.9 299.8L605.3 299.1L604.6 298.2L603.6 297.1L602.6 296L601.7 295.1L600.5 294.3L599.2 293.4L597.8 292.6L596.6 291.8L595.7 291.3L595.3 291L594.8 291L594.3 291.3L594 291.7L594 292.2z"/>
<path d="M561 319.1L561.8 320.4L563 322.3L564.5 324.4L565.9 326.5L567.4 328.3L569 330L570.9 331.7L572.9 333.4L574.6 334.9L575.8 335.9L576.4 336.4L577.2 336.5L577.9 336.2L578.4 335.6L578.5 334.8L578.2 334.1L577.5 332.7L576.6 330.6L575.5 328.2L574.2 325.8L572.6 323.7L570.7 321.9L568.5 320.3L566.3 318.9L564.4 317.8L563 316.9L562.4 316.5L561.6 316.6L560.9 317L560.5 317.6L560.6 318.4z"/>
<path d="M574 316.1L575.3 317.8L577.1 320.1L579.1 322.7L581.1 325.3L583 327.6L585 329.9L587.3 332.5L589.7 335.2L591.8 337.5L593.3 339.1L594.1 339.8L595.1 340L596.1 339.7L596.8 338.9L597 337.9L596.7 336.9L595.8 334.9L594.6 332L593 328.7L591.2 325.3L589 322.4L586.4 320L583.4 317.9L580.3 316.2L577.8 314.9L576 313.9L575.3 313.5L574.5 313.6L573.9 314L573.5 314.7L573.6 315.5z"/>
<path d="M588.9 323L589.7 324.5L590.9 326.7L592.2 329.1L593.7 331.6L595.1 333.9L596.7 336.3L598.7 339L600.7 341.7L602.4 344L603.7 345.7L604.2 346.3L604.9 346.5L605.7 346.3L606.3 345.8L606.5 345.1L606.3 344.3L605.7 342.3L604.8 339.5L603.8 336.3L602.5 333L600.9 330.1L599 327.7L596.7 325.5L594.5 323.6L592.5 322.1L591.1 321L590.5 320.6L589.7 320.5L589 320.9L588.6 321.5L588.5 322.3z"/>
<path d="M565.7 339L567.6 339.7L570.1 340.9L573.2 342.2L576.3 343.4L579.3 344.4L582.4 345.1L585.7 345.8L589 346.3L591.8 346.7L593.7 347L594.2 347L594.7 346.7L595 346.3L595 345.8L594.7 345.3L594.3 345L592.4 344.3L589.9 343.1L586.8 341.8L583.7 340.6L580.7 339.6L577.6 338.9L574.3 338.2L571 337.7L568.2 337.3L566.3 337L565.8 337L565.3 337.3L565 337.7L565 338.2L565.3 338.7z"/>
<path d="M447.6 328.6L449.3 326L451.8 322.4L454.6 318.3L457.6 314.1L460.3 310.3L463 306.6L466 302.7L468.9 299L471.4 295.8L473.2 293.5L474 291.6L473.7 289.5L472.5 287.8L470.6 287L468.5 287.3L466.8 288.5L465.1 290.8L462.5 294L459.5 297.8L456.5 301.8L453.7 305.7L451.1 309.9L448.5 314.4L446 318.9L443.9 322.7L442.4 325.4L442 326.9L442.4 328.4L443.4 329.6L444.9 330L446.4 329.6z"/>
<path d="M472.6 302.9L474.9 304.5L478.3 306.8L482.1 309.5L486.2 312.4L490 315L493.6 317.6L497.3 320.1L500.9 322.6L504.4 325.2L508 327.7L511.7 330.5L515.8 333.7L520 336.9L524.3 340.2L528.4 343.2L532.5 345.9L536.7 348.6L540.5 350.9L543.8 352.9L546.1 354.3L547.5 355L549.1 354.8L550.3 353.9L551 352.5L550.8 350.9L549.9 349.7L548 347.7L545.4 344.9L542.3 341.7L538.9 338.2L535.6 334.8L532.2 331.3L528.5 327.5L524.6 323.5L520.4 319.6L516 316.3L511.5 313.6L507 311.5L502.6 309.8L498.2 308.4L494 307L489.5 305.5L484.7 304.1L480.1 302.9L476.2 301.8L473.4 301.1L472.9 301L472.4 301.2L472.1 301.6L472 302.1L472.2 302.6z"/>
<path d="M460.2 339.6L461.5 341.9L463.3 345.1L465.4 348.8L467.7 352.8L469.9 356.5L471.8 359.9L473.8 363.2L475.8 366.6L478.2 370.3L481.2 374.6L485.3 380L490.3 386.4L495.5 392.9L500.2 398.6L503.4 402.6L505.2 404.1L507.5 404.5L509.6 403.6L511.1 401.8L511.5 399.5L510.6 397.4L507.9 393.1L503.9 386.9L499.4 379.9L494.8 373L490.8 367.4L487.5 363.3L484.5 359.9L481.7 357L479 354.3L476.1 351.5L473 348.5L469.7 345.4L466.5 342.5L463.7 340.1L461.8 338.4L461.4 338.1L460.8 338L460.4 338.2L460.1 338.6L460 339.2z"/>
<path d="M503.3 361.7L504.3 363.2L505.6 365.3L507.3 367.8L509 370.5L510.8 373L512.5 375.4L514.4 377.7L516.1 379.9L517.8 382.3L519.5 385L521.5 388.6L523.9 393.1L526.2 397.8L528.2 402L529.7 404.9L530.5 406L531.6 406.5L532.9 406.3L534 405.5L534.5 404.4L534.3 403.1L533.3 400L532 395.5L530.3 390.4L528.5 385.3L526.5 381L524.3 377.7L521.9 375L519.6 372.8L517.4 370.9L515.2 369L513 367L510.5 364.9L508.2 363L506.2 361.5L504.7 360.3L504.3 360L503.8 360L503.3 360.3L503 360.7L503 361.2z"/>
<path d="M525.7 377.9L527.9 377.3L531 376.3L534.3 375.5L537.3 375.1L539.2 375.4L541.1 376.4L543.7 378.2L546 380.4L547.8 382.7L548.6 384.6L548.5 386.9L547.6 390.1L546.2 393.7L544.3 397L542.5 399.5L540.2 401.6L536.9 403.6L533.2 405.4L529.7 407L527.3 408.1L526.5 408.7L526 409.7L526.1 410.7L526.7 411.5L527.7 412L528.7 411.9L531.2 411.2L534.9 410.3L539.3 409L543.7 407.1L547.5 404.5L550.4 400.9L552.7 396.8L554.4 392.3L555.5 387.8L555.4 383.4L554 379.3L551.4 375.6L548.2 372.6L544.7 370.2L540.8 368.6L536.6 368.6L532.6 369.8L529.1 371.5L526.2 373.1L524.3 374.1L523.4 374.7L523 375.7L523.1 376.7L523.7 377.6L524.7 378z"/>
<path d="M499.5 341.4L502.1 342.7L505.8 344.5L510.1 346.5L514.6 348.7L518.8 350.7L522.7 352.6L526.6 354.5L530.6 356.5L534.5 358.4L538.4 360.6L542.8 363.1L547.6 366L552.2 368.9L556.3 371.4L559.1 373.2L559.8 373.5L560.6 373.4L561.2 372.9L561.5 372.2L561.4 371.4L560.9 370.8L558.3 368.6L554.7 365.5L550.4 362L545.9 358.5L541.6 355.4L537.5 353L533.4 350.8L529.4 348.8L525.3 347L521.2 345.3L516.7 343.6L511.9 342L507.3 340.6L503.3 339.4L500.5 338.6L499.8 338.5L499.1 338.8L498.6 339.5L498.5 340.2L498.8 340.9z"/>
<path d="M668.7 348.9L667.1 352.1L664.9 356.7L662.4 362L659.9 367.6L657.8 373.2L656.1 378.8L654.8 384.5L653.6 390L652.3 395.1L650.6 399.4L648.5 403.2L646.1 406.7L643.4 409.9L640.6 412.7L637.5 415.1L634.3 417.2L630.9 418.8L627.2 420.2L623.1 421.2L618.3 422L612.8 422.5L606.4 422.5L599.6 422.3L592.5 421.9L585.5 421.5L578.1 421.1L570.1 420.4L562.2 419.7L555.4 419L550.5 418.5L548.7 418.7L547.3 419.8L546.5 421.5L546.7 423.3L547.8 424.7L549.5 425.5L554.2 426.5L560.9 428L568.7 429.7L576.9 431.3L584.5 432.5L591.6 433.3L598.9 433.9L606.2 434.3L613.2 434.4L619.7 434L625.5 433L630.8 431.7L635.7 429.9L640.2 427.6L644.5 424.9L648.5 421.7L652.2 418L655.6 413.9L658.6 409.5L661.4 404.6L663.8 399.2L665.8 393.5L667.5 387.7L668.9 382.1L670.2 376.8L671.5 371.3L672.7 365.3L673.8 359.5L674.7 354.6L675.3 351.1L675.4 349.3L674.6 347.7L673.1 346.7L671.3 346.6L669.7 347.4z"/>
<path d="M654.8 395L658.2 395.5L662.9 396.2L668.5 397L674.2 397.8L679.6 398.5L684.5 399.1L689.6 399.6L694.7 400.1L699.7 400.6L704.5 401L709.5 401.3L714.6 401.5L719.6 401.7L723.7 401.9L726.7 402L727.8 401.9L728.6 401.2L729 400.3L728.9 399.2L728.2 398.4L727.3 398L724.4 397.3L720.3 396.3L715.5 395.2L710.4 394L705.5 393L700.7 392.2L695.8 391.4L690.7 390.6L685.6 390L680.4 389.5L675 389.2L669.1 389.1L663.5 389L658.6 389L655.2 389L653.7 389.3L652.5 390.3L652 391.8L652.3 393.3L653.3 394.5z"/>
<path d="M678.3 341.3L681.7 343.4L686.4 346.4L691.9 349.9L697.7 353.4L703.2 356.6L708.5 359.4L713.9 362.2L719.4 364.9L724.9 367.4L730.4 369.7L736.3 371.8L742.6 373.7L748.6 375.4L753.7 376.8L757.3 377.9L758.3 378L759.3 377.5L759.9 376.7L760 375.7L759.5 374.7L758.7 374.1L755.3 372.5L750.5 370.3L744.9 367.7L739.1 364.9L733.6 362.3L728.4 359.8L723.1 357.2L717.7 354.5L712.2 351.9L706.8 349.4L700.9 347L694.6 344.4L688.6 342.1L683.4 340.1L679.7 338.7L678.9 338.5L678.2 338.7L677.7 339.3L677.5 340.1L677.7 340.8z"/>
<path d="M506.7 384.2L510.8 387L516.6 391.1L523.4 395.9L530.8 400.6L538 404.6L545 407.6L552.1 410L559.2 412.2L566.2 414.3L573.2 416.7L581 419.7L589.6 423.1L598 426.6L605.2 429.6L610.4 431.7L612.4 432L614.4 431.2L615.7 429.6L616 427.6L615.2 425.6L613.6 424.3L608.6 422L601.5 418.6L593.3 414.6L584.7 410.7L576.8 407.3L569.4 404.6L562.3 402.2L555.3 400.1L548.6 397.9L542 395.4L535 392.4L527.5 388.8L520.1 385.2L513.8 382.1L509.3 379.8L508 379.5L506.8 379.8L505.8 380.7L505.5 382L505.8 383.2z"/>
<path d="M689.2 425.9L688 427.7L686.2 430.3L684.2 433.3L682 436.4L680 439.5L677.9 442.6L675.7 446L673.5 449.4L671.6 452.3L670.2 454.4L670 454.9L670.1 455.4L670.4 455.8L670.9 456L671.4 455.9L671.8 455.6L673.5 453.8L675.8 451.3L678.6 448.4L681.4 445.3L684 442.5L686.4 439.8L688.9 436.9L691.3 434.2L693.3 431.8L694.8 430.1L695.5 428.5L695.2 426.7L694.1 425.2L692.5 424.5L690.7 424.8z"/>
<path d="M544.6 371.4L547.8 370.3L552.2 368.7L557.2 367L562.2 365.7L566.6 365L570.6 364.8L575 365.1L579.6 365.6L584.4 366.4L589.1 367.4L593.7 368.7L598.3 370.3L603 372.1L607.9 373.9L613 375.4L618.7 376.5L624.9 377.5L630.9 378.3L636 379L639.7 379.5L640.5 379.4L641.1 379L641.5 378.3L641.4 377.5L641 376.9L640.3 376.5L636.8 375.5L631.9 373.9L626.1 372.2L620.3 370.3L615 368.6L610.2 367L605.5 365.3L600.7 363.6L595.8 362L590.9 360.6L585.9 359.4L581 358.1L575.9 357.1L570.7 356.7L565.4 357L560 358.7L554.8 361.3L550 364.3L546.1 366.9L543.4 368.6L542.8 369.2L542.5 369.9L542.6 370.6L543.2 371.2L543.9 371.5z"/>
<path d="M609.8 363.5L612.4 364.1L616.2 365L620.5 366.1L625.1 367.1L629.6 368L633.9 368.7L638.3 369.3L642.8 369.9L647.2 370.4L651.5 371L655.9 371.5L660.6 372.1L665.1 372.7L669 373.1L671.7 373.5L672.5 373.4L673.1 373L673.5 372.3L673.4 371.5L673 370.9L672.3 370.5L669.7 369.7L666 368.6L661.6 367.3L657 366.1L652.5 365L648.1 364.2L643.7 363.6L639.2 363L634.7 362.5L630.4 362L626 361.6L621.3 361.2L616.8 360.9L612.9 360.7L610.2 360.5L609.5 360.6L608.8 361.1L608.5 361.8L608.6 362.5L609.1 363.2z"/>
<path d="M639.1 331.8L641.4 333.4L644.8 335.6L648.6 338.3L652.5 340.9L655.7 343.3L658.8 345.6L662 348.2L665.1 350.8L667.7 353L669.7 354.6L671.3 355.4L673.1 355.3L674.6 354.3L675.4 352.7L675.3 350.9L674.3 349.4L672.6 347.7L670.1 345.2L667.2 342.2L663.8 339.3L660.3 336.7L656.3 334.5L651.8 332.5L647.4 330.7L643.6 329.3L640.9 328.2L639.9 328L638.9 328.3L638.2 329.1L638 330.1L638.3 331.1z"/>
<path d="M664.4 390.6L666.2 389.6L668.8 388.2L671.8 386.6L674.8 384.8L677.4 382.8L679.6 380.5L681.8 377.8L683.8 375L685.5 372.6L686.7 371L687.8 369.2L687.9 367.1L687 365.3L685.2 364.2L683.1 364.1L681.3 365L679.5 366.1L677 367.5L674 369.2L671.1 371.2L668.6 373.2L666.5 375.6L664.3 378.4L662.4 381.2L660.8 383.7L659.6 385.4L658.7 386.9L658.6 388.7L659.4 390.4L660.9 391.3L662.7 391.4z"/>
<path d="M611.1 403.8L609.7 404.5L607.6 405.5L605.2 406.7L602.7 408.1L600.3 409.5L597.9 411.3L595.4 413.4L592.9 415.5L590.7 417.4L589.2 418.8L588.7 419.3L588.5 420.1L588.8 420.8L589.3 421.3L590.1 421.5L590.8 421.2L592.6 420.4L595.2 419.1L598.2 417.6L601.1 416L603.7 414.5L605.9 412.8L608.1 410.9L610 409L611.7 407.4L612.9 406.2L613.4 405.6L613.5 404.9L613.2 404.1L612.6 403.6L611.9 403.5z"/>
<path d="M601.3 468.7L601.5 469L601.8 469.5L602.1 470.1L602.6 470.7L603.1 471.2L603.7 471.5L604.3 471.7L604.9 471.8L605.3 471.9L605.6 471.9L606.1 472L606.6 471.8L606.9 471.4L607 470.9L606.8 470.4L606.4 470.1L606.2 469.9L605.8 469.6L605.5 469.3L605.2 469L604.9 468.8L604.6 468.6L604.1 468.2L603.5 467.9L603.1 467.5L602.7 467.3L602.3 467L601.8 467L601.3 467.3L601 467.7L601 468.2z"/>
</g>
<g fill="#ffffff" fill-opacity="0.28" filter="url(#b1)">
<path d="M639.2 104.6L641.9 104.7L645.5 105L648.5 106.1L650.5 108.7L652.4 112.6L655 116.3L658.6 118.7L662.4 120.3L666.2 121.2L670 120.8L673.3 119.6L675.6 118.7L676 118.5L676.2 118.1L676.1 117.7L675.9 117.3L675.5 117.1L675.1 117.1L672.8 117.8L669.6 118.6L666.5 118.7L663.5 117.6L660.4 115.7L657.7 113.6L655.4 110.7L653.1 106.9L650.2 103.7L646.2 102.1L642.2 101.5L639.5 101.2L638.6 101.4L638 102L637.7 102.8L637.8 103.6L638.4 104.3z"/>
<path d="M725.6 100L725.3 101.3L724.8 103L724.4 104.9L724 106.8L723.7 108.8L723.4 110.7L723.1 112.6L722.9 114.5L722.7 115.8L722.6 116.3L722.8 116.7L723.2 116.9L723.6 116.9L724 116.7L724.3 116.4L724.9 115.2L725.7 113.4L726.5 111.5L727 109.4L727.3 107.3L727.5 105.3L727.5 103.3L727.4 101.5L727.3 100.2L727.2 99.7L726.9 99.4L726.5 99.3L726.1 99.3L725.8 99.6z"/>
<path d="M699.9 83.8L701.8 82.9L704.6 81.7L707.2 80.4L709.4 79.1L711.4 77.8L712.8 76.8L713.1 76.6L713.2 76.3L713.1 76L712.9 75.8L712.6 75.7L712.3 75.7L710.7 76.3L708.4 77.1L706 78.2L703.5 79.7L701 81.5L699.3 82.7L699 83L698.9 83.3L699 83.6L699.3 83.8L699.6 83.9z"/>
<path d="M705.2 82.2L706.9 77.7L709.3 71.5L712 65.8L715 61.2L718.3 56.9L721.6 53.3L725 50.5L728.5 48.4L731.8 46.8L734.9 46L738.1 45.7L740.3 45.5L740.6 45.5L740.9 45.3L741 44.9L740.9 44.6L740.7 44.4L740.4 44.3L738.1 44L734.7 43.6L730.9 44L727.1 45.4L723 47.6L719.1 50.5L715.3 54.3L711.7 58.9L708.7 64.1L706.4 70.4L704.7 77L703.5 81.7L703.5 82.1L703.7 82.5L704.1 82.7L704.5 82.7L704.9 82.5z"/>
<path d="M725.1 69.7L726.8 71.5L729.3 74.1L731.8 76.3L734.6 77.9L737.4 79.1L739.3 79.8L739.6 79.9L739.9 79.8L740.1 79.6L740.2 79.3L740.1 78.9L739.9 78.7L738.2 77.6L735.7 75.9L733.3 74.3L730.7 72.3L727.9 70.3L726 68.8L725.7 68.7L725.4 68.7L725.1 68.9L725 69.1L725 69.5z"/>
<path d="M745.8 44.6L749.4 42.6L754.5 39.8L759.3 36.7L763.4 33.1L766.9 29.5L769.1 27.6L769.3 27.5L770.3 28.7L771.2 29.9L771.4 30.2L771.9 30.4L772.3 30.3L772.6 30L772.8 29.6L772.7 29.2L772.2 27.6L771.1 25.2L767.8 24.5L764.5 27L761.1 30.8L757.5 34.4L753.2 37.8L748.4 41.1L745.1 43.5L744.9 43.7L744.8 44.1L744.9 44.4L745.1 44.6L745.4 44.7z"/>
<path d="M647.2 127.7L648.9 129.1L651.3 131.1L653.4 133.2L655.4 135.6L657.4 138.5L658.8 140.6L659.1 140.9L659.5 141L659.9 140.9L660.2 140.6L660.3 140.2L660.2 139.7L659.2 137.5L657.6 134.2L655.6 131.2L652.8 129.1L649.9 127.6L647.8 126.6L647.5 126.5L647.2 126.6L647 126.8L646.9 127.1L646.9 127.5z"/>
<path d="M764 103.8L767.8 105.1L773.3 107L778.7 108.8L783.8 110.4L788.9 112L793.5 113.5L797.9 115.3L802 117.2L804.9 118.5L805.3 118.6L805.7 118.5L806 118.2L806.1 117.8L806 117.4L805.7 117.1L803.2 115.2L799.4 112.6L795 110.1L790.3 108.1L785.1 106.3L779.9 104.8L774.2 103.5L768.5 102.5L764.5 101.8L764 101.8L763.5 102.1L763.3 102.5L763.3 103.1L763.5 103.5z"/>
<path d="M798.2 146.6L801.4 148.4L805.9 150.9L810.3 153.4L814.5 155.9L818.5 158.4L821.4 160.2L822.2 160.5L823 160.3L823.7 159.7L824 158.9L823.8 158L823.2 157.4L820.4 155.5L816.4 152.9L812.3 150.2L807.9 147.5L803.5 144.8L800.3 143L799.3 142.7L798.2 143L797.5 143.8L797.2 144.8L797.5 145.9z"/>
<path d="M831.8 165.2L836.1 167L842.1 169.5L848.4 171.9L854.2 173.8L860.3 175.5L866.3 177.1L873.1 178.5L879.9 179.8L884.7 180.7L885.4 180.7L885.9 180.3L886.3 179.8L886.3 179.1L886 178.6L885.4 178.2L880.9 176.5L874.3 174.1L867.8 171.8L861.8 170L855.7 168.4L849.8 167L843.3 165.7L836.8 164.5L832.3 163.6L831.9 163.6L831.5 163.8L831.3 164.2L831.2 164.6L831.5 165z"/>
<path d="M854.5 159.5L856.9 163.3L860.3 168.7L863.8 174L867.1 178.8L870.5 183.6L873.8 188L877.4 192.5L881 196.7L883.5 199.6L883.9 199.9L884.5 200L885 199.8L885.3 199.3L885.4 198.8L885.2 198.3L883.1 195.1L880.1 190.5L876.9 185.8L873.7 181.2L870.3 176.5L866.9 171.8L863 166.8L859 161.8L856.2 158.3L855.8 158L855.3 157.9L854.7 158.1L854.4 158.5L854.3 159z"/>
<path d="M791.6 205.8L796.3 205.3L803 204.5L809.8 203.4L816.1 201.8L822.4 199.8L828.1 197.5L832.9 194.9L836.9 191.9L840.2 188.9L842.9 185.4L844.8 181.9L846 179.5L846.1 179.2L846 178.8L845.8 178.6L845.5 178.5L845.2 178.6L844.9 178.9L843.5 181.2L841.4 184.4L838.7 187.4L835.4 190L831.5 192.5L826.9 194.8L821.4 197L815.3 199.1L809.2 200.9L802.6 202.5L796 203.7L791.4 204.5L791.1 204.7L790.9 204.9L790.9 205.2L791 205.5L791.3 205.7z"/>
<path d="M846.7 132.4L846.7 129L846.7 124.5L847.6 120.9L849.7 118.7L852.7 117.1L855.6 116.4L858.7 117.1L861.9 118.8L863.7 120.8L863.8 123.4L862.8 126.8L860.9 129.6L857.4 131.7L852.7 133.3L849.3 134.4L848.9 134.7L848.6 135.2L848.6 135.7L848.9 136.2L849.4 136.4L850 136.4L853.4 135.3L858.3 133.6L862.3 131.2L864.7 127.7L865.9 123.7L865.6 120L863.2 117.2L859.5 115.2L855.7 114.4L852 115.1L848.4 117L845.7 119.9L844.6 124.2L844.6 129L844.6 132.4L844.7 132.9L845.1 133.3L845.7 133.4L846.2 133.3L846.6 132.9z"/>
<path d="M836 157.7L839.4 155.2L844.2 152L849.2 150.6L855.5 152.6L863.3 156.6L871 159L877.3 157.7L881.9 154.7L885.9 152.2L890.1 150.6L894.2 149.2L898.2 147.6L902 145.2L905.5 142.6L907.9 140.7L908.3 140.3L908.5 139.6L908.3 139L907.8 138.6L907.2 138.4L906.5 138.6L903.9 140L900.1 141.9L896.3 143.8L892.6 145.5L888.8 147.3L884.5 149.2L880.1 151.5L875.8 153.7L871.4 154.4L865 152.4L857 148.7L849.2 146.8L842.7 149L837.7 152.9L834.4 155.7L834 156.2L834 156.9L834.2 157.5L834.7 157.9L835.4 157.9z"/>
<path d="M893.5 177.9L895.8 175.1L899 171.2L902.3 168.4L905.8 166.9L909.7 166.2L913 166.6L916.1 168.3L919 171.2L921.1 174.7L922.4 179.5L922.9 185.1L923.2 189.2L923.4 189.9L923.9 190.3L924.6 190.4L925.2 190.2L925.6 189.7L925.8 189.1L925.6 185L925.1 179L923.9 173.6L921.3 169.4L917.9 166L914 163.8L909.5 163.2L905 164.1L900.7 165.9L896.9 169.3L893.7 173.5L891.5 176.4L891.2 177L891.3 177.6L891.7 178.2L892.3 178.4L893 178.3z"/>
<path d="M917.4 199.9L919.5 200.6L922.4 201.6L925.2 202.5L927.9 203.1L930.6 203.6L932.4 203.9L932.7 203.9L933 203.7L933.2 203.5L933.2 203.1L933 202.8L932.7 202.7L931 202L928.5 200.9L925.9 200.1L923 199.5L919.9 199L917.7 198.7L917.4 198.7L917.1 198.8L917 199.1L917 199.5L917.1 199.7z"/>
<path d="M903.7 195.4L904.3 197.3L905.2 199.9L905.8 202.3L905.9 204.8L905.7 207.7L905.6 209.9L905.6 210.3L905.9 210.7L906.3 210.9L906.7 210.8L907.1 210.6L907.2 210.2L907.9 208.1L908.8 205.1L909.1 201.8L908 198.8L906.3 196.3L905.2 194.7L904.9 194.3L904.5 194.2L904 194.3L903.7 194.6L903.6 195z"/>
<path d="M707.5 165.6L710.7 169.1L715.3 174.1L720 178.5L724.8 181.4L729.5 183.5L732.7 184.9L733.3 185.1L733.9 184.9L734.4 184.4L734.5 183.8L734.3 183.1L733.9 182.7L730.9 180.8L726.8 178.1L722.6 175.1L717.8 171.4L712.7 167.1L709 164L708.5 163.8L708 163.8L707.5 164.1L707.3 164.5L707.3 165.1z"/>
<path d="M740.3 167.5L742.6 170.3L746.2 174.3L750.6 177L755.4 176.2L758.9 173.7L761 172L761.6 171.3L761.8 170.5L761.5 169.6L760.9 169.1L760.1 168.9L759.2 169.1L756.8 170.4L753.7 171.8L751.7 172.1L748.8 170.7L744.9 167.9L742 165.7L741.4 165.3L740.8 165.4L740.2 165.7L739.9 166.3L739.9 166.9z"/>
<path d="M728.7 191.5L731.1 194.9L734.5 199.7L737.9 204.1L741.1 207.8L744.3 211.2L746.5 213.6L747 213.9L747.5 214L748 213.7L748.3 213.3L748.4 212.8L748.2 212.3L746.4 209.6L743.8 205.7L740.8 201.7L737.1 197.6L732.9 193.3L730 190.4L729.6 190.1L729.2 190.1L728.8 190.3L728.6 190.6L728.5 191.1z"/>
<path d="M749.5 183L750.8 187.1L752.8 192.9L755.4 198.7L758.9 204.2L762.8 209.5L765.6 213.2L766.2 213.8L767 214L767.9 213.7L768.5 213.1L768.7 212.3L768.4 211.4L766.4 207.3L763.5 201.5L760.6 195.9L757.7 190.6L754.6 185.3L752.5 181.6L752 181L751.2 180.6L750.3 180.8L749.6 181.3L749.3 182.1z"/>
<path d="M762.8 227.3L765.2 231.6L768.6 237.9L771.9 243.8L774.7 248.5L777.4 252.9L780.1 257.6L782.6 262.9L785.1 268.5L787.7 273.8L790.6 279L793.5 283.9L795.6 287.3L795.9 287.6L796.3 287.8L796.7 287.7L797.1 287.4L797.2 287L797.1 286.5L795.6 282.8L793.5 277.5L791 272.1L788.4 266.8L785.5 261.5L782.7 256.2L780.1 251.4L777.6 246.8L774.8 242L771 236.4L766.8 230.6L763.9 226.6L763.6 226.4L763.3 226.3L763 226.4L762.8 226.6L762.7 226.9z"/>
<path d="M727.4 194.7L725.1 195.3L722 196.1L719.1 197.1L716.7 198.4L714.7 199.8L713.3 200.7L713 200.9L712.9 201.3L713 201.6L713.2 201.8L713.5 201.9L713.9 201.8L715.4 201.2L717.7 200.4L720.1 199.4L722.8 198.2L725.7 196.8L727.8 195.9L728 195.7L728.2 195.4L728.2 195.1L728 194.8L727.7 194.7z"/>
<path d="M639.2 145.8L640.6 147L642.7 148.8L644.9 150.4L647.3 151.5L649.6 152.3L651.3 152.8L651.6 152.9L651.9 152.8L652.1 152.6L652.2 152.2L652.1 151.9L651.8 151.7L650.4 150.8L648.3 149.5L646.2 148.2L644 146.9L641.6 145.7L639.9 144.8L639.6 144.7L639.3 144.7L639 144.9L638.9 145.2L639 145.5z"/>
<path d="M686.7 126.8L685.1 130.2L683 135.1L682 140.3L683.7 145.3L686.5 149.7L688.6 152.7L689 153.1L689.5 153.2L690.1 153L690.4 152.7L690.5 152.1L690.4 151.6L688.6 148.5L686.2 144.1L685 140L685.5 135.8L687.1 130.9L688.3 127.5L688.3 127L688.2 126.6L687.8 126.4L687.4 126.3L687 126.5z"/>
<path d="M673.6 133.9L674.7 135.4L676.4 137.4L678.1 139.4L680.1 141.1L682.1 142.8L683.6 143.9L684.5 144.5L685.6 144.5L686.5 143.9L687.1 143L687.1 141.9L686.5 141L685.4 139.5L683.7 137.5L682 135.5L680 133.8L678 132.1L676.5 131L675.6 130.4L674.5 130.4L673.6 131L673 131.9L673 133z"/>
<path d="M723.3 206.9L725.1 208.2L727.6 209.9L730.2 211.4L733 212.2L735.6 212.7L737.5 213L737.8 213L738.1 212.8L738.3 212.5L738.2 212.2L738.1 211.9L737.8 211.8L736 211.2L733.5 210.4L731.1 209.4L728.5 208.2L725.9 206.9L724 205.9L723.7 205.8L723.3 205.8L723.1 206.1L723 206.4L723.1 206.7z"/>
<path d="M733.8 223.6L736 225.8L739.1 228.9L741.9 232.1L744.3 235.6L746.7 239.6L748.4 242.4L748.8 242.8L749.3 243L749.8 242.9L750.2 242.5L750.4 242L750.3 241.5L749.1 238.4L747.3 233.9L744.8 229.7L741.4 226.5L737.5 224L734.9 222.3L734.5 222.1L734 222.1L733.7 222.4L733.5 222.8L733.6 223.2z"/>
<path d="M811.3 274L812.8 274.9L815 276.3L817.3 277.4L819.7 277.9L822 278L823.6 278L823.9 278L824.1 277.8L824.3 277.5L824.2 277.2L824 276.9L823.7 276.8L822.2 276.5L820 276L818 275.4L815.8 274.6L813.6 273.6L811.9 272.8L811.6 272.8L811.3 272.9L811.1 273.1L811 273.4L811.1 273.7z"/>
<path d="M698.4 101.5L703.7 105.1L711.4 110.1L719.9 114.9L728.8 119.1L738.4 123L748.5 125.9L759.8 127.3L771.1 127.7L779 127.9L779.7 127.8L780.3 127.3L780.5 126.5L780.4 125.8L779.9 125.2L779.2 125L771.3 124.2L760.3 123L749.6 121L740.3 117.9L731 113.9L722.3 110L713.6 106L705.4 102.1L699.7 99.3L699.1 99.2L698.4 99.4L698 99.8L697.8 100.4L698 101.1z"/>
<path d="M89.3 289.1L89.8 292.4L90.7 297.3L92.9 302.1L96.9 305.6L101.7 308.4L106.4 311.3L111.3 314.5L116.2 317.7L120.1 321.7L123 327.4L125.1 334.1L126.3 341L126.1 348.5L124.9 356.3L123.9 361.8L124 362.1L124.1 362.2L124.3 362.3L124.5 362.3L124.7 362.2L124.8 362L126 356.6L127.7 348.7L128.4 340.9L127.5 333.6L125.5 326.4L122.6 320.1L118.3 315.3L113.1 311.8L108.3 308.5L103.6 305.4L99.1 302.5L95.8 299.8L93.8 296.1L92.3 291.8L91.4 288.7L91.1 288.2L90.7 287.9L90.1 287.9L89.6 288.1L89.4 288.6z"/>
<path d="M148.2 281.6L148.5 285L148.9 289.9L149.6 295.1L150.9 300.3L152.6 305.8L154.5 311.4L156.8 317L159.4 322.5L161.8 327.4L164.1 332L166.3 336.1L167.9 338.9L168.3 339.4L168.9 339.7L169.5 339.6L170.1 339.2L170.3 338.6L170.2 338L169.3 334.9L168 330.4L166.4 325.4L164.3 320.3L161.8 314.8L159.6 309.5L157.8 304.1L156.1 298.8L154.5 293.8L152.8 288.9L151.1 284.4L149.9 281.3L149.7 280.9L149.3 280.6L148.9 280.6L148.5 280.8L148.3 281.2z"/>
<path d="M129.3 301.2L136.6 303.2L147.1 306L157.9 309L168.4 311.8L179.3 314.7L189.5 317.5L198.7 320.4L207.4 323.2L215.4 325.9L223.4 328.4L230.8 330.8L235.9 332.5L236.9 332.6L237.8 332.2L238.4 331.4L238.5 330.5L238.1 329.6L237.3 329L232.5 326.6L225.5 323.1L217.8 319.6L209.9 316.3L201.2 313L191.8 309.9L181.3 307.1L170.2 304.6L159.4 302.4L148.2 300.7L137.4 299.2L129.9 298.3L129.2 298.3L128.5 298.7L128.2 299.4L128.2 300.2L128.7 300.8z"/>
<path d="M148.7 334.5L151.9 338.5L156.3 344.3L160.9 350.1L165.3 355.7L169.8 361.4L174 366.9L177.6 372.1L181 377.1L184.1 381.7L187.5 386.3L190.6 390.4L192.8 393.3L193.1 393.5L193.4 393.5L193.7 393.4L193.9 393.2L194 392.9L193.9 392.6L192.1 389.4L189.5 384.9L186.6 380.1L183.6 375.3L180.3 370.3L176.7 364.9L172.7 359.2L168.3 353.3L163.8 347.7L158.7 342.2L153.6 337L150 333.4L149.6 333.1L149.2 333.1L148.8 333.3L148.6 333.7L148.5 334.1z"/>
<path d="M40.1 318.3L44.5 320.9L50.7 324.7L56.8 328.1L62.4 330.6L67.8 332.8L72.7 334.7L77.1 336.3L81.1 337.8L84.7 339.2L88.2 341.1L91.3 343L93.5 344.4L94.3 344.6L95.2 344.4L95.8 343.8L96 342.9L95.8 342.1L95.2 341.5L92.9 340.2L89.6 338.5L86 336.6L82.4 334.8L78.4 333L74 331.2L68.9 329.4L63.4 327.8L57.9 325.8L51.6 323L45.1 319.8L40.6 317.6L40.3 317.5L40.1 317.6L40 317.7L39.9 317.9L40 318.1z"/>
<path d="M92.5 276.9L95 277.4L98.7 278L102.5 278.5L106.1 278.8L109.9 279L113.4 279.3L116.9 279.8L120.1 280.5L122.4 280.9L122.7 280.9L123 280.7L123.2 280.4L123.2 280.1L123 279.8L122.7 279.7L120.5 279L117.2 278.1L113.7 277.2L110.1 276.7L106.3 276.3L102.7 276L98.9 275.8L95.2 275.7L92.6 275.7L92.3 275.7L92.1 275.9L91.9 276.2L92 276.5L92.2 276.8z"/>
<path d="M199.8 239.2L201.5 238.7L203.8 237.8L206.1 237L208.1 236.1L210 235.2L211.9 234.3L214.1 233.4L216.2 232.4L217.7 231.8L218 231.6L218.1 231.3L218.1 231L217.9 230.7L217.6 230.5L217.3 230.6L215.7 230.9L213.4 231.4L211.1 232L209 232.6L206.9 233.4L204.9 234.3L202.7 235.6L200.6 237.1L199.2 238.1L199 238.3L198.9 238.6L198.9 238.9L199.2 239.2L199.5 239.3z"/>
<path d="M185.5 265.8L187.3 266.5L189.8 267.5L192.4 268.4L195 269L197.7 269.5L199.5 269.8L199.7 269.8L199.9 269.7L200 269.5L200 269.3L199.9 269.1L199.8 269L198 268.3L195.5 267.3L192.9 266.4L190.3 265.8L187.6 265.3L185.8 265L185.5 265L185.3 265.1L185.2 265.3L185.2 265.5L185.3 265.7z"/>
<path d="M223.4 285L225.9 290L229.7 297.3L234.3 304.3L240 309.8L246.1 314.5L252 318.6L257.9 322.5L263.6 325.9L267.5 328.2L268.7 328.6L270 328.3L271 327.4L271.4 326.2L271.1 324.9L270.2 324L266.5 321.4L261.2 317.6L255.7 313.5L250.2 309.2L244.5 304.6L239.4 299.9L234.4 294.1L229.6 287.7L226.3 283.2L225.7 282.6L224.8 282.4L224 282.6L223.4 283.3L223.2 284.1z"/>
<path d="M205.3 327.1L212.2 331.5L222.1 337.8L232.1 343.7L241.5 348.4L250.9 352.7L260.4 356.6L269.9 360.3L279.5 363.5L288.6 366.5L297.1 369.1L305.2 371.5L313.9 373.3L324.5 374.6L335.4 375.3L343.1 375.7L343.7 375.6L344.1 375.3L344.3 374.8L344.2 374.2L343.8 373.8L343.3 373.6L335.6 372.8L324.8 371.6L314.5 370L306.1 368L298.2 365.6L289.8 362.9L280.7 359.8L271.4 356.4L262 352.7L252.7 348.7L243.5 344.3L234.3 339.6L224.2 334.1L214.1 328.3L207.1 324.2L206.3 324L205.4 324.2L204.8 324.8L204.5 325.6L204.7 326.5z"/>
<path d="M266 325.8L266.9 327.2L268.1 329.3L269.5 331.2L271.1 333L272.8 334.7L274 335.8L275.4 336.8L277.1 337L278.7 336.3L279.8 334.9L280 333.2L279.3 331.6L278.4 330.2L277.1 328.2L275.7 326.2L274.2 324.5L272.5 322.8L271.3 321.6L269.9 320.6L268.1 320.4L266.5 321.1L265.5 322.5L265.3 324.2z"/>
<path d="M169.6 314.5L175.1 320.1L182.9 328.1L190.7 335.6L197.7 341.5L204.4 346.8L210.5 352.2L216.5 359.2L222.3 366.7L226.3 372.1L227 372.8L228 373L228.9 372.7L229.5 371.9L229.7 371L229.4 370L226 364.2L221 355.9L215.2 348L208.8 341.7L202 336.1L195 330.5L186.8 323.7L178.2 316.7L172.1 311.7L171.3 311.2L170.3 311.3L169.5 311.8L169 312.7L169 313.6z"/>
<path d="M175 345.8L180.2 347.7L187.6 350.2L195.1 351.9L201.6 352L207.9 351.2L213.8 349.8L220 347.6L225.7 344.8L229.7 342.8L230.1 342.4L230.3 341.9L230.2 341.4L229.9 341L229.4 340.8L228.9 340.8L224.7 342.2L218.7 344.2L212.7 345.8L207.1 346.8L201.4 347.6L195.5 347.7L188.4 346.7L180.9 345L175.6 343.8L175 343.8L174.6 344L174.3 344.5L174.3 345L174.5 345.5z"/>
<path d="M189.2 324.1L194.5 325.1L201.9 326.7L208.9 328.6L215.1 331L221 333.7L226.6 336.5L232.1 339.8L237.2 343.4L240.8 345.9L241.3 346.1L241.8 346L242.3 345.7L242.5 345.2L242.4 344.6L242.1 344.2L238.7 341.4L233.8 337.4L228.3 333.6L222.6 330.5L216.4 327.7L209.9 325.4L202.5 323.8L194.9 322.7L189.6 322L189.1 322.1L188.6 322.4L188.4 322.9L188.4 323.4L188.8 323.8z"/>
<path d="M140 327.1L138.8 331.2L137.2 337.2L136.3 343.3L136.7 348.9L137.9 354.4L139.4 359.6L141.3 365L143.4 370L145 373.5L145.2 373.8L145.5 373.9L145.8 373.9L146.1 373.7L146.2 373.4L146.2 373.1L145 369.4L143.3 364.3L141.8 358.9L140.5 353.8L139.4 348.5L138.8 343.3L139.3 337.5L140.4 331.6L141.2 327.4L141.2 327.1L141 326.8L140.7 326.7L140.4 326.7L140.1 326.8z"/>
<path d="M295.4 381.7L297 382.8L299.5 384.4L302.3 385.5L305.4 385.6L308.5 385.2L310.6 384.9L310.9 384.8L311.1 384.6L311.2 384.2L311.1 383.9L310.9 383.7L310.5 383.7L308.4 383.5L305.5 383.4L302.8 383L300.3 382.4L297.6 381.5L295.8 380.9L295.5 380.9L295.3 380.9L295.2 381.1L295.1 381.3L295.2 381.5z"/>
<path d="M192.1 449.7L193.2 450.9L194.9 452.6L196.5 454.3L198.2 455.8L200 457.4L202.1 458.6L204.3 458.4L205.8 457.4L206.8 456.7L207 456.5L207.1 456.2L207.1 455.9L206.9 455.7L206.6 455.5L206.2 455.6L205.2 455.8L203.8 456L202.9 455.8L201.8 454.9L200.2 453.5L198.4 452L196.4 450.7L194.3 449.5L192.9 448.7L192.6 448.5L192.3 448.6L192 448.8L191.9 449.1L191.9 449.4z"/>
<path d="M337 367.9L338.7 367L341 365.7L343.2 364.4L345.3 363.1L347.3 361.7L348.8 360.7L349 360.5L349.1 360.2L349.1 359.9L348.9 359.6L348.5 359.5L348.2 359.6L346.5 360.1L344.1 360.8L341.8 361.9L339.5 363.4L337.5 365.2L336 366.5L335.7 366.8L335.7 367.2L335.8 367.6L336.1 367.9L336.6 368z"/>
<path d="M239.2 339.7L243.7 342.8L250.3 347.1L257 350.5L263 352.1L268.8 352.6L274.5 352.6L280.9 352L287.2 350.8L291.6 350L292 349.8L292.3 349.5L292.3 349L292.2 348.6L291.8 348.4L291.4 348.3L286.9 348.8L280.7 349.4L274.5 349.7L268.9 349.5L263.5 349L258 347.8L251.5 345L244.7 341.3L239.8 338.6L239.5 338.5L239.2 338.6L239 338.8L238.9 339.1L238.9 339.5z"/>
<path d="M179.6 299.9L184.7 299.4L192 298.8L199.3 298.7L207.1 299.8L215.4 301.6L221.2 302.9L221.6 302.9L222 302.6L222.2 302.3L222.2 301.8L222 301.4L221.6 301.2L215.9 299.4L207.7 296.9L199.5 295.4L191.7 295.8L184.4 297.2L179.3 298.2L178.9 298.4L178.6 298.7L178.6 299.2L178.8 299.6L179.1 299.8z"/>
<path d="M127.2 351.8L130.3 354.3L134.6 357.9L138.6 362.1L142 367L145.3 372.5L148.5 377.9L151.7 383.1L154.9 388.1L157 391.6L157.2 391.8L157.6 391.9L157.9 391.8L158.1 391.6L158.2 391.3L158.1 391L156.3 387.3L153.6 382.1L150.7 376.6L147.6 371.2L144.2 365.5L140.5 360.5L136 356.3L131.2 353L127.9 350.8L127.6 350.7L127.3 350.7L127.1 350.9L126.9 351.2L127 351.5z"/>
<path d="M412.5 111.3L419.8 114.1L430.4 118L441.2 120.9L451 121.5L460.4 121L469.6 120.9L479.9 121.7L490.4 122.9L497.7 123.8L498.1 123.7L498.4 123.5L498.6 123.1L498.5 122.7L498.3 122.3L497.9 122.2L490.7 120.7L480.4 118.7L469.9 117.1L460.5 116.5L451.2 116.2L442.4 115L432.5 111.9L422.3 107.7L415.1 104.7L413.3 104.5L411.6 105.2L410.5 106.6L410.3 108.5L411 110.2z"/>
<path d="M418.4 117.8L421 120.9L424.7 125.4L428.7 130.2L432.8 135.3L437.3 140.7L441.9 146L447 151.4L452.3 156.6L455.9 160.2L456.5 160.6L457.2 160.6L457.9 160.3L458.3 159.7L458.3 159L458 158.4L454.9 154.3L450.5 148.4L446.1 142.5L441.9 137L437.5 131.4L433.3 126.3L428.8 121.7L424.5 117.6L421.6 114.8L420.6 114.2L419.5 114.2L418.5 114.7L417.9 115.7L417.8 116.8z"/>
<path d="M454.7 141.7L457.8 141.2L462.3 140.5L466.9 139.5L471.5 138.3L476.3 136.8L479.7 135.8L479.9 135.6L480.1 135.4L480.1 135.1L479.9 134.8L479.7 134.7L479.4 134.7L475.9 135.2L471 136L466.2 136.9L461.7 138.2L457.4 139.6L454.4 140.7L454.2 140.8L454 141.1L454 141.4L454.1 141.6L454.4 141.7z"/>
<path d="M480.9 150.2L482.4 154L484.6 159.5L487.2 164.1L490.3 167L493.8 168.5L497.5 168.8L501.1 167.1L504 164.5L506 162.7L506.4 162.1L506.5 161.4L506.2 160.8L505.7 160.3L505 160.2L504.3 160.5L502.1 162L499.2 163.7L496.8 164.4L495.2 164L493.2 162.9L491.1 161L488.4 157.4L485.5 152.6L483.4 149L482.9 148.5L482.3 148.2L481.6 148.4L481 148.8L480.8 149.5z"/>
<path d="M487.2 144.9L487.3 148.2L487.6 152.8L488.1 157.1L489.1 161L490.3 164.5L491.2 167L491.4 167.5L491.9 167.8L492.5 167.8L493 167.6L493.3 167.1L493.3 166.5L493.2 163.9L492.9 160.2L492.4 156.4L491.4 152.1L490.2 147.7L489.3 144.6L489.1 144.1L488.6 143.7L488.1 143.7L487.6 143.9L487.2 144.4z"/>
<path d="M481.2 178.8L485.1 181.6L490.4 185.6L495.3 189.6L499.2 193.2L502.7 197L505.7 200.9L508.4 205.5L510.7 210.5L512.3 214.1L512.8 214.9L513.7 215.3L514.7 215.2L515.5 214.7L515.9 213.8L515.9 212.8L514.7 209L512.9 203.5L510.4 198L507.1 193.4L503.2 189.2L498.8 185.3L493.2 181.6L487.1 178.3L482.9 176.1L482.1 175.8L481.3 176L480.7 176.6L480.4 177.4L480.6 178.2z"/>
<path d="M505.9 178.9L511.3 180.5L519 182.7L526.6 185L533.6 186.7L540.2 188.4L545.8 190.7L550.9 194.7L555.6 199.9L558.9 203.6L559.6 204.1L560.4 204.2L561.2 203.9L561.7 203.2L561.8 202.4L561.4 201.6L558.5 197.5L554.1 191.6L548.5 186.5L541.9 183.5L534.8 181.7L527.7 180.2L520 178.6L512 177.2L506.5 176.3L505.8 176.3L505.2 176.7L504.8 177.3L504.9 178L505.2 178.6z"/>
<path d="M574.4 182.2L574.2 185.5L573.9 190.3L573.6 195L573.4 199.2L573.1 203.5L572.9 207.9L572.7 212.7L572.5 217.6L572.4 220.9L572.7 222.2L573.5 223.2L574.7 223.6L575.9 223.3L576.9 222.5L577.3 221.3L577.7 218L578.3 213.2L578.9 208.4L579.4 204.1L579.9 199.7L580.2 195.2L580 190.3L579.6 185.5L579.3 182.1L579 180.9L578.1 180L576.8 179.7L575.6 180L574.7 180.9z"/>
<path d="M539.8 208.8L543.6 210L549 211.7L554.7 213.1L560.2 213.8L565.5 214.1L570.1 215L574.8 217.2L579.7 220.2L583.2 222.5L583.9 222.8L584.6 222.7L585.1 222.3L585.4 221.6L585.3 220.9L584.9 220.4L581.9 217.4L577.4 213.3L572.1 209.9L566.3 208.4L560.7 208L555.4 207.7L549.9 207.1L544.3 206.5L540.3 206.1L539.6 206.1L539 206.5L538.7 207.2L538.8 207.9L539.2 208.5z"/>
<path d="M570.5 227.6L572.6 229.9L575.6 233.2L578.8 236.4L582.7 239.2L586.7 241.8L589.6 243.6L590.1 243.8L590.7 243.8L591.1 243.4L591.3 242.9L591.3 242.3L590.9 241.9L588.5 239.5L585.1 236.2L581.7 233.1L578.1 230.3L574.5 227.7L572 225.9L571.5 225.7L570.9 225.7L570.4 226L570.2 226.5L570.2 227.1z"/>
<path d="M597.7 224.4L599.3 226.2L601.5 228.9L603.7 231.3L606.1 233.6L608.6 235.8L610.4 237.4L610.9 237.8L611.4 237.8L611.9 237.6L612.3 237.1L612.3 236.6L612.1 236.1L610.9 234L609 231L606.8 228.2L604 226.1L600.9 224.3L598.8 223.1L598.4 222.9L598 223L597.6 223.2L597.4 223.6L597.5 224z"/>
<path d="M540 208.7L543.5 209.8L548.4 211.3L553.4 212.9L558.8 214.7L564.6 216.5L568.6 217.9L569.3 218L570 217.7L570.4 217.1L570.5 216.4L570.2 215.8L569.7 215.3L565.9 213.3L560.5 210.5L554.9 208.2L549.4 207.2L544 206.8L540.4 206.5L539.8 206.6L539.3 206.9L539.1 207.4L539.1 208L539.4 208.4z"/>
<path d="M594.3 225.1L595.7 227.1L597.7 229.8L599.9 232.5L602.5 234.8L605.3 237.2L608.4 239.8L612 243L615.7 246.4L618.4 248.8L618.7 249.1L619.1 249.1L619.5 248.9L619.7 248.5L619.8 248.1L619.6 247.7L617.5 244.8L614.5 240.7L611.6 236.8L609 233.6L606.6 230.6L604 228.1L600.9 226L597.8 224.5L595.7 223.4L595.2 223.2L594.6 223.3L594.1 223.6L593.9 224.1L593.9 224.7z"/>
<path d="M605.4 237.3L608 239.8L611.7 243.2L615.3 246.5L619.1 249.8L623.1 253.2L625.9 255.6L626.6 256L627.5 256L628.2 255.6L628.6 254.9L628.7 254L628.2 253.3L626 250.4L622.6 246.2L618.8 242.4L614.4 239.5L609.9 237.1L606.7 235.5L606.2 235.4L605.6 235.5L605.2 235.8L605 236.4L605.1 236.9z"/>
<path d="M688.8 272.5L689.5 274.2L690.7 276.6L692.1 279L694 281.4L696.2 283.8L697.8 285.5L698.1 285.8L698.5 285.9L698.9 285.7L699.2 285.4L699.3 285L699.1 284.6L698 282.6L696.4 279.7L694.8 277.1L693.1 275L691.3 273L690.1 271.6L689.8 271.3L689.4 271.2L689 271.4L688.7 271.7L688.6 272.1z"/>
<path d="M559.2 239.3L563.3 242.4L569.1 246.7L575.2 250.9L581.1 254.7L587.3 258.3L593.3 261.7L599.6 265L605.8 268.1L610.2 270.3L610.8 270.5L611.5 270.3L612 269.9L612.2 269.2L612.1 268.5L611.6 268L607.8 265L602.3 260.8L596.5 256.6L590.7 252.7L584.6 248.9L578.6 245.3L571.9 242L565.2 239L560.6 236.9L559.9 236.8L559.2 236.9L558.7 237.4L558.5 238.1L558.7 238.8z"/>
<path d="M656.9 320.9L662.3 319L670 316.3L677.8 313.4L685.7 310.2L693.7 306.9L699.3 304.6L699.6 304.5L699.7 304.2L699.7 303.9L699.5 303.7L699.3 303.6L699 303.6L693.1 305.2L684.8 307.5L676.5 309.8L668.6 312.2L660.8 314.6L655.4 316.3L654.3 317L653.8 318.1L653.8 319.4L654.5 320.4L655.7 321z"/>
<path d="M698.3 329.2L700.1 331.6L702.6 335L705 338.3L707.3 341.2L709.6 344.1L711.8 346.9L714 349.9L716.3 352.9L717.9 355.1L718.3 355.6L719 355.8L719.7 355.6L720.2 355.2L720.4 354.5L720.3 353.8L719.4 351.3L718.1 347.6L716.4 344L714.2 340.7L711.8 337.5L709.1 334.6L705.8 331.8L702.3 329.3L699.8 327.7L699.3 327.4L698.8 327.4L698.3 327.7L698 328.2L698 328.7z"/>
<path d="M658.8 204.5L659.6 206.3L660.7 208.7L662.1 211L663.8 212.9L665.6 214.5L666.8 215.6L667.2 215.8L667.6 215.9L668 215.7L668.2 215.4L668.2 214.9L668.1 214.5L667.2 213.1L666.1 211.1L664.8 209.1L663.2 207.1L661.4 205.1L660.1 203.6L659.8 203.3L659.4 203.2L659 203.4L658.7 203.7L658.6 204.1z"/>
<path d="M329.1 103.7L330.4 105.8L332.4 108.8L334.5 112L337.2 115.5L340 119.1L342.1 121.6L342.3 121.8L342.6 121.9L342.9 121.8L343.1 121.5L343.2 121.2L343.1 120.9L341.4 118.1L339 114.2L336.6 110.5L334.2 107.5L331.8 104.8L330.1 102.9L329.8 102.7L329.5 102.7L329.2 102.8L329 103L328.9 103.4z"/>
<path d="M263.3 158L266.9 158.9L272 160.3L277.2 161.6L282.2 162.7L287.2 163.7L292.2 164.6L297.5 165.5L302.7 166.2L306.4 166.8L306.7 166.8L307 166.6L307.1 166.3L307.1 166L306.9 165.7L306.6 165.5L303.1 164.5L298 163.1L292.8 161.7L287.8 160.6L282.8 159.6L277.8 158.7L272.5 157.8L267.3 156.9L263.7 156.3L263.2 156.4L262.9 156.6L262.7 157L262.7 157.4L262.9 157.8z"/>
<path d="M249.8 163.6L252.4 166L256.1 169.4L260.4 172.5L265 175L269.9 177.1L275 178.6L280.4 179.1L285.7 178.9L289.3 178.8L289.8 178.7L290.1 178.4L290.2 177.9L290.1 177.5L289.8 177.2L289.4 177.1L285.8 176.8L280.7 176.3L275.7 175.3L271.2 173.6L266.6 171.5L262.3 169.3L258 166.8L253.8 164.2L250.9 162.3L250.5 162.1L250 162.1L249.7 162.4L249.5 162.8L249.6 163.2z"/>
<path d="M283.2 181.3L285.8 184L289.5 187.9L293 191.5L296.2 194.5L299.2 197.3L301.9 200L304.4 203L306.7 206.1L308.4 208.3L309.1 209L310.1 209.2L311 208.9L311.7 208.2L311.9 207.3L311.6 206.3L310.4 203.9L308.5 200.3L306.1 196.6L303.4 193.3L300.3 190.1L296.9 187.1L292.6 184.1L288 181.3L284.8 179.3L284.2 179.1L283.5 179.1L283 179.5L282.7 180.1L282.8 180.8z"/>
<path d="M297.7 205.8L306 211.4L317.8 219.2L329.5 226.5L339.9 232.2L350.2 237.3L360.5 242.1L370.8 246.9L381.3 251.4L391.9 255.1L402.4 257.7L412.8 259.4L423.6 260.6L436.4 261.3L449.5 261.6L458.8 261.8L459.6 261.6L460.3 261L460.5 260.1L460.3 259.3L459.7 258.7L458.9 258.4L449.7 257.8L436.7 256.9L424.1 255.6L413.7 253.9L403.7 251.8L393.8 249.1L383.7 245.3L373.6 240.7L363.2 236L352.9 231.5L342.6 226.9L332.2 221.7L320.4 214.9L308.4 207.5L300 202.3L299 202L297.9 202.2L297.1 202.9L296.8 204L297 205z"/>
<path d="M317 228.6L320.6 224.4L325.6 218.6L330.6 213.1L334.9 208.6L339.2 204.3L343.5 200.3L348.4 195.9L353.5 191.8L357 188.8L357.3 188.5L357.3 188.1L357.2 187.7L356.8 187.4L356.4 187.3L356 187.5L352.2 190.1L346.8 193.9L341.5 198.1L337 202.1L332.7 206.5L328.4 211.2L323.7 217.1L319.2 223.4L316 227.8L315.9 228.1L315.9 228.4L316.1 228.7L316.4 228.8L316.7 228.7z"/>
<path d="M342.6 157.3L345 160.9L348.3 165.9L351.8 170.9L354.8 175.3L358 179.8L361.7 184.2L366.8 189.1L372.3 193.8L376.2 197.1L376.9 197.4L377.8 197.4L378.5 196.9L378.9 196.1L378.9 195.3L378.4 194.5L374.7 191.1L369.5 186.2L364.8 181.4L361.3 177.2L358.1 172.9L354.8 168.7L350.8 164L346.8 159.5L343.9 156.3L343.6 156L343.2 156L342.8 156.1L342.5 156.5L342.4 156.9z"/>
<path d="M374.3 190.6L377.7 190.8L382.6 191L387.4 190.9L392.2 190.3L397 189.5L400.4 188.8L400.9 188.7L401.2 188.3L401.3 187.7L401.1 187.2L400.7 186.9L400.2 186.8L396.8 186.7L392 186.6L387.1 186.7L382.3 187.4L377.6 188.3L374.2 189L373.8 189.1L373.5 189.4L373.4 189.9L373.6 190.3L373.9 190.6z"/>
<path d="M380.3 206.6L383.1 207.1L387.1 207.7L391.4 207.9L395.8 207.4L400.3 206.5L403.4 205.8L403.9 205.7L404.2 205.2L404.3 204.7L404.1 204.2L403.7 203.8L403.2 203.8L400 203.7L395.5 203.6L391.2 203.7L387.1 204.1L383.1 204.6L380.3 205L379.9 205.1L379.6 205.4L379.4 205.8L379.5 206.2L379.9 206.5z"/>
<path d="M365.7 221.6L368.5 220.6L372.4 219.1L376.1 217.6L379.7 215.9L383.2 214.1L385.7 212.8L386.1 212.6L386.3 212.2L386.2 211.7L386 211.4L385.6 211.2L385.1 211.3L382.4 212L378.6 213.1L374.7 214.5L371.1 216.5L367.6 218.8L365.1 220.5L364.9 220.7L364.8 221L364.9 221.3L365.1 221.6L365.4 221.7z"/>
<path d="M386.6 219.8L390.5 220.3L396 221L401.6 221.4L406.7 221.6L411.7 221.6L416.6 221.4L421.9 221.3L427 221L430.6 220.8L430.8 220.8L431 220.6L431.1 220.4L431 220.2L430.8 220L430.6 220L427 219.8L421.9 219.5L416.6 219.4L411.7 219.3L406.7 219.4L401.7 219.4L396.1 219.2L390.6 219.1L386.7 219L386.5 219L386.3 219.2L386.2 219.4L386.3 219.6L386.4 219.7z"/>
<path d="M418.3 155.6L420.2 158.1L422.9 161.6L425.7 165.1L428.3 168.2L431 171.2L433.8 174.1L436.9 177L440.1 179.8L442.3 181.6L442.5 181.7L442.7 181.7L442.9 181.6L443 181.4L443 181.2L442.9 181L441 178.8L438.2 175.7L435.4 172.5L432.9 169.6L430.2 166.6L427.5 163.6L424.3 160.4L421.2 157.2L418.9 155.1L418.7 154.9L418.5 154.9L418.3 155L418.2 155.2L418.2 155.4z"/>
<path d="M392 249.4L397.6 252.8L404.8 257.4L407.2 260.4L402.9 265L393.8 271.6L387 276.3L386.7 276.5L386.7 276.8L386.7 277.1L387 277.4L387.3 277.4L387.6 277.3L395 273.5L405.1 267.8L411.3 261.2L407 254.7L398.7 250.8L392.6 248.2L392.2 248.2L391.9 248.3L391.7 248.5L391.7 248.8L391.8 249.1z"/>
<path d="M520.3 230.6L523.9 228.5L528.8 225.9L533.3 224.8L537.7 226.1L542.4 228.8L545.9 232.1L547.9 235.9L548.9 240.3L548.5 244.4L546.4 248.5L542.7 252.5L538.6 255.2L533.9 256.1L528.6 255.8L524.5 254.4L521.7 250.8L519.6 245.4L518.1 241.3L517.6 240.5L516.7 240.1L515.7 240.1L514.9 240.7L514.5 241.6L514.6 242.6L516.1 246.7L518.4 252.6L522.2 257.4L527.8 259.6L534.2 259.9L540.1 258.7L545.1 255.4L549.4 250.6L552.2 245.5L552.7 240L551.5 234.6L548.8 229.8L544.6 225.8L539.2 222.6L533.4 221L527.5 222.3L522.1 225.2L518.4 227.3L517.7 228L517.5 228.9L517.7 229.9L518.4 230.6L519.3 230.8z"/>
<path d="M513.5 248.9L507.5 251.3L498.7 254.8L488.2 259.6L475.8 266.2L461.9 274.1L448.1 281.6L433.8 289L419.5 296.2L409.5 301.2L408.8 301.7L408.5 302.5L408.7 303.4L409.3 304.1L410.1 304.4L410.9 304.2L421.1 299.5L435.6 292.8L450.3 285.7L464.2 278.2L478.1 270.4L490.3 263.7L500.5 258.8L509.1 255L514.9 252.4L515.7 251.8L516.1 250.9L516 250L515.4 249.2L514.5 248.8z"/>
<path d="M480.3 271.5L478 275.9L474.8 282.1L471.9 288.4L469.7 293.9L467.9 299.3L466.2 304.6L464.5 310.3L462.8 315.9L461.6 319.8L461.6 320.2L461.8 320.6L462.2 320.8L462.6 320.9L463 320.7L463.2 320.3L464.6 316.5L466.5 311L468.6 305.5L470.6 300.3L472.7 295.1L475 289.7L477.7 283.5L480.5 277.1L482.6 272.6L482.7 271.9L482.5 271.3L482 270.9L481.3 270.8L480.7 271z"/>
<path d="M378.7 252L390.1 254L406.6 256.6L424.1 258.1L442 257.3L460.6 255.4L477.3 253.7L492.1 252.5L505.2 251.5L514.2 250.8L514.8 250.6L515.3 250.1L515.4 249.5L515.2 248.9L514.7 248.4L514.1 248.3L505.1 248.5L491.9 248.9L477 249.5L460.1 250.8L441.6 252.5L424.2 253L407.2 251.5L390.9 249L379.6 247.1L378.3 247.2L377.2 248L376.7 249.1L376.8 250.4L377.5 251.5z"/>
<path d="M440.6 233L443.7 233.4L448 233.9L452.5 234.4L457.2 235L462.1 235.6L465.5 236L465.9 236L466.1 235.8L466.3 235.5L466.2 235.2L466 234.9L465.7 234.8L462.4 234.1L457.5 233.1L452.8 232.4L448.2 232L443.8 231.9L440.7 231.8L440.4 231.8L440.1 232L440 232.4L440.1 232.7L440.3 232.9z"/>
<path d="M516.5 260.2L519.9 265.6L525 273.5L530.8 281.1L537 287.7L543.8 293.9L551 299.4L558.7 303.9L566.6 307.7L574.5 310.8L583.2 313.2L591.7 314.8L597.6 315.9L598.6 315.9L599.6 315.4L600.1 314.5L600.2 313.4L599.6 312.4L598.7 311.9L593.2 309.7L585.4 306.5L577.7 303L570.9 299.2L564 294.9L557.2 290.4L550.5 285.4L543.8 280.1L537.4 274.7L530.8 268.5L524.3 262.1L519.8 257.6L518.9 256.9L517.8 256.8L516.8 257.2L516.2 258.1L516.1 259.2z"/>
<path d="M580.7 307.3L582.2 309.7L584.3 312.9L586.4 316.1L588.4 319L590.4 321.8L592.3 324.6L594.2 327.6L596.1 330.7L597.4 332.8L597.9 333.5L598.7 333.9L599.6 333.8L600.3 333.2L600.6 332.4L600.5 331.6L599.8 329.1L598.9 325.5L597.5 321.8L595.8 318.5L593.7 315.3L591.4 312.3L588.5 309.4L585.3 306.8L583.2 305.1L582.4 304.6L581.6 304.6L580.8 305L580.3 305.7L580.3 306.6z"/>
<path d="M514.5 255.9L510.8 258.9L505.6 263.3L500.5 268.1L496 273.4L491.7 279.1L487.7 284.5L483.8 289.7L480.1 294.7L477.6 298.1L477.4 298.5L477.4 299L477.7 299.3L478.1 299.5L478.5 299.5L478.8 299.2L481.9 296.2L486.2 291.7L490.7 286.9L495.1 281.8L499.6 276.4L503.9 271.2L508.4 266L512.8 261L515.9 257.4L516.2 257L516.2 256.4L516 256L515.5 255.7L515 255.7z"/>
<path d="M545.2 254.7L553.3 255.7L564.6 257.4L575.5 261.3L584.8 269.4L594.3 280.2L605.4 289.5L618.9 294.5L633.2 297.6L645.4 301.7L655.1 308.2L663.2 315.9L669.9 323.1L674.5 328.9L677.6 334.1L680.1 339.3L682.3 345.1L683.7 350.9L684.7 355L684.8 355.3L685.1 355.5L685.4 355.5L685.7 355.3L685.9 355.1L685.9 354.7L685.3 350.6L684.2 344.6L682.5 338.4L680.3 332.8L677.4 327L672.8 320.6L666.1 313.1L657.6 305.1L647.2 298.1L634.2 293.8L620 290.8L607.3 286.2L596.9 277.6L587.3 266.9L577.2 258.4L565.2 254.6L553.5 253.5L545.4 253L545 253.1L544.6 253.4L544.5 253.8L544.6 254.2L544.8 254.5z"/>
<path d="M594.3 291.7L595.5 293.2L597.2 295.3L598.9 297.2L600.9 298.7L602.9 300L604.3 300.9L604.6 301L604.9 301L605.1 300.8L605.3 300.5L605.2 300.2L605 299.9L603.8 298.8L602.1 297.2L600.3 295.6L598.4 294L596.4 292.3L594.9 291.1L594.8 291L594.5 291L594.3 291.1L594.2 291.3L594.2 291.5z"/>
<path d="M561.1 317.6L563 319.8L565.7 323L568.4 326.1L571.2 329.2L574 332.3L576 334.5L576.2 334.7L576.6 334.8L576.9 334.7L577.1 334.4L577.1 334.1L577 333.8L575.4 331.2L573.2 327.6L570.6 324.2L567.5 321.2L564.2 318.5L561.9 316.7L561.6 316.5L561.3 316.6L561 316.7L560.9 317L560.9 317.3z"/>
<path d="M574 314.5L576.7 317.3L580.5 321.2L584.2 325.1L587.7 329.5L591.2 334.2L593.7 337.5L594 337.8L594.5 337.9L594.9 337.7L595.2 337.4L595.3 337L595.1 336.6L593.1 332.9L590.1 327.8L586.7 322.9L582.5 319.1L578 315.8L574.8 313.6L574.5 313.4L574.2 313.4L573.9 313.6L573.8 313.9L573.8 314.3z"/>
<path d="M589 321.6L590.9 324.2L593.6 328L596.3 332L599 336.4L601.9 341.1L603.9 344.4L604.2 344.7L604.5 344.8L604.8 344.7L605 344.5L605.1 344.2L605.1 343.9L603.5 340.3L601.3 335.1L598.7 330.4L595.6 326.4L592.3 323.1L590 320.8L589.7 320.6L589.4 320.5L589.1 320.7L588.9 320.9L588.9 321.3z"/>
<path d="M565.5 337.8L569.1 339L574.2 340.8L579.4 342.4L584.6 343.8L589.8 345L593.5 345.8L593.7 345.8L593.9 345.7L594 345.5L594 345.3L593.9 345.1L593.8 345L590.2 343.8L585.1 342L579.9 340.4L574.7 339L569.4 337.8L565.8 337L565.5 337L565.3 337.1L565.2 337.3L565.2 337.5L565.3 337.7z"/>
<path d="M445.5 326.7L448.7 321.8L453.2 314.8L457.8 308L462.5 301.6L467.4 295.4L470.7 291.1L471.1 290.3L471 289.4L470.5 288.7L469.7 288.4L468.8 288.5L468.1 289L464.7 293.3L459.8 299.6L455 306.1L450.6 313.1L446.3 320.3L443.4 325.4L443.2 326L443.3 326.6L443.8 327.1L444.4 327.3L445 327.1z"/>
<path d="M471.8 300.7L476.5 303.3L483.3 307.1L490.2 311L496.5 314.7L502.9 318.5L509.3 322.7L516 327.9L522.9 333.7L529.5 339.1L536 343.9L542 348.3L546.2 351.3L546.8 351.6L547.4 351.5L548 351.1L548.2 350.5L548.2 349.9L547.8 349.3L544 345.9L538.4 340.9L532.5 335.6L526.4 329.8L519.6 323.5L512.7 317.9L505.6 313.8L498.6 310.5L491.8 307.6L484.5 304.6L477.2 301.8L472.2 299.9L472 299.9L471.7 300L471.6 300.1L471.6 300.4L471.6 300.6z"/>
<path d="M459.8 337.8L462.6 341.9L466.6 347.6L470.8 353.6L474.5 358.9L478.3 364.4L483.1 371.1L490.4 380.8L498.7 391.8L504.6 399.7L505.4 400.3L506.3 400.4L507.2 400.1L507.9 399.3L508 398.4L507.7 397.5L502.1 389.4L494.3 378L487.2 368.1L482.1 361.5L477.7 356.4L473.5 351.5L468.6 346.1L463.8 340.9L460.5 337.3L460.3 337.2L460.1 337.1L459.9 337.2L459.7 337.4L459.7 337.6z"/>
<path d="M503.1 360.3L505.2 363L508.3 366.8L511.5 370.9L514.6 374.6L517.8 378.3L521 382.9L524.4 389.8L528 397.7L530.4 403.4L530.8 403.9L531.3 404.1L531.8 404L532.2 403.7L532.5 403.2L532.4 402.7L530.3 396.8L527.2 388.5L523.9 381.2L520.4 376.3L516.8 372.6L513.4 369.2L509.7 365.5L506.2 362.1L503.7 359.8L503.6 359.6L503.3 359.6L503.1 359.7L503 359.9L503 360.1z"/>
<path d="M524.8 375.9L528.9 374.5L534.4 372.7L539.2 372.6L543.5 375L547.8 379L550 383.4L549.5 388.7L546.9 395L543.5 400.1L538.4 403.7L531.9 406.5L527.2 408.4L526.9 408.6L526.7 409L526.7 409.4L527 409.8L527.3 410L527.8 410L532.6 408.4L539.5 406L545.5 402.2L549.6 396.4L552.4 389.5L552.9 382.9L550.2 377.2L545.3 372.5L539.8 369.7L533.9 370.2L528.1 372.6L524.2 374.4L523.8 374.6L523.7 375L523.7 375.5L524 375.8L524.4 376z"/>
<path d="M499.3 339.9L504.5 342L511.8 345.2L519.1 348.4L525.7 351.5L532.3 354.8L538.9 358.4L546.4 363.1L553.9 368.2L559.2 371.8L559.5 371.9L559.8 371.9L560.1 371.7L560.2 371.3L560.1 371L559.9 370.8L554.9 366.8L547.6 361.3L540.2 356.2L533.5 352.4L526.8 349.1L520.1 346.1L512.6 343.2L505 340.5L499.8 338.7L499.5 338.7L499.2 338.8L499 339.1L498.9 339.4L499.1 339.7z"/>
<path d="M669.7 348L667.2 354.3L663.8 363.3L660.4 372.7L658 381.9L655.7 391.2L652.8 399.4L648.8 406L644.1 411.8L638.6 416.4L632.6 419.9L625.9 422.4L617.8 423.9L607.7 424.4L596.1 424L584.3 423.1L571.5 421.9L558.4 420.2L549.3 419L548.5 419.1L547.9 419.5L547.6 420.2L547.7 421L548.1 421.6L548.8 421.9L557.9 423.6L570.9 425.9L583.8 427.7L595.8 428.8L607.7 429.4L618.3 428.9L627.2 427.3L634.8 424.5L641.5 420.5L647.6 415.3L652.9 408.9L657.3 401.5L660.8 392.8L663.3 383.3L665.7 374.2L668.3 364.8L670.8 355.4L672.5 348.9L672.5 348.1L672.2 347.5L671.5 347L670.8 347L670.1 347.3z"/>
<path d="M654.3 392.2L660.7 392.9L670 393.8L679.2 394.8L687.6 395.7L696 396.7L704.1 397.6L712.5 398.4L720.6 399.2L726.2 399.8L726.7 399.7L727 399.4L727.2 399L727.1 398.6L726.9 398.3L726.5 398.1L720.9 397.1L712.9 395.6L704.6 394.3L696.5 393.1L688 392L679.5 391L670.2 390.4L660.9 390L654.4 389.7L653.8 389.8L653.3 390.2L653.1 390.8L653.2 391.5L653.6 392z"/>
<path d="M678.1 339.6L684.7 343.3L694.1 348.5L703.7 353.5L712.6 358.1L721.7 362.5L730.8 366.6L740.6 370.3L750.3 373.6L757.1 375.8L757.6 375.9L758 375.7L758.2 375.3L758.3 374.9L758.1 374.5L757.7 374.3L751.1 371.5L741.6 367.6L732.1 363.5L723.2 359.3L714.2 354.9L705.2 350.5L695.3 346L685.6 341.6L678.7 338.5L678.4 338.4L678.1 338.5L677.9 338.8L677.8 339.1L677.9 339.4z"/>
<path d="M506.7 381.7L514.8 386.9L526.3 394.1L538.4 400.7L549.9 405.2L561.7 408.8L573.5 412.8L587.1 418.2L600.9 424.2L610.6 428.3L611.5 428.5L612.3 428.2L612.8 427.5L613 426.6L612.6 425.8L612 425.3L602.3 420.9L588.6 414.6L575 408.8L563 404.7L551.4 401L540.1 396.9L528.1 391L516.2 384.5L507.8 379.9L507.3 379.8L506.8 379.9L506.4 380.3L506.2 380.8L506.4 381.3z"/>
<path d="M690.3 426.3L687.9 429.7L684.3 434.5L680.7 439.5L676.8 444.8L672.9 450.1L670.2 453.9L670.1 454.1L670.1 454.3L670.2 454.5L670.4 454.6L670.7 454.6L670.8 454.4L673.8 450.9L678.2 445.8L682.3 440.8L686.2 436L690 431.3L692.7 428.1L693 427.4L692.9 426.6L692.4 426L691.7 425.7L690.9 425.8z"/>
<path d="M543.7 369.6L549.5 367.1L557.6 363.8L565.7 361.7L573.2 361.7L581.1 362.8L589.1 364.5L596.9 366.8L604.8 369.8L613 372.5L622.6 374.6L632.4 376.4L639.3 377.7L639.6 377.6L639.9 377.5L640 377.2L640 376.8L639.8 376.6L639.6 376.4L632.8 374.7L623.2 372.2L613.8 369.6L605.8 366.9L597.8 364L589.8 361.6L581.6 359.7L573.4 358.3L565.2 358.4L556.6 361.2L548.6 365.4L543.1 368.5L542.9 368.7L542.8 369L542.9 369.3L543.1 369.6L543.4 369.7z"/>
<path d="M609.5 361.9L614.6 362.9L621.9 364.2L629.4 365.5L636.7 366.6L644.1 367.5L651.4 368.5L658.9 369.7L666.3 371L671.4 371.9L671.8 371.9L672 371.7L672.2 371.4L672.2 371.1L672 370.8L671.7 370.7L666.6 369.4L659.3 367.6L651.8 366L644.5 364.9L637 363.9L629.7 363L622.2 362.1L614.8 361.3L609.7 360.7L609.3 360.7L609.1 360.9L608.9 361.2L609 361.5L609.2 361.8z"/>
<path d="M639 329.8L643.7 332.5L650.3 336.4L656.5 340.4L661.8 344.6L666.9 349L670.4 352.1L671.1 352.5L671.9 352.4L672.5 352L672.9 351.4L672.8 350.6L672.4 350L669 346.7L664 342L658.4 337.7L651.8 333.9L644.8 330.6L639.8 328.3L639.4 328.2L639 328.3L638.7 328.7L638.6 329.1L638.7 329.5z"/>
<path d="M662.1 387.5L665.2 385.2L669.6 381.9L673.9 378.5L677.8 374.6L681.6 370.5L684.2 367.7L684.7 367L684.7 366.1L684.3 365.3L683.6 364.8L682.7 364.8L681.9 365.2L678.8 367.5L674.4 370.9L670.2 374.4L666.4 378.3L662.6 382.5L660.1 385.4L659.7 386L659.6 386.8L660 387.4L660.6 387.8L661.4 387.9z"/>
<path d="M611.2 403.8L608.6 405.4L604.8 407.7L600.9 410.2L596.6 413.2L592.3 416.5L589.2 418.8L589 419L588.9 419.3L589 419.6L589.3 419.8L589.6 419.9L589.9 419.8L593.2 417.9L597.9 415.1L602.3 412.3L606.1 409.5L609.5 406.7L611.9 404.8L612.1 404.5L612.2 404.2L612.1 403.9L611.8 403.7L611.5 403.7z"/>
</g>
<g fill="#b8405a" fill-opacity="0.55" stroke="#7a2a3a" stroke-opacity="0.3" stroke-width="0.6">
<path d="M342.8 158.9L343.6 160.6L344.7 163L346 165.9L347.4 168.7L348.8 171.3L350.2 173.7L351.6 176L353.2 178.3L354.8 180.5L356.4 182.7L358.2 185L360.2 187.3L362.1 189.4L363.7 191.2L364.9 192.5L366.6 193.7L368.6 194L370.5 193.1L371.7 191.4L372 189.4L371.1 187.5L370.1 186.1L368.6 184.1L367 181.8L365.2 179.5L363.6 177.3L362 175.2L360.4 173.1L358.8 170.9L357 168.7L355.2 166.7L353.2 164.5L350.9 162.3L348.6 160.2L346.6 158.4L345.2 157.1L344.6 156.6L343.8 156.5L343.1 156.8L342.6 157.4L342.5 158.2z"/>
<path d="M797.6 148.8L798.7 149.6L800.1 150.7L801.8 151.9L803.6 153.1L805.4 154.2L807 155.2L808.8 156L810.5 156.8L812.2 157.6L813.8 158.3L815.5 159.1L817.2 160L819 160.8L820.5 161.5L821.5 162L822.7 162.5L824 162.3L825 161.5L825.5 160.3L825.3 159L824.5 158L823.7 157.1L822.5 155.9L821.2 154.5L819.7 153L818.2 151.7L816.8 150.4L815.3 149.2L813.7 148L812.2 146.8L810.6 145.8L808.9 144.7L807 143.6L805.1 142.6L803.5 141.8L802.4 141.2L800.2 140.5L797.9 141L796.2 142.6L795.5 144.8L796 147.1z"/>
<path d="M825.3 143.4L826.3 144L827.7 145L829.4 146.1L831.5 147L833.7 147.5L836 147.3L838.1 146.6L840 145.8L841.4 145L842.4 144.5L843.6 143.9L844.3 142.9L844.5 141.6L843.9 140.4L842.9 139.7L841.6 139.5L840.4 139.4L838.8 139.2L837.1 138.9L835.4 138.7L834.3 138.5L833.1 138.5L831.4 138.6L829.6 138.6L827.9 138.6L826.7 138.6L825.4 138.6L824.3 139.2L823.6 140.3L823.6 141.6L824.2 142.7z"/>
</g>
<g fill="#a8273f" stroke="#8a1c31" stroke-width="0.5" stroke-linejoin="round">
<path d="M702.5 104.5L704.3 106.4L706.9 109.1L710.1 112.2L713.6 115.5L717.4 118.3L721.4 120.7L725.7 122.9L730.3 125L734.9 126.9L739.5 128.5L744.1 129.8L748.7 130.8L753.2 131.6L757.4 132.2L761.5 132.7L765.4 133.1L769.2 133.2L772.4 133.2L775.2 133.4L777.5 134L779.7 135.1L781.9 136.6L784.1 138.5L786.4 140.5L788.6 142.3L790.7 144L792.7 145.6L794.7 147.2L796.4 148.6L797.6 149.7L799.9 150.9L802.5 150.8L804.7 149.4L805.9 147.1L805.8 144.5L804.4 142.3L803.3 141.2L801.8 139.6L799.9 137.6L797.7 135.6L795.4 133.7L793.1 132L790.4 130.1L787.5 128.2L784.1 126.4L780.5 125L776.6 124.1L772.9 123.8L769.4 123.7L766 123.6L762.5 123.3L758.7 122.8L754.6 122.2L750.5 121.5L746.4 120.6L742.5 119.5L738.5 117.9L734.4 116L730.3 113.9L726.3 111.7L722.6 109.7L718.8 107.8L714.9 105.7L711.1 103.6L707.9 101.8L705.5 100.5L704.3 100L703 100.2L702 101L701.5 102.2L701.7 103.5z"/>
<path d="M828.4 146L830.4 146L833.4 146.1L836.8 146.2L840.4 146.1L843.8 145.9L846.8 145.6L849.9 145.2L853 144.7L856.3 143.9L859.7 143L863.3 141.6L867 140L870.5 138.3L873.4 136.9L875.5 135.9L877.6 134L878.5 131.3L877.9 128.5L876 126.4L873.3 125.5L870.5 126.1L868.5 127.1L865.6 128.6L862.4 130.3L859.2 131.9L856.3 133L853.7 133.8L851 134.4L848.1 134.9L845.2 135.4L842.2 136.1L839.1 136.9L835.7 137.8L832.5 138.7L829.6 139.5L827.6 140L826.2 140.6L825.2 141.8L825 143.4L825.6 144.8L826.8 145.8z"/>
<path d="M900.3 179L901.6 177.6L903.3 175.7L905.1 173.9L906.7 172.5L907.7 171.9L908.6 171.8L910.1 171.8L911.7 172L913 172.5L913.8 173L914.6 174L915.5 175.9L916.4 178.2L917.1 180.7L917.6 182.8L917.7 184.5L917.5 186.5L917.2 188.6L916.8 190.6L916.6 192.2L916.8 194.8L918.3 196.9L920.7 197.9L923.3 197.7L925.4 196.2L926.4 193.8L926.7 192.4L927.1 190.3L927.5 187.6L927.7 184.5L927.4 181.2L926.7 178.1L925.7 175L924.3 171.8L922.5 168.7L920.2 166L917.2 164L914.1 162.9L910.9 162.3L907.7 162.3L904.3 163.1L901.1 164.9L898.5 167.2L896.4 169.7L894.8 171.7L893.7 173L892.6 175.1L892.7 177.4L894 179.3L896.1 180.4L898.4 180.3z"/>
<path d="M675.4 137.9L675.3 138.3L675.2 138.9L675.1 139.6L675.1 140.2L675.2 140.8L675.5 141.3L676 141.8L676.5 142.2L677 142.6L677.4 142.9L678.9 144.9L681.3 145.9L683.9 145.6L685.9 144.1L686.9 141.7L686.6 139.1L686.7 138.7L686.8 138.1L686.9 137.4L686.9 136.8L686.8 136.2L686.5 135.7L686 135.2L685.5 134.8L685 134.4L684.6 134.1L683.1 132.1L680.7 131.1L678.1 131.4L676.1 132.9L675.1 135.3z"/>
<path d="M691.5 161.9L692.6 162.6L694.1 163.6L696 164.8L697.9 166L699.8 167L701.7 167.9L703.6 168.8L705.7 169.6L707.7 170.4L709.9 171L712.2 171.6L714.6 172.1L717 172.4L719.1 172.7L720.5 172.9L721.3 173L722 172.6L722.4 172L722.5 171.2L722.1 170.5L721.5 170.1L720.2 169.4L718.4 168.3L716.3 167.2L714.2 166L712.1 165L710.2 164.1L708.2 163.2L706.2 162.4L704.2 161.6L702.2 161L700.1 160.4L697.8 160L695.7 159.6L693.8 159.3L692.5 159.1L691.8 159L691.1 159.3L690.6 160L690.5 160.7L690.8 161.4z"/>
<path d="M685.5 171.6L686 172.5L686.7 173.8L687.5 175.3L688.5 176.8L689.7 178.1L691.2 179.2L692.9 180.2L694.7 181.1L696.3 181.8L697.4 182.3L698.2 182.7L699.1 182.6L699.8 182.1L700.2 181.3L700.1 180.4L699.6 179.7L698.9 178.7L697.9 177.3L696.8 175.6L695.5 174.1L694.3 172.9L693 171.9L691.4 171.1L689.8 170.4L688.5 169.8L687.5 169.4L686.8 169L686.1 169.1L685.4 169.5L685 170.2L685.1 170.9z"/>
<path d="M748.6 188.6L748.5 189.7L748.4 191.2L748.3 192.9L748.4 194.8L748.8 196.5L749.5 198.2L750.5 199.8L751.6 201.2L752.6 202.4L753.3 203.2L754.2 204.4L755.7 205L757.2 204.7L758.4 203.8L759 202.3L758.7 200.8L758.5 199.7L758.3 198.2L758 196.5L757.7 194.9L757.2 193.5L756.6 192.2L755.7 190.8L754.8 189.4L754 188.2L753.4 187.4L752.8 186.2L751.6 185.6L750.4 185.6L749.2 186.2L748.6 187.4z"/>
<path d="M768.5 255.2L768.4 256.8L768.3 259L768.1 261.7L768.2 264.5L768.7 267.1L769.5 269.4L770.7 271.5L771.9 273.4L773.2 275.1L774.6 276.7L776 278.4L777.7 280L779.2 281.4L780.6 282.5L781.5 283.3L782.4 283.9L783.4 284L784.3 283.5L784.9 282.6L785 281.6L784.5 280.7L783.7 279.6L782.7 278.2L781.6 276.6L780.4 274.9L779.4 273.3L778.5 271.6L777.6 269.9L776.8 268.2L776 266.5L775.3 264.9L774.5 263L773.6 260.7L772.8 258.4L772 256.3L771.5 254.8L771.2 254.1L770.6 253.6L769.8 253.5L769.1 253.8L768.6 254.4z"/>
<path d="M855.4 123.6L855.4 123.6L855.5 123.7L855.7 123.8L855.8 123.8L855.9 123.9L856.5 124L857.1 123.9L857.6 123.4L857.7 122.8L857.6 122.2L857.1 121.7L857.1 121.7L857 121.6L856.8 121.5L856.7 121.5L856.6 121.4L856 121.3L855.4 121.4L854.9 121.9L854.8 122.5L854.9 123.1z"/>
<path d="M871.3 188.4L871.4 188.7L871.5 189.1L871.6 189.6L871.7 190.1L871.8 190.4L872 190.8L872.2 191.2L872.4 191.5L872.6 191.9L872.8 192.2L872.9 192.5L873.3 192.7L873.7 192.7L874 192.6L874.2 192.2L874.2 191.8L874.3 191.6L874.3 191.1L874.3 190.6L874.3 190.1L874.2 189.6L873.9 189.1L873.6 188.6L873.2 188.2L872.9 187.9L872.7 187.6L872.4 187.4L872 187.3L871.6 187.3L871.4 187.6L871.3 188z"/>
<path d="M759.4 179.8L759.8 180.2L760.2 180.8L760.8 181.4L761.5 182.1L762.2 182.6L763 182.9L763.9 183L764.7 183L765.3 183L765.7 183L766.2 183L766.7 182.7L767 182.3L767 181.8L766.7 181.3L766.3 181L765.9 180.8L765.4 180.5L764.8 180.1L764.3 179.7L763.8 179.4L763.2 179.2L762.5 178.9L761.7 178.6L761.1 178.4L760.6 178.2L760.1 178L759.6 178.1L759.2 178.4L759 178.9L759.1 179.4z"/>
<path d="M732.5 160.9L733 161.3L733.6 162L734.4 162.8L735.4 163.5L736.5 163.9L737.7 164L738.8 163.8L739.8 163.5L740.5 163.2L741.1 163L741.5 162.8L741.9 162.4L742 161.9L741.8 161.5L741.4 161.1L740.9 161L740.4 160.9L739.6 160.7L738.8 160.4L738 160.2L737.5 160.1L736.9 159.9L736 159.7L735 159.5L734.1 159.3L733.5 159.1L733 159L732.5 159.1L732.1 159.5L732 160L732.1 160.5z"/>
<path d="M90 293.3L90 294.1L89.9 295.3L89.8 296.7L89.7 298.1L89.8 299.3L90 300.6L90.4 301.9L90.8 303.2L91.2 304.3L91.5 305.1L91.8 305.8L92.3 306.4L93.1 306.5L93.8 306.2L94.4 305.7L94.5 304.9L94.6 304.1L94.9 302.9L95.1 301.5L95.3 300L95.2 298.7L94.9 297.3L94.4 295.9L93.9 294.6L93.3 293.5L93 292.7L92.6 292L92 291.6L91.2 291.5L90.5 291.9L90.1 292.5z"/>
<path d="M150.4 296.5L150.4 297.9L150.4 300L150.4 302.4L150.6 304.9L150.9 307.2L151.5 309.3L152.2 311.4L153.1 313.4L153.9 315.4L154.8 317.5L155.6 319.7L156.4 321.9L157.2 324L158 325.9L158.8 327.6L159.7 329.2L160.8 331L161.9 332.8L162.9 334.4L163.6 335.5L164.1 336.4L165 336.9L166 336.9L166.9 336.4L167.4 335.5L167.4 334.5L167.5 333.2L167.7 331.4L167.7 329.2L167.6 326.8L167.2 324.4L166.4 322.2L165.4 320.2L164.2 318.2L163.1 316.3L162.2 314.5L161.5 312.6L160.9 310.6L160.4 308.6L159.8 306.7L159.1 304.8L158.1 302.8L157 300.6L155.9 298.6L154.9 296.8L154.2 295.5L153.7 294.6L152.8 294.1L151.8 294.1L150.9 294.6L150.4 295.5z"/>
<path d="M164.6 348.9L165.3 349.5L166.3 350.3L167.5 351.2L168.8 352.2L170 353L171.2 353.7L172.4 354.4L173.6 355L174.8 355.5L176 356L177.2 356.4L178.5 356.7L179.8 357L180.8 357.2L181.6 357.4L182.1 357.5L182.6 357.3L182.9 356.9L183 356.4L182.8 355.9L182.4 355.6L181.9 355.1L181.1 354.4L180.1 353.6L179.1 352.7L178 352L176.9 351.3L175.7 350.7L174.5 350.1L173.3 349.5L172 349L170.6 348.5L169.1 348.1L167.6 347.7L166.3 347.3L165.4 347.1L164.9 347L164.4 347.2L164.1 347.6L164 348.1L164.2 348.6z"/>
<path d="M116.6 324.7L117.4 325.2L118.4 326.1L119.6 327L120.9 327.9L122.4 328.6L123.9 329.1L125.7 329.4L127.4 329.5L128.8 329.6L129.8 329.7L130.2 329.7L130.5 329.5L130.7 329.2L130.7 328.8L130.5 328.5L130.2 328.3L129.3 327.9L128 327.3L126.5 326.6L124.9 325.9L123.6 325.4L122.3 324.9L120.9 324.4L119.5 324L118.2 323.6L117.4 323.3L117 323.3L116.6 323.4L116.3 323.6L116.3 324L116.4 324.4z"/>
<path d="M155.3 337.7L155.9 338.5L156.6 339.6L157.6 341L158.6 342.3L159.6 343.4L160.7 344.4L162 345.4L163.4 346.4L164.5 347.1L165.3 347.7L165.7 348L166.3 348L166.7 347.7L167 347.3L167 346.7L166.7 346.3L166.1 345.5L165.4 344.4L164.4 343L163.4 341.7L162.4 340.6L161.3 339.6L160 338.6L158.6 337.6L157.5 336.9L156.7 336.3L156.3 336L155.7 336L155.3 336.3L155 336.7L155 337.3z"/>
<path d="M269.2 328.3L269.2 328.9L269.1 329.8L269.1 330.7L269.1 331.7L269.3 332.6L269.7 333.5L270.3 334.5L271 335.5L271.7 336.4L272.1 337L273.1 338.5L274.7 339.4L276.5 339.4L278 338.4L278.9 336.8L278.9 335L278.9 334.3L279 333.2L279 331.9L279 330.6L278.7 329.4L278.3 328.4L277.6 327.5L276.8 326.8L276.2 326.2L275.8 325.7L274.7 324.3L273 323.5L271.2 323.7L269.8 324.8L269 326.5z"/>
<path d="M282.7 367L284.5 367.6L287 368.5L289.8 369.5L292.8 370.6L295.5 371.4L298 372.1L300.5 372.8L302.9 373.3L305.3 373.9L307.5 374.4L309.7 375L311.9 375.6L314 376.1L315.9 376.6L317.5 376.9L318.8 377.1L319.8 377.2L320.6 377.2L321.2 377.2L321.7 377.2L322.3 377.2L322.9 376.9L323.2 376.3L323.2 375.7L322.9 375.1L322.3 374.8L321.9 374.6L321.3 374.3L320.6 373.9L319.7 373.5L318.5 373.1L316.9 372.6L315 372.1L312.9 371.6L310.7 371.1L308.5 370.6L306.2 370L303.9 369.4L301.5 368.7L299 368.1L296.5 367.6L293.7 367L290.7 366.4L287.7 365.8L285.1 365.4L283.3 365L282.7 365L282.3 365.3L282 365.7L282 366.3L282.3 366.7z"/>
<path d="M324.1 377.5L324.9 377.6L326.1 377.7L327.4 377.8L328.9 377.9L330.2 377.9L331.5 377.8L332.8 377.6L334.1 377.3L335.3 377L336.4 376.7L337.4 376.4L338.3 376L339.1 375.6L339.8 375.2L340.3 375L340.7 374.7L341 374.3L341 373.7L340.7 373.3L340.3 373L339.7 373L339.2 373.1L338.5 373.1L337.6 373.1L336.6 373.2L335.6 373.3L334.6 373.4L333.4 373.5L332.2 373.7L331 373.9L329.8 374.1L328.5 374.4L327.2 374.7L325.9 375L324.7 375.3L323.9 375.5L323.4 375.7L323.1 376.1L323 376.6L323.2 377.1L323.6 377.4z"/>
<path d="M224.1 331.5L224.3 332.3L224.5 333.5L224.8 334.8L225.3 336.2L226 337.4L226.9 338.5L228.1 339.5L229.4 340.4L230.5 341.1L231.2 341.6L231.6 341.9L232.2 342L232.6 341.8L232.9 341.4L233 340.8L232.8 340.4L232.4 339.5L231.9 338.3L231.3 337L230.7 335.6L230 334.6L229.3 333.7L228.3 332.7L227.4 331.8L226.5 331.1L225.9 330.5L225.5 330.1L225 330L224.5 330.1L224.1 330.5L224 331z"/>
<path d="M233.3 350L234.2 350L235.4 350.1L236.9 350.1L238.5 349.9L240 349.6L241.4 348.8L242.9 347.8L244.4 346.6L245.6 345.6L246.4 344.9L246.8 344.6L247 344.1L246.9 343.6L246.6 343.2L246.1 343L245.6 343.1L244.5 343.2L243 343.4L241.2 343.7L239.5 344L238 344.4L236.8 345L235.5 345.9L234.4 346.7L233.4 347.5L232.7 348L232.3 348.3L232 348.8L232 349.3L232.3 349.7L232.8 350z"/>
<path d="M169.6 358.9L170.3 359.4L171.4 360.2L172.6 361L174 361.9L175.2 362.6L176.5 363.2L178 363.7L179.4 364.2L180.7 364.6L181.6 364.9L182.1 365L182.6 364.8L182.9 364.4L183 363.9L182.8 363.4L182.4 363.1L181.7 362.6L180.6 361.8L179.4 361L178 360.1L176.8 359.4L175.5 358.8L174 358.3L172.6 357.8L171.3 357.4L170.4 357.1L169.9 357L169.4 357.2L169.1 357.6L169 358.1L169.2 358.6z"/>
<path d="M271.6 362.6L272.2 363.2L273.1 363.9L274.1 364.8L275.2 365.7L276.3 366.3L277.5 366.8L278.8 367.2L280 367.4L281 367.6L281.7 367.7L282.1 367.7L282.5 367.6L282.7 367.3L282.7 366.9L282.6 366.5L282.3 366.3L281.6 365.9L280.7 365.4L279.7 364.8L278.6 364.2L277.7 363.7L276.6 363.2L275.4 362.6L274.2 362.1L273.1 361.7L272.4 361.4L272 361.3L271.6 361.3L271.4 361.6L271.3 362L271.3 362.4z"/>
<path d="M433.1 265.5L434.3 265.8L436 266.3L438.1 266.8L440.2 267.3L442.3 267.5L444.3 267.5L446.4 267.4L448.5 267.2L450.5 266.8L452.5 266.5L454.6 265.9L456.7 265.3L458.6 264.5L460.3 263.9L461.4 263.5L462.6 262.9L463.3 261.9L463.5 260.6L462.9 259.4L461.9 258.7L460.6 258.5L459.3 258.5L457.6 258.5L455.5 258.5L453.4 258.5L451.5 258.5L449.6 258.6L447.6 258.8L445.6 258.9L443.6 259.2L441.7 259.5L439.8 260L437.7 260.7L435.8 261.4L434.1 262.1L432.9 262.5L432.2 262.7L431.7 263.3L431.5 264.1L431.7 264.8L432.3 265.3z"/>
<path d="M499.5 260.4L500.7 260.2L502.3 259.9L504.2 259.6L506.2 259.2L508.1 258.8L509.9 258.3L511.7 257.8L513.4 257.2L515 256.7L516.5 256.2L518.1 255.7L519.7 255.1L521.2 254.6L522.6 254.1L523.5 253.8L525.3 252.5L526.2 250.5L526 248.3L524.7 246.5L522.7 245.6L520.5 245.8L519.6 246.2L518.3 246.7L516.7 247.3L515.1 248.1L513.5 248.8L511.9 249.6L510.4 250.5L508.8 251.4L507.3 252.3L505.9 253.2L504.3 254.2L502.6 255.2L500.9 256.1L499.5 257L498.5 257.6L497.8 258L497.5 258.7L497.6 259.5L498 260.2L498.7 260.5z"/>
<path d="M535.8 238.7L536.2 239L536.7 239.4L537.4 239.8L538.2 240.1L539 240.2L539.8 240.1L540.6 239.8L541.3 239.4L541.8 239L542.2 238.7L542.5 238.6L542.7 238.2L542.7 237.8L542.6 237.5L542.2 237.3L541.8 237.3L541.4 237.2L540.8 237.1L540.1 236.9L539.5 236.8L539 236.8L538.5 236.8L537.9 236.9L537.2 237.1L536.6 237.2L536.2 237.3L535.8 237.3L535.4 237.5L535.3 237.8L535.3 238.2L535.5 238.6z"/>
<path d="M532.1 321.5L533.1 321.7L534.5 321.9L536 322.2L537.7 322.4L539.1 322.5L540.4 322.5L541.8 322.5L543.2 322.4L544.6 322.2L546.1 322L547.6 321.7L549.3 321.2L550.8 320.7L552.1 320.3L553.1 320L553.6 319.8L553.9 319.4L554 318.9L553.8 318.4L553.4 318.1L552.9 318L551.9 317.9L550.6 317.7L549 317.4L547.4 317.2L545.9 317L544.6 316.8L543.2 316.6L541.8 316.5L540.4 316.4L538.9 316.5L537.3 316.8L535.7 317.2L534.1 317.7L532.8 318.2L531.9 318.5L531.1 318.8L530.6 319.4L530.5 320.1L530.8 320.9L531.4 321.4z"/>
<path d="M545.4 372.4L548.3 371.8L552.2 370.8L556.8 369.8L561.3 369L565.4 368.7L569.5 368.8L574.2 369.2L579.3 369.7L584.4 370.4L589.3 371.2L594 372L598.7 373L603.2 374L607.5 375.1L611.5 375.9L614.9 376.7L618 377.5L620.8 378.1L623.3 378.5L625.8 378.7L628.3 378.6L630.6 378.1L632.5 377.5L634 376.9L635.1 376.5L635.9 376.2L636.4 375.6L636.5 374.9L636.2 374.1L635.6 373.6L634.9 373.5L633.7 373.3L632.1 373.1L630.2 372.8L628.2 372.5L626.2 372.3L623.9 372.1L621.5 372L618.8 371.9L615.9 371.6L612.5 371.1L608.8 370.1L604.6 368.9L600.1 367.5L595.4 366.1L590.7 364.8L585.8 363.6L580.7 362.2L575.4 360.9L570 360.2L564.6 360.3L559.4 361.6L554.6 364L550.4 366.6L547 369L544.6 370.6L544.2 370.9L544 371.4L544.1 371.9L544.4 372.3L544.9 372.5z"/>
<path d="M666.4 387.4L667.9 386.6L669.9 385.6L672.3 384.4L674.6 383L676.4 381.6L677.9 380L679.4 378L680.7 376L681.8 374.2L682.6 372.9L683.4 371.8L683.5 370.5L682.9 369.4L681.8 368.6L680.5 368.5L679.4 369.1L678 369.7L676 370.5L673.8 371.6L671.5 372.8L669.6 374.4L668 376.3L666.5 378.7L665.3 381.1L664.3 383.1L663.6 384.6L663.1 385.5L663.1 386.5L663.6 387.4L664.5 387.9L665.5 387.9z"/>
<path d="M300.4 193.1L300.4 193.1L300.5 193.2L300.7 193.3L300.8 193.3L300.9 193.4L301.5 193.5L302.1 193.4L302.6 192.9L302.7 192.3L302.6 191.7L302.1 191.2L302.1 191.2L302 191.1L301.8 191L301.7 191L301.6 190.9L301 190.8L300.4 190.9L299.9 191.4L299.8 192L299.9 192.6z"/>
<path d="M512.8 396L513 396.1L513.3 396.3L513.6 396.6L513.9 396.8L514.2 396.9L514.5 397L514.9 397L515.3 397L515.6 397L515.8 397L516.1 397L516.3 396.9L516.5 396.7L516.5 396.4L516.4 396.2L516.2 396L516 395.9L515.7 395.7L515.4 395.4L515.1 395.2L514.8 395.1L514.5 395L514.1 395L513.7 395L513.4 395L513.2 395L512.9 395L512.7 395.1L512.5 395.3L512.5 395.6L512.6 395.8z"/>
<path d="M580 199.1L580 199.4L580 199.8L580 200.3L580 200.8L580 201.2L580.2 201.7L580.4 202.1L580.6 202.5L580.9 202.9L581 203.1L581.1 203.3L581.4 203.5L581.6 203.5L581.8 203.4L582 203.1L582 202.9L582 202.6L582 202.2L582 201.7L582 201.2L582 200.8L581.8 200.3L581.6 199.9L581.4 199.5L581.1 199.1L581 198.9L580.9 198.7L580.6 198.5L580.4 198.5L580.2 198.6L580 198.9z"/>
<path d="M357.5 181.3L358.2 182.6L359.1 184.6L360.3 186.8L361.6 189L363 191L364.4 192.5L365.8 193.9L367.4 195.1L369 196.2L370.7 197.2L372.6 198.3L374.7 199.2L376.8 200L378.5 200.7L379.7 201.1L381 201.5L382.2 201.2L383.1 200.3L383.5 199L383.2 197.8L382.3 196.9L381.3 196L379.9 194.8L378.3 193.4L376.7 192L375.3 190.8L374.1 189.6L372.9 188.4L371.7 187.3L370.4 186.2L369 185L367.4 183.8L365.4 182.3L363.5 180.9L361.7 179.6L360.5 178.7L359.7 178.1L358.6 178L357.7 178.5L357.1 179.3L357 180.4z"/>
</g>
<g fill="#cf6478" fill-opacity="0.5" filter="url(#b1)">
<path d="M702.7 101.3L706.5 104.6L712.1 109.1L718.3 113.5L725 117.3L732.3 120.8L739.7 123.6L747 125.5L754.2 126.7L761 127.7L767.2 128.1L772.8 128.2L777.7 129.1L782.1 131.4L786.3 134.5L790.1 137.5L793.7 140.5L796.9 143.3L799.1 145.3L799.8 145.7L800.6 145.7L801.2 145.3L801.6 144.6L801.6 143.8L801.1 143.1L799 141L795.8 138L792.2 135L788.2 131.9L783.7 128.8L778.6 126.4L773 125.4L767.3 125.3L761.3 124.8L754.6 123.9L747.6 122.7L740.6 120.9L733.5 118.1L726.5 114.5L719.9 111L713.6 107L707.7 103L703.6 100.1L703.2 100L702.8 100L702.5 100.3L702.4 100.6L702.4 101z"/>
<path d="M827.2 142.1L831.1 141.8L836.7 141.4L842.3 140.7L847.4 140L852.5 139.1L857.6 137.7L863.3 135.4L869 132.7L872.9 130.7L873.5 130.1L873.8 129.3L873.6 128.5L873 127.9L872.2 127.6L871.4 127.8L867.5 129.7L862 132.5L856.6 134.8L851.8 136L846.9 136.9L841.9 137.8L836.4 138.8L830.9 139.7L827 140.3L826.6 140.5L826.3 140.9L826.2 141.4L826.4 141.8L826.8 142.1z"/>
<path d="M897.2 175.3L899.5 172.7L902.6 169.3L905.7 167.2L908.9 166.8L912.4 167.4L915.2 169L917.4 172L919.1 176.4L920.2 180.6L920.3 184.5L919.7 188.4L919.2 191.1L919.3 191.9L919.7 192.5L920.4 192.9L921.2 192.8L921.8 192.4L922.2 191.7L922.7 188.8L923.3 184.7L923.2 180.2L922 175.5L920 170.7L917.2 166.8L913.3 164.7L909 164L904.7 164.6L900.8 167.2L897.4 170.9L895.2 173.5L894.9 174.1L894.9 174.8L895.3 175.4L895.9 175.7L896.6 175.7z"/>
<path d="M677.6 134.6L677.8 135.3L678 136.2L678.3 137.2L678.7 138.1L679.2 139L679.6 139.6L680.1 140.2L680.8 140.5L681.6 140.4L682.2 139.9L682.5 139.2L682.4 138.4L682.2 137.7L682 136.8L681.7 135.8L681.3 134.9L680.8 134L680.4 133.4L679.9 132.8L679.2 132.5L678.4 132.6L677.8 133.1L677.5 133.8z"/>
<path d="M749.6 186.8L749.8 188.6L750.3 191.3L751 194L752.2 196.6L753.5 199.2L754.5 200.9L754.8 201.3L755.2 201.5L755.6 201.4L756 201.1L756.2 200.7L756.1 200.2L755.4 198.3L754.5 195.7L753.6 193.1L752.6 190.6L751.7 188.1L751 186.4L750.8 186L750.5 185.8L750.1 185.8L749.8 186L749.6 186.4z"/>
<path d="M151 294.7L151.5 297.4L152.2 301.1L153.1 304.9L154.1 308.3L155.3 311.6L156.7 315L158.1 318.5L159.7 321.9L161 325L162.3 328.3L163.4 331.5L164.2 333.7L164.3 334L164.6 334.1L164.9 334.1L165.2 334L165.4 333.7L165.4 333.4L165 331.1L164.4 327.7L163.5 324.1L162.1 320.7L160.4 317.4L158.9 314.1L157.7 310.8L156.6 307.5L155.5 304.2L154.3 300.6L153 297L152.2 294.4L152 294.1L151.7 294L151.4 294L151.2 294.1L151 294.4z"/>
<path d="M270.7 325.8L271 326.8L271.3 328.3L271.8 329.9L272.4 331.6L273.2 333.4L273.7 334.7L274 335.2L274.5 335.4L275 335.4L275.5 335.1L275.7 334.6L275.7 334.1L275.5 332.7L275.1 330.8L274.6 328.9L274 327.4L273.2 326L272.7 325L272.4 324.6L271.9 324.4L271.3 324.4L270.9 324.7L270.7 325.2z"/>
<path d="M432.4 263.2L434.7 263.3L438 263.4L441.4 263.4L444.8 263.2L448.2 262.9L451.5 262.4L454.9 261.8L458.2 261L460.5 260.5L460.8 260.3L461.1 260L461.1 259.6L460.9 259.2L460.6 259L460.2 259L457.9 259.3L454.6 259.6L451.2 260L447.9 260.4L444.5 260.7L441.3 261L437.9 261.5L434.6 261.9L432.3 262.3L432.1 262.3L432 262.5L431.9 262.7L432 263L432.2 263.1z"/>
<path d="M498.5 258.1L500.6 257.4L503.6 256.5L506.7 255.5L509.4 254.4L512.2 253.3L514.8 252.2L517.4 251.2L520 250.3L521.8 249.6L522.3 249.2L522.6 248.6L522.5 248L522.1 247.5L521.5 247.2L520.9 247.2L519.1 247.9L516.5 248.9L513.9 250L511.3 251.2L508.6 252.5L506 253.8L503.1 255.1L500.2 256.3L498.2 257.2L498 257.4L497.9 257.6L497.9 257.8L498 258L498.2 258.1z"/>
<path d="M544.4 370.4L549.6 368.5L556.8 365.9L564.4 364.4L572.3 364.7L580.8 366L589.1 367.6L597 369.3L604.5 371.3L611.2 372.9L616.6 374L621.2 374.7L625.3 375.1L629.1 375L632.2 374.5L634.4 374.1L634.6 374L634.7 373.8L634.8 373.6L634.7 373.4L634.5 373.2L634.3 373.2L632.1 373.3L629 373.3L625.4 373.2L621.4 372.9L616.9 372.3L611.5 371.4L604.9 369.7L597.4 367.6L589.5 365.7L581.2 363.8L572.5 362.2L564.2 361.9L556.2 364L549.1 367.4L544.2 369.9L544.1 370L544 370.1L544 370.3L544.1 370.4L544.3 370.4z"/>
<path d="M664.6 384.8L666.9 382.9L670.1 380.2L673.2 377.5L676.1 374.7L678.8 371.9L680.7 370L680.9 369.6L680.9 369.3L680.8 368.9L680.4 368.7L680.1 368.7L679.7 368.8L677.5 370.4L674.3 372.7L671.2 375.3L668.3 378.4L665.6 381.7L663.8 384L663.6 384.2L663.6 384.6L663.8 384.8L664 385L664.4 385z"/>
<path d="M357.9 179L359.5 181.3L361.9 184.5L364.4 187.5L366.7 189.8L369.1 191.8L371.6 193.6L374.6 195.5L377.8 197.1L379.9 198.3L380.3 198.4L380.7 198.3L381 198L381.1 197.7L381 197.3L380.7 197L378.7 195.6L375.8 193.7L373 191.7L370.7 189.8L368.5 187.8L366.2 185.7L363.5 183.1L360.7 180.3L358.8 178.3L358.5 178.1L358.2 178L357.9 178.2L357.8 178.4L357.7 178.7z"/>
</g>
</g>
<g id="annot">
<path d="M14.8 243.7L157.3 176.6" stroke="#000" stroke-width="1.8" fill="none"/><path d="M162.7 174L154.3 183.1L150.3 174.7z" fill="#000"/><path d="M9.4 246.3L17.8 237.2L21.8 245.6z" fill="#000"/>
<path d="M165.1 191.4L171.2 239.6" stroke="#000" stroke-width="1.8" fill="none"/><path d="M172 245.6L166 234.8L175.1 233.6z" fill="#000"/><path d="M164.3 185.4L170.3 196.2L161.2 197.4z" fill="#000"/>
<path d="M180.9 179.9L347.7 300" stroke="#000" stroke-width="1.8" fill="none"/><path d="M352.6 303.5L340.6 300.5L346 293z" fill="#000"/><path d="M176 176.4L188 179.4L182.6 186.9z" fill="#000"/>
<path d="M211.6 91L353.7 24.4" stroke="#000" stroke-width="1.8" fill="none"/><path d="M359.1 21.8L350.6 30.9L346.7 22.5z" fill="#000"/><path d="M206.2 93.6L214.7 84.5L218.6 92.9z" fill="#000"/>
<path d="M361.2 40.4L367.8 89.2" stroke="#000" stroke-width="1.8" fill="none"/><path d="M368.6 95.1L362.5 84.3L371.6 83.1z" fill="#000"/><path d="M360.4 34.5L366.5 45.3L357.4 46.5z" fill="#000"/>
<path d="M381.6 28L765.9 306" stroke="#000" stroke-width="1.8" fill="none"/><path d="M770.8 309.5L758.8 306.5L764.2 299z" fill="#000"/><path d="M376.7 24.5L388.7 27.5L383.3 35z" fill="#000"/>
<path d="M599.3 76.8L741.4 10.1" stroke="#000" stroke-width="1.8" fill="none"/><path d="M746.8 7.6L738.3 16.6L734.4 8.3z" fill="#000"/><path d="M593.9 79.3L602.4 70.3L606.3 78.6z" fill="#000"/>
<path d="M748.1 26.7L755 75.6" stroke="#000" stroke-width="1.8" fill="none"/><path d="M755.8 81.5L749.6 70.7L758.8 69.5z" fill="#000"/><path d="M747.3 20.8L753.5 31.6L744.3 32.8z" fill="#000"/>
<path d="M768.9 11.7L934.9 131.5" stroke="#000" stroke-width="1.8" fill="none"/><path d="M939.8 135L927.8 132L933.2 124.5z" fill="#000"/><path d="M764 8.2L776 11.2L770.6 18.7z" fill="#000"/>
<text transform="translate(79 202) rotate(-25.5)" font-size="17.5" text-anchor="middle">&#916;(<tspan class="it">r&#952;</tspan>)<tspan dy="-6" font-size="11.5">+</tspan><tspan dy="6"> = 200</tspan></text>
<text transform="translate(276 50) rotate(-25.5)" font-size="17.5" text-anchor="middle">&#916;(<tspan class="it">r&#952;</tspan>)<tspan dy="-6" font-size="11.5">+</tspan><tspan dy="6"> = 200</tspan></text>
<text transform="translate(661 37) rotate(-25.5)" font-size="17.5" text-anchor="middle">&#916;(<tspan class="it">r&#952;</tspan>)<tspan dy="-6" font-size="11.5">+</tspan><tspan dy="6"> = 200</tspan></text>
<text x="94.5" y="231.3" font-size="17.0">&#916;<tspan class="it">y</tspan><tspan dy="-6" font-size="10.5">+</tspan><tspan dy="6" dx="5.5">=</tspan><tspan dx="3">100</tspan></text>
<text x="293" y="80.2" font-size="17.0">&#916;<tspan class="it">y</tspan><tspan dy="-6" font-size="10.5">+</tspan><tspan dy="6" dx="5.5">=</tspan><tspan dx="3">100</tspan></text>
<text x="680.6" y="67.4" font-size="17.0">&#916;<tspan class="it">y</tspan><tspan dy="-6" font-size="10.5">+</tspan><tspan dy="6" dx="5.5">=</tspan><tspan dx="3">100</tspan></text>
<text transform="translate(250.2 258.6) rotate(36.6)" font-size="16.5" text-anchor="middle">&#916;<tspan class="it">x</tspan><tspan dy="-6" font-size="10.5">+</tspan><tspan dy="6" dx="3.2">=</tspan><tspan dx="2.6">300</tspan></text>
<text transform="translate(524 159.8) rotate(35.2)" font-size="16.5" text-anchor="middle">&#916;<tspan class="it">x</tspan><tspan dy="-6" font-size="10.5">+</tspan><tspan dy="6" dx="3.2">=</tspan><tspan dx="2.6">600</tspan></text>
<text transform="translate(822 85) rotate(36)" font-size="16.5" text-anchor="middle">&#916;<tspan class="it">x</tspan><tspan dy="-6" font-size="10.5">+</tspan><tspan dy="6" dx="3.2">=</tspan><tspan dx="2.6">300</tspan></text>
<text x="84.5" y="76" font-size="23.5"><tspan class="it">Q</tspan><tspan dy="-9" font-size="14">*</tspan><tspan dy="9"> = 0.2</tspan></text>
<path d="M74.6 85L173 85L352 168" stroke="#000" stroke-width="1.9" fill="none" stroke-linejoin="miter"/>
<text x="122" y="115.5" font-size="24" class="it">EP<tspan dy="7" dx="-2.4" font-size="14">l</tspan></text>
<path d="M107.2 122.8L178 122.8L350 172" stroke="#000" stroke-width="1.8" fill="none" stroke-dasharray="6.5 4"/>
<text x="484.4" y="76" font-size="23.5"><tspan class="it">Q</tspan><tspan dy="-9" font-size="14">*</tspan><tspan dy="9"> = 0.1</tspan></text>
<path d="M473.2 85L571.5 85L719.3 170" stroke="#000" stroke-width="1.9" fill="none" stroke-linejoin="miter"/>
<path d="M571.5 85L696.5 175.5" stroke="#000" stroke-width="1.9" fill="none" stroke-linejoin="miter"/>
<text x="545.3" y="115.5" font-size="24" class="it">EP<tspan dy="6" dx="-2.0" font-size="14">s</tspan></text>
<path d="M529.8 124L601 124L688.5 170" stroke="#000" stroke-width="1.8" fill="none" stroke-dasharray="6.5 4"/>
<text x="872.8" y="303.5" font-size="23.5"><tspan class="it">Q</tspan><tspan dy="-9" font-size="14">*</tspan><tspan dy="9"> = 0.1</tspan></text>
<path d="M961.4 312.2L863.9 312.2L760.3 134.2" stroke="#000" stroke-width="1.9" fill="none" stroke-linejoin="miter"/>
<text x="862.3" y="358.7" font-size="24" class="it">EP<tspan dy="7" dx="-2.4" font-size="14">l</tspan></text>
<path d="M915 367.6L844.6 367.6L760 168" stroke="#000" stroke-width="1.8" fill="none" stroke-dasharray="6.5 4"/>
<text x="75.2" y="433.8" font-size="24" class="it">BF<tspan dy="7" dx="0.4" font-size="14">l</tspan></text>
<path d="M56 442.8L125.8 442.8L150 330.7" stroke="#000" stroke-width="1.8" fill="none" stroke-dasharray="6.5 4"/>
<text x="49.9" y="478.3" font-size="23.5"><tspan class="it">Q</tspan><tspan dy="-9" font-size="14">*</tspan><tspan dy="9"> = 0.2</tspan></text>
<path d="M40.1 486.3L137.8 486.3L163 329" stroke="#000" stroke-width="1.9" fill="none" stroke-linejoin="miter"/>
<text x="450.7" y="433.7" font-size="24" class="it">BF<tspan dy="6" dx="-0.6" font-size="14">s</tspan></text>
<path d="M432.3 442.8L501.4 442.8L586 376.9" stroke="#000" stroke-width="1.8" fill="none" stroke-dasharray="6.5 4"/>
<text x="460.6" y="483.8" font-size="23.5"><tspan class="it">Q</tspan><tspan dy="-9" font-size="14">*</tspan><tspan dy="9"> = 0.2</tspan></text>
<path d="M450 492.2L548.4 492.2L601.3 372.3" stroke="#000" stroke-width="1.9" fill="none" stroke-linejoin="miter"/>
<ellipse cx="0" cy="0" rx="9.3" ry="13.3" transform="translate(152 319.6) rotate(-6)" fill="none" stroke="#000" stroke-width="1.8" stroke-dasharray="5 3"/>
<ellipse cx="0" cy="0" rx="25" ry="11" transform="translate(364.5 171.5) rotate(55)" fill="none" stroke="#000" stroke-width="1.8" stroke-dasharray="5 3"/>
<ellipse cx="0" cy="0" rx="18.3" ry="8" transform="translate(601.7 378.3) rotate(30)" fill="none" stroke="#000" stroke-width="1.8" stroke-dasharray="5 3"/>
<ellipse cx="0" cy="0" rx="12.6" ry="5.6" transform="translate(700.6 172) rotate(41)" fill="none" stroke="#000" stroke-width="1.8" stroke-dasharray="5 3"/>
<ellipse cx="0" cy="0" rx="30.3" ry="10.3" transform="translate(742 151) rotate(48)" fill="none" stroke="#000" stroke-width="1.8" stroke-dasharray="5 3"/>
</g>
<g id="cbar" shape-rendering="crispEdges">
<rect x="327.30" y="521" width="5.48" height="8.4" fill="#050589"/>
<rect x="332.48" y="521" width="5.48" height="8.4" fill="#050598"/>
<rect x="337.66" y="521" width="5.48" height="8.4" fill="#0505a7"/>
<rect x="342.83" y="521" width="5.48" height="8.4" fill="#0505b7"/>
<rect x="348.01" y="521" width="5.48" height="8.4" fill="#0505c6"/>
<rect x="353.19" y="521" width="5.48" height="8.4" fill="#0505d6"/>
<rect x="358.37" y="521" width="5.48" height="8.4" fill="#0505e5"/>
<rect x="363.55" y="521" width="5.48" height="8.4" fill="#0505f5"/>
<rect x="368.73" y="521" width="5.48" height="8.4" fill="#050dfc"/>
<rect x="373.90" y="521" width="5.48" height="8.4" fill="#051cfc"/>
<rect x="379.08" y="521" width="5.48" height="8.4" fill="#052cfc"/>
<rect x="384.26" y="521" width="5.48" height="8.4" fill="#053bfc"/>
<rect x="389.44" y="521" width="5.48" height="8.4" fill="#054bfc"/>
<rect x="394.62" y="521" width="5.48" height="8.4" fill="#055afc"/>
<rect x="399.79" y="521" width="5.48" height="8.4" fill="#056afc"/>
<rect x="404.97" y="521" width="5.48" height="8.4" fill="#0579fc"/>
<rect x="410.15" y="521" width="5.48" height="8.4" fill="#0589fc"/>
<rect x="415.33" y="521" width="5.48" height="8.4" fill="#0598fc"/>
<rect x="420.51" y="521" width="5.48" height="8.4" fill="#05a7fc"/>
<rect x="425.68" y="521" width="5.48" height="8.4" fill="#05b7fc"/>
<rect x="430.86" y="521" width="5.48" height="8.4" fill="#05c6fc"/>
<rect x="436.04" y="521" width="5.48" height="8.4" fill="#05d6fc"/>
<rect x="441.22" y="521" width="5.48" height="8.4" fill="#05e5fc"/>
<rect x="446.40" y="521" width="5.48" height="8.4" fill="#05f5fc"/>
<rect x="451.58" y="521" width="5.48" height="8.4" fill="#0dfcf5"/>
<rect x="456.75" y="521" width="5.48" height="8.4" fill="#1cfce5"/>
<rect x="461.93" y="521" width="5.48" height="8.4" fill="#2cfcd6"/>
<rect x="467.11" y="521" width="5.48" height="8.4" fill="#3bfcc6"/>
<rect x="472.29" y="521" width="5.48" height="8.4" fill="#4bfcb7"/>
<rect x="477.47" y="521" width="5.48" height="8.4" fill="#5afca7"/>
<rect x="482.64" y="521" width="5.48" height="8.4" fill="#6afc98"/>
<rect x="487.82" y="521" width="5.48" height="8.4" fill="#79fc89"/>
<rect x="493.00" y="521" width="5.48" height="8.4" fill="#89fc79"/>
<rect x="498.18" y="521" width="5.48" height="8.4" fill="#98fc6a"/>
<rect x="503.36" y="521" width="5.48" height="8.4" fill="#a7fc5a"/>
<rect x="508.53" y="521" width="5.48" height="8.4" fill="#b7fc4b"/>
<rect x="513.71" y="521" width="5.48" height="8.4" fill="#c6fc3b"/>
<rect x="518.89" y="521" width="5.48" height="8.4" fill="#d6fc2c"/>
<rect x="524.07" y="521" width="5.48" height="8.4" fill="#e5fc1c"/>
<rect x="529.25" y="521" width="5.48" height="8.4" fill="#f5fc0d"/>
<rect x="534.43" y="521" width="5.48" height="8.4" fill="#fcf505"/>
<rect x="539.60" y="521" width="5.48" height="8.4" fill="#fce505"/>
<rect x="544.78" y="521" width="5.48" height="8.4" fill="#fcd605"/>
<rect x="549.96" y="521" width="5.48" height="8.4" fill="#fcc605"/>
<rect x="555.14" y="521" width="5.48" height="8.4" fill="#fcb705"/>
<rect x="560.32" y="521" width="5.48" height="8.4" fill="#fca705"/>
<rect x="565.49" y="521" width="5.48" height="8.4" fill="#fc9805"/>
<rect x="570.67" y="521" width="5.48" height="8.4" fill="#fc8905"/>
<rect x="575.85" y="521" width="5.48" height="8.4" fill="#fc7905"/>
<rect x="581.03" y="521" width="5.48" height="8.4" fill="#fc6a05"/>
<rect x="586.21" y="521" width="5.48" height="8.4" fill="#fc5a05"/>
<rect x="591.38" y="521" width="5.48" height="8.4" fill="#fc4b05"/>
<rect x="596.56" y="521" width="5.48" height="8.4" fill="#fc3b05"/>
<rect x="601.74" y="521" width="5.48" height="8.4" fill="#fc2c05"/>
<rect x="606.92" y="521" width="5.48" height="8.4" fill="#fc1c05"/>
<rect x="612.10" y="521" width="5.48" height="8.4" fill="#fc0d05"/>
<rect x="617.28" y="521" width="5.48" height="8.4" fill="#f50505"/>
<rect x="622.45" y="521" width="5.48" height="8.4" fill="#e50505"/>
<rect x="627.63" y="521" width="5.48" height="8.4" fill="#d60505"/>
<rect x="632.81" y="521" width="5.48" height="8.4" fill="#c60505"/>
<rect x="637.99" y="521" width="5.48" height="8.4" fill="#b70505"/>
<rect x="643.17" y="521" width="5.48" height="8.4" fill="#a70505"/>
<rect x="648.34" y="521" width="5.48" height="8.4" fill="#980505"/>
<rect x="653.52" y="521" width="5.48" height="8.4" fill="#890505"/>
<path d="M327.3 529.4H658.7" stroke="#333" stroke-width="0.7"/>
<path d="M393.6 529.4v-2.6" stroke="#222" stroke-width="0.7"/>
<path d="M459.9 529.4v-2.6" stroke="#222" stroke-width="0.7"/>
<path d="M526.1 529.4v-2.6" stroke="#222" stroke-width="0.7"/>
<path d="M592.4 529.4v-2.6" stroke="#222" stroke-width="0.7"/>
<text x="326.3" y="550.9" font-size="18" text-anchor="middle">-1</text>
<text x="393.6" y="550.9" font-size="18" text-anchor="middle">0</text>
<text x="459.9" y="550.9" font-size="18" text-anchor="middle">1</text>
<text x="526.1" y="550.9" font-size="18" text-anchor="middle">2</text>
<text x="592.4" y="550.9" font-size="18" text-anchor="middle">3</text>
<text x="658.7" y="550.9" font-size="18" text-anchor="middle">4</text>
<text x="302.5" y="530.7" font-size="25" class="it">u</text>
<text x="317" y="519.8" font-size="15">+</text>
<text x="316.6" y="537.7" font-size="14" class="it">x</text>
</g>
</svg></body></html>
